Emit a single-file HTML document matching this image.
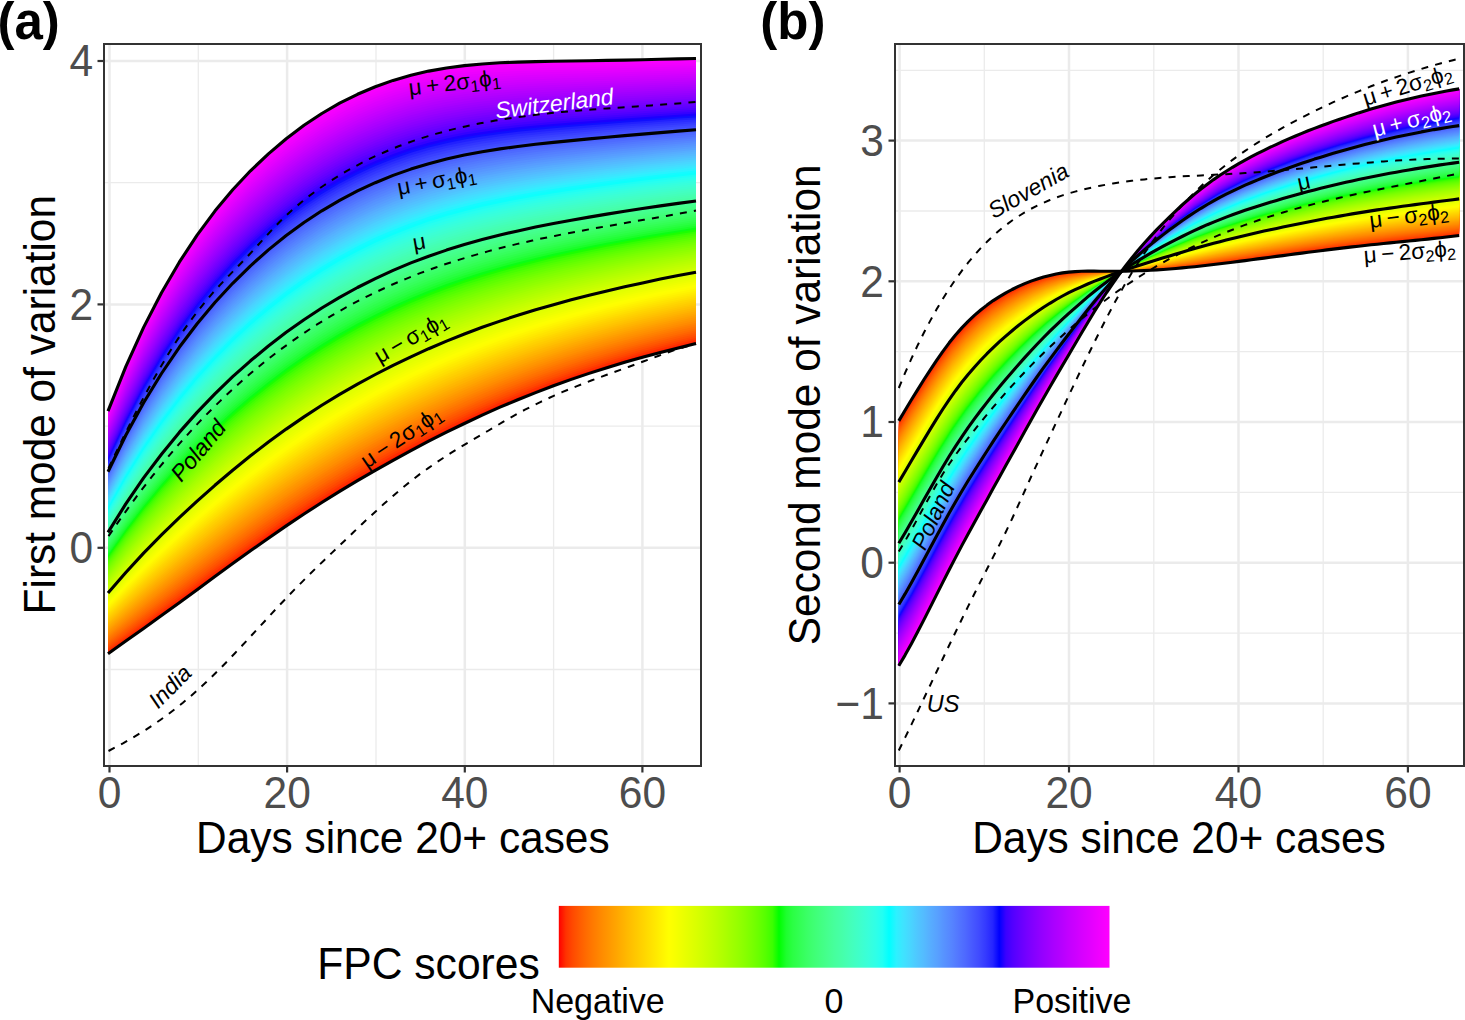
<!DOCTYPE html>
<html><head><meta charset="utf-8"><style>html,body{margin:0;padding:0;background:#fff;overflow:hidden;}svg{display:block;}text{font-family:"Liberation Sans", sans-serif;}</style></head><body>
<svg width="1465" height="1020" viewBox="0 0 1465 1020">
<rect width="1465" height="1020" fill="#fff"/>
<line x1="198.3" y1="44" x2="198.3" y2="766" stroke="#ebebeb" stroke-width="1.3"/>
<line x1="376.0" y1="44" x2="376.0" y2="766" stroke="#ebebeb" stroke-width="1.3"/>
<line x1="553.6" y1="44" x2="553.6" y2="766" stroke="#ebebeb" stroke-width="1.3"/>
<line x1="104" y1="669.5" x2="701" y2="669.5" stroke="#ebebeb" stroke-width="1.3"/>
<line x1="104" y1="426.1" x2="701" y2="426.1" stroke="#ebebeb" stroke-width="1.3"/>
<line x1="104" y1="182.7" x2="701" y2="182.7" stroke="#ebebeb" stroke-width="1.3"/>
<line x1="109.5" y1="44" x2="109.5" y2="766" stroke="#ebebeb" stroke-width="2.5"/>
<line x1="287.1" y1="44" x2="287.1" y2="766" stroke="#ebebeb" stroke-width="2.5"/>
<line x1="464.8" y1="44" x2="464.8" y2="766" stroke="#ebebeb" stroke-width="2.5"/>
<line x1="642.4" y1="44" x2="642.4" y2="766" stroke="#ebebeb" stroke-width="2.5"/>
<line x1="104" y1="547.8" x2="701" y2="547.8" stroke="#ebebeb" stroke-width="2.5"/>
<line x1="104" y1="304.4" x2="701" y2="304.4" stroke="#ebebeb" stroke-width="2.5"/>
<line x1="104" y1="61.0" x2="701" y2="61.0" stroke="#ebebeb" stroke-width="2.5"/>
<polygon points="108.0,653.7 125.8,641.1 143.6,628.4 161.5,615.6 179.3,602.7 197.1,589.7 214.9,576.6 232.7,563.6 250.5,550.8 268.4,538.2 286.2,525.9 304.0,514.0 321.8,502.5 339.6,491.4 357.5,480.7 375.3,470.4 393.1,460.3 410.9,450.6 428.7,441.2 446.5,432.2 464.4,423.5 482.2,415.1 500.0,407.2 517.8,399.7 535.6,392.6 553.5,385.8 571.3,379.4 589.1,373.4 606.9,367.7 624.7,362.3 642.5,357.2 660.4,352.4 678.2,347.9 696.0,343.6 696.0,58.5 678.2,58.9 660.4,59.3 642.5,59.7 624.7,60.1 606.9,60.4 589.1,60.7 571.3,61.0 553.5,61.2 535.6,61.6 517.8,62.1 500.0,62.8 482.2,64.0 464.4,65.6 446.5,68.0 428.7,71.1 410.9,75.2 393.1,80.4 375.3,86.8 357.5,94.3 339.6,103.2 321.8,113.5 304.0,125.3 286.2,138.7 268.4,153.9 250.5,170.8 232.7,189.8 214.9,211.1 197.1,235.1 179.3,262.2 161.5,292.8 143.6,327.4 125.8,366.7 108.0,411.1" fill="#ff1600"/>
<polygon points="108.0,652.0 125.8,639.2 143.6,626.4 161.5,613.4 179.3,600.4 197.1,587.3 214.9,574.2 232.7,561.2 250.5,548.3 268.4,535.6 286.2,523.3 304.0,511.4 321.8,500.0 339.6,488.9 357.5,478.2 375.3,467.8 393.1,457.8 410.9,448.1 428.7,438.8 446.5,429.7 464.4,421.1 482.2,412.8 500.0,404.9 517.8,397.4 535.6,390.4 553.5,383.7 571.3,377.3 589.1,371.3 606.9,365.7 624.7,360.3 642.5,355.3 660.4,350.5 678.2,346.0 696.0,341.7 696.0,58.5 678.2,58.9 660.4,59.3 642.5,59.7 624.7,60.1 606.9,60.4 589.1,60.7 571.3,61.0 553.5,61.2 535.6,61.6 517.8,62.1 500.0,62.8 482.2,64.0 464.4,65.6 446.5,68.0 428.7,71.1 410.9,75.2 393.1,80.4 375.3,86.8 357.5,94.3 339.6,103.2 321.8,113.5 304.0,125.3 286.2,138.7 268.4,153.9 250.5,170.8 232.7,189.8 214.9,211.1 197.1,235.1 179.3,262.2 161.5,292.8 143.6,327.4 125.8,366.7 108.0,411.1" fill="#ff2c00"/>
<polygon points="108.0,650.4 125.8,637.4 143.6,624.4 161.5,611.3 179.3,598.2 197.1,585.0 214.9,571.8 232.7,558.7 250.5,545.7 268.4,533.1 286.2,520.8 304.0,508.9 321.8,497.4 339.6,486.3 357.5,475.6 375.3,465.3 393.1,455.3 410.9,445.6 428.7,436.3 446.5,427.3 464.4,418.7 482.2,410.5 500.0,402.6 517.8,395.2 535.6,388.1 553.5,381.5 571.3,375.2 589.1,369.2 606.9,363.6 624.7,358.3 642.5,353.3 660.4,348.5 678.2,344.0 696.0,339.8 696.0,58.5 678.2,58.9 660.4,59.3 642.5,59.7 624.7,60.1 606.9,60.4 589.1,60.7 571.3,61.0 553.5,61.2 535.6,61.6 517.8,62.1 500.0,62.8 482.2,64.0 464.4,65.6 446.5,68.0 428.7,71.1 410.9,75.2 393.1,80.4 375.3,86.8 357.5,94.3 339.6,103.2 321.8,113.5 304.0,125.3 286.2,138.7 268.4,153.9 250.5,170.8 232.7,189.8 214.9,211.1 197.1,235.1 179.3,262.2 161.5,292.8 143.6,327.4 125.8,366.7 108.0,411.1" fill="#ff3b00"/>
<polygon points="108.0,648.8 125.8,635.6 143.6,622.4 161.5,609.1 179.3,595.9 197.1,582.6 214.9,569.3 232.7,556.2 250.5,543.2 268.4,530.5 286.2,518.2 304.0,506.3 321.8,494.8 339.6,483.7 357.5,473.0 375.3,462.7 393.1,452.7 410.9,443.1 428.7,433.8 446.5,424.9 464.4,416.3 482.2,408.1 500.0,400.3 517.8,392.9 535.6,385.9 553.5,379.3 571.3,373.1 589.1,367.2 606.9,361.6 624.7,356.3 642.5,351.3 660.4,346.6 678.2,342.1 696.0,337.9 696.0,58.5 678.2,58.9 660.4,59.3 642.5,59.7 624.7,60.1 606.9,60.4 589.1,60.7 571.3,61.0 553.5,61.2 535.6,61.6 517.8,62.1 500.0,62.8 482.2,64.0 464.4,65.6 446.5,68.0 428.7,71.1 410.9,75.2 393.1,80.4 375.3,86.8 357.5,94.3 339.6,103.2 321.8,113.5 304.0,125.3 286.2,138.7 268.4,153.9 250.5,170.8 232.7,189.8 214.9,211.1 197.1,235.1 179.3,262.2 161.5,292.8 143.6,327.4 125.8,366.7 108.0,411.1" fill="#ff4700"/>
<polygon points="108.0,647.2 125.8,633.8 143.6,620.4 161.5,607.0 179.3,593.6 197.1,580.2 214.9,566.9 232.7,553.7 250.5,540.7 268.4,527.9 286.2,515.6 304.0,503.7 321.8,492.2 339.6,481.1 357.5,470.4 375.3,460.1 393.1,450.2 410.9,440.6 428.7,431.4 446.5,422.5 464.4,413.9 482.2,405.8 500.0,398.0 517.8,390.7 535.6,383.7 553.5,377.2 571.3,370.9 589.1,365.1 606.9,359.5 624.7,354.3 642.5,349.3 660.4,344.6 678.2,340.2 696.0,336.0 696.0,58.5 678.2,58.9 660.4,59.3 642.5,59.7 624.7,60.1 606.9,60.4 589.1,60.7 571.3,61.0 553.5,61.2 535.6,61.6 517.8,62.1 500.0,62.8 482.2,64.0 464.4,65.6 446.5,68.0 428.7,71.1 410.9,75.2 393.1,80.4 375.3,86.8 357.5,94.3 339.6,103.2 321.8,113.5 304.0,125.3 286.2,138.7 268.4,153.9 250.5,170.8 232.7,189.8 214.9,211.1 197.1,235.1 179.3,262.2 161.5,292.8 143.6,327.4 125.8,366.7 108.0,411.1" fill="#ff5100"/>
<polygon points="108.0,645.6 125.8,631.9 143.6,618.3 161.5,604.8 179.3,591.3 197.1,577.9 214.9,564.5 232.7,551.2 250.5,538.1 268.4,525.4 286.2,513.0 304.0,501.1 321.8,489.6 339.6,478.5 357.5,467.8 375.3,457.6 393.1,447.7 410.9,438.1 428.7,428.9 446.5,420.0 464.4,411.5 482.2,403.4 500.0,395.7 517.8,388.4 535.6,381.5 553.5,375.0 571.3,368.8 589.1,363.0 606.9,357.5 624.7,352.2 642.5,347.3 660.4,342.7 678.2,338.2 696.0,334.1 696.0,58.5 678.2,58.9 660.4,59.3 642.5,59.7 624.7,60.1 606.9,60.4 589.1,60.7 571.3,61.0 553.5,61.2 535.6,61.6 517.8,62.1 500.0,62.8 482.2,64.0 464.4,65.6 446.5,68.0 428.7,71.1 410.9,75.2 393.1,80.4 375.3,86.8 357.5,94.3 339.6,103.2 321.8,113.5 304.0,125.3 286.2,138.7 268.4,153.9 250.5,170.8 232.7,189.8 214.9,211.1 197.1,235.1 179.3,262.2 161.5,292.8 143.6,327.4 125.8,366.7 108.0,411.1" fill="#ff5a00"/>
<polygon points="108.0,644.0 125.8,630.1 143.6,616.3 161.5,602.7 179.3,589.1 197.1,575.5 214.9,562.0 232.7,548.7 250.5,535.6 268.4,522.8 286.2,510.4 304.0,498.5 321.8,487.0 339.6,475.9 357.5,465.3 375.3,455.0 393.1,445.1 410.9,435.6 428.7,426.4 446.5,417.6 464.4,409.1 482.2,401.1 500.0,393.4 517.8,386.2 535.6,379.3 553.5,372.8 571.3,366.7 589.1,360.9 606.9,355.4 624.7,350.2 642.5,345.3 660.4,340.7 678.2,336.3 696.0,332.2 696.0,58.5 678.2,58.9 660.4,59.3 642.5,59.7 624.7,60.1 606.9,60.4 589.1,60.7 571.3,61.0 553.5,61.2 535.6,61.6 517.8,62.1 500.0,62.8 482.2,64.0 464.4,65.6 446.5,68.0 428.7,71.1 410.9,75.2 393.1,80.4 375.3,86.8 357.5,94.3 339.6,103.2 321.8,113.5 304.0,125.3 286.2,138.7 268.4,153.9 250.5,170.8 232.7,189.8 214.9,211.1 197.1,235.1 179.3,262.2 161.5,292.8 143.6,327.4 125.8,366.7 108.0,411.1" fill="#ff6300"/>
<polygon points="108.0,642.3 125.8,628.3 143.6,614.3 161.5,600.5 179.3,586.8 197.1,573.1 214.9,559.6 232.7,546.2 250.5,533.1 268.4,520.3 286.2,507.9 304.0,495.9 321.8,484.4 339.6,473.3 357.5,462.7 375.3,452.5 393.1,442.6 410.9,433.1 428.7,424.0 446.5,415.2 464.4,406.8 482.2,398.8 500.0,391.1 517.8,383.9 535.6,377.1 553.5,370.7 571.3,364.6 589.1,358.8 606.9,353.4 624.7,348.2 642.5,343.4 660.4,338.7 678.2,334.4 696.0,330.3 696.0,58.5 678.2,58.9 660.4,59.3 642.5,59.7 624.7,60.1 606.9,60.4 589.1,60.7 571.3,61.0 553.5,61.2 535.6,61.6 517.8,62.1 500.0,62.8 482.2,64.0 464.4,65.6 446.5,68.0 428.7,71.1 410.9,75.2 393.1,80.4 375.3,86.8 357.5,94.3 339.6,103.2 321.8,113.5 304.0,125.3 286.2,138.7 268.4,153.9 250.5,170.8 232.7,189.8 214.9,211.1 197.1,235.1 179.3,262.2 161.5,292.8 143.6,327.4 125.8,366.7 108.0,411.1" fill="#ff6c00"/>
<polygon points="108.0,640.7 125.8,626.4 143.6,612.3 161.5,598.4 179.3,584.5 197.1,570.8 214.9,557.1 232.7,543.7 250.5,530.5 268.4,517.7 286.2,505.3 304.0,493.3 321.8,481.8 339.6,470.7 357.5,460.1 375.3,449.9 393.1,440.1 410.9,430.6 428.7,421.5 446.5,412.7 464.4,404.4 482.2,396.4 500.0,388.8 517.8,381.7 535.6,374.9 553.5,368.5 571.3,362.5 589.1,356.7 606.9,351.3 624.7,346.2 642.5,341.4 660.4,336.8 678.2,332.5 696.0,328.4 696.0,58.5 678.2,58.9 660.4,59.3 642.5,59.7 624.7,60.1 606.9,60.4 589.1,60.7 571.3,61.0 553.5,61.2 535.6,61.6 517.8,62.1 500.0,62.8 482.2,64.0 464.4,65.6 446.5,68.0 428.7,71.1 410.9,75.2 393.1,80.4 375.3,86.8 357.5,94.3 339.6,103.2 321.8,113.5 304.0,125.3 286.2,138.7 268.4,153.9 250.5,170.8 232.7,189.8 214.9,211.1 197.1,235.1 179.3,262.2 161.5,292.8 143.6,327.4 125.8,366.7 108.0,411.1" fill="#ff7300"/>
<polygon points="108.0,639.1 125.8,624.6 143.6,610.3 161.5,596.2 179.3,582.3 197.1,568.4 214.9,554.7 232.7,541.2 250.5,528.0 268.4,515.1 286.2,502.7 304.0,490.7 321.8,479.2 339.6,468.2 357.5,457.5 375.3,447.3 393.1,437.5 410.9,428.1 428.7,419.0 446.5,410.3 464.4,402.0 482.2,394.1 500.0,386.6 517.8,379.4 535.6,372.7 553.5,366.3 571.3,360.3 589.1,354.6 606.9,349.3 624.7,344.2 642.5,339.4 660.4,334.8 678.2,330.5 696.0,326.5 696.0,58.5 678.2,58.9 660.4,59.3 642.5,59.7 624.7,60.1 606.9,60.4 589.1,60.7 571.3,61.0 553.5,61.2 535.6,61.6 517.8,62.1 500.0,62.8 482.2,64.0 464.4,65.6 446.5,68.0 428.7,71.1 410.9,75.2 393.1,80.4 375.3,86.8 357.5,94.3 339.6,103.2 321.8,113.5 304.0,125.3 286.2,138.7 268.4,153.9 250.5,170.8 232.7,189.8 214.9,211.1 197.1,235.1 179.3,262.2 161.5,292.8 143.6,327.4 125.8,366.7 108.0,411.1" fill="#ff7b00"/>
<polygon points="108.0,637.5 125.8,622.8 143.6,608.3 161.5,594.1 179.3,580.0 197.1,566.1 214.9,552.3 232.7,538.7 250.5,525.5 268.4,512.6 286.2,500.1 304.0,488.1 321.8,476.6 339.6,465.6 357.5,455.0 375.3,444.8 393.1,435.0 410.9,425.6 428.7,416.6 446.5,407.9 464.4,399.6 482.2,391.7 500.0,384.3 517.8,377.2 535.6,370.5 553.5,364.2 571.3,358.2 589.1,352.6 606.9,347.2 624.7,342.2 642.5,337.4 660.4,332.9 678.2,328.6 696.0,324.6 696.0,58.5 678.2,58.9 660.4,59.3 642.5,59.7 624.7,60.1 606.9,60.4 589.1,60.7 571.3,61.0 553.5,61.2 535.6,61.6 517.8,62.1 500.0,62.8 482.2,64.0 464.4,65.6 446.5,68.0 428.7,71.1 410.9,75.2 393.1,80.4 375.3,86.8 357.5,94.3 339.6,103.2 321.8,113.5 304.0,125.3 286.2,138.7 268.4,153.9 250.5,170.8 232.7,189.8 214.9,211.1 197.1,235.1 179.3,262.2 161.5,292.8 143.6,327.4 125.8,366.7 108.0,411.1" fill="#ff8200"/>
<polygon points="108.0,635.9 125.8,620.9 143.6,606.3 161.5,591.9 179.3,577.7 197.1,563.7 214.9,549.8 232.7,536.2 250.5,522.9 268.4,510.0 286.2,497.5 304.0,485.5 321.8,474.0 339.6,463.0 357.5,452.4 375.3,442.2 393.1,432.5 410.9,423.1 428.7,414.1 446.5,405.5 464.4,397.2 482.2,389.4 500.0,382.0 517.8,374.9 535.6,368.3 553.5,362.0 571.3,356.1 589.1,350.5 606.9,345.2 624.7,340.2 642.5,335.4 660.4,330.9 678.2,326.7 696.0,322.7 696.0,58.5 678.2,58.9 660.4,59.3 642.5,59.7 624.7,60.1 606.9,60.4 589.1,60.7 571.3,61.0 553.5,61.2 535.6,61.6 517.8,62.1 500.0,62.8 482.2,64.0 464.4,65.6 446.5,68.0 428.7,71.1 410.9,75.2 393.1,80.4 375.3,86.8 357.5,94.3 339.6,103.2 321.8,113.5 304.0,125.3 286.2,138.7 268.4,153.9 250.5,170.8 232.7,189.8 214.9,211.1 197.1,235.1 179.3,262.2 161.5,292.8 143.6,327.4 125.8,366.7 108.0,411.1" fill="#ff8a00"/>
<polygon points="108.0,634.3 125.8,619.1 143.6,604.3 161.5,589.8 179.3,575.5 197.1,561.3 214.9,547.4 232.7,533.7 250.5,520.4 268.4,507.4 286.2,495.0 304.0,482.9 321.8,471.4 339.6,460.4 357.5,449.8 375.3,439.7 393.1,429.9 410.9,420.6 428.7,411.6 446.5,403.0 464.4,394.8 482.2,387.0 500.0,379.7 517.8,372.7 535.6,366.1 553.5,359.8 571.3,354.0 589.1,348.4 606.9,343.1 624.7,338.1 642.5,333.4 660.4,329.0 678.2,324.8 696.0,320.8 696.0,58.5 678.2,58.9 660.4,59.3 642.5,59.7 624.7,60.1 606.9,60.4 589.1,60.7 571.3,61.0 553.5,61.2 535.6,61.6 517.8,62.1 500.0,62.8 482.2,64.0 464.4,65.6 446.5,68.0 428.7,71.1 410.9,75.2 393.1,80.4 375.3,86.8 357.5,94.3 339.6,103.2 321.8,113.5 304.0,125.3 286.2,138.7 268.4,153.9 250.5,170.8 232.7,189.8 214.9,211.1 197.1,235.1 179.3,262.2 161.5,292.8 143.6,327.4 125.8,366.7 108.0,411.1" fill="#ff9100"/>
<polygon points="108.0,632.6 125.8,617.3 143.6,602.3 161.5,587.6 179.3,573.2 197.1,559.0 214.9,545.0 232.7,531.2 250.5,517.9 268.4,504.9 286.2,492.4 304.0,480.3 321.8,468.8 339.6,457.8 357.5,447.2 375.3,437.1 393.1,427.4 410.9,418.1 428.7,409.2 446.5,400.6 464.4,392.4 482.2,384.7 500.0,377.4 517.8,370.4 535.6,363.9 553.5,357.7 571.3,351.8 589.1,346.3 606.9,341.1 624.7,336.1 642.5,331.4 660.4,327.0 678.2,322.8 696.0,318.9 696.0,58.5 678.2,58.9 660.4,59.3 642.5,59.7 624.7,60.1 606.9,60.4 589.1,60.7 571.3,61.0 553.5,61.2 535.6,61.6 517.8,62.1 500.0,62.8 482.2,64.0 464.4,65.6 446.5,68.0 428.7,71.1 410.9,75.2 393.1,80.4 375.3,86.8 357.5,94.3 339.6,103.2 321.8,113.5 304.0,125.3 286.2,138.7 268.4,153.9 250.5,170.8 232.7,189.8 214.9,211.1 197.1,235.1 179.3,262.2 161.5,292.8 143.6,327.4 125.8,366.7 108.0,411.1" fill="#ff9700"/>
<polygon points="108.0,631.0 125.8,615.5 143.6,600.3 161.5,585.5 179.3,570.9 197.1,556.6 214.9,542.5 232.7,528.8 250.5,515.3 268.4,502.3 286.2,489.8 304.0,477.8 321.8,466.2 339.6,455.2 357.5,444.7 375.3,434.6 393.1,424.9 410.9,415.6 428.7,406.7 446.5,398.2 464.4,390.1 482.2,382.4 500.0,375.1 517.8,368.2 535.6,361.7 553.5,355.5 571.3,349.7 589.1,344.2 606.9,339.0 624.7,334.1 642.5,329.5 660.4,325.1 678.2,320.9 696.0,317.0 696.0,58.5 678.2,58.9 660.4,59.3 642.5,59.7 624.7,60.1 606.9,60.4 589.1,60.7 571.3,61.0 553.5,61.2 535.6,61.6 517.8,62.1 500.0,62.8 482.2,64.0 464.4,65.6 446.5,68.0 428.7,71.1 410.9,75.2 393.1,80.4 375.3,86.8 357.5,94.3 339.6,103.2 321.8,113.5 304.0,125.3 286.2,138.7 268.4,153.9 250.5,170.8 232.7,189.8 214.9,211.1 197.1,235.1 179.3,262.2 161.5,292.8 143.6,327.4 125.8,366.7 108.0,411.1" fill="#ff9e00"/>
<polygon points="108.0,629.4 125.8,613.6 143.6,598.3 161.5,583.3 179.3,568.6 197.1,554.2 214.9,540.1 232.7,526.3 250.5,512.8 268.4,499.8 286.2,487.2 304.0,475.2 321.8,463.6 339.6,452.6 357.5,442.1 375.3,432.0 393.1,422.4 410.9,413.1 428.7,404.2 446.5,395.8 464.4,387.7 482.2,380.0 500.0,372.8 517.8,365.9 535.6,359.5 553.5,353.4 571.3,347.6 589.1,342.1 606.9,337.0 624.7,332.1 642.5,327.5 660.4,323.1 678.2,319.0 696.0,315.1 696.0,58.5 678.2,58.9 660.4,59.3 642.5,59.7 624.7,60.1 606.9,60.4 589.1,60.7 571.3,61.0 553.5,61.2 535.6,61.6 517.8,62.1 500.0,62.8 482.2,64.0 464.4,65.6 446.5,68.0 428.7,71.1 410.9,75.2 393.1,80.4 375.3,86.8 357.5,94.3 339.6,103.2 321.8,113.5 304.0,125.3 286.2,138.7 268.4,153.9 250.5,170.8 232.7,189.8 214.9,211.1 197.1,235.1 179.3,262.2 161.5,292.8 143.6,327.4 125.8,366.7 108.0,411.1" fill="#ffa500"/>
<polygon points="108.0,627.8 125.8,611.8 143.6,596.3 161.5,581.2 179.3,566.4 197.1,551.9 214.9,537.7 232.7,523.8 250.5,510.3 268.4,497.2 286.2,484.6 304.0,472.6 321.8,461.0 339.6,450.0 357.5,439.5 375.3,429.4 393.1,419.8 410.9,410.6 428.7,401.8 446.5,393.3 464.4,385.3 482.2,377.7 500.0,370.5 517.8,363.7 535.6,357.3 553.5,351.2 571.3,345.5 589.1,340.1 606.9,334.9 624.7,330.1 642.5,325.5 660.4,321.2 678.2,317.1 696.0,313.2 696.0,58.5 678.2,58.9 660.4,59.3 642.5,59.7 624.7,60.1 606.9,60.4 589.1,60.7 571.3,61.0 553.5,61.2 535.6,61.6 517.8,62.1 500.0,62.8 482.2,64.0 464.4,65.6 446.5,68.0 428.7,71.1 410.9,75.2 393.1,80.4 375.3,86.8 357.5,94.3 339.6,103.2 321.8,113.5 304.0,125.3 286.2,138.7 268.4,153.9 250.5,170.8 232.7,189.8 214.9,211.1 197.1,235.1 179.3,262.2 161.5,292.8 143.6,327.4 125.8,366.7 108.0,411.1" fill="#ffab00"/>
<polygon points="108.0,626.2 125.8,610.0 143.6,594.3 161.5,579.0 179.3,564.1 197.1,549.5 214.9,535.2 232.7,521.3 250.5,507.7 268.4,494.6 286.2,482.0 304.0,470.0 321.8,458.5 339.6,447.4 357.5,436.9 375.3,426.9 393.1,417.3 410.9,408.1 428.7,399.3 446.5,390.9 464.4,382.9 482.2,375.3 500.0,368.2 517.8,361.4 535.6,355.0 553.5,349.0 571.3,343.3 589.1,338.0 606.9,332.9 624.7,328.1 642.5,323.5 660.4,319.2 678.2,315.1 696.0,311.3 696.0,58.5 678.2,58.9 660.4,59.3 642.5,59.7 624.7,60.1 606.9,60.4 589.1,60.7 571.3,61.0 553.5,61.2 535.6,61.6 517.8,62.1 500.0,62.8 482.2,64.0 464.4,65.6 446.5,68.0 428.7,71.1 410.9,75.2 393.1,80.4 375.3,86.8 357.5,94.3 339.6,103.2 321.8,113.5 304.0,125.3 286.2,138.7 268.4,153.9 250.5,170.8 232.7,189.8 214.9,211.1 197.1,235.1 179.3,262.2 161.5,292.8 143.6,327.4 125.8,366.7 108.0,411.1" fill="#ffb200"/>
<polygon points="108.0,624.5 125.8,608.1 143.6,592.3 161.5,576.8 179.3,561.8 197.1,547.1 214.9,532.8 232.7,518.8 250.5,505.2 268.4,492.1 286.2,479.5 304.0,467.4 321.8,455.9 339.6,444.9 357.5,434.4 375.3,424.3 393.1,414.8 410.9,405.6 428.7,396.8 446.5,388.5 464.4,380.5 482.2,373.0 500.0,365.9 517.8,359.2 535.6,352.8 553.5,346.9 571.3,341.2 589.1,335.9 606.9,330.8 624.7,326.1 642.5,321.5 660.4,317.3 678.2,313.2 696.0,309.4 696.0,58.5 678.2,58.9 660.4,59.3 642.5,59.7 624.7,60.1 606.9,60.4 589.1,60.7 571.3,61.0 553.5,61.2 535.6,61.6 517.8,62.1 500.0,62.8 482.2,64.0 464.4,65.6 446.5,68.0 428.7,71.1 410.9,75.2 393.1,80.4 375.3,86.8 357.5,94.3 339.6,103.2 321.8,113.5 304.0,125.3 286.2,138.7 268.4,153.9 250.5,170.8 232.7,189.8 214.9,211.1 197.1,235.1 179.3,262.2 161.5,292.8 143.6,327.4 125.8,366.7 108.0,411.1" fill="#ffb800"/>
<polygon points="108.0,622.9 125.8,606.3 143.6,590.3 161.5,574.7 179.3,559.6 197.1,544.8 214.9,530.3 232.7,516.3 250.5,502.7 268.4,489.5 286.2,476.9 304.0,464.8 321.8,453.3 339.6,442.3 357.5,431.8 375.3,421.8 393.1,412.2 410.9,403.1 428.7,394.4 446.5,386.0 464.4,378.1 482.2,370.7 500.0,363.6 517.8,356.9 535.6,350.6 553.5,344.7 571.3,339.1 589.1,333.8 606.9,328.8 624.7,324.0 642.5,319.5 660.4,315.3 678.2,311.3 696.0,307.5 696.0,58.5 678.2,58.9 660.4,59.3 642.5,59.7 624.7,60.1 606.9,60.4 589.1,60.7 571.3,61.0 553.5,61.2 535.6,61.6 517.8,62.1 500.0,62.8 482.2,64.0 464.4,65.6 446.5,68.0 428.7,71.1 410.9,75.2 393.1,80.4 375.3,86.8 357.5,94.3 339.6,103.2 321.8,113.5 304.0,125.3 286.2,138.7 268.4,153.9 250.5,170.8 232.7,189.8 214.9,211.1 197.1,235.1 179.3,262.2 161.5,292.8 143.6,327.4 125.8,366.7 108.0,411.1" fill="#ffbf00"/>
<polygon points="108.0,621.3 125.8,604.5 143.6,588.3 161.5,572.5 179.3,557.3 197.1,542.4 214.9,527.9 232.7,513.8 250.5,500.1 268.4,486.9 286.2,474.3 304.0,462.2 321.8,450.7 339.6,439.7 357.5,429.2 375.3,419.2 393.1,409.7 410.9,400.6 428.7,391.9 446.5,383.6 464.4,375.8 482.2,368.3 500.0,361.3 517.8,354.7 535.6,348.4 553.5,342.5 571.3,337.0 589.1,331.7 606.9,326.7 624.7,322.0 642.5,317.6 660.4,313.3 678.2,309.3 696.0,305.6 696.0,58.5 678.2,58.9 660.4,59.3 642.5,59.7 624.7,60.1 606.9,60.4 589.1,60.7 571.3,61.0 553.5,61.2 535.6,61.6 517.8,62.1 500.0,62.8 482.2,64.0 464.4,65.6 446.5,68.0 428.7,71.1 410.9,75.2 393.1,80.4 375.3,86.8 357.5,94.3 339.6,103.2 321.8,113.5 304.0,125.3 286.2,138.7 268.4,153.9 250.5,170.8 232.7,189.8 214.9,211.1 197.1,235.1 179.3,262.2 161.5,292.8 143.6,327.4 125.8,366.7 108.0,411.1" fill="#ffc500"/>
<polygon points="108.0,619.7 125.8,602.7 143.6,586.2 161.5,570.4 179.3,555.0 197.1,540.1 214.9,525.5 232.7,511.3 250.5,497.6 268.4,484.4 286.2,471.7 304.0,459.6 321.8,448.1 339.6,437.1 357.5,426.6 375.3,416.7 393.1,407.2 410.9,398.1 428.7,389.4 446.5,381.2 464.4,373.4 482.2,366.0 500.0,359.0 517.8,352.4 535.6,346.2 553.5,340.4 571.3,334.9 589.1,329.6 606.9,324.7 624.7,320.0 642.5,315.6 660.4,311.4 678.2,307.4 696.0,303.7 696.0,58.5 678.2,58.9 660.4,59.3 642.5,59.7 624.7,60.1 606.9,60.4 589.1,60.7 571.3,61.0 553.5,61.2 535.6,61.6 517.8,62.1 500.0,62.8 482.2,64.0 464.4,65.6 446.5,68.0 428.7,71.1 410.9,75.2 393.1,80.4 375.3,86.8 357.5,94.3 339.6,103.2 321.8,113.5 304.0,125.3 286.2,138.7 268.4,153.9 250.5,170.8 232.7,189.8 214.9,211.1 197.1,235.1 179.3,262.2 161.5,292.8 143.6,327.4 125.8,366.7 108.0,411.1" fill="#ffcb00"/>
<polygon points="108.0,618.1 125.8,600.8 143.6,584.2 161.5,568.2 179.3,552.8 197.1,537.7 214.9,523.0 232.7,508.8 250.5,495.1 268.4,481.8 286.2,469.1 304.0,457.0 321.8,445.5 339.6,434.5 357.5,424.1 375.3,414.1 393.1,404.6 410.9,395.6 428.7,387.0 446.5,378.8 464.4,371.0 482.2,363.6 500.0,356.7 517.8,350.2 535.6,344.0 553.5,338.2 571.3,332.7 589.1,327.5 606.9,322.6 624.7,318.0 642.5,313.6 660.4,309.4 678.2,305.5 696.0,301.8 696.0,58.5 678.2,58.9 660.4,59.3 642.5,59.7 624.7,60.1 606.9,60.4 589.1,60.7 571.3,61.0 553.5,61.2 535.6,61.6 517.8,62.1 500.0,62.8 482.2,64.0 464.4,65.6 446.5,68.0 428.7,71.1 410.9,75.2 393.1,80.4 375.3,86.8 357.5,94.3 339.6,103.2 321.8,113.5 304.0,125.3 286.2,138.7 268.4,153.9 250.5,170.8 232.7,189.8 214.9,211.1 197.1,235.1 179.3,262.2 161.5,292.8 143.6,327.4 125.8,366.7 108.0,411.1" fill="#ffd100"/>
<polygon points="108.0,616.5 125.8,599.0 143.6,582.2 161.5,566.1 179.3,550.5 197.1,535.3 214.9,520.6 232.7,506.3 250.5,492.5 268.4,479.3 286.2,466.6 304.0,454.4 321.8,442.9 339.6,431.9 357.5,421.5 375.3,411.5 393.1,402.1 410.9,393.1 428.7,384.5 446.5,376.3 464.4,368.6 482.2,361.3 500.0,354.4 517.8,347.9 535.6,341.8 553.5,336.0 571.3,330.6 589.1,325.5 606.9,320.6 624.7,316.0 642.5,311.6 660.4,307.5 678.2,303.6 696.0,299.9 696.0,58.5 678.2,58.9 660.4,59.3 642.5,59.7 624.7,60.1 606.9,60.4 589.1,60.7 571.3,61.0 553.5,61.2 535.6,61.6 517.8,62.1 500.0,62.8 482.2,64.0 464.4,65.6 446.5,68.0 428.7,71.1 410.9,75.2 393.1,80.4 375.3,86.8 357.5,94.3 339.6,103.2 321.8,113.5 304.0,125.3 286.2,138.7 268.4,153.9 250.5,170.8 232.7,189.8 214.9,211.1 197.1,235.1 179.3,262.2 161.5,292.8 143.6,327.4 125.8,366.7 108.0,411.1" fill="#ffd700"/>
<polygon points="108.0,614.8 125.8,597.2 143.6,580.2 161.5,563.9 179.3,548.2 197.1,533.0 214.9,518.2 232.7,503.8 250.5,490.0 268.4,476.7 286.2,464.0 304.0,451.8 321.8,440.3 339.6,429.3 357.5,418.9 375.3,409.0 393.1,399.6 410.9,390.6 428.7,382.0 446.5,373.9 464.4,366.2 482.2,359.0 500.0,352.1 517.8,345.7 535.6,339.6 553.5,333.9 571.3,328.5 589.1,323.4 606.9,318.5 624.7,314.0 642.5,309.6 660.4,305.5 678.2,301.6 696.0,298.0 696.0,58.5 678.2,58.9 660.4,59.3 642.5,59.7 624.7,60.1 606.9,60.4 589.1,60.7 571.3,61.0 553.5,61.2 535.6,61.6 517.8,62.1 500.0,62.8 482.2,64.0 464.4,65.6 446.5,68.0 428.7,71.1 410.9,75.2 393.1,80.4 375.3,86.8 357.5,94.3 339.6,103.2 321.8,113.5 304.0,125.3 286.2,138.7 268.4,153.9 250.5,170.8 232.7,189.8 214.9,211.1 197.1,235.1 179.3,262.2 161.5,292.8 143.6,327.4 125.8,366.7 108.0,411.1" fill="#ffde00"/>
<polygon points="108.0,613.2 125.8,595.3 143.6,578.2 161.5,561.8 179.3,545.9 197.1,530.6 214.9,515.7 232.7,501.3 250.5,487.5 268.4,474.1 286.2,461.4 304.0,449.3 321.8,437.7 339.6,426.7 357.5,416.3 375.3,406.4 393.1,397.0 410.9,388.1 428.7,379.6 446.5,371.5 464.4,363.8 482.2,356.6 500.0,349.8 517.8,343.4 535.6,337.4 553.5,331.7 571.3,326.4 589.1,321.3 606.9,316.5 624.7,311.9 642.5,307.6 660.4,303.6 678.2,299.7 696.0,296.1 696.0,58.5 678.2,58.9 660.4,59.3 642.5,59.7 624.7,60.1 606.9,60.4 589.1,60.7 571.3,61.0 553.5,61.2 535.6,61.6 517.8,62.1 500.0,62.8 482.2,64.0 464.4,65.6 446.5,68.0 428.7,71.1 410.9,75.2 393.1,80.4 375.3,86.8 357.5,94.3 339.6,103.2 321.8,113.5 304.0,125.3 286.2,138.7 268.4,153.9 250.5,170.8 232.7,189.8 214.9,211.1 197.1,235.1 179.3,262.2 161.5,292.8 143.6,327.4 125.8,366.7 108.0,411.1" fill="#ffe400"/>
<polygon points="108.0,611.6 125.8,593.5 143.6,576.2 161.5,559.6 179.3,543.7 197.1,528.2 214.9,513.3 232.7,498.8 250.5,484.9 268.4,471.6 286.2,458.8 304.0,446.7 321.8,435.1 339.6,424.2 357.5,413.8 375.3,403.9 393.1,394.5 410.9,385.6 428.7,377.1 446.5,369.0 464.4,361.4 482.2,354.3 500.0,347.5 517.8,341.2 535.6,335.2 553.5,329.6 571.3,324.2 589.1,319.2 606.9,314.4 624.7,309.9 642.5,305.7 660.4,301.6 678.2,297.8 696.0,294.2 696.0,58.5 678.2,58.9 660.4,59.3 642.5,59.7 624.7,60.1 606.9,60.4 589.1,60.7 571.3,61.0 553.5,61.2 535.6,61.6 517.8,62.1 500.0,62.8 482.2,64.0 464.4,65.6 446.5,68.0 428.7,71.1 410.9,75.2 393.1,80.4 375.3,86.8 357.5,94.3 339.6,103.2 321.8,113.5 304.0,125.3 286.2,138.7 268.4,153.9 250.5,170.8 232.7,189.8 214.9,211.1 197.1,235.1 179.3,262.2 161.5,292.8 143.6,327.4 125.8,366.7 108.0,411.1" fill="#ffea00"/>
<polygon points="108.0,610.0 125.8,591.7 143.6,574.2 161.5,557.5 179.3,541.4 197.1,525.9 214.9,510.9 232.7,496.4 250.5,482.4 268.4,469.0 286.2,456.2 304.0,444.1 321.8,432.5 339.6,421.6 357.5,411.2 375.3,401.3 393.1,392.0 410.9,383.1 428.7,374.6 446.5,366.6 464.4,359.1 482.2,351.9 500.0,345.2 517.8,338.9 535.6,333.0 553.5,327.4 571.3,322.1 589.1,317.1 606.9,312.4 624.7,307.9 642.5,303.7 660.4,299.7 678.2,295.9 696.0,292.3 696.0,58.5 678.2,58.9 660.4,59.3 642.5,59.7 624.7,60.1 606.9,60.4 589.1,60.7 571.3,61.0 553.5,61.2 535.6,61.6 517.8,62.1 500.0,62.8 482.2,64.0 464.4,65.6 446.5,68.0 428.7,71.1 410.9,75.2 393.1,80.4 375.3,86.8 357.5,94.3 339.6,103.2 321.8,113.5 304.0,125.3 286.2,138.7 268.4,153.9 250.5,170.8 232.7,189.8 214.9,211.1 197.1,235.1 179.3,262.2 161.5,292.8 143.6,327.4 125.8,366.7 108.0,411.1" fill="#fff000"/>
<polygon points="108.0,608.4 125.8,589.9 143.6,572.2 161.5,555.3 179.3,539.1 197.1,523.5 214.9,508.4 232.7,493.9 250.5,479.9 268.4,466.4 286.2,453.7 304.0,441.5 321.8,429.9 339.6,419.0 357.5,408.6 375.3,398.8 393.1,389.4 410.9,380.6 428.7,372.2 446.5,364.2 464.4,356.7 482.2,349.6 500.0,342.9 517.8,336.7 535.6,330.8 553.5,325.2 571.3,320.0 589.1,315.0 606.9,310.3 624.7,305.9 642.5,301.7 660.4,297.7 678.2,293.9 696.0,290.4 696.0,58.5 678.2,58.9 660.4,59.3 642.5,59.7 624.7,60.1 606.9,60.4 589.1,60.7 571.3,61.0 553.5,61.2 535.6,61.6 517.8,62.1 500.0,62.8 482.2,64.0 464.4,65.6 446.5,68.0 428.7,71.1 410.9,75.2 393.1,80.4 375.3,86.8 357.5,94.3 339.6,103.2 321.8,113.5 304.0,125.3 286.2,138.7 268.4,153.9 250.5,170.8 232.7,189.8 214.9,211.1 197.1,235.1 179.3,262.2 161.5,292.8 143.6,327.4 125.8,366.7 108.0,411.1" fill="#fff600"/>
<polygon points="108.0,606.8 125.8,588.0 143.6,570.2 161.5,553.2 179.3,536.9 197.1,521.1 214.9,506.0 232.7,491.4 250.5,477.3 268.4,463.9 286.2,451.1 304.0,438.9 321.8,427.3 339.6,416.4 357.5,406.0 375.3,396.2 393.1,386.9 410.9,378.1 428.7,369.7 446.5,361.8 464.4,354.3 482.2,347.2 500.0,340.6 517.8,334.4 535.6,328.6 553.5,323.1 571.3,317.9 589.1,313.0 606.9,308.3 624.7,303.9 642.5,299.7 660.4,295.8 678.2,292.0 696.0,288.5 696.0,58.5 678.2,58.9 660.4,59.3 642.5,59.7 624.7,60.1 606.9,60.4 589.1,60.7 571.3,61.0 553.5,61.2 535.6,61.6 517.8,62.1 500.0,62.8 482.2,64.0 464.4,65.6 446.5,68.0 428.7,71.1 410.9,75.2 393.1,80.4 375.3,86.8 357.5,94.3 339.6,103.2 321.8,113.5 304.0,125.3 286.2,138.7 268.4,153.9 250.5,170.8 232.7,189.8 214.9,211.1 197.1,235.1 179.3,262.2 161.5,292.8 143.6,327.4 125.8,366.7 108.0,411.1" fill="#fffc00"/>
<polygon points="108.0,605.1 125.8,586.2 143.6,568.2 161.5,551.0 179.3,534.6 197.1,518.8 214.9,503.5 232.7,488.9 250.5,474.8 268.4,461.3 286.2,448.5 304.0,436.3 321.8,424.7 339.6,413.8 357.5,403.4 375.3,393.6 393.1,384.4 410.9,375.6 428.7,367.2 446.5,359.3 464.4,351.9 482.2,344.9 500.0,338.3 517.8,332.2 535.6,326.4 553.5,320.9 571.3,315.7 589.1,310.9 606.9,306.2 624.7,301.9 642.5,297.7 660.4,293.8 678.2,290.1 696.0,286.6 696.0,58.5 678.2,58.9 660.4,59.3 642.5,59.7 624.7,60.1 606.9,60.4 589.1,60.7 571.3,61.0 553.5,61.2 535.6,61.6 517.8,62.1 500.0,62.8 482.2,64.0 464.4,65.6 446.5,68.0 428.7,71.1 410.9,75.2 393.1,80.4 375.3,86.8 357.5,94.3 339.6,103.2 321.8,113.5 304.0,125.3 286.2,138.7 268.4,153.9 250.5,170.8 232.7,189.8 214.9,211.1 197.1,235.1 179.3,262.2 161.5,292.8 143.6,327.4 125.8,366.7 108.0,411.1" fill="#fdff00"/>
<polygon points="108.0,603.5 125.8,584.4 143.6,566.2 161.5,548.9 179.3,532.3 197.1,516.4 214.9,501.1 232.7,486.4 250.5,472.3 268.4,458.8 286.2,445.9 304.0,433.7 321.8,422.1 339.6,411.2 357.5,400.9 375.3,391.1 393.1,381.8 410.9,373.1 428.7,364.8 446.5,356.9 464.4,349.5 482.2,342.6 500.0,336.0 517.8,329.9 535.6,324.2 553.5,318.7 571.3,313.6 589.1,308.8 606.9,304.2 624.7,299.9 642.5,295.7 660.4,291.8 678.2,288.2 696.0,284.7 696.0,58.5 678.2,58.9 660.4,59.3 642.5,59.7 624.7,60.1 606.9,60.4 589.1,60.7 571.3,61.0 553.5,61.2 535.6,61.6 517.8,62.1 500.0,62.8 482.2,64.0 464.4,65.6 446.5,68.0 428.7,71.1 410.9,75.2 393.1,80.4 375.3,86.8 357.5,94.3 339.6,103.2 321.8,113.5 304.0,125.3 286.2,138.7 268.4,153.9 250.5,170.8 232.7,189.8 214.9,211.1 197.1,235.1 179.3,262.2 161.5,292.8 143.6,327.4 125.8,366.7 108.0,411.1" fill="#f8ff00"/>
<polygon points="108.0,601.9 125.8,582.5 143.6,564.2 161.5,546.7 179.3,530.1 197.1,514.1 214.9,498.7 232.7,483.9 250.5,469.7 268.4,456.2 286.2,443.3 304.0,431.1 321.8,419.6 339.6,408.6 357.5,398.3 375.3,388.5 393.1,379.3 410.9,370.6 428.7,362.3 446.5,354.5 464.4,347.1 482.2,340.2 500.0,333.7 517.8,327.7 535.6,321.9 553.5,316.6 571.3,311.5 589.1,306.7 606.9,302.2 624.7,297.8 642.5,293.8 660.4,289.9 678.2,286.2 696.0,282.8 696.0,58.5 678.2,58.9 660.4,59.3 642.5,59.7 624.7,60.1 606.9,60.4 589.1,60.7 571.3,61.0 553.5,61.2 535.6,61.6 517.8,62.1 500.0,62.8 482.2,64.0 464.4,65.6 446.5,68.0 428.7,71.1 410.9,75.2 393.1,80.4 375.3,86.8 357.5,94.3 339.6,103.2 321.8,113.5 304.0,125.3 286.2,138.7 268.4,153.9 250.5,170.8 232.7,189.8 214.9,211.1 197.1,235.1 179.3,262.2 161.5,292.8 143.6,327.4 125.8,366.7 108.0,411.1" fill="#f3ff00"/>
<polygon points="108.0,600.3 125.8,580.7 143.6,562.2 161.5,544.6 179.3,527.8 197.1,511.7 214.9,496.2 232.7,481.4 250.5,467.2 268.4,453.6 286.2,440.7 304.0,428.5 321.8,417.0 339.6,406.0 357.5,395.7 375.3,386.0 393.1,376.8 410.9,368.1 428.7,359.8 446.5,352.0 464.4,344.7 482.2,337.9 500.0,331.5 517.8,325.4 535.6,319.7 553.5,314.4 571.3,309.4 589.1,304.6 606.9,300.1 624.7,295.8 642.5,291.8 660.4,287.9 678.2,284.3 696.0,280.9 696.0,58.5 678.2,58.9 660.4,59.3 642.5,59.7 624.7,60.1 606.9,60.4 589.1,60.7 571.3,61.0 553.5,61.2 535.6,61.6 517.8,62.1 500.0,62.8 482.2,64.0 464.4,65.6 446.5,68.0 428.7,71.1 410.9,75.2 393.1,80.4 375.3,86.8 357.5,94.3 339.6,103.2 321.8,113.5 304.0,125.3 286.2,138.7 268.4,153.9 250.5,170.8 232.7,189.8 214.9,211.1 197.1,235.1 179.3,262.2 161.5,292.8 143.6,327.4 125.8,366.7 108.0,411.1" fill="#edff00"/>
<polygon points="108.0,598.7 125.8,578.9 143.6,560.2 161.5,542.4 179.3,525.5 197.1,509.3 214.9,493.8 232.7,478.9 250.5,464.7 268.4,451.1 286.2,438.2 304.0,425.9 321.8,414.4 339.6,403.5 357.5,393.1 375.3,383.4 393.1,374.2 410.9,365.5 428.7,357.4 446.5,349.6 464.4,342.4 482.2,335.5 500.0,329.2 517.8,323.2 535.6,317.5 553.5,312.2 571.3,307.3 589.1,302.5 606.9,298.1 624.7,293.8 642.5,289.8 660.4,286.0 678.2,282.4 696.0,279.0 696.0,58.5 678.2,58.9 660.4,59.3 642.5,59.7 624.7,60.1 606.9,60.4 589.1,60.7 571.3,61.0 553.5,61.2 535.6,61.6 517.8,62.1 500.0,62.8 482.2,64.0 464.4,65.6 446.5,68.0 428.7,71.1 410.9,75.2 393.1,80.4 375.3,86.8 357.5,94.3 339.6,103.2 321.8,113.5 304.0,125.3 286.2,138.7 268.4,153.9 250.5,170.8 232.7,189.8 214.9,211.1 197.1,235.1 179.3,262.2 161.5,292.8 143.6,327.4 125.8,366.7 108.0,411.1" fill="#e8ff00"/>
<polygon points="108.0,597.1 125.8,577.0 143.6,558.2 161.5,540.3 179.3,523.2 197.1,507.0 214.9,491.4 232.7,476.4 250.5,462.1 268.4,448.5 286.2,435.6 304.0,423.3 321.8,411.8 339.6,400.9 357.5,390.6 375.3,380.9 393.1,371.7 410.9,363.0 428.7,354.9 446.5,347.2 464.4,340.0 482.2,333.2 500.0,326.9 517.8,320.9 535.6,315.3 553.5,310.1 571.3,305.1 589.1,300.4 606.9,296.0 624.7,291.8 642.5,287.8 660.4,284.0 678.2,280.5 696.0,277.1 696.0,58.5 678.2,58.9 660.4,59.3 642.5,59.7 624.7,60.1 606.9,60.4 589.1,60.7 571.3,61.0 553.5,61.2 535.6,61.6 517.8,62.1 500.0,62.8 482.2,64.0 464.4,65.6 446.5,68.0 428.7,71.1 410.9,75.2 393.1,80.4 375.3,86.8 357.5,94.3 339.6,103.2 321.8,113.5 304.0,125.3 286.2,138.7 268.4,153.9 250.5,170.8 232.7,189.8 214.9,211.1 197.1,235.1 179.3,262.2 161.5,292.8 143.6,327.4 125.8,366.7 108.0,411.1" fill="#e3ff00"/>
<polygon points="108.0,595.4 125.8,575.2 143.6,556.2 161.5,538.1 179.3,521.0 197.1,504.6 214.9,488.9 232.7,473.9 250.5,459.6 268.4,446.0 286.2,433.0 304.0,420.7 321.8,409.2 339.6,398.3 357.5,388.0 375.3,378.3 393.1,369.2 410.9,360.5 428.7,352.4 446.5,344.8 464.4,337.6 482.2,330.9 500.0,324.6 517.8,318.7 535.6,313.1 553.5,307.9 571.3,303.0 589.1,298.4 606.9,294.0 624.7,289.8 642.5,285.8 660.4,282.1 678.2,278.5 696.0,275.2 696.0,58.5 678.2,58.9 660.4,59.3 642.5,59.7 624.7,60.1 606.9,60.4 589.1,60.7 571.3,61.0 553.5,61.2 535.6,61.6 517.8,62.1 500.0,62.8 482.2,64.0 464.4,65.6 446.5,68.0 428.7,71.1 410.9,75.2 393.1,80.4 375.3,86.8 357.5,94.3 339.6,103.2 321.8,113.5 304.0,125.3 286.2,138.7 268.4,153.9 250.5,170.8 232.7,189.8 214.9,211.1 197.1,235.1 179.3,262.2 161.5,292.8 143.6,327.4 125.8,366.7 108.0,411.1" fill="#deff00"/>
<polygon points="108.0,593.8 125.8,573.4 143.6,554.1 161.5,536.0 179.3,518.7 197.1,502.2 214.9,486.5 232.7,471.4 250.5,457.1 268.4,443.4 286.2,430.4 304.0,418.2 321.8,406.6 339.6,395.7 357.5,385.4 375.3,375.7 393.1,366.6 410.9,358.0 428.7,349.9 446.5,342.3 464.4,335.2 482.2,328.5 500.0,322.3 517.8,316.4 535.6,310.9 553.5,305.8 571.3,300.9 589.1,296.3 606.9,291.9 624.7,287.8 642.5,283.8 660.4,280.1 678.2,276.6 696.0,273.3 696.0,58.5 678.2,58.9 660.4,59.3 642.5,59.7 624.7,60.1 606.9,60.4 589.1,60.7 571.3,61.0 553.5,61.2 535.6,61.6 517.8,62.1 500.0,62.8 482.2,64.0 464.4,65.6 446.5,68.0 428.7,71.1 410.9,75.2 393.1,80.4 375.3,86.8 357.5,94.3 339.6,103.2 321.8,113.5 304.0,125.3 286.2,138.7 268.4,153.9 250.5,170.8 232.7,189.8 214.9,211.1 197.1,235.1 179.3,262.2 161.5,292.8 143.6,327.4 125.8,366.7 108.0,411.1" fill="#d9ff00"/>
<polygon points="108.0,592.2 125.8,571.6 143.6,552.1 161.5,533.8 179.3,516.4 197.1,499.9 214.9,484.0 232.7,468.9 250.5,454.5 268.4,440.8 286.2,427.8 304.0,415.6 321.8,404.0 339.6,393.1 357.5,382.8 375.3,373.2 393.1,364.1 410.9,355.5 428.7,347.5 446.5,339.9 464.4,332.8 482.2,326.2 500.0,320.0 517.8,314.2 535.6,308.7 553.5,303.6 571.3,298.8 589.1,294.2 606.9,289.9 624.7,285.8 642.5,281.9 660.4,278.2 678.2,274.7 696.0,271.4 696.0,58.5 678.2,58.9 660.4,59.3 642.5,59.7 624.7,60.1 606.9,60.4 589.1,60.7 571.3,61.0 553.5,61.2 535.6,61.6 517.8,62.1 500.0,62.8 482.2,64.0 464.4,65.6 446.5,68.0 428.7,71.1 410.9,75.2 393.1,80.4 375.3,86.8 357.5,94.3 339.6,103.2 321.8,113.5 304.0,125.3 286.2,138.7 268.4,153.9 250.5,170.8 232.7,189.8 214.9,211.1 197.1,235.1 179.3,262.2 161.5,292.8 143.6,327.4 125.8,366.7 108.0,411.1" fill="#d3ff00"/>
<polygon points="108.0,590.6 125.8,569.7 143.6,550.1 161.5,531.7 179.3,514.2 197.1,497.5 214.9,481.6 232.7,466.4 250.5,452.0 268.4,438.3 286.2,425.3 304.0,413.0 321.8,401.4 339.6,390.5 357.5,380.3 375.3,370.6 393.1,361.6 410.9,353.0 428.7,345.0 446.5,337.5 464.4,330.4 482.2,323.8 500.0,317.7 517.8,311.9 535.6,306.5 553.5,301.4 571.3,296.6 589.1,292.1 606.9,287.8 624.7,283.7 642.5,279.9 660.4,276.2 678.2,272.7 696.0,269.5 696.0,58.5 678.2,58.9 660.4,59.3 642.5,59.7 624.7,60.1 606.9,60.4 589.1,60.7 571.3,61.0 553.5,61.2 535.6,61.6 517.8,62.1 500.0,62.8 482.2,64.0 464.4,65.6 446.5,68.0 428.7,71.1 410.9,75.2 393.1,80.4 375.3,86.8 357.5,94.3 339.6,103.2 321.8,113.5 304.0,125.3 286.2,138.7 268.4,153.9 250.5,170.8 232.7,189.8 214.9,211.1 197.1,235.1 179.3,262.2 161.5,292.8 143.6,327.4 125.8,366.7 108.0,411.1" fill="#ceff00"/>
<polygon points="108.0,589.0 125.8,567.9 143.6,548.1 161.5,529.5 179.3,511.9 197.1,495.1 214.9,479.2 232.7,464.0 250.5,449.5 268.4,435.7 286.2,422.7 304.0,410.4 321.8,398.8 339.6,387.9 357.5,377.7 375.3,368.1 393.1,359.0 410.9,350.5 428.7,342.5 446.5,335.1 464.4,328.0 482.2,321.5 500.0,315.4 517.8,309.7 535.6,304.3 553.5,299.3 571.3,294.5 589.1,290.0 606.9,285.8 624.7,281.7 642.5,277.9 660.4,274.3 678.2,270.8 696.0,267.6 696.0,58.5 678.2,58.9 660.4,59.3 642.5,59.7 624.7,60.1 606.9,60.4 589.1,60.7 571.3,61.0 553.5,61.2 535.6,61.6 517.8,62.1 500.0,62.8 482.2,64.0 464.4,65.6 446.5,68.0 428.7,71.1 410.9,75.2 393.1,80.4 375.3,86.8 357.5,94.3 339.6,103.2 321.8,113.5 304.0,125.3 286.2,138.7 268.4,153.9 250.5,170.8 232.7,189.8 214.9,211.1 197.1,235.1 179.3,262.2 161.5,292.8 143.6,327.4 125.8,366.7 108.0,411.1" fill="#c8ff00"/>
<polygon points="108.0,587.4 125.8,566.1 143.6,546.1 161.5,527.4 179.3,509.6 197.1,492.8 214.9,476.7 232.7,461.5 250.5,446.9 268.4,433.1 286.2,420.1 304.0,407.8 321.8,396.2 339.6,385.3 357.5,375.1 375.3,365.5 393.1,356.5 410.9,348.0 428.7,340.1 446.5,332.6 464.4,325.7 482.2,319.2 500.0,313.1 517.8,307.4 535.6,302.1 553.5,297.1 571.3,292.4 589.1,287.9 606.9,283.7 624.7,279.7 642.5,275.9 660.4,272.3 678.2,268.9 696.0,265.7 696.0,58.5 678.2,58.9 660.4,59.3 642.5,59.7 624.7,60.1 606.9,60.4 589.1,60.7 571.3,61.0 553.5,61.2 535.6,61.6 517.8,62.1 500.0,62.8 482.2,64.0 464.4,65.6 446.5,68.0 428.7,71.1 410.9,75.2 393.1,80.4 375.3,86.8 357.5,94.3 339.6,103.2 321.8,113.5 304.0,125.3 286.2,138.7 268.4,153.9 250.5,170.8 232.7,189.8 214.9,211.1 197.1,235.1 179.3,262.2 161.5,292.8 143.6,327.4 125.8,366.7 108.0,411.1" fill="#c3ff00"/>
<polygon points="108.0,585.7 125.8,564.2 143.6,544.1 161.5,525.2 179.3,507.4 197.1,490.4 214.9,474.3 232.7,459.0 250.5,444.4 268.4,430.6 286.2,417.5 304.0,405.2 321.8,393.6 339.6,382.7 357.5,372.5 375.3,363.0 393.1,354.0 410.9,345.5 428.7,337.6 446.5,330.2 464.4,323.3 482.2,316.8 500.0,310.8 517.8,305.2 535.6,299.9 553.5,294.9 571.3,290.3 589.1,285.9 606.9,281.7 624.7,277.7 642.5,273.9 660.4,270.4 678.2,267.0 696.0,263.8 696.0,58.5 678.2,58.9 660.4,59.3 642.5,59.7 624.7,60.1 606.9,60.4 589.1,60.7 571.3,61.0 553.5,61.2 535.6,61.6 517.8,62.1 500.0,62.8 482.2,64.0 464.4,65.6 446.5,68.0 428.7,71.1 410.9,75.2 393.1,80.4 375.3,86.8 357.5,94.3 339.6,103.2 321.8,113.5 304.0,125.3 286.2,138.7 268.4,153.9 250.5,170.8 232.7,189.8 214.9,211.1 197.1,235.1 179.3,262.2 161.5,292.8 143.6,327.4 125.8,366.7 108.0,411.1" fill="#bdff00"/>
<polygon points="108.0,584.1 125.8,562.4 143.6,542.1 161.5,523.0 179.3,505.1 197.1,488.1 214.9,471.9 232.7,456.5 250.5,441.9 268.4,428.0 286.2,414.9 304.0,402.6 321.8,391.0 339.6,380.2 357.5,370.0 375.3,360.4 393.1,351.4 410.9,343.0 428.7,335.1 446.5,327.8 464.4,320.9 482.2,314.5 500.0,308.5 517.8,302.9 535.6,297.7 553.5,292.8 571.3,288.1 589.1,283.8 606.9,279.6 624.7,275.7 642.5,271.9 660.4,268.4 678.2,265.0 696.0,261.9 696.0,58.5 678.2,58.9 660.4,59.3 642.5,59.7 624.7,60.1 606.9,60.4 589.1,60.7 571.3,61.0 553.5,61.2 535.6,61.6 517.8,62.1 500.0,62.8 482.2,64.0 464.4,65.6 446.5,68.0 428.7,71.1 410.9,75.2 393.1,80.4 375.3,86.8 357.5,94.3 339.6,103.2 321.8,113.5 304.0,125.3 286.2,138.7 268.4,153.9 250.5,170.8 232.7,189.8 214.9,211.1 197.1,235.1 179.3,262.2 161.5,292.8 143.6,327.4 125.8,366.7 108.0,411.1" fill="#b7ff00"/>
<polygon points="108.0,582.5 125.8,560.6 143.6,540.1 161.5,520.9 179.3,502.8 197.1,485.7 214.9,469.4 232.7,454.0 250.5,439.3 268.4,425.5 286.2,412.4 304.0,400.0 321.8,388.4 339.6,377.6 357.5,367.4 375.3,357.8 393.1,348.9 410.9,340.5 428.7,332.7 446.5,325.3 464.4,318.5 482.2,312.1 500.0,306.2 517.8,300.7 535.6,295.5 553.5,290.6 571.3,286.0 589.1,281.7 606.9,277.6 624.7,273.7 642.5,270.0 660.4,266.4 678.2,263.1 696.0,260.0 696.0,58.5 678.2,58.9 660.4,59.3 642.5,59.7 624.7,60.1 606.9,60.4 589.1,60.7 571.3,61.0 553.5,61.2 535.6,61.6 517.8,62.1 500.0,62.8 482.2,64.0 464.4,65.6 446.5,68.0 428.7,71.1 410.9,75.2 393.1,80.4 375.3,86.8 357.5,94.3 339.6,103.2 321.8,113.5 304.0,125.3 286.2,138.7 268.4,153.9 250.5,170.8 232.7,189.8 214.9,211.1 197.1,235.1 179.3,262.2 161.5,292.8 143.6,327.4 125.8,366.7 108.0,411.1" fill="#b1ff00"/>
<polygon points="108.0,580.9 125.8,558.8 143.6,538.1 161.5,518.7 179.3,500.5 197.1,483.3 214.9,467.0 232.7,451.5 250.5,436.8 268.4,422.9 286.2,409.8 304.0,397.4 321.8,385.8 339.6,375.0 357.5,364.8 375.3,355.3 393.1,346.4 410.9,338.0 428.7,330.2 446.5,322.9 464.4,316.1 482.2,309.8 500.0,303.9 517.8,298.4 535.6,293.3 553.5,288.4 571.3,283.9 589.1,279.6 606.9,275.5 624.7,271.6 642.5,268.0 660.4,264.5 678.2,261.2 696.0,258.1 696.0,58.5 678.2,58.9 660.4,59.3 642.5,59.7 624.7,60.1 606.9,60.4 589.1,60.7 571.3,61.0 553.5,61.2 535.6,61.6 517.8,62.1 500.0,62.8 482.2,64.0 464.4,65.6 446.5,68.0 428.7,71.1 410.9,75.2 393.1,80.4 375.3,86.8 357.5,94.3 339.6,103.2 321.8,113.5 304.0,125.3 286.2,138.7 268.4,153.9 250.5,170.8 232.7,189.8 214.9,211.1 197.1,235.1 179.3,262.2 161.5,292.8 143.6,327.4 125.8,366.7 108.0,411.1" fill="#abff00"/>
<polygon points="108.0,579.3 125.8,556.9 143.6,536.1 161.5,516.6 179.3,498.3 197.1,481.0 214.9,464.6 232.7,449.0 250.5,434.3 268.4,420.3 286.2,407.2 304.0,394.8 321.8,383.2 339.6,372.4 357.5,362.2 375.3,352.7 393.1,343.8 410.9,335.5 428.7,327.7 446.5,320.5 464.4,313.7 482.2,307.4 500.0,301.6 517.8,296.2 535.6,291.1 553.5,286.3 571.3,281.8 589.1,277.5 606.9,273.5 624.7,269.6 642.5,266.0 660.4,262.5 678.2,259.3 696.0,256.2 696.0,58.5 678.2,58.9 660.4,59.3 642.5,59.7 624.7,60.1 606.9,60.4 589.1,60.7 571.3,61.0 553.5,61.2 535.6,61.6 517.8,62.1 500.0,62.8 482.2,64.0 464.4,65.6 446.5,68.0 428.7,71.1 410.9,75.2 393.1,80.4 375.3,86.8 357.5,94.3 339.6,103.2 321.8,113.5 304.0,125.3 286.2,138.7 268.4,153.9 250.5,170.8 232.7,189.8 214.9,211.1 197.1,235.1 179.3,262.2 161.5,292.8 143.6,327.4 125.8,366.7 108.0,411.1" fill="#a5ff00"/>
<polygon points="108.0,577.7 125.8,555.1 143.6,534.1 161.5,514.4 179.3,496.0 197.1,478.6 214.9,462.1 232.7,446.5 250.5,431.7 268.4,417.8 286.2,404.6 304.0,392.2 321.8,380.7 339.6,369.8 357.5,359.7 375.3,350.2 393.1,341.3 410.9,333.0 428.7,325.3 446.5,318.1 464.4,311.3 482.2,305.1 500.0,299.3 517.8,293.9 535.6,288.8 553.5,284.1 571.3,279.7 589.1,275.4 606.9,271.4 624.7,267.6 642.5,264.0 660.4,260.6 678.2,257.3 696.0,254.3 696.0,58.5 678.2,58.9 660.4,59.3 642.5,59.7 624.7,60.1 606.9,60.4 589.1,60.7 571.3,61.0 553.5,61.2 535.6,61.6 517.8,62.1 500.0,62.8 482.2,64.0 464.4,65.6 446.5,68.0 428.7,71.1 410.9,75.2 393.1,80.4 375.3,86.8 357.5,94.3 339.6,103.2 321.8,113.5 304.0,125.3 286.2,138.7 268.4,153.9 250.5,170.8 232.7,189.8 214.9,211.1 197.1,235.1 179.3,262.2 161.5,292.8 143.6,327.4 125.8,366.7 108.0,411.1" fill="#9eff00"/>
<polygon points="108.0,576.0 125.8,553.3 143.6,532.1 161.5,512.3 179.3,493.7 197.1,476.2 214.9,459.7 232.7,444.0 250.5,429.2 268.4,415.2 286.2,402.0 304.0,389.7 321.8,378.1 339.6,367.2 357.5,357.1 375.3,347.6 393.1,338.8 410.9,330.5 428.7,322.8 446.5,315.6 464.4,309.0 482.2,302.8 500.0,297.0 517.8,291.7 535.6,286.6 553.5,281.9 571.3,277.5 589.1,273.3 606.9,269.4 624.7,265.6 642.5,262.0 660.4,258.6 678.2,255.4 696.0,252.3 696.0,58.5 678.2,58.9 660.4,59.3 642.5,59.7 624.7,60.1 606.9,60.4 589.1,60.7 571.3,61.0 553.5,61.2 535.6,61.6 517.8,62.1 500.0,62.8 482.2,64.0 464.4,65.6 446.5,68.0 428.7,71.1 410.9,75.2 393.1,80.4 375.3,86.8 357.5,94.3 339.6,103.2 321.8,113.5 304.0,125.3 286.2,138.7 268.4,153.9 250.5,170.8 232.7,189.8 214.9,211.1 197.1,235.1 179.3,262.2 161.5,292.8 143.6,327.4 125.8,366.7 108.0,411.1" fill="#97ff00"/>
<polygon points="108.0,574.4 125.8,551.4 143.6,530.1 161.5,510.1 179.3,491.5 197.1,473.9 214.9,457.2 232.7,441.5 250.5,426.7 268.4,412.6 286.2,399.4 304.0,387.1 321.8,375.5 339.6,364.6 357.5,354.5 375.3,345.1 393.1,336.2 410.9,328.0 428.7,320.3 446.5,313.2 464.4,306.6 482.2,300.4 500.0,294.7 517.8,289.4 535.6,284.4 553.5,279.8 571.3,275.4 589.1,271.3 606.9,267.3 624.7,263.6 642.5,260.0 660.4,256.7 678.2,253.5 696.0,250.4 696.0,58.5 678.2,58.9 660.4,59.3 642.5,59.7 624.7,60.1 606.9,60.4 589.1,60.7 571.3,61.0 553.5,61.2 535.6,61.6 517.8,62.1 500.0,62.8 482.2,64.0 464.4,65.6 446.5,68.0 428.7,71.1 410.9,75.2 393.1,80.4 375.3,86.8 357.5,94.3 339.6,103.2 321.8,113.5 304.0,125.3 286.2,138.7 268.4,153.9 250.5,170.8 232.7,189.8 214.9,211.1 197.1,235.1 179.3,262.2 161.5,292.8 143.6,327.4 125.8,366.7 108.0,411.1" fill="#90ff00"/>
<polygon points="108.0,572.8 125.8,549.6 143.6,528.1 161.5,508.0 179.3,489.2 197.1,471.5 214.9,454.8 232.7,439.0 250.5,424.1 268.4,410.1 286.2,396.9 304.0,384.5 321.8,372.9 339.6,362.0 357.5,351.9 375.3,342.5 393.1,333.7 410.9,325.5 428.7,317.9 446.5,310.8 464.4,304.2 482.2,298.1 500.0,292.4 517.8,287.2 535.6,282.2 553.5,277.6 571.3,273.3 589.1,269.2 606.9,265.3 624.7,261.6 642.5,258.1 660.4,254.7 678.2,251.6 696.0,248.5 696.0,58.5 678.2,58.9 660.4,59.3 642.5,59.7 624.7,60.1 606.9,60.4 589.1,60.7 571.3,61.0 553.5,61.2 535.6,61.6 517.8,62.1 500.0,62.8 482.2,64.0 464.4,65.6 446.5,68.0 428.7,71.1 410.9,75.2 393.1,80.4 375.3,86.8 357.5,94.3 339.6,103.2 321.8,113.5 304.0,125.3 286.2,138.7 268.4,153.9 250.5,170.8 232.7,189.8 214.9,211.1 197.1,235.1 179.3,262.2 161.5,292.8 143.6,327.4 125.8,366.7 108.0,411.1" fill="#89ff00"/>
<polygon points="108.0,571.2 125.8,547.8 143.6,526.1 161.5,505.8 179.3,486.9 197.1,469.1 214.9,452.4 232.7,436.5 250.5,421.6 268.4,407.5 286.2,394.3 304.0,381.9 321.8,370.3 339.6,359.5 357.5,349.4 375.3,339.9 393.1,331.2 410.9,323.0 428.7,315.4 446.5,308.3 464.4,301.8 482.2,295.7 500.0,290.1 517.8,284.9 535.6,280.0 553.5,275.5 571.3,271.2 589.1,267.1 606.9,263.2 624.7,259.6 642.5,256.1 660.4,252.8 678.2,249.6 696.0,246.6 696.0,58.5 678.2,58.9 660.4,59.3 642.5,59.7 624.7,60.1 606.9,60.4 589.1,60.7 571.3,61.0 553.5,61.2 535.6,61.6 517.8,62.1 500.0,62.8 482.2,64.0 464.4,65.6 446.5,68.0 428.7,71.1 410.9,75.2 393.1,80.4 375.3,86.8 357.5,94.3 339.6,103.2 321.8,113.5 304.0,125.3 286.2,138.7 268.4,153.9 250.5,170.8 232.7,189.8 214.9,211.1 197.1,235.1 179.3,262.2 161.5,292.8 143.6,327.4 125.8,366.7 108.0,411.1" fill="#82ff00"/>
<polygon points="108.0,569.6 125.8,546.0 143.6,524.0 161.5,503.7 179.3,484.7 197.1,466.8 214.9,449.9 232.7,434.0 250.5,419.1 268.4,405.0 286.2,391.7 304.0,379.3 321.8,367.7 339.6,356.9 357.5,346.8 375.3,337.4 393.1,328.6 410.9,320.5 428.7,312.9 446.5,305.9 464.4,299.4 482.2,293.4 500.0,287.8 517.8,282.6 535.6,277.8 553.5,273.3 571.3,269.0 589.1,265.0 606.9,261.2 624.7,257.5 642.5,254.1 660.4,250.8 678.2,247.7 696.0,244.7 696.0,58.5 678.2,58.9 660.4,59.3 642.5,59.7 624.7,60.1 606.9,60.4 589.1,60.7 571.3,61.0 553.5,61.2 535.6,61.6 517.8,62.1 500.0,62.8 482.2,64.0 464.4,65.6 446.5,68.0 428.7,71.1 410.9,75.2 393.1,80.4 375.3,86.8 357.5,94.3 339.6,103.2 321.8,113.5 304.0,125.3 286.2,138.7 268.4,153.9 250.5,170.8 232.7,189.8 214.9,211.1 197.1,235.1 179.3,262.2 161.5,292.8 143.6,327.4 125.8,366.7 108.0,411.1" fill="#7aff00"/>
<polygon points="108.0,568.0 125.8,544.1 143.6,522.0 161.5,501.5 179.3,482.4 197.1,464.4 214.9,447.5 232.7,431.6 250.5,416.5 268.4,402.4 286.2,389.1 304.0,376.7 321.8,365.1 339.6,354.3 357.5,344.2 375.3,334.8 393.1,326.1 410.9,318.0 428.7,310.5 446.5,303.5 464.4,297.0 482.2,291.1 500.0,285.5 517.8,280.4 535.6,275.6 553.5,271.1 571.3,266.9 589.1,262.9 606.9,259.1 624.7,255.5 642.5,252.1 660.4,248.9 678.2,245.8 696.0,242.8 696.0,58.5 678.2,58.9 660.4,59.3 642.5,59.7 624.7,60.1 606.9,60.4 589.1,60.7 571.3,61.0 553.5,61.2 535.6,61.6 517.8,62.1 500.0,62.8 482.2,64.0 464.4,65.6 446.5,68.0 428.7,71.1 410.9,75.2 393.1,80.4 375.3,86.8 357.5,94.3 339.6,103.2 321.8,113.5 304.0,125.3 286.2,138.7 268.4,153.9 250.5,170.8 232.7,189.8 214.9,211.1 197.1,235.1 179.3,262.2 161.5,292.8 143.6,327.4 125.8,366.7 108.0,411.1" fill="#71ff00"/>
<polygon points="108.0,566.3 125.8,542.3 143.6,520.0 161.5,499.4 179.3,480.1 197.1,462.1 214.9,445.1 232.7,429.1 250.5,414.0 268.4,399.8 286.2,386.5 304.0,374.1 321.8,362.5 339.6,351.7 357.5,341.6 375.3,332.3 393.1,323.6 410.9,315.5 428.7,308.0 446.5,301.1 464.4,294.6 482.2,288.7 500.0,283.2 517.8,278.1 535.6,273.4 553.5,269.0 571.3,264.8 589.1,260.8 606.9,257.1 624.7,253.5 642.5,250.1 660.4,246.9 678.2,243.8 696.0,240.9 696.0,58.5 678.2,58.9 660.4,59.3 642.5,59.7 624.7,60.1 606.9,60.4 589.1,60.7 571.3,61.0 553.5,61.2 535.6,61.6 517.8,62.1 500.0,62.8 482.2,64.0 464.4,65.6 446.5,68.0 428.7,71.1 410.9,75.2 393.1,80.4 375.3,86.8 357.5,94.3 339.6,103.2 321.8,113.5 304.0,125.3 286.2,138.7 268.4,153.9 250.5,170.8 232.7,189.8 214.9,211.1 197.1,235.1 179.3,262.2 161.5,292.8 143.6,327.4 125.8,366.7 108.0,411.1" fill="#68ff00"/>
<polygon points="108.0,564.7 125.8,540.5 143.6,518.0 161.5,497.2 179.3,477.8 197.1,459.7 214.9,442.6 232.7,426.6 250.5,411.5 268.4,397.3 286.2,384.0 304.0,371.5 321.8,359.9 339.6,349.1 357.5,339.0 375.3,329.7 393.1,321.0 410.9,313.0 428.7,305.5 446.5,298.6 464.4,292.3 482.2,286.4 500.0,280.9 517.8,275.9 535.6,271.2 553.5,266.8 571.3,262.7 589.1,258.8 606.9,255.0 624.7,251.5 642.5,248.1 660.4,244.9 678.2,241.9 696.0,239.0 696.0,58.5 678.2,58.9 660.4,59.3 642.5,59.7 624.7,60.1 606.9,60.4 589.1,60.7 571.3,61.0 553.5,61.2 535.6,61.6 517.8,62.1 500.0,62.8 482.2,64.0 464.4,65.6 446.5,68.0 428.7,71.1 410.9,75.2 393.1,80.4 375.3,86.8 357.5,94.3 339.6,103.2 321.8,113.5 304.0,125.3 286.2,138.7 268.4,153.9 250.5,170.8 232.7,189.8 214.9,211.1 197.1,235.1 179.3,262.2 161.5,292.8 143.6,327.4 125.8,366.7 108.0,411.1" fill="#5eff00"/>
<polygon points="108.0,563.1 125.8,538.6 143.6,516.0 161.5,495.1 179.3,475.6 197.1,457.3 214.9,440.2 232.7,424.1 250.5,408.9 268.4,394.7 286.2,381.4 304.0,368.9 321.8,357.3 339.6,346.5 357.5,336.5 375.3,327.2 393.1,318.5 410.9,310.5 428.7,303.1 446.5,296.2 464.4,289.9 482.2,284.0 500.0,278.6 517.8,273.6 535.6,269.0 553.5,264.6 571.3,260.5 589.1,256.7 606.9,253.0 624.7,249.5 642.5,246.2 660.4,243.0 678.2,240.0 696.0,237.1 696.0,58.5 678.2,58.9 660.4,59.3 642.5,59.7 624.7,60.1 606.9,60.4 589.1,60.7 571.3,61.0 553.5,61.2 535.6,61.6 517.8,62.1 500.0,62.8 482.2,64.0 464.4,65.6 446.5,68.0 428.7,71.1 410.9,75.2 393.1,80.4 375.3,86.8 357.5,94.3 339.6,103.2 321.8,113.5 304.0,125.3 286.2,138.7 268.4,153.9 250.5,170.8 232.7,189.8 214.9,211.1 197.1,235.1 179.3,262.2 161.5,292.8 143.6,327.4 125.8,366.7 108.0,411.1" fill="#53ff00"/>
<polygon points="108.0,561.5 125.8,536.8 143.6,514.0 161.5,492.9 179.3,473.3 197.1,455.0 214.9,437.8 232.7,421.6 250.5,406.4 268.4,392.1 286.2,378.8 304.0,366.3 321.8,354.7 339.6,343.9 357.5,333.9 375.3,324.6 393.1,316.0 410.9,308.0 428.7,300.6 446.5,293.8 464.4,287.5 482.2,281.7 500.0,276.3 517.8,271.4 535.6,266.8 553.5,262.5 571.3,258.4 589.1,254.6 606.9,250.9 624.7,247.5 642.5,244.2 660.4,241.0 678.2,238.1 696.0,235.2 696.0,58.5 678.2,58.9 660.4,59.3 642.5,59.7 624.7,60.1 606.9,60.4 589.1,60.7 571.3,61.0 553.5,61.2 535.6,61.6 517.8,62.1 500.0,62.8 482.2,64.0 464.4,65.6 446.5,68.0 428.7,71.1 410.9,75.2 393.1,80.4 375.3,86.8 357.5,94.3 339.6,103.2 321.8,113.5 304.0,125.3 286.2,138.7 268.4,153.9 250.5,170.8 232.7,189.8 214.9,211.1 197.1,235.1 179.3,262.2 161.5,292.8 143.6,327.4 125.8,366.7 108.0,411.1" fill="#46ff00"/>
<polygon points="108.0,559.9 125.8,535.0 143.6,512.0 161.5,490.8 179.3,471.0 197.1,452.6 214.9,435.3 232.7,419.1 250.5,403.9 268.4,389.6 286.2,376.2 304.0,363.7 321.8,352.1 339.6,341.3 357.5,331.3 375.3,322.0 393.1,313.4 410.9,305.5 428.7,298.1 446.5,291.4 464.4,285.1 482.2,279.4 500.0,274.1 517.8,269.1 535.6,264.6 553.5,260.3 571.3,256.3 589.1,252.5 606.9,248.9 624.7,245.5 642.5,242.2 660.4,239.1 678.2,236.1 696.0,233.3 696.0,58.5 678.2,58.9 660.4,59.3 642.5,59.7 624.7,60.1 606.9,60.4 589.1,60.7 571.3,61.0 553.5,61.2 535.6,61.6 517.8,62.1 500.0,62.8 482.2,64.0 464.4,65.6 446.5,68.0 428.7,71.1 410.9,75.2 393.1,80.4 375.3,86.8 357.5,94.3 339.6,103.2 321.8,113.5 304.0,125.3 286.2,138.7 268.4,153.9 250.5,170.8 232.7,189.8 214.9,211.1 197.1,235.1 179.3,262.2 161.5,292.8 143.6,327.4 125.8,366.7 108.0,411.1" fill="#35ff00"/>
<polygon points="108.0,558.3 125.8,533.1 143.6,510.0 161.5,488.6 179.3,468.8 197.1,450.2 214.9,432.9 232.7,416.6 250.5,401.3 268.4,387.0 286.2,373.6 304.0,361.1 321.8,349.5 339.6,338.7 357.5,328.7 375.3,319.5 393.1,310.9 410.9,303.0 428.7,295.7 446.5,288.9 464.4,282.7 482.2,277.0 500.0,271.8 517.8,266.9 535.6,262.4 553.5,258.1 571.3,254.2 589.1,250.4 606.9,246.8 624.7,243.4 642.5,240.2 660.4,237.1 678.2,234.2 696.0,231.4 696.0,58.5 678.2,58.9 660.4,59.3 642.5,59.7 624.7,60.1 606.9,60.4 589.1,60.7 571.3,61.0 553.5,61.2 535.6,61.6 517.8,62.1 500.0,62.8 482.2,64.0 464.4,65.6 446.5,68.0 428.7,71.1 410.9,75.2 393.1,80.4 375.3,86.8 357.5,94.3 339.6,103.2 321.8,113.5 304.0,125.3 286.2,138.7 268.4,153.9 250.5,170.8 232.7,189.8 214.9,211.1 197.1,235.1 179.3,262.2 161.5,292.8 143.6,327.4 125.8,366.7 108.0,411.1" fill="#1cff00"/>
<polygon points="108.0,556.6 125.8,531.3 143.6,508.0 161.5,486.5 179.3,466.5 197.1,447.9 214.9,430.4 232.7,414.1 250.5,398.8 268.4,384.5 286.2,371.1 304.0,358.6 321.8,346.9 339.6,336.2 357.5,326.2 375.3,316.9 393.1,308.4 410.9,300.5 428.7,293.2 446.5,286.5 464.4,280.3 482.2,274.7 500.0,269.5 517.8,264.6 535.6,260.2 553.5,256.0 571.3,252.1 589.1,248.3 606.9,244.8 624.7,241.4 642.5,238.2 660.4,235.2 678.2,232.3 696.0,229.5 696.0,58.5 678.2,58.9 660.4,59.3 642.5,59.7 624.7,60.1 606.9,60.4 589.1,60.7 571.3,61.0 553.5,61.2 535.6,61.6 517.8,62.1 500.0,62.8 482.2,64.0 464.4,65.6 446.5,68.0 428.7,71.1 410.9,75.2 393.1,80.4 375.3,86.8 357.5,94.3 339.6,103.2 321.8,113.5 304.0,125.3 286.2,138.7 268.4,153.9 250.5,170.8 232.7,189.8 214.9,211.1 197.1,235.1 179.3,262.2 161.5,292.8 143.6,327.4 125.8,366.7 108.0,411.1" fill="#0bff14"/>
<polygon points="108.0,555.0 125.8,529.5 143.6,506.0 161.5,484.3 179.3,464.2 197.1,445.5 214.9,428.0 232.7,411.6 250.5,396.3 268.4,381.9 286.2,368.5 304.0,356.0 321.8,344.3 339.6,333.6 357.5,323.6 375.3,314.4 393.1,305.8 410.9,298.0 428.7,290.7 446.5,284.1 464.4,277.9 482.2,272.3 500.0,267.2 517.8,262.4 535.6,258.0 553.5,253.8 571.3,249.9 589.1,246.2 606.9,242.7 624.7,239.4 642.5,236.2 660.4,233.2 678.2,230.4 696.0,227.6 696.0,58.5 678.2,58.9 660.4,59.3 642.5,59.7 624.7,60.1 606.9,60.4 589.1,60.7 571.3,61.0 553.5,61.2 535.6,61.6 517.8,62.1 500.0,62.8 482.2,64.0 464.4,65.6 446.5,68.0 428.7,71.1 410.9,75.2 393.1,80.4 375.3,86.8 357.5,94.3 339.6,103.2 321.8,113.5 304.0,125.3 286.2,138.7 268.4,153.9 250.5,170.8 232.7,189.8 214.9,211.1 197.1,235.1 179.3,262.2 161.5,292.8 143.6,327.4 125.8,366.7 108.0,411.1" fill="#1aff28"/>
<polygon points="108.0,553.4 125.8,527.7 143.6,504.0 161.5,482.2 179.3,462.0 197.1,443.1 214.9,425.6 232.7,409.1 250.5,393.7 268.4,379.3 286.2,365.9 304.0,353.4 321.8,341.8 339.6,331.0 357.5,321.0 375.3,311.8 393.1,303.3 410.9,295.5 428.7,288.3 446.5,281.6 464.4,275.6 482.2,270.0 500.0,264.9 517.8,260.1 535.6,255.8 553.5,251.7 571.3,247.8 589.1,244.2 606.9,240.7 624.7,237.4 642.5,234.3 660.4,231.3 678.2,228.4 696.0,225.7 696.0,58.5 678.2,58.9 660.4,59.3 642.5,59.7 624.7,60.1 606.9,60.4 589.1,60.7 571.3,61.0 553.5,61.2 535.6,61.6 517.8,62.1 500.0,62.8 482.2,64.0 464.4,65.6 446.5,68.0 428.7,71.1 410.9,75.2 393.1,80.4 375.3,86.8 357.5,94.3 339.6,103.2 321.8,113.5 304.0,125.3 286.2,138.7 268.4,153.9 250.5,170.8 232.7,189.8 214.9,211.1 197.1,235.1 179.3,262.2 161.5,292.8 143.6,327.4 125.8,366.7 108.0,411.1" fill="#22ff36"/>
<polygon points="108.0,551.8 125.8,525.8 143.6,502.0 161.5,480.0 179.3,459.7 197.1,440.8 214.9,423.1 232.7,406.6 250.5,391.2 268.4,376.8 286.2,363.3 304.0,350.8 321.8,339.2 339.6,328.4 357.5,318.4 375.3,309.2 393.1,300.8 410.9,293.0 428.7,285.8 446.5,279.2 464.4,273.2 482.2,267.7 500.0,262.6 517.8,257.9 535.6,253.5 553.5,249.5 571.3,245.7 589.1,242.1 606.9,238.6 624.7,235.4 642.5,232.3 660.4,229.3 678.2,226.5 696.0,223.8 696.0,58.5 678.2,58.9 660.4,59.3 642.5,59.7 624.7,60.1 606.9,60.4 589.1,60.7 571.3,61.0 553.5,61.2 535.6,61.6 517.8,62.1 500.0,62.8 482.2,64.0 464.4,65.6 446.5,68.0 428.7,71.1 410.9,75.2 393.1,80.4 375.3,86.8 357.5,94.3 339.6,103.2 321.8,113.5 304.0,125.3 286.2,138.7 268.4,153.9 250.5,170.8 232.7,189.8 214.9,211.1 197.1,235.1 179.3,262.2 161.5,292.8 143.6,327.4 125.8,366.7 108.0,411.1" fill="#29ff41"/>
<polygon points="108.0,550.2 125.8,524.0 143.6,500.0 161.5,477.9 179.3,457.4 197.1,438.4 214.9,420.7 232.7,404.1 250.5,388.7 268.4,374.2 286.2,360.7 304.0,348.2 321.8,336.6 339.6,325.8 357.5,315.9 375.3,306.7 393.1,298.2 410.9,290.5 428.7,283.3 446.5,276.8 464.4,270.8 482.2,265.3 500.0,260.3 517.8,255.6 535.6,251.3 553.5,247.3 571.3,243.6 589.1,240.0 606.9,236.6 624.7,233.4 642.5,230.3 660.4,227.4 678.2,224.6 696.0,221.9 696.0,58.5 678.2,58.9 660.4,59.3 642.5,59.7 624.7,60.1 606.9,60.4 589.1,60.7 571.3,61.0 553.5,61.2 535.6,61.6 517.8,62.1 500.0,62.8 482.2,64.0 464.4,65.6 446.5,68.0 428.7,71.1 410.9,75.2 393.1,80.4 375.3,86.8 357.5,94.3 339.6,103.2 321.8,113.5 304.0,125.3 286.2,138.7 268.4,153.9 250.5,170.8 232.7,189.8 214.9,211.1 197.1,235.1 179.3,262.2 161.5,292.8 143.6,327.4 125.8,366.7 108.0,411.1" fill="#2eff4b"/>
<polygon points="108.0,548.6 125.8,522.2 143.6,498.0 161.5,475.7 179.3,455.1 197.1,436.1 214.9,418.3 232.7,401.6 250.5,386.1 268.4,371.6 286.2,358.1 304.0,345.6 321.8,334.0 339.6,323.2 357.5,313.3 375.3,304.1 393.1,295.7 410.9,288.0 428.7,280.9 446.5,274.4 464.4,268.4 482.2,263.0 500.0,258.0 517.8,253.4 535.6,249.1 553.5,245.2 571.3,241.4 589.1,237.9 606.9,234.5 624.7,231.3 642.5,228.3 660.4,225.4 678.2,222.7 696.0,220.0 696.0,58.5 678.2,58.9 660.4,59.3 642.5,59.7 624.7,60.1 606.9,60.4 589.1,60.7 571.3,61.0 553.5,61.2 535.6,61.6 517.8,62.1 500.0,62.8 482.2,64.0 464.4,65.6 446.5,68.0 428.7,71.1 410.9,75.2 393.1,80.4 375.3,86.8 357.5,94.3 339.6,103.2 321.8,113.5 304.0,125.3 286.2,138.7 268.4,153.9 250.5,170.8 232.7,189.8 214.9,211.1 197.1,235.1 179.3,262.2 161.5,292.8 143.6,327.4 125.8,366.7 108.0,411.1" fill="#33ff54"/>
<polygon points="108.0,546.9 125.8,520.3 143.6,496.0 161.5,473.5 179.3,452.9 197.1,433.7 214.9,415.8 232.7,399.2 250.5,383.6 268.4,369.1 286.2,355.6 304.0,343.0 321.8,331.4 339.6,320.6 357.5,310.7 375.3,301.6 393.1,293.2 410.9,285.5 428.7,278.4 446.5,271.9 464.4,266.0 482.2,260.6 500.0,255.7 517.8,251.1 535.6,246.9 553.5,243.0 571.3,239.3 589.1,235.8 606.9,232.5 624.7,229.3 642.5,226.3 660.4,223.4 678.2,220.7 696.0,218.1 696.0,58.5 678.2,58.9 660.4,59.3 642.5,59.7 624.7,60.1 606.9,60.4 589.1,60.7 571.3,61.0 553.5,61.2 535.6,61.6 517.8,62.1 500.0,62.8 482.2,64.0 464.4,65.6 446.5,68.0 428.7,71.1 410.9,75.2 393.1,80.4 375.3,86.8 357.5,94.3 339.6,103.2 321.8,113.5 304.0,125.3 286.2,138.7 268.4,153.9 250.5,170.8 232.7,189.8 214.9,211.1 197.1,235.1 179.3,262.2 161.5,292.8 143.6,327.4 125.8,366.7 108.0,411.1" fill="#37ff5d"/>
<polygon points="108.0,545.3 125.8,518.5 143.6,494.0 161.5,471.4 179.3,450.6 197.1,431.3 214.9,413.4 232.7,396.7 250.5,381.1 268.4,366.5 286.2,353.0 304.0,340.4 321.8,328.8 339.6,318.0 357.5,308.1 375.3,299.0 393.1,290.6 410.9,283.0 428.7,275.9 446.5,269.5 464.4,263.6 482.2,258.3 500.0,253.4 517.8,248.9 535.6,244.7 553.5,240.8 571.3,237.2 589.1,233.7 606.9,230.4 624.7,227.3 642.5,224.3 660.4,221.5 678.2,218.8 696.0,216.2 696.0,58.5 678.2,58.9 660.4,59.3 642.5,59.7 624.7,60.1 606.9,60.4 589.1,60.7 571.3,61.0 553.5,61.2 535.6,61.6 517.8,62.1 500.0,62.8 482.2,64.0 464.4,65.6 446.5,68.0 428.7,71.1 410.9,75.2 393.1,80.4 375.3,86.8 357.5,94.3 339.6,103.2 321.8,113.5 304.0,125.3 286.2,138.7 268.4,153.9 250.5,170.8 232.7,189.8 214.9,211.1 197.1,235.1 179.3,262.2 161.5,292.8 143.6,327.4 125.8,366.7 108.0,411.1" fill="#3aff65"/>
<polygon points="108.0,543.7 125.8,516.7 143.6,491.9 161.5,469.2 179.3,448.3 197.1,429.0 214.9,410.9 232.7,394.2 250.5,378.5 268.4,364.0 286.2,350.4 304.0,337.8 321.8,326.2 339.6,315.5 357.5,305.6 375.3,296.5 393.1,288.1 410.9,280.5 428.7,273.5 446.5,267.1 464.4,261.3 482.2,255.9 500.0,251.1 517.8,246.6 535.6,242.5 553.5,238.7 571.3,235.1 589.1,231.7 606.9,228.4 624.7,225.3 642.5,222.3 660.4,219.5 678.2,216.9 696.0,214.3 696.0,58.5 678.2,58.9 660.4,59.3 642.5,59.7 624.7,60.1 606.9,60.4 589.1,60.7 571.3,61.0 553.5,61.2 535.6,61.6 517.8,62.1 500.0,62.8 482.2,64.0 464.4,65.6 446.5,68.0 428.7,71.1 410.9,75.2 393.1,80.4 375.3,86.8 357.5,94.3 339.6,103.2 321.8,113.5 304.0,125.3 286.2,138.7 268.4,153.9 250.5,170.8 232.7,189.8 214.9,211.1 197.1,235.1 179.3,262.2 161.5,292.8 143.6,327.4 125.8,366.7 108.0,411.1" fill="#3dff6d"/>
<polygon points="108.0,542.1 125.8,514.9 143.6,489.9 161.5,467.1 179.3,446.1 197.1,426.6 214.9,408.5 232.7,391.7 250.5,376.0 268.4,361.4 286.2,347.8 304.0,335.2 321.8,323.6 339.6,312.9 357.5,303.0 375.3,293.9 393.1,285.6 410.9,278.0 428.7,271.0 446.5,264.6 464.4,258.9 482.2,253.6 500.0,248.8 517.8,244.4 535.6,240.3 553.5,236.5 571.3,232.9 589.1,229.6 606.9,226.4 624.7,223.3 642.5,220.4 660.4,217.6 678.2,214.9 696.0,212.4 696.0,58.5 678.2,58.9 660.4,59.3 642.5,59.7 624.7,60.1 606.9,60.4 589.1,60.7 571.3,61.0 553.5,61.2 535.6,61.6 517.8,62.1 500.0,62.8 482.2,64.0 464.4,65.6 446.5,68.0 428.7,71.1 410.9,75.2 393.1,80.4 375.3,86.8 357.5,94.3 339.6,103.2 321.8,113.5 304.0,125.3 286.2,138.7 268.4,153.9 250.5,170.8 232.7,189.8 214.9,211.1 197.1,235.1 179.3,262.2 161.5,292.8 143.6,327.4 125.8,366.7 108.0,411.1" fill="#3fff75"/>
<polygon points="108.0,540.5 125.8,513.0 143.6,487.9 161.5,464.9 179.3,443.8 197.1,424.2 214.9,406.1 232.7,389.2 250.5,373.5 268.4,358.8 286.2,345.2 304.0,332.6 321.8,321.0 339.6,310.3 357.5,300.4 375.3,291.3 393.1,283.0 410.9,275.5 428.7,268.5 446.5,262.2 464.4,256.5 482.2,251.3 500.0,246.5 517.8,242.1 535.6,238.1 553.5,234.3 571.3,230.8 589.1,227.5 606.9,224.3 624.7,221.3 642.5,218.4 660.4,215.6 678.2,213.0 696.0,210.5 696.0,58.5 678.2,58.9 660.4,59.3 642.5,59.7 624.7,60.1 606.9,60.4 589.1,60.7 571.3,61.0 553.5,61.2 535.6,61.6 517.8,62.1 500.0,62.8 482.2,64.0 464.4,65.6 446.5,68.0 428.7,71.1 410.9,75.2 393.1,80.4 375.3,86.8 357.5,94.3 339.6,103.2 321.8,113.5 304.0,125.3 286.2,138.7 268.4,153.9 250.5,170.8 232.7,189.8 214.9,211.1 197.1,235.1 179.3,262.2 161.5,292.8 143.6,327.4 125.8,366.7 108.0,411.1" fill="#41ff7c"/>
<polygon points="108.0,538.9 125.8,511.2 143.6,485.9 161.5,462.8 179.3,441.5 197.1,421.9 214.9,403.6 232.7,386.7 250.5,370.9 268.4,356.3 286.2,342.7 304.0,330.1 321.8,318.4 339.6,307.7 357.5,297.8 375.3,288.8 393.1,280.5 410.9,273.0 428.7,266.1 446.5,259.8 464.4,254.1 482.2,248.9 500.0,244.2 517.8,239.9 535.6,235.9 553.5,232.2 571.3,228.7 589.1,225.4 606.9,222.3 624.7,219.3 642.5,216.4 660.4,213.7 678.2,211.1 696.0,208.6 696.0,58.5 678.2,58.9 660.4,59.3 642.5,59.7 624.7,60.1 606.9,60.4 589.1,60.7 571.3,61.0 553.5,61.2 535.6,61.6 517.8,62.1 500.0,62.8 482.2,64.0 464.4,65.6 446.5,68.0 428.7,71.1 410.9,75.2 393.1,80.4 375.3,86.8 357.5,94.3 339.6,103.2 321.8,113.5 304.0,125.3 286.2,138.7 268.4,153.9 250.5,170.8 232.7,189.8 214.9,211.1 197.1,235.1 179.3,262.2 161.5,292.8 143.6,327.4 125.8,366.7 108.0,411.1" fill="#43ff83"/>
<polygon points="108.0,537.2 125.8,509.4 143.6,483.9 161.5,460.6 179.3,439.3 197.1,419.5 214.9,401.2 232.7,384.2 250.5,368.4 268.4,353.7 286.2,340.1 304.0,327.5 321.8,315.8 339.6,305.1 357.5,295.3 375.3,286.2 393.1,278.0 410.9,270.5 428.7,263.6 446.5,257.4 464.4,251.7 482.2,246.6 500.0,241.9 517.8,237.6 535.6,233.7 553.5,230.0 571.3,226.6 589.1,223.3 606.9,220.2 624.7,217.2 642.5,214.4 660.4,211.7 678.2,209.2 696.0,206.7 696.0,58.5 678.2,58.9 660.4,59.3 642.5,59.7 624.7,60.1 606.9,60.4 589.1,60.7 571.3,61.0 553.5,61.2 535.6,61.6 517.8,62.1 500.0,62.8 482.2,64.0 464.4,65.6 446.5,68.0 428.7,71.1 410.9,75.2 393.1,80.4 375.3,86.8 357.5,94.3 339.6,103.2 321.8,113.5 304.0,125.3 286.2,138.7 268.4,153.9 250.5,170.8 232.7,189.8 214.9,211.1 197.1,235.1 179.3,262.2 161.5,292.8 143.6,327.4 125.8,366.7 108.0,411.1" fill="#44ff8a"/>
<polygon points="108.0,535.6 125.8,507.5 143.6,481.9 161.5,458.5 179.3,437.0 197.1,417.1 214.9,398.8 232.7,381.7 250.5,365.9 268.4,351.1 286.2,337.5 304.0,324.9 321.8,313.2 339.6,302.5 357.5,292.7 375.3,283.7 393.1,275.4 410.9,267.9 428.7,261.1 446.5,254.9 464.4,249.3 482.2,244.2 500.0,239.6 517.8,235.4 535.6,231.5 553.5,227.9 571.3,224.5 589.1,221.2 606.9,218.2 624.7,215.2 642.5,212.4 660.4,209.8 678.2,207.2 696.0,204.8 696.0,58.5 678.2,58.9 660.4,59.3 642.5,59.7 624.7,60.1 606.9,60.4 589.1,60.7 571.3,61.0 553.5,61.2 535.6,61.6 517.8,62.1 500.0,62.8 482.2,64.0 464.4,65.6 446.5,68.0 428.7,71.1 410.9,75.2 393.1,80.4 375.3,86.8 357.5,94.3 339.6,103.2 321.8,113.5 304.0,125.3 286.2,138.7 268.4,153.9 250.5,170.8 232.7,189.8 214.9,211.1 197.1,235.1 179.3,262.2 161.5,292.8 143.6,327.4 125.8,366.7 108.0,411.1" fill="#45ff91"/>
<polygon points="108.0,534.0 125.8,505.7 143.6,479.9 161.5,456.3 179.3,434.7 197.1,414.8 214.9,396.3 232.7,379.2 250.5,363.3 268.4,348.6 286.2,334.9 304.0,322.3 321.8,310.6 339.6,299.9 357.5,290.1 375.3,281.1 393.1,272.9 410.9,265.4 428.7,258.7 446.5,252.5 464.4,246.9 482.2,241.9 500.0,237.3 517.8,233.1 535.6,229.3 553.5,225.7 571.3,222.3 589.1,219.1 606.9,216.1 624.7,213.2 642.5,210.4 660.4,207.8 678.2,205.3 696.0,202.9 696.0,58.5 678.2,58.9 660.4,59.3 642.5,59.7 624.7,60.1 606.9,60.4 589.1,60.7 571.3,61.0 553.5,61.2 535.6,61.6 517.8,62.1 500.0,62.8 482.2,64.0 464.4,65.6 446.5,68.0 428.7,71.1 410.9,75.2 393.1,80.4 375.3,86.8 357.5,94.3 339.6,103.2 321.8,113.5 304.0,125.3 286.2,138.7 268.4,153.9 250.5,170.8 232.7,189.8 214.9,211.1 197.1,235.1 179.3,262.2 161.5,292.8 143.6,327.4 125.8,366.7 108.0,411.1" fill="#46ff98"/>
<polygon points="108.0,532.4 125.8,503.9 143.6,477.9 161.5,454.2 179.3,432.4 197.1,412.4 214.9,393.9 232.7,376.7 250.5,360.8 268.4,346.0 286.2,332.3 304.0,319.7 321.8,308.0 339.6,297.3 357.5,287.5 375.3,278.6 393.1,270.4 410.9,262.9 428.7,256.2 446.5,250.1 464.4,244.6 482.2,239.6 500.0,235.0 517.8,230.9 535.6,227.1 553.5,223.5 571.3,220.2 589.1,217.1 606.9,214.1 624.7,211.2 642.5,208.5 660.4,205.9 678.2,203.4 696.0,201.0 696.0,58.5 678.2,58.9 660.4,59.3 642.5,59.7 624.7,60.1 606.9,60.4 589.1,60.7 571.3,61.0 553.5,61.2 535.6,61.6 517.8,62.1 500.0,62.8 482.2,64.0 464.4,65.6 446.5,68.0 428.7,71.1 410.9,75.2 393.1,80.4 375.3,86.8 357.5,94.3 339.6,103.2 321.8,113.5 304.0,125.3 286.2,138.7 268.4,153.9 250.5,170.8 232.7,189.8 214.9,211.1 197.1,235.1 179.3,262.2 161.5,292.8 143.6,327.4 125.8,366.7 108.0,411.1" fill="#46ff9f"/>
<polygon points="108.0,530.8 125.8,502.0 143.6,475.9 161.5,452.0 179.3,430.2 197.1,410.0 214.9,391.5 232.7,374.2 250.5,358.3 268.4,343.5 286.2,329.8 304.0,317.1 321.8,305.4 339.6,294.7 357.5,284.9 375.3,276.0 393.1,267.8 410.9,260.4 428.7,253.7 446.5,247.7 464.4,242.2 482.2,237.2 500.0,232.7 517.8,228.6 535.6,224.9 553.5,221.4 571.3,218.1 589.1,215.0 606.9,212.0 624.7,209.2 642.5,206.5 660.4,203.9 678.2,201.5 696.0,199.1 696.0,58.5 678.2,58.9 660.4,59.3 642.5,59.7 624.7,60.1 606.9,60.4 589.1,60.7 571.3,61.0 553.5,61.2 535.6,61.6 517.8,62.1 500.0,62.8 482.2,64.0 464.4,65.6 446.5,68.0 428.7,71.1 410.9,75.2 393.1,80.4 375.3,86.8 357.5,94.3 339.6,103.2 321.8,113.5 304.0,125.3 286.2,138.7 268.4,153.9 250.5,170.8 232.7,189.8 214.9,211.1 197.1,235.1 179.3,262.2 161.5,292.8 143.6,327.4 125.8,366.7 108.0,411.1" fill="#46ffa6"/>
<polygon points="108.0,529.2 125.8,500.2 143.6,473.9 161.5,449.9 179.3,427.9 197.1,407.7 214.9,389.0 232.7,371.7 250.5,355.7 268.4,340.9 286.2,327.2 304.0,314.5 321.8,302.9 339.6,292.2 357.5,282.4 375.3,273.4 393.1,265.3 410.9,257.9 428.7,251.3 446.5,245.2 464.4,239.8 482.2,234.9 500.0,230.4 517.8,226.4 535.6,222.7 553.5,219.2 571.3,216.0 589.1,212.9 606.9,210.0 624.7,207.2 642.5,204.5 660.4,202.0 678.2,199.5 696.0,197.2 696.0,58.5 678.2,58.9 660.4,59.3 642.5,59.7 624.7,60.1 606.9,60.4 589.1,60.7 571.3,61.0 553.5,61.2 535.6,61.6 517.8,62.1 500.0,62.8 482.2,64.0 464.4,65.6 446.5,68.0 428.7,71.1 410.9,75.2 393.1,80.4 375.3,86.8 357.5,94.3 339.6,103.2 321.8,113.5 304.0,125.3 286.2,138.7 268.4,153.9 250.5,170.8 232.7,189.8 214.9,211.1 197.1,235.1 179.3,262.2 161.5,292.8 143.6,327.4 125.8,366.7 108.0,411.1" fill="#46ffad"/>
<polygon points="108.0,527.5 125.8,498.4 143.6,471.9 161.5,447.7 179.3,425.6 197.1,405.3 214.9,386.6 232.7,369.2 250.5,353.2 268.4,338.3 286.2,324.6 304.0,311.9 321.8,300.3 339.6,289.6 357.5,279.8 375.3,270.9 393.1,262.8 410.9,255.4 428.7,248.8 446.5,242.8 464.4,237.4 482.2,232.5 500.0,228.1 517.8,224.1 535.6,220.4 553.5,217.0 571.3,213.8 589.1,210.8 606.9,207.9 624.7,205.2 642.5,202.5 660.4,200.0 678.2,197.6 696.0,195.3 696.0,58.5 678.2,58.9 660.4,59.3 642.5,59.7 624.7,60.1 606.9,60.4 589.1,60.7 571.3,61.0 553.5,61.2 535.6,61.6 517.8,62.1 500.0,62.8 482.2,64.0 464.4,65.6 446.5,68.0 428.7,71.1 410.9,75.2 393.1,80.4 375.3,86.8 357.5,94.3 339.6,103.2 321.8,113.5 304.0,125.3 286.2,138.7 268.4,153.9 250.5,170.8 232.7,189.8 214.9,211.1 197.1,235.1 179.3,262.2 161.5,292.8 143.6,327.4 125.8,366.7 108.0,411.1" fill="#45ffb3"/>
<polygon points="108.0,525.9 125.8,496.6 143.6,469.9 161.5,445.6 179.3,423.4 197.1,403.0 214.9,384.1 232.7,366.8 250.5,350.7 268.4,335.8 286.2,322.0 304.0,309.3 321.8,297.7 339.6,287.0 357.5,277.2 375.3,268.3 393.1,260.3 410.9,252.9 428.7,246.3 446.5,240.4 464.4,235.0 482.2,230.2 500.0,225.8 517.8,221.9 535.6,218.2 553.5,214.9 571.3,211.7 589.1,208.7 606.9,205.9 624.7,203.1 642.5,200.5 660.4,198.0 678.2,195.7 696.0,193.4 696.0,58.5 678.2,58.9 660.4,59.3 642.5,59.7 624.7,60.1 606.9,60.4 589.1,60.7 571.3,61.0 553.5,61.2 535.6,61.6 517.8,62.1 500.0,62.8 482.2,64.0 464.4,65.6 446.5,68.0 428.7,71.1 410.9,75.2 393.1,80.4 375.3,86.8 357.5,94.3 339.6,103.2 321.8,113.5 304.0,125.3 286.2,138.7 268.4,153.9 250.5,170.8 232.7,189.8 214.9,211.1 197.1,235.1 179.3,262.2 161.5,292.8 143.6,327.4 125.8,366.7 108.0,411.1" fill="#44ffba"/>
<polygon points="108.0,524.3 125.8,494.7 143.6,467.9 161.5,443.4 179.3,421.1 197.1,400.6 214.9,381.7 232.7,364.3 250.5,348.1 268.4,333.2 286.2,319.4 304.0,306.7 321.8,295.1 339.6,284.4 357.5,274.6 375.3,265.8 393.1,257.7 410.9,250.4 428.7,243.9 446.5,237.9 464.4,232.6 482.2,227.9 500.0,223.5 517.8,219.6 535.6,216.0 553.5,212.7 571.3,209.6 589.1,206.6 606.9,203.8 624.7,201.1 642.5,198.5 660.4,196.1 678.2,193.8 696.0,191.5 696.0,58.5 678.2,58.9 660.4,59.3 642.5,59.7 624.7,60.1 606.9,60.4 589.1,60.7 571.3,61.0 553.5,61.2 535.6,61.6 517.8,62.1 500.0,62.8 482.2,64.0 464.4,65.6 446.5,68.0 428.7,71.1 410.9,75.2 393.1,80.4 375.3,86.8 357.5,94.3 339.6,103.2 321.8,113.5 304.0,125.3 286.2,138.7 268.4,153.9 250.5,170.8 232.7,189.8 214.9,211.1 197.1,235.1 179.3,262.2 161.5,292.8 143.6,327.4 125.8,366.7 108.0,411.1" fill="#43ffc1"/>
<polygon points="108.0,522.7 125.8,492.9 143.6,465.9 161.5,441.3 179.3,418.8 197.1,398.2 214.9,379.3 232.7,361.8 250.5,345.6 268.4,330.7 286.2,316.8 304.0,304.1 321.8,292.5 339.6,281.8 357.5,272.1 375.3,263.2 393.1,255.2 410.9,247.9 428.7,241.4 446.5,235.5 464.4,230.2 482.2,225.5 500.0,221.2 517.8,217.4 535.6,213.8 553.5,210.5 571.3,207.5 589.1,204.6 606.9,201.8 624.7,199.1 642.5,196.6 660.4,194.1 678.2,191.8 696.0,189.6 696.0,58.5 678.2,58.9 660.4,59.3 642.5,59.7 624.7,60.1 606.9,60.4 589.1,60.7 571.3,61.0 553.5,61.2 535.6,61.6 517.8,62.1 500.0,62.8 482.2,64.0 464.4,65.6 446.5,68.0 428.7,71.1 410.9,75.2 393.1,80.4 375.3,86.8 357.5,94.3 339.6,103.2 321.8,113.5 304.0,125.3 286.2,138.7 268.4,153.9 250.5,170.8 232.7,189.8 214.9,211.1 197.1,235.1 179.3,262.2 161.5,292.8 143.6,327.4 125.8,366.7 108.0,411.1" fill="#41ffc7"/>
<polygon points="108.0,521.1 125.8,491.1 143.6,463.9 161.5,439.1 179.3,416.6 197.1,395.9 214.9,376.8 232.7,359.3 250.5,343.1 268.4,328.1 286.2,314.3 304.0,301.5 321.8,289.9 339.6,279.2 357.5,269.5 375.3,260.7 393.1,252.7 410.9,245.4 428.7,238.9 446.5,233.1 464.4,227.9 482.2,223.2 500.0,219.0 517.8,215.1 535.6,211.6 553.5,208.4 571.3,205.3 589.1,202.5 606.9,199.7 624.7,197.1 642.5,194.6 660.4,192.2 678.2,189.9 696.0,187.7 696.0,58.5 678.2,58.9 660.4,59.3 642.5,59.7 624.7,60.1 606.9,60.4 589.1,60.7 571.3,61.0 553.5,61.2 535.6,61.6 517.8,62.1 500.0,62.8 482.2,64.0 464.4,65.6 446.5,68.0 428.7,71.1 410.9,75.2 393.1,80.4 375.3,86.8 357.5,94.3 339.6,103.2 321.8,113.5 304.0,125.3 286.2,138.7 268.4,153.9 250.5,170.8 232.7,189.8 214.9,211.1 197.1,235.1 179.3,262.2 161.5,292.8 143.6,327.4 125.8,366.7 108.0,411.1" fill="#3effce"/>
<polygon points="108.0,519.5 125.8,489.2 143.6,461.8 161.5,437.0 179.3,414.3 197.1,393.5 214.9,374.4 232.7,356.8 250.5,340.5 268.4,325.5 286.2,311.7 304.0,299.0 321.8,287.3 339.6,276.6 357.5,266.9 375.3,258.1 393.1,250.1 410.9,242.9 428.7,236.5 446.5,230.7 464.4,225.5 482.2,220.8 500.0,216.7 517.8,212.9 535.6,209.4 553.5,206.2 571.3,203.2 589.1,200.4 606.9,197.7 624.7,195.1 642.5,192.6 660.4,190.2 678.2,188.0 696.0,185.8 696.0,58.5 678.2,58.9 660.4,59.3 642.5,59.7 624.7,60.1 606.9,60.4 589.1,60.7 571.3,61.0 553.5,61.2 535.6,61.6 517.8,62.1 500.0,62.8 482.2,64.0 464.4,65.6 446.5,68.0 428.7,71.1 410.9,75.2 393.1,80.4 375.3,86.8 357.5,94.3 339.6,103.2 321.8,113.5 304.0,125.3 286.2,138.7 268.4,153.9 250.5,170.8 232.7,189.8 214.9,211.1 197.1,235.1 179.3,262.2 161.5,292.8 143.6,327.4 125.8,366.7 108.0,411.1" fill="#3cffd4"/>
<polygon points="108.0,517.8 125.8,487.4 143.6,459.8 161.5,434.8 179.3,412.0 197.1,391.1 214.9,372.0 232.7,354.3 250.5,338.0 268.4,323.0 286.2,309.1 304.0,296.4 321.8,284.7 339.6,274.0 357.5,264.3 375.3,255.5 393.1,247.6 410.9,240.4 428.7,234.0 446.5,228.2 464.4,223.1 482.2,218.5 500.0,214.4 517.8,210.6 535.6,207.2 553.5,204.0 571.3,201.1 589.1,198.3 606.9,195.6 624.7,193.1 642.5,190.6 660.4,188.3 678.2,186.0 696.0,183.9 696.0,58.5 678.2,58.9 660.4,59.3 642.5,59.7 624.7,60.1 606.9,60.4 589.1,60.7 571.3,61.0 553.5,61.2 535.6,61.6 517.8,62.1 500.0,62.8 482.2,64.0 464.4,65.6 446.5,68.0 428.7,71.1 410.9,75.2 393.1,80.4 375.3,86.8 357.5,94.3 339.6,103.2 321.8,113.5 304.0,125.3 286.2,138.7 268.4,153.9 250.5,170.8 232.7,189.8 214.9,211.1 197.1,235.1 179.3,262.2 161.5,292.8 143.6,327.4 125.8,366.7 108.0,411.1" fill="#38ffdb"/>
<polygon points="108.0,516.2 125.8,485.6 143.6,457.8 161.5,432.7 179.3,409.7 197.1,388.8 214.9,369.5 232.7,351.8 250.5,335.5 268.4,320.4 286.2,306.5 304.0,293.8 321.8,282.1 339.6,271.5 357.5,261.8 375.3,253.0 393.1,245.1 410.9,237.9 428.7,231.5 446.5,225.8 464.4,220.7 482.2,216.1 500.0,212.1 517.8,208.4 535.6,205.0 553.5,201.9 571.3,199.0 589.1,196.2 606.9,193.6 624.7,191.0 642.5,188.6 660.4,186.3 678.2,184.1 696.0,182.0 696.0,58.5 678.2,58.9 660.4,59.3 642.5,59.7 624.7,60.1 606.9,60.4 589.1,60.7 571.3,61.0 553.5,61.2 535.6,61.6 517.8,62.1 500.0,62.8 482.2,64.0 464.4,65.6 446.5,68.0 428.7,71.1 410.9,75.2 393.1,80.4 375.3,86.8 357.5,94.3 339.6,103.2 321.8,113.5 304.0,125.3 286.2,138.7 268.4,153.9 250.5,170.8 232.7,189.8 214.9,211.1 197.1,235.1 179.3,262.2 161.5,292.8 143.6,327.4 125.8,366.7 108.0,411.1" fill="#34ffe1"/>
<polygon points="108.0,514.6 125.8,483.8 143.6,455.8 161.5,430.5 179.3,407.5 197.1,386.4 214.9,367.1 232.7,349.3 250.5,332.9 268.4,317.8 286.2,303.9 304.0,291.2 321.8,279.5 339.6,268.9 357.5,259.2 375.3,250.4 393.1,242.5 410.9,235.4 428.7,229.1 446.5,223.4 464.4,218.3 482.2,213.8 500.0,209.8 517.8,206.1 535.6,202.8 553.5,199.7 571.3,196.9 589.1,194.1 606.9,191.5 624.7,189.0 642.5,186.6 660.4,184.4 678.2,182.2 696.0,180.1 696.0,58.5 678.2,58.9 660.4,59.3 642.5,59.7 624.7,60.1 606.9,60.4 589.1,60.7 571.3,61.0 553.5,61.2 535.6,61.6 517.8,62.1 500.0,62.8 482.2,64.0 464.4,65.6 446.5,68.0 428.7,71.1 410.9,75.2 393.1,80.4 375.3,86.8 357.5,94.3 339.6,103.2 321.8,113.5 304.0,125.3 286.2,138.7 268.4,153.9 250.5,170.8 232.7,189.8 214.9,211.1 197.1,235.1 179.3,262.2 161.5,292.8 143.6,327.4 125.8,366.7 108.0,411.1" fill="#2effe8"/>
<polygon points="108.0,513.0 125.8,481.9 143.6,453.8 161.5,428.4 179.3,405.2 197.1,384.0 214.9,364.7 232.7,346.8 250.5,330.4 268.4,315.3 286.2,301.4 304.0,288.6 321.8,276.9 339.6,266.3 357.5,256.6 375.3,247.9 393.1,240.0 410.9,232.9 428.7,226.6 446.5,220.9 464.4,215.9 482.2,211.5 500.0,207.5 517.8,203.9 535.6,200.6 553.5,197.6 571.3,194.7 589.1,192.0 606.9,189.5 624.7,187.0 642.5,184.7 660.4,182.4 678.2,180.3 696.0,178.2 696.0,58.5 678.2,58.9 660.4,59.3 642.5,59.7 624.7,60.1 606.9,60.4 589.1,60.7 571.3,61.0 553.5,61.2 535.6,61.6 517.8,62.1 500.0,62.8 482.2,64.0 464.4,65.6 446.5,68.0 428.7,71.1 410.9,75.2 393.1,80.4 375.3,86.8 357.5,94.3 339.6,103.2 321.8,113.5 304.0,125.3 286.2,138.7 268.4,153.9 250.5,170.8 232.7,189.8 214.9,211.1 197.1,235.1 179.3,262.2 161.5,292.8 143.6,327.4 125.8,366.7 108.0,411.1" fill="#28ffef"/>
<polygon points="108.0,511.4 125.8,480.1 143.6,451.8 161.5,426.2 179.3,402.9 197.1,381.7 214.9,362.2 232.7,344.3 250.5,327.9 268.4,312.7 286.2,298.8 304.0,286.0 321.8,274.3 339.6,263.7 357.5,254.0 375.3,245.3 393.1,237.5 410.9,230.4 428.7,224.1 446.5,218.5 464.4,213.5 482.2,209.1 500.0,205.2 517.8,201.6 535.6,198.4 553.5,195.4 571.3,192.6 589.1,190.0 606.9,187.4 624.7,185.0 642.5,182.7 660.4,180.5 678.2,178.3 696.0,176.3 696.0,58.5 678.2,58.9 660.4,59.3 642.5,59.7 624.7,60.1 606.9,60.4 589.1,60.7 571.3,61.0 553.5,61.2 535.6,61.6 517.8,62.1 500.0,62.8 482.2,64.0 464.4,65.6 446.5,68.0 428.7,71.1 410.9,75.2 393.1,80.4 375.3,86.8 357.5,94.3 339.6,103.2 321.8,113.5 304.0,125.3 286.2,138.7 268.4,153.9 250.5,170.8 232.7,189.8 214.9,211.1 197.1,235.1 179.3,262.2 161.5,292.8 143.6,327.4 125.8,366.7 108.0,411.1" fill="#1efff5"/>
<polygon points="108.0,509.8 125.8,478.3 143.6,449.8 161.5,424.0 179.3,400.7 197.1,379.3 214.9,359.8 232.7,341.8 250.5,325.3 268.4,310.2 286.2,296.2 304.0,283.4 321.8,271.7 339.6,261.1 357.5,251.5 375.3,242.8 393.1,234.9 410.9,227.9 428.7,221.6 446.5,216.1 464.4,211.2 482.2,206.8 500.0,202.9 517.8,199.4 535.6,196.2 553.5,193.2 571.3,190.5 589.1,187.9 606.9,185.4 624.7,183.0 642.5,180.7 660.4,178.5 678.2,176.4 696.0,174.4 696.0,58.5 678.2,58.9 660.4,59.3 642.5,59.7 624.7,60.1 606.9,60.4 589.1,60.7 571.3,61.0 553.5,61.2 535.6,61.6 517.8,62.1 500.0,62.8 482.2,64.0 464.4,65.6 446.5,68.0 428.7,71.1 410.9,75.2 393.1,80.4 375.3,86.8 357.5,94.3 339.6,103.2 321.8,113.5 304.0,125.3 286.2,138.7 268.4,153.9 250.5,170.8 232.7,189.8 214.9,211.1 197.1,235.1 179.3,262.2 161.5,292.8 143.6,327.4 125.8,366.7 108.0,411.1" fill="#0efffc"/>
<polygon points="108.0,508.1 125.8,476.4 143.6,447.8 161.5,421.9 179.3,398.4 197.1,377.0 214.9,357.3 232.7,339.3 250.5,322.8 268.4,307.6 286.2,293.6 304.0,280.8 321.8,269.1 339.6,258.5 357.5,248.9 375.3,240.2 393.1,232.4 410.9,225.4 428.7,219.2 446.5,213.7 464.4,208.8 482.2,204.4 500.0,200.6 517.8,197.1 535.6,194.0 553.5,191.1 571.3,188.4 589.1,185.8 606.9,183.3 624.7,181.0 642.5,178.7 660.4,176.5 678.2,174.5 696.0,172.5 696.0,58.5 678.2,58.9 660.4,59.3 642.5,59.7 624.7,60.1 606.9,60.4 589.1,60.7 571.3,61.0 553.5,61.2 535.6,61.6 517.8,62.1 500.0,62.8 482.2,64.0 464.4,65.6 446.5,68.0 428.7,71.1 410.9,75.2 393.1,80.4 375.3,86.8 357.5,94.3 339.6,103.2 321.8,113.5 304.0,125.3 286.2,138.7 268.4,153.9 250.5,170.8 232.7,189.8 214.9,211.1 197.1,235.1 179.3,262.2 161.5,292.8 143.6,327.4 125.8,366.7 108.0,411.1" fill="#15fbff"/>
<polygon points="108.0,506.5 125.8,474.6 143.6,445.8 161.5,419.7 179.3,396.1 197.1,374.6 214.9,354.9 232.7,336.8 250.5,320.3 268.4,305.0 286.2,291.0 304.0,278.2 321.8,266.5 339.6,255.9 357.5,246.3 375.3,237.6 393.1,229.9 410.9,222.9 428.7,216.7 446.5,211.2 464.4,206.4 482.2,202.1 500.0,198.3 517.8,194.9 535.6,191.8 553.5,188.9 571.3,186.2 589.1,183.7 606.9,181.3 624.7,179.0 642.5,176.7 660.4,174.6 678.2,172.6 696.0,170.6 696.0,58.5 678.2,58.9 660.4,59.3 642.5,59.7 624.7,60.1 606.9,60.4 589.1,60.7 571.3,61.0 553.5,61.2 535.6,61.6 517.8,62.1 500.0,62.8 482.2,64.0 464.4,65.6 446.5,68.0 428.7,71.1 410.9,75.2 393.1,80.4 375.3,86.8 357.5,94.3 339.6,103.2 321.8,113.5 304.0,125.3 286.2,138.7 268.4,153.9 250.5,170.8 232.7,189.8 214.9,211.1 197.1,235.1 179.3,262.2 161.5,292.8 143.6,327.4 125.8,366.7 108.0,411.1" fill="#28f4ff"/>
<polygon points="108.0,504.9 125.8,472.8 143.6,443.8 161.5,417.6 179.3,393.9 197.1,372.2 214.9,352.5 232.7,334.4 250.5,317.7 268.4,302.5 286.2,288.5 304.0,275.6 321.8,263.9 339.6,253.3 357.5,243.7 375.3,235.1 393.1,227.3 410.9,220.4 428.7,214.2 446.5,208.8 464.4,204.0 482.2,199.8 500.0,196.0 517.8,192.6 535.6,189.6 553.5,186.7 571.3,184.1 589.1,181.6 606.9,179.2 624.7,176.9 642.5,174.7 660.4,172.6 678.2,170.6 696.0,168.7 696.0,58.5 678.2,58.9 660.4,59.3 642.5,59.7 624.7,60.1 606.9,60.4 589.1,60.7 571.3,61.0 553.5,61.2 535.6,61.6 517.8,62.1 500.0,62.8 482.2,64.0 464.4,65.6 446.5,68.0 428.7,71.1 410.9,75.2 393.1,80.4 375.3,86.8 357.5,94.3 339.6,103.2 321.8,113.5 304.0,125.3 286.2,138.7 268.4,153.9 250.5,170.8 232.7,189.8 214.9,211.1 197.1,235.1 179.3,262.2 161.5,292.8 143.6,327.4 125.8,366.7 108.0,411.1" fill="#34edff"/>
<polygon points="108.0,503.3 125.8,471.0 143.6,441.8 161.5,415.4 179.3,391.6 197.1,369.9 214.9,350.0 232.7,331.9 250.5,315.2 268.4,299.9 286.2,285.9 304.0,273.0 321.8,261.4 339.6,250.7 357.5,241.2 375.3,232.5 393.1,224.8 410.9,217.9 428.7,211.8 446.5,206.4 464.4,201.6 482.2,197.4 500.0,193.7 517.8,190.4 535.6,187.3 553.5,184.6 571.3,182.0 589.1,179.5 606.9,177.2 624.7,174.9 642.5,172.8 660.4,170.7 678.2,168.7 696.0,166.8 696.0,58.5 678.2,58.9 660.4,59.3 642.5,59.7 624.7,60.1 606.9,60.4 589.1,60.7 571.3,61.0 553.5,61.2 535.6,61.6 517.8,62.1 500.0,62.8 482.2,64.0 464.4,65.6 446.5,68.0 428.7,71.1 410.9,75.2 393.1,80.4 375.3,86.8 357.5,94.3 339.6,103.2 321.8,113.5 304.0,125.3 286.2,138.7 268.4,153.9 250.5,170.8 232.7,189.8 214.9,211.1 197.1,235.1 179.3,262.2 161.5,292.8 143.6,327.4 125.8,366.7 108.0,411.1" fill="#3ce5ff"/>
<polygon points="108.0,501.7 125.8,469.1 143.6,439.8 161.5,413.3 179.3,389.3 197.1,367.5 214.9,347.6 232.7,329.4 250.5,312.7 268.4,297.3 286.2,283.3 304.0,270.5 321.8,258.8 339.6,248.2 357.5,238.6 375.3,230.0 393.1,222.3 410.9,215.4 428.7,209.3 446.5,203.9 464.4,199.2 482.2,195.1 500.0,191.4 517.8,188.1 535.6,185.1 553.5,182.4 571.3,179.9 589.1,177.5 606.9,175.1 624.7,172.9 642.5,170.8 660.4,168.7 678.2,166.8 696.0,164.9 696.0,58.5 678.2,58.9 660.4,59.3 642.5,59.7 624.7,60.1 606.9,60.4 589.1,60.7 571.3,61.0 553.5,61.2 535.6,61.6 517.8,62.1 500.0,62.8 482.2,64.0 464.4,65.6 446.5,68.0 428.7,71.1 410.9,75.2 393.1,80.4 375.3,86.8 357.5,94.3 339.6,103.2 321.8,113.5 304.0,125.3 286.2,138.7 268.4,153.9 250.5,170.8 232.7,189.8 214.9,211.1 197.1,235.1 179.3,262.2 161.5,292.8 143.6,327.4 125.8,366.7 108.0,411.1" fill="#43deff"/>
<polygon points="108.0,500.1 125.8,467.3 143.6,437.8 161.5,411.1 179.3,387.0 197.1,365.1 214.9,345.2 232.7,326.9 250.5,310.1 268.4,294.8 286.2,280.7 304.0,267.9 321.8,256.2 339.6,245.6 357.5,236.0 375.3,227.4 393.1,219.7 410.9,212.9 428.7,206.8 446.5,201.5 464.4,196.8 482.2,192.7 500.0,189.1 517.8,185.9 535.6,182.9 553.5,180.2 571.3,177.7 589.1,175.4 606.9,173.1 624.7,170.9 642.5,168.8 660.4,166.8 678.2,164.9 696.0,163.0 696.0,58.5 678.2,58.9 660.4,59.3 642.5,59.7 624.7,60.1 606.9,60.4 589.1,60.7 571.3,61.0 553.5,61.2 535.6,61.6 517.8,62.1 500.0,62.8 482.2,64.0 464.4,65.6 446.5,68.0 428.7,71.1 410.9,75.2 393.1,80.4 375.3,86.8 357.5,94.3 339.6,103.2 321.8,113.5 304.0,125.3 286.2,138.7 268.4,153.9 250.5,170.8 232.7,189.8 214.9,211.1 197.1,235.1 179.3,262.2 161.5,292.8 143.6,327.4 125.8,366.7 108.0,411.1" fill="#48d7ff"/>
<polygon points="108.0,498.4 125.8,465.5 143.6,435.8 161.5,409.0 179.3,384.8 197.1,362.8 214.9,342.7 232.7,324.4 250.5,307.6 268.4,292.2 286.2,278.1 304.0,265.3 321.8,253.6 339.6,243.0 357.5,233.4 375.3,224.9 393.1,217.2 410.9,210.4 428.7,204.4 446.5,199.1 464.4,194.5 482.2,190.4 500.0,186.8 517.8,183.6 535.6,180.7 553.5,178.1 571.3,175.6 589.1,173.3 606.9,171.0 624.7,168.9 642.5,166.8 660.4,164.8 678.2,162.9 696.0,161.1 696.0,58.5 678.2,58.9 660.4,59.3 642.5,59.7 624.7,60.1 606.9,60.4 589.1,60.7 571.3,61.0 553.5,61.2 535.6,61.6 517.8,62.1 500.0,62.8 482.2,64.0 464.4,65.6 446.5,68.0 428.7,71.1 410.9,75.2 393.1,80.4 375.3,86.8 357.5,94.3 339.6,103.2 321.8,113.5 304.0,125.3 286.2,138.7 268.4,153.9 250.5,170.8 232.7,189.8 214.9,211.1 197.1,235.1 179.3,262.2 161.5,292.8 143.6,327.4 125.8,366.7 108.0,411.1" fill="#4cd0ff"/>
<polygon points="108.0,496.8 125.8,463.6 143.6,433.8 161.5,406.8 179.3,382.5 197.1,360.4 214.9,340.3 232.7,321.9 250.5,305.1 268.4,289.7 286.2,275.5 304.0,262.7 321.8,251.0 339.6,240.4 357.5,230.9 375.3,222.3 393.1,214.7 410.9,207.9 428.7,201.9 446.5,196.7 464.4,192.1 482.2,188.1 500.0,184.5 517.8,181.4 535.6,178.5 553.5,175.9 571.3,173.5 589.1,171.2 606.9,169.0 624.7,166.9 642.5,164.8 660.4,162.9 678.2,161.0 696.0,159.2 696.0,58.5 678.2,58.9 660.4,59.3 642.5,59.7 624.7,60.1 606.9,60.4 589.1,60.7 571.3,61.0 553.5,61.2 535.6,61.6 517.8,62.1 500.0,62.8 482.2,64.0 464.4,65.6 446.5,68.0 428.7,71.1 410.9,75.2 393.1,80.4 375.3,86.8 357.5,94.3 339.6,103.2 321.8,113.5 304.0,125.3 286.2,138.7 268.4,153.9 250.5,170.8 232.7,189.8 214.9,211.1 197.1,235.1 179.3,262.2 161.5,292.8 143.6,327.4 125.8,366.7 108.0,411.1" fill="#4fc8ff"/>
<polygon points="108.0,495.2 125.8,461.8 143.6,431.8 161.5,404.7 179.3,380.2 197.1,358.0 214.9,337.8 232.7,319.4 250.5,302.5 268.4,287.1 286.2,273.0 304.0,260.1 321.8,248.4 339.6,237.8 357.5,228.3 375.3,219.7 393.1,212.1 410.9,205.4 428.7,199.4 446.5,194.2 464.4,189.7 482.2,185.7 500.0,182.2 517.8,179.1 535.6,176.3 553.5,173.8 571.3,171.4 589.1,169.1 606.9,166.9 624.7,164.8 642.5,162.8 660.4,160.9 678.2,159.1 696.0,157.3 696.0,58.5 678.2,58.9 660.4,59.3 642.5,59.7 624.7,60.1 606.9,60.4 589.1,60.7 571.3,61.0 553.5,61.2 535.6,61.6 517.8,62.1 500.0,62.8 482.2,64.0 464.4,65.6 446.5,68.0 428.7,71.1 410.9,75.2 393.1,80.4 375.3,86.8 357.5,94.3 339.6,103.2 321.8,113.5 304.0,125.3 286.2,138.7 268.4,153.9 250.5,170.8 232.7,189.8 214.9,211.1 197.1,235.1 179.3,262.2 161.5,292.8 143.6,327.4 125.8,366.7 108.0,411.1" fill="#52c1ff"/>
<polygon points="108.0,493.6 125.8,460.0 143.6,429.7 161.5,402.5 179.3,378.0 197.1,355.7 214.9,335.4 232.7,316.9 250.5,300.0 268.4,284.5 286.2,270.4 304.0,257.5 321.8,245.8 339.6,235.2 357.5,225.7 375.3,217.2 393.1,209.6 410.9,202.9 428.7,197.0 446.5,191.8 464.4,187.3 482.2,183.4 500.0,179.9 517.8,176.9 535.6,174.1 553.5,171.6 571.3,169.2 589.1,167.0 606.9,164.9 624.7,162.8 642.5,160.9 660.4,159.0 678.2,157.1 696.0,155.4 696.0,58.5 678.2,58.9 660.4,59.3 642.5,59.7 624.7,60.1 606.9,60.4 589.1,60.7 571.3,61.0 553.5,61.2 535.6,61.6 517.8,62.1 500.0,62.8 482.2,64.0 464.4,65.6 446.5,68.0 428.7,71.1 410.9,75.2 393.1,80.4 375.3,86.8 357.5,94.3 339.6,103.2 321.8,113.5 304.0,125.3 286.2,138.7 268.4,153.9 250.5,170.8 232.7,189.8 214.9,211.1 197.1,235.1 179.3,262.2 161.5,292.8 143.6,327.4 125.8,366.7 108.0,411.1" fill="#54baff"/>
<polygon points="108.0,492.0 125.8,458.1 143.6,427.7 161.5,400.4 179.3,375.7 197.1,353.3 214.9,333.0 232.7,314.4 250.5,297.5 268.4,282.0 286.2,267.8 304.0,254.9 321.8,243.2 339.6,232.6 357.5,223.1 375.3,214.6 393.1,207.1 410.9,200.4 428.7,194.5 446.5,189.4 464.4,184.9 482.2,181.0 500.0,177.6 517.8,174.6 535.6,171.9 553.5,169.4 571.3,167.1 589.1,164.9 606.9,162.8 624.7,160.8 642.5,158.9 660.4,157.0 678.2,155.2 696.0,153.5 696.0,58.5 678.2,58.9 660.4,59.3 642.5,59.7 624.7,60.1 606.9,60.4 589.1,60.7 571.3,61.0 553.5,61.2 535.6,61.6 517.8,62.1 500.0,62.8 482.2,64.0 464.4,65.6 446.5,68.0 428.7,71.1 410.9,75.2 393.1,80.4 375.3,86.8 357.5,94.3 339.6,103.2 321.8,113.5 304.0,125.3 286.2,138.7 268.4,153.9 250.5,170.8 232.7,189.8 214.9,211.1 197.1,235.1 179.3,262.2 161.5,292.8 143.6,327.4 125.8,366.7 108.0,411.1" fill="#56b3ff"/>
<polygon points="108.0,490.4 125.8,456.3 143.6,425.7 161.5,398.2 179.3,373.4 197.1,351.0 214.9,330.5 232.7,311.9 250.5,294.9 268.4,279.4 286.2,265.2 304.0,252.3 321.8,240.6 339.6,230.0 357.5,220.5 375.3,212.1 393.1,204.5 410.9,197.9 428.7,192.0 446.5,187.0 464.4,182.5 482.2,178.7 500.0,175.3 517.8,172.4 535.6,169.7 553.5,167.3 571.3,165.0 589.1,162.9 606.9,160.8 624.7,158.8 642.5,156.9 660.4,155.1 678.2,153.3 696.0,151.6 696.0,58.5 678.2,58.9 660.4,59.3 642.5,59.7 624.7,60.1 606.9,60.4 589.1,60.7 571.3,61.0 553.5,61.2 535.6,61.6 517.8,62.1 500.0,62.8 482.2,64.0 464.4,65.6 446.5,68.0 428.7,71.1 410.9,75.2 393.1,80.4 375.3,86.8 357.5,94.3 339.6,103.2 321.8,113.5 304.0,125.3 286.2,138.7 268.4,153.9 250.5,170.8 232.7,189.8 214.9,211.1 197.1,235.1 179.3,262.2 161.5,292.8 143.6,327.4 125.8,366.7 108.0,411.1" fill="#57acff"/>
<polygon points="108.0,488.7 125.8,454.5 143.6,423.7 161.5,396.1 179.3,371.2 197.1,348.6 214.9,328.1 232.7,309.4 250.5,292.4 268.4,276.8 286.2,262.6 304.0,249.7 321.8,238.0 339.6,227.5 357.5,218.0 375.3,209.5 393.1,202.0 410.9,195.4 428.7,189.6 446.5,184.5 464.4,180.1 482.2,176.3 500.0,173.0 517.8,170.1 535.6,167.5 553.5,165.1 571.3,162.9 589.1,160.8 606.9,158.7 624.7,156.8 642.5,154.9 660.4,153.1 678.2,151.4 696.0,149.7 696.0,58.5 678.2,58.9 660.4,59.3 642.5,59.7 624.7,60.1 606.9,60.4 589.1,60.7 571.3,61.0 553.5,61.2 535.6,61.6 517.8,62.1 500.0,62.8 482.2,64.0 464.4,65.6 446.5,68.0 428.7,71.1 410.9,75.2 393.1,80.4 375.3,86.8 357.5,94.3 339.6,103.2 321.8,113.5 304.0,125.3 286.2,138.7 268.4,153.9 250.5,170.8 232.7,189.8 214.9,211.1 197.1,235.1 179.3,262.2 161.5,292.8 143.6,327.4 125.8,366.7 108.0,411.1" fill="#57a4ff"/>
<polygon points="108.0,487.1 125.8,452.7 143.6,421.7 161.5,393.9 179.3,368.9 197.1,346.2 214.9,325.7 232.7,306.9 250.5,289.9 268.4,274.3 286.2,260.1 304.0,247.1 321.8,235.4 339.6,224.9 357.5,215.4 375.3,207.0 393.1,199.5 410.9,192.9 428.7,187.1 446.5,182.1 464.4,177.8 482.2,174.0 500.0,170.7 517.8,167.9 535.6,165.3 553.5,162.9 571.3,160.8 589.1,158.7 606.9,156.7 624.7,154.8 642.5,152.9 660.4,151.1 678.2,149.4 696.0,147.8 696.0,58.5 678.2,58.9 660.4,59.3 642.5,59.7 624.7,60.1 606.9,60.4 589.1,60.7 571.3,61.0 553.5,61.2 535.6,61.6 517.8,62.1 500.0,62.8 482.2,64.0 464.4,65.6 446.5,68.0 428.7,71.1 410.9,75.2 393.1,80.4 375.3,86.8 357.5,94.3 339.6,103.2 321.8,113.5 304.0,125.3 286.2,138.7 268.4,153.9 250.5,170.8 232.7,189.8 214.9,211.1 197.1,235.1 179.3,262.2 161.5,292.8 143.6,327.4 125.8,366.7 108.0,411.1" fill="#589dff"/>
<polygon points="108.0,485.5 125.8,450.8 143.6,419.7 161.5,391.8 179.3,366.6 197.1,343.9 214.9,323.2 232.7,304.4 250.5,287.3 268.4,271.7 286.2,257.5 304.0,244.5 321.8,232.8 339.6,222.3 357.5,212.8 375.3,204.4 393.1,196.9 410.9,190.4 428.7,184.6 446.5,179.7 464.4,175.4 482.2,171.7 500.0,168.4 517.8,165.6 535.6,163.1 553.5,160.8 571.3,158.6 589.1,156.6 606.9,154.6 624.7,152.8 642.5,150.9 660.4,149.2 678.2,147.5 696.0,145.9 696.0,58.5 678.2,58.9 660.4,59.3 642.5,59.7 624.7,60.1 606.9,60.4 589.1,60.7 571.3,61.0 553.5,61.2 535.6,61.6 517.8,62.1 500.0,62.8 482.2,64.0 464.4,65.6 446.5,68.0 428.7,71.1 410.9,75.2 393.1,80.4 375.3,86.8 357.5,94.3 339.6,103.2 321.8,113.5 304.0,125.3 286.2,138.7 268.4,153.9 250.5,170.8 232.7,189.8 214.9,211.1 197.1,235.1 179.3,262.2 161.5,292.8 143.6,327.4 125.8,366.7 108.0,411.1" fill="#5796ff"/>
<polygon points="108.0,483.9 125.8,449.0 143.6,417.7 161.5,389.6 179.3,364.3 197.1,341.5 214.9,320.8 232.7,302.0 250.5,284.8 268.4,269.2 286.2,254.9 304.0,241.9 321.8,230.2 339.6,219.7 357.5,210.2 375.3,201.8 393.1,194.4 410.9,187.9 428.7,182.2 446.5,177.2 464.4,173.0 482.2,169.3 500.0,166.1 517.8,163.4 535.6,160.9 553.5,158.6 571.3,156.5 589.1,154.5 606.9,152.6 624.7,150.7 642.5,149.0 660.4,147.2 678.2,145.6 696.0,144.0 696.0,58.5 678.2,58.9 660.4,59.3 642.5,59.7 624.7,60.1 606.9,60.4 589.1,60.7 571.3,61.0 553.5,61.2 535.6,61.6 517.8,62.1 500.0,62.8 482.2,64.0 464.4,65.6 446.5,68.0 428.7,71.1 410.9,75.2 393.1,80.4 375.3,86.8 357.5,94.3 339.6,103.2 321.8,113.5 304.0,125.3 286.2,138.7 268.4,153.9 250.5,170.8 232.7,189.8 214.9,211.1 197.1,235.1 179.3,262.2 161.5,292.8 143.6,327.4 125.8,366.7 108.0,411.1" fill="#578fff"/>
<polygon points="108.0,482.3 125.8,447.2 143.6,415.7 161.5,387.5 179.3,362.1 197.1,339.1 214.9,318.4 232.7,299.5 250.5,282.3 268.4,266.6 286.2,252.3 304.0,239.4 321.8,227.6 339.6,217.1 357.5,207.7 375.3,199.3 393.1,191.9 410.9,185.4 428.7,179.7 446.5,174.8 464.4,170.6 482.2,167.0 500.0,163.9 517.8,161.1 535.6,158.7 553.5,156.4 571.3,154.4 589.1,152.4 606.9,150.6 624.7,148.7 642.5,147.0 660.4,145.3 678.2,143.7 696.0,142.1 696.0,58.5 678.2,58.9 660.4,59.3 642.5,59.7 624.7,60.1 606.9,60.4 589.1,60.7 571.3,61.0 553.5,61.2 535.6,61.6 517.8,62.1 500.0,62.8 482.2,64.0 464.4,65.6 446.5,68.0 428.7,71.1 410.9,75.2 393.1,80.4 375.3,86.8 357.5,94.3 339.6,103.2 321.8,113.5 304.0,125.3 286.2,138.7 268.4,153.9 250.5,170.8 232.7,189.8 214.9,211.1 197.1,235.1 179.3,262.2 161.5,292.8 143.6,327.4 125.8,366.7 108.0,411.1" fill="#5687ff"/>
<polygon points="108.0,480.7 125.8,445.3 143.6,413.7 161.5,385.3 179.3,359.8 197.1,336.8 214.9,315.9 232.7,297.0 250.5,279.7 268.4,264.0 286.2,249.7 304.0,236.8 321.8,225.0 339.6,214.5 357.5,205.1 375.3,196.7 393.1,189.3 410.9,182.9 428.7,177.2 446.5,172.4 464.4,168.2 482.2,164.6 500.0,161.6 517.8,158.9 535.6,156.5 553.5,154.3 571.3,152.3 589.1,150.4 606.9,148.5 624.7,146.7 642.5,145.0 660.4,143.3 678.2,141.7 696.0,140.2 696.0,58.5 678.2,58.9 660.4,59.3 642.5,59.7 624.7,60.1 606.9,60.4 589.1,60.7 571.3,61.0 553.5,61.2 535.6,61.6 517.8,62.1 500.0,62.8 482.2,64.0 464.4,65.6 446.5,68.0 428.7,71.1 410.9,75.2 393.1,80.4 375.3,86.8 357.5,94.3 339.6,103.2 321.8,113.5 304.0,125.3 286.2,138.7 268.4,153.9 250.5,170.8 232.7,189.8 214.9,211.1 197.1,235.1 179.3,262.2 161.5,292.8 143.6,327.4 125.8,366.7 108.0,411.1" fill="#5580ff"/>
<polygon points="108.0,479.0 125.8,443.5 143.6,411.7 161.5,383.2 179.3,357.5 197.1,334.4 214.9,313.5 232.7,294.5 250.5,277.2 268.4,261.5 286.2,247.2 304.0,234.2 321.8,222.5 339.6,211.9 357.5,202.5 375.3,194.2 393.1,186.8 410.9,180.4 428.7,174.8 446.5,170.0 464.4,165.8 482.2,162.3 500.0,159.3 517.8,156.6 535.6,154.2 553.5,152.1 571.3,150.1 589.1,148.3 606.9,146.5 624.7,144.7 642.5,143.0 660.4,141.4 678.2,139.8 696.0,138.3 696.0,58.5 678.2,58.9 660.4,59.3 642.5,59.7 624.7,60.1 606.9,60.4 589.1,60.7 571.3,61.0 553.5,61.2 535.6,61.6 517.8,62.1 500.0,62.8 482.2,64.0 464.4,65.6 446.5,68.0 428.7,71.1 410.9,75.2 393.1,80.4 375.3,86.8 357.5,94.3 339.6,103.2 321.8,113.5 304.0,125.3 286.2,138.7 268.4,153.9 250.5,170.8 232.7,189.8 214.9,211.1 197.1,235.1 179.3,262.2 161.5,292.8 143.6,327.4 125.8,366.7 108.0,411.1" fill="#5379ff"/>
<polygon points="108.0,477.4 125.8,441.7 143.6,409.7 161.5,381.0 179.3,355.3 197.1,332.0 214.9,311.0 232.7,292.0 250.5,274.7 268.4,258.9 286.2,244.6 304.0,231.6 321.8,219.9 339.6,209.3 357.5,199.9 375.3,191.6 393.1,184.3 410.9,177.9 428.7,172.3 446.5,167.5 464.4,163.4 482.2,160.0 500.0,157.0 517.8,154.4 535.6,152.0 553.5,150.0 571.3,148.0 589.1,146.2 606.9,144.4 624.7,142.7 642.5,141.0 660.4,139.4 678.2,137.9 696.0,136.4 696.0,58.5 678.2,58.9 660.4,59.3 642.5,59.7 624.7,60.1 606.9,60.4 589.1,60.7 571.3,61.0 553.5,61.2 535.6,61.6 517.8,62.1 500.0,62.8 482.2,64.0 464.4,65.6 446.5,68.0 428.7,71.1 410.9,75.2 393.1,80.4 375.3,86.8 357.5,94.3 339.6,103.2 321.8,113.5 304.0,125.3 286.2,138.7 268.4,153.9 250.5,170.8 232.7,189.8 214.9,211.1 197.1,235.1 179.3,262.2 161.5,292.8 143.6,327.4 125.8,366.7 108.0,411.1" fill="#5171ff"/>
<polygon points="108.0,475.8 125.8,439.9 143.6,407.7 161.5,378.9 179.3,353.0 197.1,329.7 214.9,308.6 232.7,289.5 250.5,272.1 268.4,256.3 286.2,242.0 304.0,229.0 321.8,217.3 339.6,206.7 357.5,197.4 375.3,189.0 393.1,181.7 410.9,175.4 428.7,169.8 446.5,165.1 464.4,161.1 482.2,157.6 500.0,154.7 517.8,152.1 535.6,149.8 553.5,147.8 571.3,145.9 589.1,144.1 606.9,142.4 624.7,140.7 642.5,139.0 660.4,137.5 678.2,136.0 696.0,134.5 696.0,58.5 678.2,58.9 660.4,59.3 642.5,59.7 624.7,60.1 606.9,60.4 589.1,60.7 571.3,61.0 553.5,61.2 535.6,61.6 517.8,62.1 500.0,62.8 482.2,64.0 464.4,65.6 446.5,68.0 428.7,71.1 410.9,75.2 393.1,80.4 375.3,86.8 357.5,94.3 339.6,103.2 321.8,113.5 304.0,125.3 286.2,138.7 268.4,153.9 250.5,170.8 232.7,189.8 214.9,211.1 197.1,235.1 179.3,262.2 161.5,292.8 143.6,327.4 125.8,366.7 108.0,411.1" fill="#4e6aff"/>
<polygon points="108.0,474.2 125.8,438.0 143.6,405.7 161.5,376.7 179.3,350.7 197.1,327.3 214.9,306.2 232.7,287.0 250.5,269.6 268.4,253.8 286.2,239.4 304.0,226.4 321.8,214.7 339.6,204.2 357.5,194.8 375.3,186.5 393.1,179.2 410.9,172.9 428.7,167.4 446.5,162.7 464.4,158.7 482.2,155.3 500.0,152.4 517.8,149.9 535.6,147.6 553.5,145.6 571.3,143.8 589.1,142.0 606.9,140.3 624.7,138.7 642.5,137.1 660.4,135.5 678.2,134.0 696.0,132.6 696.0,58.5 678.2,58.9 660.4,59.3 642.5,59.7 624.7,60.1 606.9,60.4 589.1,60.7 571.3,61.0 553.5,61.2 535.6,61.6 517.8,62.1 500.0,62.8 482.2,64.0 464.4,65.6 446.5,68.0 428.7,71.1 410.9,75.2 393.1,80.4 375.3,86.8 357.5,94.3 339.6,103.2 321.8,113.5 304.0,125.3 286.2,138.7 268.4,153.9 250.5,170.8 232.7,189.8 214.9,211.1 197.1,235.1 179.3,262.2 161.5,292.8 143.6,327.4 125.8,366.7 108.0,411.1" fill="#4b62ff"/>
<polygon points="108.0,472.6 125.8,436.2 143.6,403.7 161.5,374.6 179.3,348.5 197.1,325.0 214.9,303.7 232.7,284.5 250.5,267.1 268.4,251.2 286.2,236.8 304.0,223.8 321.8,212.1 339.6,201.6 357.5,192.2 375.3,183.9 393.1,176.7 410.9,170.3 428.7,164.9 446.5,160.2 464.4,156.3 482.2,152.9 500.0,150.1 517.8,147.6 535.6,145.4 553.5,143.5 571.3,141.6 589.1,139.9 606.9,138.3 624.7,136.6 642.5,135.1 660.4,133.6 678.2,132.1 696.0,130.7 696.0,58.5 678.2,58.9 660.4,59.3 642.5,59.7 624.7,60.1 606.9,60.4 589.1,60.7 571.3,61.0 553.5,61.2 535.6,61.6 517.8,62.1 500.0,62.8 482.2,64.0 464.4,65.6 446.5,68.0 428.7,71.1 410.9,75.2 393.1,80.4 375.3,86.8 357.5,94.3 339.6,103.2 321.8,113.5 304.0,125.3 286.2,138.7 268.4,153.9 250.5,170.8 232.7,189.8 214.9,211.1 197.1,235.1 179.3,262.2 161.5,292.8 143.6,327.4 125.8,366.7 108.0,411.1" fill="#485aff"/>
<polygon points="108.0,471.0 125.8,434.4 143.6,401.7 161.5,372.4 179.3,346.2 197.1,322.6 214.9,301.3 232.7,282.0 250.5,264.5 268.4,248.7 286.2,234.2 304.0,221.2 321.8,209.5 339.6,199.0 357.5,189.6 375.3,181.4 393.1,174.1 410.9,167.8 428.7,162.4 446.5,157.8 464.4,153.9 482.2,150.6 500.0,147.8 517.8,145.4 535.6,143.2 553.5,141.3 571.3,139.5 589.1,137.8 606.9,136.2 624.7,134.6 642.5,133.1 660.4,131.6 678.2,130.2 696.0,128.8 696.0,58.5 678.2,58.9 660.4,59.3 642.5,59.7 624.7,60.1 606.9,60.4 589.1,60.7 571.3,61.0 553.5,61.2 535.6,61.6 517.8,62.1 500.0,62.8 482.2,64.0 464.4,65.6 446.5,68.0 428.7,71.1 410.9,75.2 393.1,80.4 375.3,86.8 357.5,94.3 339.6,103.2 321.8,113.5 304.0,125.3 286.2,138.7 268.4,153.9 250.5,170.8 232.7,189.8 214.9,211.1 197.1,235.1 179.3,262.2 161.5,292.8 143.6,327.4 125.8,366.7 108.0,411.1" fill="#4452ff"/>
<polygon points="108.0,469.3 125.8,432.5 143.6,399.6 161.5,370.2 179.3,343.9 197.1,320.2 214.9,298.9 232.7,279.5 250.5,262.0 268.4,246.1 286.2,231.7 304.0,218.6 321.8,206.9 339.6,196.4 357.5,187.1 375.3,178.8 393.1,171.6 410.9,165.3 428.7,160.0 446.5,155.4 464.4,151.5 482.2,148.3 500.0,145.5 517.8,143.1 535.6,141.0 553.5,139.1 571.3,137.4 589.1,135.8 606.9,134.2 624.7,132.6 642.5,131.1 660.4,129.6 678.2,128.2 696.0,126.9 696.0,58.5 678.2,58.9 660.4,59.3 642.5,59.7 624.7,60.1 606.9,60.4 589.1,60.7 571.3,61.0 553.5,61.2 535.6,61.6 517.8,62.1 500.0,62.8 482.2,64.0 464.4,65.6 446.5,68.0 428.7,71.1 410.9,75.2 393.1,80.4 375.3,86.8 357.5,94.3 339.6,103.2 321.8,113.5 304.0,125.3 286.2,138.7 268.4,153.9 250.5,170.8 232.7,189.8 214.9,211.1 197.1,235.1 179.3,262.2 161.5,292.8 143.6,327.4 125.8,366.7 108.0,411.1" fill="#3f4aff"/>
<polygon points="108.0,467.7 125.8,430.7 143.6,397.6 161.5,368.1 179.3,341.6 197.1,317.9 214.9,296.4 232.7,277.0 250.5,259.5 268.4,243.5 286.2,229.1 304.0,216.0 321.8,204.3 339.6,193.8 357.5,184.5 375.3,176.3 393.1,169.1 410.9,162.8 428.7,157.5 446.5,153.0 464.4,149.1 482.2,145.9 500.0,143.2 517.8,140.9 535.6,138.8 553.5,137.0 571.3,135.3 589.1,133.7 606.9,132.1 624.7,130.6 642.5,129.1 660.4,127.7 678.2,126.3 696.0,125.0 696.0,58.5 678.2,58.9 660.4,59.3 642.5,59.7 624.7,60.1 606.9,60.4 589.1,60.7 571.3,61.0 553.5,61.2 535.6,61.6 517.8,62.1 500.0,62.8 482.2,64.0 464.4,65.6 446.5,68.0 428.7,71.1 410.9,75.2 393.1,80.4 375.3,86.8 357.5,94.3 339.6,103.2 321.8,113.5 304.0,125.3 286.2,138.7 268.4,153.9 250.5,170.8 232.7,189.8 214.9,211.1 197.1,235.1 179.3,262.2 161.5,292.8 143.6,327.4 125.8,366.7 108.0,411.1" fill="#3a41ff"/>
<polygon points="108.0,466.1 125.8,428.9 143.6,395.6 161.5,365.9 179.3,339.4 197.1,315.5 214.9,294.0 232.7,274.5 250.5,256.9 268.4,241.0 286.2,226.5 304.0,213.4 321.8,201.7 339.6,191.2 357.5,181.9 375.3,173.7 393.1,166.5 410.9,160.3 428.7,155.0 446.5,150.5 464.4,146.8 482.2,143.6 500.0,140.9 517.8,138.6 535.6,136.6 553.5,134.8 571.3,133.2 589.1,131.6 606.9,130.1 624.7,128.6 642.5,127.1 660.4,125.7 678.2,124.4 696.0,123.1 696.0,58.5 678.2,58.9 660.4,59.3 642.5,59.7 624.7,60.1 606.9,60.4 589.1,60.7 571.3,61.0 553.5,61.2 535.6,61.6 517.8,62.1 500.0,62.8 482.2,64.0 464.4,65.6 446.5,68.0 428.7,71.1 410.9,75.2 393.1,80.4 375.3,86.8 357.5,94.3 339.6,103.2 321.8,113.5 304.0,125.3 286.2,138.7 268.4,153.9 250.5,170.8 232.7,189.8 214.9,211.1 197.1,235.1 179.3,262.2 161.5,292.8 143.6,327.4 125.8,366.7 108.0,411.1" fill="#3337ff"/>
<polygon points="108.0,464.5 125.8,427.1 143.6,393.6 161.5,363.8 179.3,337.1 197.1,313.1 214.9,291.5 232.7,272.0 250.5,254.4 268.4,238.4 286.2,223.9 304.0,210.9 321.8,199.1 339.6,188.6 357.5,179.3 375.3,171.1 393.1,164.0 410.9,157.8 428.7,152.6 446.5,148.1 464.4,144.4 482.2,141.2 500.0,138.6 517.8,136.3 535.6,134.4 553.5,132.6 571.3,131.0 589.1,129.5 606.9,128.0 624.7,126.6 642.5,125.2 660.4,123.8 678.2,122.5 696.0,121.2 696.0,58.5 678.2,58.9 660.4,59.3 642.5,59.7 624.7,60.1 606.9,60.4 589.1,60.7 571.3,61.0 553.5,61.2 535.6,61.6 517.8,62.1 500.0,62.8 482.2,64.0 464.4,65.6 446.5,68.0 428.7,71.1 410.9,75.2 393.1,80.4 375.3,86.8 357.5,94.3 339.6,103.2 321.8,113.5 304.0,125.3 286.2,138.7 268.4,153.9 250.5,170.8 232.7,189.8 214.9,211.1 197.1,235.1 179.3,262.2 161.5,292.8 143.6,327.4 125.8,366.7 108.0,411.1" fill="#2b2dff"/>
<polygon points="108.0,462.9 125.8,425.2 143.6,391.6 161.5,361.6 179.3,334.8 197.1,310.8 214.9,289.1 232.7,269.6 250.5,251.9 268.4,235.8 286.2,221.3 304.0,208.3 321.8,196.5 339.6,186.0 357.5,176.8 375.3,168.6 393.1,161.5 410.9,155.3 428.7,150.1 446.5,145.7 464.4,142.0 482.2,138.9 500.0,136.3 517.8,134.1 535.6,132.2 553.5,130.5 571.3,128.9 589.1,127.4 606.9,126.0 624.7,124.5 642.5,123.2 660.4,121.8 678.2,120.5 696.0,119.3 696.0,58.5 678.2,58.9 660.4,59.3 642.5,59.7 624.7,60.1 606.9,60.4 589.1,60.7 571.3,61.0 553.5,61.2 535.6,61.6 517.8,62.1 500.0,62.8 482.2,64.0 464.4,65.6 446.5,68.0 428.7,71.1 410.9,75.2 393.1,80.4 375.3,86.8 357.5,94.3 339.6,103.2 321.8,113.5 304.0,125.3 286.2,138.7 268.4,153.9 250.5,170.8 232.7,189.8 214.9,211.1 197.1,235.1 179.3,262.2 161.5,292.8 143.6,327.4 125.8,366.7 108.0,411.1" fill="#2120ff"/>
<polygon points="108.0,461.3 125.8,423.4 143.6,389.6 161.5,359.5 179.3,332.6 197.1,308.4 214.9,286.7 232.7,267.1 250.5,249.3 268.4,233.3 286.2,218.8 304.0,205.7 321.8,193.9 339.6,183.5 357.5,174.2 375.3,166.0 393.1,158.9 410.9,152.8 428.7,147.6 446.5,143.3 464.4,139.6 482.2,136.5 500.0,134.0 517.8,131.8 535.6,130.0 553.5,128.3 571.3,126.8 589.1,125.3 606.9,123.9 624.7,122.5 642.5,121.2 660.4,119.9 678.2,118.6 696.0,117.4 696.0,58.5 678.2,58.9 660.4,59.3 642.5,59.7 624.7,60.1 606.9,60.4 589.1,60.7 571.3,61.0 553.5,61.2 535.6,61.6 517.8,62.1 500.0,62.8 482.2,64.0 464.4,65.6 446.5,68.0 428.7,71.1 410.9,75.2 393.1,80.4 375.3,86.8 357.5,94.3 339.6,103.2 321.8,113.5 304.0,125.3 286.2,138.7 268.4,153.9 250.5,170.8 232.7,189.8 214.9,211.1 197.1,235.1 179.3,262.2 161.5,292.8 143.6,327.4 125.8,366.7 108.0,411.1" fill="#100fff"/>
<polygon points="108.0,459.6 125.8,421.6 143.6,387.6 161.5,357.3 179.3,330.3 197.1,306.0 214.9,284.2 232.7,264.6 250.5,246.8 268.4,230.7 286.2,216.2 304.0,203.1 321.8,191.3 339.6,180.9 357.5,171.6 375.3,163.5 393.1,156.4 410.9,150.3 428.7,145.2 446.5,140.8 464.4,137.2 482.2,134.2 500.0,131.7 517.8,129.6 535.6,127.8 553.5,126.1 571.3,124.7 589.1,123.3 606.9,121.9 624.7,120.5 642.5,119.2 660.4,117.9 678.2,116.7 696.0,115.5 696.0,58.5 678.2,58.9 660.4,59.3 642.5,59.7 624.7,60.1 606.9,60.4 589.1,60.7 571.3,61.0 553.5,61.2 535.6,61.6 517.8,62.1 500.0,62.8 482.2,64.0 464.4,65.6 446.5,68.0 428.7,71.1 410.9,75.2 393.1,80.4 375.3,86.8 357.5,94.3 339.6,103.2 321.8,113.5 304.0,125.3 286.2,138.7 268.4,153.9 250.5,170.8 232.7,189.8 214.9,211.1 197.1,235.1 179.3,262.2 161.5,292.8 143.6,327.4 125.8,366.7 108.0,411.1" fill="#1b00ff"/>
<polygon points="108.0,458.0 125.8,419.7 143.6,385.6 161.5,355.2 179.3,328.0 197.1,303.7 214.9,281.8 232.7,262.1 250.5,244.3 268.4,228.2 286.2,213.6 304.0,200.5 321.8,188.7 339.6,178.3 357.5,169.0 375.3,160.9 393.1,153.9 410.9,147.8 428.7,142.7 446.5,138.4 464.4,134.8 482.2,131.9 500.0,129.4 517.8,127.3 535.6,125.6 553.5,124.0 571.3,122.5 589.1,121.2 606.9,119.8 624.7,118.5 642.5,117.2 660.4,116.0 678.2,114.8 696.0,113.6 696.0,58.5 678.2,58.9 660.4,59.3 642.5,59.7 624.7,60.1 606.9,60.4 589.1,60.7 571.3,61.0 553.5,61.2 535.6,61.6 517.8,62.1 500.0,62.8 482.2,64.0 464.4,65.6 446.5,68.0 428.7,71.1 410.9,75.2 393.1,80.4 375.3,86.8 357.5,94.3 339.6,103.2 321.8,113.5 304.0,125.3 286.2,138.7 268.4,153.9 250.5,170.8 232.7,189.8 214.9,211.1 197.1,235.1 179.3,262.2 161.5,292.8 143.6,327.4 125.8,366.7 108.0,411.1" fill="#3300ff"/>
<polygon points="108.0,456.4 125.8,417.9 143.6,383.6 161.5,353.0 179.3,325.8 197.1,301.3 214.9,279.4 232.7,259.6 250.5,241.7 268.4,225.6 286.2,211.0 304.0,197.9 321.8,186.1 339.6,175.7 357.5,166.5 375.3,158.4 393.1,151.3 410.9,145.3 428.7,140.2 446.5,136.0 464.4,132.4 482.2,129.5 500.0,127.1 517.8,125.1 535.6,123.4 553.5,121.8 571.3,120.4 589.1,119.1 606.9,117.8 624.7,116.5 642.5,115.2 660.4,114.0 678.2,112.8 696.0,111.7 696.0,58.5 678.2,58.9 660.4,59.3 642.5,59.7 624.7,60.1 606.9,60.4 589.1,60.7 571.3,61.0 553.5,61.2 535.6,61.6 517.8,62.1 500.0,62.8 482.2,64.0 464.4,65.6 446.5,68.0 428.7,71.1 410.9,75.2 393.1,80.4 375.3,86.8 357.5,94.3 339.6,103.2 321.8,113.5 304.0,125.3 286.2,138.7 268.4,153.9 250.5,170.8 232.7,189.8 214.9,211.1 197.1,235.1 179.3,262.2 161.5,292.8 143.6,327.4 125.8,366.7 108.0,411.1" fill="#4300ff"/>
<polygon points="108.0,454.8 125.8,416.1 143.6,381.6 161.5,350.9 179.3,323.5 197.1,299.0 214.9,276.9 232.7,257.1 250.5,239.2 268.4,223.0 286.2,208.4 304.0,195.3 321.8,183.6 339.6,173.1 357.5,163.9 375.3,155.8 393.1,148.8 410.9,142.8 428.7,137.8 446.5,133.5 464.4,130.1 482.2,127.2 500.0,124.8 517.8,122.8 535.6,121.1 553.5,119.7 571.3,118.3 589.1,117.0 606.9,115.7 624.7,114.5 642.5,113.2 660.4,112.1 678.2,110.9 696.0,109.8 696.0,58.5 678.2,58.9 660.4,59.3 642.5,59.7 624.7,60.1 606.9,60.4 589.1,60.7 571.3,61.0 553.5,61.2 535.6,61.6 517.8,62.1 500.0,62.8 482.2,64.0 464.4,65.6 446.5,68.0 428.7,71.1 410.9,75.2 393.1,80.4 375.3,86.8 357.5,94.3 339.6,103.2 321.8,113.5 304.0,125.3 286.2,138.7 268.4,153.9 250.5,170.8 232.7,189.8 214.9,211.1 197.1,235.1 179.3,262.2 161.5,292.8 143.6,327.4 125.8,366.7 108.0,411.1" fill="#5000ff"/>
<polygon points="108.0,453.2 125.8,414.2 143.6,379.6 161.5,348.7 179.3,321.2 197.1,296.6 214.9,274.5 232.7,254.6 250.5,236.7 268.4,220.5 286.2,205.9 304.0,192.7 321.8,181.0 339.6,170.5 357.5,161.3 375.3,153.2 393.1,146.3 410.9,140.3 428.7,135.3 446.5,131.1 464.4,127.7 482.2,124.8 500.0,122.5 517.8,120.6 535.6,118.9 553.5,117.5 571.3,116.2 589.1,114.9 606.9,113.7 624.7,112.5 642.5,111.3 660.4,110.1 678.2,109.0 696.0,107.9 696.0,58.5 678.2,58.9 660.4,59.3 642.5,59.7 624.7,60.1 606.9,60.4 589.1,60.7 571.3,61.0 553.5,61.2 535.6,61.6 517.8,62.1 500.0,62.8 482.2,64.0 464.4,65.6 446.5,68.0 428.7,71.1 410.9,75.2 393.1,80.4 375.3,86.8 357.5,94.3 339.6,103.2 321.8,113.5 304.0,125.3 286.2,138.7 268.4,153.9 250.5,170.8 232.7,189.8 214.9,211.1 197.1,235.1 179.3,262.2 161.5,292.8 143.6,327.4 125.8,366.7 108.0,411.1" fill="#5b00ff"/>
<polygon points="108.0,451.6 125.8,412.4 143.6,377.6 161.5,346.6 179.3,318.9 197.1,294.2 214.9,272.1 232.7,252.1 250.5,234.1 268.4,217.9 286.2,203.3 304.0,190.1 321.8,178.4 339.6,167.9 357.5,158.7 375.3,150.7 393.1,143.7 410.9,137.8 428.7,132.8 446.5,128.7 464.4,125.3 482.2,122.5 500.0,120.2 517.8,118.3 535.6,116.7 553.5,115.3 571.3,114.0 589.1,112.8 606.9,111.6 624.7,110.4 642.5,109.3 660.4,108.2 678.2,107.1 696.0,106.0 696.0,58.5 678.2,58.9 660.4,59.3 642.5,59.7 624.7,60.1 606.9,60.4 589.1,60.7 571.3,61.0 553.5,61.2 535.6,61.6 517.8,62.1 500.0,62.8 482.2,64.0 464.4,65.6 446.5,68.0 428.7,71.1 410.9,75.2 393.1,80.4 375.3,86.8 357.5,94.3 339.6,103.2 321.8,113.5 304.0,125.3 286.2,138.7 268.4,153.9 250.5,170.8 232.7,189.8 214.9,211.1 197.1,235.1 179.3,262.2 161.5,292.8 143.6,327.4 125.8,366.7 108.0,411.1" fill="#6500ff"/>
<polygon points="108.0,449.9 125.8,410.6 143.6,375.6 161.5,344.4 179.3,316.7 197.1,291.9 214.9,269.6 232.7,249.6 250.5,231.6 268.4,215.4 286.2,200.7 304.0,187.5 321.8,175.8 339.6,165.3 357.5,156.1 375.3,148.1 393.1,141.2 410.9,135.3 428.7,130.4 446.5,126.3 464.4,122.9 482.2,120.2 500.0,117.9 517.8,116.1 535.6,114.5 553.5,113.2 571.3,111.9 589.1,110.7 606.9,109.6 624.7,108.4 642.5,107.3 660.4,106.2 678.2,105.1 696.0,104.1 696.0,58.5 678.2,58.9 660.4,59.3 642.5,59.7 624.7,60.1 606.9,60.4 589.1,60.7 571.3,61.0 553.5,61.2 535.6,61.6 517.8,62.1 500.0,62.8 482.2,64.0 464.4,65.6 446.5,68.0 428.7,71.1 410.9,75.2 393.1,80.4 375.3,86.8 357.5,94.3 339.6,103.2 321.8,113.5 304.0,125.3 286.2,138.7 268.4,153.9 250.5,170.8 232.7,189.8 214.9,211.1 197.1,235.1 179.3,262.2 161.5,292.8 143.6,327.4 125.8,366.7 108.0,411.1" fill="#6e00ff"/>
<polygon points="108.0,448.3 125.8,408.8 143.6,373.6 161.5,342.3 179.3,314.4 197.1,289.5 214.9,267.2 232.7,247.1 250.5,229.1 268.4,212.8 286.2,198.1 304.0,184.9 321.8,173.2 339.6,162.7 357.5,153.6 375.3,145.6 393.1,138.7 410.9,132.8 428.7,127.9 446.5,123.8 464.4,120.5 482.2,117.8 500.0,115.6 517.8,113.8 535.6,112.3 553.5,111.0 571.3,109.8 589.1,108.7 606.9,107.5 624.7,106.4 642.5,105.3 660.4,104.2 678.2,103.2 696.0,102.2 696.0,58.5 678.2,58.9 660.4,59.3 642.5,59.7 624.7,60.1 606.9,60.4 589.1,60.7 571.3,61.0 553.5,61.2 535.6,61.6 517.8,62.1 500.0,62.8 482.2,64.0 464.4,65.6 446.5,68.0 428.7,71.1 410.9,75.2 393.1,80.4 375.3,86.8 357.5,94.3 339.6,103.2 321.8,113.5 304.0,125.3 286.2,138.7 268.4,153.9 250.5,170.8 232.7,189.8 214.9,211.1 197.1,235.1 179.3,262.2 161.5,292.8 143.6,327.4 125.8,366.7 108.0,411.1" fill="#7600ff"/>
<polygon points="108.0,446.7 125.8,406.9 143.6,371.6 161.5,340.1 179.3,312.1 197.1,287.1 214.9,264.7 232.7,244.6 250.5,226.5 268.4,210.2 286.2,195.5 304.0,182.3 321.8,170.6 339.6,160.2 357.5,151.0 375.3,143.0 393.1,136.1 410.9,130.3 428.7,125.4 446.5,121.4 464.4,118.1 482.2,115.5 500.0,113.3 517.8,111.6 535.6,110.1 553.5,108.8 571.3,107.7 589.1,106.6 606.9,105.5 624.7,104.4 642.5,103.3 660.4,102.3 678.2,101.3 696.0,100.3 696.0,58.5 678.2,58.9 660.4,59.3 642.5,59.7 624.7,60.1 606.9,60.4 589.1,60.7 571.3,61.0 553.5,61.2 535.6,61.6 517.8,62.1 500.0,62.8 482.2,64.0 464.4,65.6 446.5,68.0 428.7,71.1 410.9,75.2 393.1,80.4 375.3,86.8 357.5,94.3 339.6,103.2 321.8,113.5 304.0,125.3 286.2,138.7 268.4,153.9 250.5,170.8 232.7,189.8 214.9,211.1 197.1,235.1 179.3,262.2 161.5,292.8 143.6,327.4 125.8,366.7 108.0,411.1" fill="#7e00ff"/>
<polygon points="108.0,445.1 125.8,405.1 143.6,369.6 161.5,338.0 179.3,309.9 197.1,284.8 214.9,262.3 232.7,242.1 250.5,224.0 268.4,207.7 286.2,193.0 304.0,179.8 321.8,168.0 339.6,157.6 357.5,148.4 375.3,140.5 393.1,133.6 410.9,127.8 428.7,123.0 446.5,119.0 464.4,115.7 482.2,113.1 500.0,111.0 517.8,109.3 535.6,107.9 553.5,106.7 571.3,105.6 589.1,104.5 606.9,103.4 624.7,102.4 642.5,101.3 660.4,100.3 678.2,99.4 696.0,98.4 696.0,58.5 678.2,58.9 660.4,59.3 642.5,59.7 624.7,60.1 606.9,60.4 589.1,60.7 571.3,61.0 553.5,61.2 535.6,61.6 517.8,62.1 500.0,62.8 482.2,64.0 464.4,65.6 446.5,68.0 428.7,71.1 410.9,75.2 393.1,80.4 375.3,86.8 357.5,94.3 339.6,103.2 321.8,113.5 304.0,125.3 286.2,138.7 268.4,153.9 250.5,170.8 232.7,189.8 214.9,211.1 197.1,235.1 179.3,262.2 161.5,292.8 143.6,327.4 125.8,366.7 108.0,411.1" fill="#8600ff"/>
<polygon points="108.0,443.5 125.8,403.3 143.6,367.5 161.5,335.8 179.3,307.6 197.1,282.4 214.9,259.9 232.7,239.6 250.5,221.5 268.4,205.1 286.2,190.4 304.0,177.2 321.8,165.4 339.6,155.0 357.5,145.8 375.3,137.9 393.1,131.1 410.9,125.3 428.7,120.5 446.5,116.5 464.4,113.4 482.2,110.8 500.0,108.7 517.8,107.1 535.6,105.7 553.5,104.5 571.3,103.4 589.1,102.4 606.9,101.4 624.7,100.4 642.5,99.4 660.4,98.4 678.2,97.4 696.0,96.5 696.0,58.5 678.2,58.9 660.4,59.3 642.5,59.7 624.7,60.1 606.9,60.4 589.1,60.7 571.3,61.0 553.5,61.2 535.6,61.6 517.8,62.1 500.0,62.8 482.2,64.0 464.4,65.6 446.5,68.0 428.7,71.1 410.9,75.2 393.1,80.4 375.3,86.8 357.5,94.3 339.6,103.2 321.8,113.5 304.0,125.3 286.2,138.7 268.4,153.9 250.5,170.8 232.7,189.8 214.9,211.1 197.1,235.1 179.3,262.2 161.5,292.8 143.6,327.4 125.8,366.7 108.0,411.1" fill="#8d00ff"/>
<polygon points="108.0,441.9 125.8,401.4 143.6,365.5 161.5,333.7 179.3,305.3 197.1,280.0 214.9,257.4 232.7,237.2 250.5,218.9 268.4,202.5 286.2,187.8 304.0,174.6 321.8,162.8 339.6,152.4 357.5,143.3 375.3,135.3 393.1,128.5 410.9,122.8 428.7,118.0 446.5,114.1 464.4,111.0 482.2,108.5 500.0,106.5 517.8,104.8 535.6,103.5 553.5,102.3 571.3,101.3 589.1,100.3 606.9,99.3 624.7,98.4 642.5,97.4 660.4,96.4 678.2,95.5 696.0,94.6 696.0,58.5 678.2,58.9 660.4,59.3 642.5,59.7 624.7,60.1 606.9,60.4 589.1,60.7 571.3,61.0 553.5,61.2 535.6,61.6 517.8,62.1 500.0,62.8 482.2,64.0 464.4,65.6 446.5,68.0 428.7,71.1 410.9,75.2 393.1,80.4 375.3,86.8 357.5,94.3 339.6,103.2 321.8,113.5 304.0,125.3 286.2,138.7 268.4,153.9 250.5,170.8 232.7,189.8 214.9,211.1 197.1,235.1 179.3,262.2 161.5,292.8 143.6,327.4 125.8,366.7 108.0,411.1" fill="#9400ff"/>
<polygon points="108.0,440.2 125.8,399.6 143.6,363.5 161.5,331.5 179.3,303.1 197.1,277.7 214.9,255.0 232.7,234.7 250.5,216.4 268.4,200.0 286.2,185.2 304.0,172.0 321.8,160.2 339.6,149.8 357.5,140.7 375.3,132.8 393.1,126.0 410.9,120.3 428.7,115.6 446.5,111.7 464.4,108.6 482.2,106.1 500.0,104.2 517.8,102.6 535.6,101.3 553.5,100.2 571.3,99.2 589.1,98.2 606.9,97.3 624.7,96.3 642.5,95.4 660.4,94.5 678.2,93.6 696.0,92.7 696.0,58.5 678.2,58.9 660.4,59.3 642.5,59.7 624.7,60.1 606.9,60.4 589.1,60.7 571.3,61.0 553.5,61.2 535.6,61.6 517.8,62.1 500.0,62.8 482.2,64.0 464.4,65.6 446.5,68.0 428.7,71.1 410.9,75.2 393.1,80.4 375.3,86.8 357.5,94.3 339.6,103.2 321.8,113.5 304.0,125.3 286.2,138.7 268.4,153.9 250.5,170.8 232.7,189.8 214.9,211.1 197.1,235.1 179.3,262.2 161.5,292.8 143.6,327.4 125.8,366.7 108.0,411.1" fill="#9b00ff"/>
<polygon points="108.0,438.6 125.8,397.8 143.6,361.5 161.5,329.4 179.3,300.8 197.1,275.3 214.9,252.6 232.7,232.2 250.5,213.9 268.4,197.4 286.2,182.6 304.0,169.4 321.8,157.6 339.6,147.2 357.5,138.1 375.3,130.2 393.1,123.5 410.9,117.8 428.7,113.1 446.5,109.3 464.4,106.2 482.2,103.8 500.0,101.9 517.8,100.3 535.6,99.1 553.5,98.0 571.3,97.1 589.1,96.2 606.9,95.2 624.7,94.3 642.5,93.4 660.4,92.5 678.2,91.6 696.0,90.8 696.0,58.5 678.2,58.9 660.4,59.3 642.5,59.7 624.7,60.1 606.9,60.4 589.1,60.7 571.3,61.0 553.5,61.2 535.6,61.6 517.8,62.1 500.0,62.8 482.2,64.0 464.4,65.6 446.5,68.0 428.7,71.1 410.9,75.2 393.1,80.4 375.3,86.8 357.5,94.3 339.6,103.2 321.8,113.5 304.0,125.3 286.2,138.7 268.4,153.9 250.5,170.8 232.7,189.8 214.9,211.1 197.1,235.1 179.3,262.2 161.5,292.8 143.6,327.4 125.8,366.7 108.0,411.1" fill="#a100ff"/>
<polygon points="108.0,437.0 125.8,396.0 143.6,359.5 161.5,327.2 179.3,298.5 197.1,273.0 214.9,250.1 232.7,229.7 250.5,211.3 268.4,194.9 286.2,180.0 304.0,166.8 321.8,155.0 339.6,144.6 357.5,135.5 375.3,127.7 393.1,120.9 410.9,115.3 428.7,110.6 446.5,106.8 464.4,103.8 482.2,101.4 500.0,99.6 517.8,98.1 535.6,96.9 553.5,95.9 571.3,94.9 589.1,94.1 606.9,93.2 624.7,92.3 642.5,91.4 660.4,90.6 678.2,89.7 696.0,88.9 696.0,58.5 678.2,58.9 660.4,59.3 642.5,59.7 624.7,60.1 606.9,60.4 589.1,60.7 571.3,61.0 553.5,61.2 535.6,61.6 517.8,62.1 500.0,62.8 482.2,64.0 464.4,65.6 446.5,68.0 428.7,71.1 410.9,75.2 393.1,80.4 375.3,86.8 357.5,94.3 339.6,103.2 321.8,113.5 304.0,125.3 286.2,138.7 268.4,153.9 250.5,170.8 232.7,189.8 214.9,211.1 197.1,235.1 179.3,262.2 161.5,292.8 143.6,327.4 125.8,366.7 108.0,411.1" fill="#a800ff"/>
<polygon points="108.0,435.4 125.8,394.1 143.6,357.5 161.5,325.1 179.3,296.2 197.1,270.6 214.9,247.7 232.7,227.2 250.5,208.8 268.4,192.3 286.2,177.5 304.0,164.2 321.8,152.4 339.6,142.0 357.5,133.0 375.3,125.1 393.1,118.4 410.9,112.8 428.7,108.2 446.5,104.4 464.4,101.4 482.2,99.1 500.0,97.3 517.8,95.8 535.6,94.7 553.5,93.7 571.3,92.8 589.1,92.0 606.9,91.1 624.7,90.3 642.5,89.4 660.4,88.6 678.2,87.8 696.0,87.0 696.0,58.5 678.2,58.9 660.4,59.3 642.5,59.7 624.7,60.1 606.9,60.4 589.1,60.7 571.3,61.0 553.5,61.2 535.6,61.6 517.8,62.1 500.0,62.8 482.2,64.0 464.4,65.6 446.5,68.0 428.7,71.1 410.9,75.2 393.1,80.4 375.3,86.8 357.5,94.3 339.6,103.2 321.8,113.5 304.0,125.3 286.2,138.7 268.4,153.9 250.5,170.8 232.7,189.8 214.9,211.1 197.1,235.1 179.3,262.2 161.5,292.8 143.6,327.4 125.8,366.7 108.0,411.1" fill="#ae00ff"/>
<polygon points="108.0,433.8 125.8,392.3 143.6,355.5 161.5,322.9 179.3,294.0 197.1,268.2 214.9,245.3 232.7,224.7 250.5,206.3 268.4,189.7 286.2,174.9 304.0,161.6 321.8,149.8 339.6,139.5 357.5,130.4 375.3,122.6 393.1,115.9 410.9,110.3 428.7,105.7 446.5,102.0 464.4,99.0 482.2,96.8 500.0,95.0 517.8,93.6 535.6,92.5 553.5,91.5 571.3,90.7 589.1,89.9 606.9,89.1 624.7,88.3 642.5,87.5 660.4,86.7 678.2,85.9 696.0,85.1 696.0,58.5 678.2,58.9 660.4,59.3 642.5,59.7 624.7,60.1 606.9,60.4 589.1,60.7 571.3,61.0 553.5,61.2 535.6,61.6 517.8,62.1 500.0,62.8 482.2,64.0 464.4,65.6 446.5,68.0 428.7,71.1 410.9,75.2 393.1,80.4 375.3,86.8 357.5,94.3 339.6,103.2 321.8,113.5 304.0,125.3 286.2,138.7 268.4,153.9 250.5,170.8 232.7,189.8 214.9,211.1 197.1,235.1 179.3,262.2 161.5,292.8 143.6,327.4 125.8,366.7 108.0,411.1" fill="#b400ff"/>
<polygon points="108.0,432.2 125.8,390.5 143.6,353.5 161.5,320.7 179.3,291.7 197.1,265.9 214.9,242.8 232.7,222.2 250.5,203.7 268.4,187.2 286.2,172.3 304.0,159.0 321.8,147.2 339.6,136.9 357.5,127.8 375.3,120.0 393.1,113.3 410.9,107.8 428.7,103.2 446.5,99.6 464.4,96.7 482.2,94.4 500.0,92.7 517.8,91.3 535.6,90.3 553.5,89.4 571.3,88.6 589.1,87.8 606.9,87.0 624.7,86.3 642.5,85.5 660.4,84.7 678.2,83.9 696.0,83.2 696.0,58.5 678.2,58.9 660.4,59.3 642.5,59.7 624.7,60.1 606.9,60.4 589.1,60.7 571.3,61.0 553.5,61.2 535.6,61.6 517.8,62.1 500.0,62.8 482.2,64.0 464.4,65.6 446.5,68.0 428.7,71.1 410.9,75.2 393.1,80.4 375.3,86.8 357.5,94.3 339.6,103.2 321.8,113.5 304.0,125.3 286.2,138.7 268.4,153.9 250.5,170.8 232.7,189.8 214.9,211.1 197.1,235.1 179.3,262.2 161.5,292.8 143.6,327.4 125.8,366.7 108.0,411.1" fill="#ba00ff"/>
<polygon points="108.0,430.5 125.8,388.6 143.6,351.5 161.5,318.6 179.3,289.4 197.1,263.5 214.9,240.4 232.7,219.7 250.5,201.2 268.4,184.6 286.2,169.7 304.0,156.4 321.8,144.7 339.6,134.3 357.5,125.2 375.3,117.4 393.1,110.8 410.9,105.3 428.7,100.8 446.5,97.1 464.4,94.3 482.2,92.1 500.0,90.4 517.8,89.1 535.6,88.0 553.5,87.2 571.3,86.4 589.1,85.7 606.9,85.0 624.7,84.2 642.5,83.5 660.4,82.7 678.2,82.0 696.0,81.3 696.0,58.5 678.2,58.9 660.4,59.3 642.5,59.7 624.7,60.1 606.9,60.4 589.1,60.7 571.3,61.0 553.5,61.2 535.6,61.6 517.8,62.1 500.0,62.8 482.2,64.0 464.4,65.6 446.5,68.0 428.7,71.1 410.9,75.2 393.1,80.4 375.3,86.8 357.5,94.3 339.6,103.2 321.8,113.5 304.0,125.3 286.2,138.7 268.4,153.9 250.5,170.8 232.7,189.8 214.9,211.1 197.1,235.1 179.3,262.2 161.5,292.8 143.6,327.4 125.8,366.7 108.0,411.1" fill="#c000ff"/>
<polygon points="108.0,428.9 125.8,386.8 143.6,349.5 161.5,316.4 179.3,287.2 197.1,261.1 214.9,237.9 232.7,217.2 250.5,198.7 268.4,182.0 286.2,167.1 304.0,153.8 321.8,142.1 339.6,131.7 357.5,122.7 375.3,114.9 393.1,108.3 410.9,102.8 428.7,98.3 446.5,94.7 464.4,91.9 482.2,89.7 500.0,88.1 517.8,86.8 535.6,85.8 553.5,85.0 571.3,84.3 589.1,83.6 606.9,82.9 624.7,82.2 642.5,81.5 660.4,80.8 678.2,80.1 696.0,79.4 696.0,58.5 678.2,58.9 660.4,59.3 642.5,59.7 624.7,60.1 606.9,60.4 589.1,60.7 571.3,61.0 553.5,61.2 535.6,61.6 517.8,62.1 500.0,62.8 482.2,64.0 464.4,65.6 446.5,68.0 428.7,71.1 410.9,75.2 393.1,80.4 375.3,86.8 357.5,94.3 339.6,103.2 321.8,113.5 304.0,125.3 286.2,138.7 268.4,153.9 250.5,170.8 232.7,189.8 214.9,211.1 197.1,235.1 179.3,262.2 161.5,292.8 143.6,327.4 125.8,366.7 108.0,411.1" fill="#c600ff"/>
<polygon points="108.0,427.3 125.8,385.0 143.6,347.5 161.5,314.3 179.3,284.9 197.1,258.8 214.9,235.5 232.7,214.7 250.5,196.1 268.4,179.5 286.2,164.6 304.0,151.3 321.8,139.5 339.6,129.1 357.5,120.1 375.3,112.3 393.1,105.8 410.9,100.3 428.7,95.8 446.5,92.3 464.4,89.5 482.2,87.4 500.0,85.8 517.8,84.6 535.6,83.6 553.5,82.9 571.3,82.2 589.1,81.6 606.9,80.9 624.7,80.2 642.5,79.5 660.4,78.8 678.2,78.2 696.0,77.5 696.0,58.5 678.2,58.9 660.4,59.3 642.5,59.7 624.7,60.1 606.9,60.4 589.1,60.7 571.3,61.0 553.5,61.2 535.6,61.6 517.8,62.1 500.0,62.8 482.2,64.0 464.4,65.6 446.5,68.0 428.7,71.1 410.9,75.2 393.1,80.4 375.3,86.8 357.5,94.3 339.6,103.2 321.8,113.5 304.0,125.3 286.2,138.7 268.4,153.9 250.5,170.8 232.7,189.8 214.9,211.1 197.1,235.1 179.3,262.2 161.5,292.8 143.6,327.4 125.8,366.7 108.0,411.1" fill="#cc00ff"/>
<polygon points="108.0,425.7 125.8,383.1 143.6,345.5 161.5,312.1 179.3,282.6 197.1,256.4 214.9,233.1 232.7,212.2 250.5,193.6 268.4,176.9 286.2,162.0 304.0,148.7 321.8,136.9 339.6,126.5 357.5,117.5 375.3,109.8 393.1,103.2 410.9,97.8 428.7,93.3 446.5,89.8 464.4,87.1 482.2,85.0 500.0,83.5 517.8,82.3 535.6,81.4 553.5,80.7 571.3,80.1 589.1,79.5 606.9,78.8 624.7,78.2 642.5,77.5 660.4,76.9 678.2,76.2 696.0,75.6 696.0,58.5 678.2,58.9 660.4,59.3 642.5,59.7 624.7,60.1 606.9,60.4 589.1,60.7 571.3,61.0 553.5,61.2 535.6,61.6 517.8,62.1 500.0,62.8 482.2,64.0 464.4,65.6 446.5,68.0 428.7,71.1 410.9,75.2 393.1,80.4 375.3,86.8 357.5,94.3 339.6,103.2 321.8,113.5 304.0,125.3 286.2,138.7 268.4,153.9 250.5,170.8 232.7,189.8 214.9,211.1 197.1,235.1 179.3,262.2 161.5,292.8 143.6,327.4 125.8,366.7 108.0,411.1" fill="#d100ff"/>
<polygon points="108.0,424.1 125.8,381.3 143.6,343.5 161.5,310.0 179.3,280.4 197.1,254.0 214.9,230.6 232.7,209.7 250.5,191.1 268.4,174.4 286.2,159.4 304.0,146.1 321.8,134.3 339.6,123.9 357.5,114.9 375.3,107.2 393.1,100.7 410.9,95.3 428.7,90.9 446.5,87.4 464.4,84.7 482.2,82.7 500.0,81.2 517.8,80.1 535.6,79.2 553.5,78.5 571.3,78.0 589.1,77.4 606.9,76.8 624.7,76.2 642.5,75.6 660.4,74.9 678.2,74.3 696.0,73.7 696.0,58.5 678.2,58.9 660.4,59.3 642.5,59.7 624.7,60.1 606.9,60.4 589.1,60.7 571.3,61.0 553.5,61.2 535.6,61.6 517.8,62.1 500.0,62.8 482.2,64.0 464.4,65.6 446.5,68.0 428.7,71.1 410.9,75.2 393.1,80.4 375.3,86.8 357.5,94.3 339.6,103.2 321.8,113.5 304.0,125.3 286.2,138.7 268.4,153.9 250.5,170.8 232.7,189.8 214.9,211.1 197.1,235.1 179.3,262.2 161.5,292.8 143.6,327.4 125.8,366.7 108.0,411.1" fill="#d700ff"/>
<polygon points="108.0,422.5 125.8,379.5 143.6,341.5 161.5,307.8 179.3,278.1 197.1,251.7 214.9,228.2 232.7,207.2 250.5,188.5 268.4,171.8 286.2,156.8 304.0,143.5 321.8,131.7 339.6,121.3 357.5,112.4 375.3,104.7 393.1,98.2 410.9,92.8 428.7,88.4 446.5,85.0 464.4,82.3 482.2,80.4 500.0,78.9 517.8,77.8 535.6,77.0 553.5,76.4 571.3,75.8 589.1,75.3 606.9,74.8 624.7,74.2 642.5,73.6 660.4,73.0 678.2,72.4 696.0,71.8 696.0,58.5 678.2,58.9 660.4,59.3 642.5,59.7 624.7,60.1 606.9,60.4 589.1,60.7 571.3,61.0 553.5,61.2 535.6,61.6 517.8,62.1 500.0,62.8 482.2,64.0 464.4,65.6 446.5,68.0 428.7,71.1 410.9,75.2 393.1,80.4 375.3,86.8 357.5,94.3 339.6,103.2 321.8,113.5 304.0,125.3 286.2,138.7 268.4,153.9 250.5,170.8 232.7,189.8 214.9,211.1 197.1,235.1 179.3,262.2 161.5,292.8 143.6,327.4 125.8,366.7 108.0,411.1" fill="#dc00ff"/>
<polygon points="108.0,420.8 125.8,377.7 143.6,339.5 161.5,305.7 179.3,275.8 197.1,249.3 214.9,225.8 232.7,204.8 250.5,186.0 268.4,169.2 286.2,154.2 304.0,140.9 321.8,129.1 339.6,118.7 357.5,109.8 375.3,102.1 393.1,95.6 410.9,90.3 428.7,85.9 446.5,82.6 464.4,80.0 482.2,78.0 500.0,76.6 517.8,75.6 535.6,74.8 553.5,74.2 571.3,73.7 589.1,73.2 606.9,72.7 624.7,72.2 642.5,71.6 660.4,71.0 678.2,70.5 696.0,69.9 696.0,58.5 678.2,58.9 660.4,59.3 642.5,59.7 624.7,60.1 606.9,60.4 589.1,60.7 571.3,61.0 553.5,61.2 535.6,61.6 517.8,62.1 500.0,62.8 482.2,64.0 464.4,65.6 446.5,68.0 428.7,71.1 410.9,75.2 393.1,80.4 375.3,86.8 357.5,94.3 339.6,103.2 321.8,113.5 304.0,125.3 286.2,138.7 268.4,153.9 250.5,170.8 232.7,189.8 214.9,211.1 197.1,235.1 179.3,262.2 161.5,292.8 143.6,327.4 125.8,366.7 108.0,411.1" fill="#e200ff"/>
<polygon points="108.0,419.2 125.8,375.8 143.6,337.4 161.5,303.5 179.3,273.5 197.1,247.0 214.9,223.3 232.7,202.3 250.5,183.5 268.4,166.7 286.2,151.7 304.0,138.3 321.8,126.5 339.6,116.2 357.5,107.2 375.3,99.5 393.1,93.1 410.9,87.8 428.7,83.5 446.5,80.1 464.4,77.6 482.2,75.7 500.0,74.3 517.8,73.3 535.6,72.6 553.5,72.0 571.3,71.6 589.1,71.1 606.9,70.7 624.7,70.1 642.5,69.6 660.4,69.1 678.2,68.5 696.0,68.0 696.0,58.5 678.2,58.9 660.4,59.3 642.5,59.7 624.7,60.1 606.9,60.4 589.1,60.7 571.3,61.0 553.5,61.2 535.6,61.6 517.8,62.1 500.0,62.8 482.2,64.0 464.4,65.6 446.5,68.0 428.7,71.1 410.9,75.2 393.1,80.4 375.3,86.8 357.5,94.3 339.6,103.2 321.8,113.5 304.0,125.3 286.2,138.7 268.4,153.9 250.5,170.8 232.7,189.8 214.9,211.1 197.1,235.1 179.3,262.2 161.5,292.8 143.6,327.4 125.8,366.7 108.0,411.1" fill="#e700ff"/>
<polygon points="108.0,417.6 125.8,374.0 143.6,335.4 161.5,301.4 179.3,271.3 197.1,244.6 214.9,220.9 232.7,199.8 250.5,180.9 268.4,164.1 286.2,149.1 304.0,135.7 321.8,123.9 339.6,113.6 357.5,104.6 375.3,97.0 393.1,90.6 410.9,85.3 428.7,81.0 446.5,77.7 464.4,75.2 482.2,73.3 500.0,72.0 517.8,71.1 535.6,70.4 553.5,69.9 571.3,69.5 589.1,69.1 606.9,68.6 624.7,68.1 642.5,67.6 660.4,67.1 678.2,66.6 696.0,66.1 696.0,58.5 678.2,58.9 660.4,59.3 642.5,59.7 624.7,60.1 606.9,60.4 589.1,60.7 571.3,61.0 553.5,61.2 535.6,61.6 517.8,62.1 500.0,62.8 482.2,64.0 464.4,65.6 446.5,68.0 428.7,71.1 410.9,75.2 393.1,80.4 375.3,86.8 357.5,94.3 339.6,103.2 321.8,113.5 304.0,125.3 286.2,138.7 268.4,153.9 250.5,170.8 232.7,189.8 214.9,211.1 197.1,235.1 179.3,262.2 161.5,292.8 143.6,327.4 125.8,366.7 108.0,411.1" fill="#ed00ff"/>
<polygon points="108.0,416.0 125.8,372.2 143.6,333.4 161.5,299.2 179.3,269.0 197.1,242.2 214.9,218.4 232.7,197.3 250.5,178.4 268.4,161.5 286.2,146.5 304.0,133.1 321.8,121.3 339.6,111.0 357.5,102.1 375.3,94.4 393.1,88.0 410.9,82.8 428.7,78.5 446.5,75.3 464.4,72.8 482.2,71.0 500.0,69.7 517.8,68.8 535.6,68.2 553.5,67.7 571.3,67.3 589.1,67.0 606.9,66.6 624.7,66.1 642.5,65.6 660.4,65.2 678.2,64.7 696.0,64.2 696.0,58.5 678.2,58.9 660.4,59.3 642.5,59.7 624.7,60.1 606.9,60.4 589.1,60.7 571.3,61.0 553.5,61.2 535.6,61.6 517.8,62.1 500.0,62.8 482.2,64.0 464.4,65.6 446.5,68.0 428.7,71.1 410.9,75.2 393.1,80.4 375.3,86.8 357.5,94.3 339.6,103.2 321.8,113.5 304.0,125.3 286.2,138.7 268.4,153.9 250.5,170.8 232.7,189.8 214.9,211.1 197.1,235.1 179.3,262.2 161.5,292.8 143.6,327.4 125.8,366.7 108.0,411.1" fill="#f200ff"/>
<polygon points="108.0,414.4 125.8,370.3 143.6,331.4 161.5,297.1 179.3,266.7 197.1,239.9 214.9,216.0 232.7,194.8 250.5,175.9 268.4,159.0 286.2,143.9 304.0,130.5 321.8,118.7 339.6,108.4 357.5,99.5 375.3,91.9 393.1,85.5 410.9,80.3 428.7,76.1 446.5,72.8 464.4,70.4 482.2,68.7 500.0,67.4 517.8,66.6 535.6,66.0 553.5,65.6 571.3,65.2 589.1,64.9 606.9,64.5 624.7,64.1 642.5,63.7 660.4,63.2 678.2,62.7 696.0,62.3 696.0,58.5 678.2,58.9 660.4,59.3 642.5,59.7 624.7,60.1 606.9,60.4 589.1,60.7 571.3,61.0 553.5,61.2 535.6,61.6 517.8,62.1 500.0,62.8 482.2,64.0 464.4,65.6 446.5,68.0 428.7,71.1 410.9,75.2 393.1,80.4 375.3,86.8 357.5,94.3 339.6,103.2 321.8,113.5 304.0,125.3 286.2,138.7 268.4,153.9 250.5,170.8 232.7,189.8 214.9,211.1 197.1,235.1 179.3,262.2 161.5,292.8 143.6,327.4 125.8,366.7 108.0,411.1" fill="#f700ff"/>
<polygon points="108.0,412.7 125.8,368.5 143.6,329.4 161.5,294.9 179.3,264.5 197.1,237.5 214.9,213.6 232.7,192.3 250.5,173.3 268.4,156.4 286.2,141.3 304.0,127.9 321.8,116.1 339.6,105.8 357.5,96.9 375.3,89.3 393.1,83.0 410.9,77.8 428.7,73.6 446.5,70.4 464.4,68.0 482.2,66.3 500.0,65.1 517.8,64.3 535.6,63.8 553.5,63.4 571.3,63.1 589.1,62.8 606.9,62.5 624.7,62.1 642.5,61.7 660.4,61.2 678.2,60.8 696.0,60.4 696.0,58.5 678.2,58.9 660.4,59.3 642.5,59.7 624.7,60.1 606.9,60.4 589.1,60.7 571.3,61.0 553.5,61.2 535.6,61.6 517.8,62.1 500.0,62.8 482.2,64.0 464.4,65.6 446.5,68.0 428.7,71.1 410.9,75.2 393.1,80.4 375.3,86.8 357.5,94.3 339.6,103.2 321.8,113.5 304.0,125.3 286.2,138.7 268.4,153.9 250.5,170.8 232.7,189.8 214.9,211.1 197.1,235.1 179.3,262.2 161.5,292.8 143.6,327.4 125.8,366.7 108.0,411.1" fill="#fc00ff"/>
<path d="M108.0 411.1 L125.8 366.7 L143.6 327.4 L161.5 292.8 L179.3 262.2 L197.1 235.1 L214.9 211.1 L232.7 189.8 L250.5 170.8 L268.4 153.9 L286.2 138.7 L304.0 125.3 L321.8 113.5 L339.6 103.2 L357.5 94.3 L375.3 86.8 L393.1 80.4 L410.9 75.2 L428.7 71.1 L446.5 68.0 L464.4 65.6 L482.2 64.0 L500.0 62.8 L517.8 62.1 L535.6 61.6 L553.5 61.2 L571.3 61.0 L589.1 60.7 L606.9 60.4 L624.7 60.1 L642.5 59.7 L660.4 59.3 L678.2 58.9 L696.0 58.5" fill="none" stroke="#000" stroke-width="3.1" stroke-linejoin="round"/>
<path d="M108.0 471.8 L125.8 435.3 L143.6 402.7 L161.5 373.5 L179.3 347.3 L197.1 323.8 L214.9 302.5 L232.7 283.3 L250.5 265.8 L268.4 249.9 L286.2 235.5 L304.0 222.5 L321.8 210.8 L339.6 200.3 L357.5 190.9 L375.3 182.7 L393.1 175.4 L410.9 169.1 L428.7 163.7 L446.5 159.0 L464.4 155.1 L482.2 151.8 L500.0 148.9 L517.8 146.5 L535.6 144.3 L553.5 142.4 L571.3 140.6 L589.1 138.9 L606.9 137.2 L624.7 135.6 L642.5 134.1 L660.4 132.6 L678.2 131.1 L696.0 129.8" fill="none" stroke="#000" stroke-width="3.1" stroke-linejoin="round"/>
<path d="M108.0 532.4 L125.8 503.9 L143.6 477.9 L161.5 454.2 L179.3 432.4 L197.1 412.4 L214.9 393.9 L232.7 376.7 L250.5 360.8 L268.4 346.0 L286.2 332.3 L304.0 319.7 L321.8 308.0 L339.6 297.3 L357.5 287.5 L375.3 278.6 L393.1 270.4 L410.9 262.9 L428.7 256.2 L446.5 250.1 L464.4 244.6 L482.2 239.6 L500.0 235.0 L517.8 230.9 L535.6 227.1 L553.5 223.5 L571.3 220.2 L589.1 217.1 L606.9 214.1 L624.7 211.2 L642.5 208.5 L660.4 205.9 L678.2 203.4 L696.0 201.0" fill="none" stroke="#000" stroke-width="3.1" stroke-linejoin="round"/>
<path d="M108.0 593.0 L125.8 572.5 L143.6 553.1 L161.5 534.9 L179.3 517.6 L197.1 501.1 L214.9 485.3 L232.7 470.2 L250.5 455.8 L268.4 442.1 L286.2 429.1 L304.0 416.9 L321.8 405.3 L339.6 394.4 L357.5 384.1 L375.3 374.5 L393.1 365.4 L410.9 356.8 L428.7 348.7 L446.5 341.1 L464.4 334.0 L482.2 327.3 L500.0 321.1 L517.8 315.3 L535.6 309.8 L553.5 304.7 L571.3 299.8 L589.1 295.2 L606.9 290.9 L624.7 286.8 L642.5 282.9 L660.4 279.1 L678.2 275.6 L696.0 272.3" fill="none" stroke="#000" stroke-width="3.1" stroke-linejoin="round"/>
<path d="M108.0 653.7 L125.8 641.1 L143.6 628.4 L161.5 615.6 L179.3 602.7 L197.1 589.7 L214.9 576.6 L232.7 563.6 L250.5 550.8 L268.4 538.2 L286.2 525.9 L304.0 514.0 L321.8 502.5 L339.6 491.4 L357.5 480.7 L375.3 470.4 L393.1 460.3 L410.9 450.6 L428.7 441.2 L446.5 432.2 L464.4 423.5 L482.2 415.1 L500.0 407.2 L517.8 399.7 L535.6 392.6 L553.5 385.8 L571.3 379.4 L589.1 373.4 L606.9 367.7 L624.7 362.3 L642.5 357.2 L660.4 352.4 L678.2 347.9 L696.0 343.6" fill="none" stroke="#000" stroke-width="3.1" stroke-linejoin="round"/>
<path d="M108.5 468.2 L115.9 452.6 L123.4 437.3 L130.8 422.3 L138.2 407.8 L145.7 393.7 L153.1 380.1 L160.6 367.1 L168.0 354.6 L175.4 342.7 L182.9 331.5 L190.3 321.0 L197.7 311.1 L205.2 301.9 L212.6 293.1 L220.1 284.9 L227.5 277.1 L234.9 269.4 L242.4 261.8 L249.8 254.0 L257.2 245.9 L264.7 237.7 L272.1 229.7 L279.5 222.0 L287.0 214.8 L294.4 208.1 L301.9 201.8 L309.3 195.9 L316.7 190.4 L324.2 185.2 L331.6 180.3 L339.0 175.7 L346.5 171.2 L353.9 167.1 L361.3 163.1 L368.8 159.3 L376.2 155.8 L383.7 152.5 L391.1 149.3 L398.5 146.3 L406.0 143.5 L413.4 140.9 L420.8 138.4 L428.3 136.1 L435.7 133.9 L443.2 131.9 L450.6 129.9 L458.0 128.1 L465.5 126.4 L472.9 124.8 L480.3 123.3 L487.8 121.9 L495.2 120.6 L502.6 119.4 L510.1 118.2 L517.5 117.2 L525.0 116.2 L532.4 115.2 L539.8 114.3 L547.3 113.5 L554.7 112.7 L562.1 112.0 L569.6 111.3 L577.0 110.7 L584.4 110.1 L591.9 109.5 L599.3 108.9 L606.8 108.4 L614.2 107.9 L621.6 107.4 L629.1 106.9 L636.5 106.4 L643.9 105.9 L651.4 105.4 L658.8 104.9 L666.3 104.3 L673.7 103.8 L681.1 103.2 L688.6 102.6 L696.0 102.0" fill="none" stroke="#000" stroke-width="2" stroke-dasharray="7 7.2"/>
<path d="M108.5 536.1 L115.9 525.3 L123.4 514.7 L130.8 504.4 L138.2 494.4 L145.7 484.6 L153.1 475.2 L160.6 465.9 L168.0 457.0 L175.4 448.3 L182.9 439.8 L190.3 431.6 L197.7 423.6 L205.2 415.9 L212.6 408.4 L220.1 401.1 L227.5 394.0 L234.9 387.2 L242.4 380.5 L249.8 374.1 L257.2 367.9 L264.7 361.8 L272.1 356.0 L279.5 350.3 L287.0 344.9 L294.4 339.6 L301.9 334.5 L309.3 329.5 L316.7 324.7 L324.2 320.1 L331.6 315.7 L339.0 311.4 L346.5 307.2 L353.9 303.2 L361.3 299.3 L368.8 295.6 L376.2 292.0 L383.7 288.5 L391.1 285.1 L398.5 281.9 L406.0 278.8 L413.4 275.8 L420.8 272.9 L428.3 270.2 L435.7 267.5 L443.2 264.9 L450.6 262.5 L458.0 260.1 L465.5 257.8 L472.9 255.6 L480.3 253.5 L487.8 251.4 L495.2 249.4 L502.6 247.5 L510.1 245.7 L517.5 243.9 L525.0 242.2 L532.4 240.6 L539.8 238.9 L547.3 237.4 L554.7 235.9 L562.1 234.4 L569.6 233.0 L577.0 231.6 L584.4 230.2 L591.9 228.8 L599.3 227.5 L606.8 226.2 L614.2 224.9 L621.6 223.6 L629.1 222.3 L636.5 221.1 L643.9 219.8 L651.4 218.5 L658.8 217.2 L666.3 215.9 L673.7 214.6 L681.1 213.2 L688.6 211.9 L696.0 210.5" fill="none" stroke="#000" stroke-width="2" stroke-dasharray="7 7.2"/>
<path d="M108.5 751.0 L115.9 747.1 L123.4 743.1 L130.8 738.8 L138.2 734.4 L145.7 729.8 L153.1 724.9 L160.6 719.8 L168.0 714.4 L175.4 708.7 L182.9 702.8 L190.3 696.5 L197.7 690.0 L205.2 683.1 L212.6 676.0 L220.1 668.6 L227.5 661.0 L234.9 653.2 L242.4 645.3 L249.8 637.3 L257.2 629.2 L264.7 621.2 L272.1 613.1 L279.5 605.2 L287.0 597.3 L294.4 589.6 L301.9 582.1 L309.3 574.7 L316.7 567.4 L324.2 560.2 L331.6 553.1 L339.0 546.0 L346.5 538.9 L353.9 531.8 L361.3 524.7 L368.8 517.7 L376.2 510.9 L383.7 504.1 L391.1 497.6 L398.5 491.2 L406.0 485.0 L413.4 479.1 L420.8 473.4 L428.3 468.1 L435.7 462.9 L443.2 458.0 L450.6 453.2 L458.0 448.6 L465.5 444.1 L472.9 439.7 L480.3 435.3 L487.8 431.0 L495.2 426.6 L502.6 422.2 L510.1 417.9 L517.5 413.7 L525.0 409.7 L532.4 405.9 L539.8 402.3 L547.3 398.8 L554.7 395.4 L562.1 392.2 L569.6 389.1 L577.0 386.1 L584.4 383.2 L591.9 380.3 L599.3 377.5 L606.8 374.8 L614.2 372.1 L621.6 369.4 L629.1 366.7 L636.5 363.9 L643.9 361.2 L651.4 358.5 L658.8 355.7 L666.3 353.0 L673.7 350.4 L681.1 348.0 L688.6 345.9 L696.0 343.9" fill="none" stroke="#000" stroke-width="2" stroke-dasharray="7 7.2"/>
<rect x="104.0" y="44.0" width="597.0" height="722.0" fill="none" stroke="#333333" stroke-width="2"/>
<line x1="109.5" y1="766" x2="109.5" y2="772.5" stroke="#333333" stroke-width="2.2"/>
<text x="0" y="0" font-size="42.5" fill="#4d4d4d" text-anchor="middle" transform="translate(109.50 808.20) scale(1 1.040)">0</text>
<line x1="287.1" y1="766" x2="287.1" y2="772.5" stroke="#333333" stroke-width="2.2"/>
<text x="0" y="0" font-size="42.5" fill="#4d4d4d" text-anchor="middle" transform="translate(287.14 808.20) scale(1 1.040)">20</text>
<line x1="464.8" y1="766" x2="464.8" y2="772.5" stroke="#333333" stroke-width="2.2"/>
<text x="0" y="0" font-size="42.5" fill="#4d4d4d" text-anchor="middle" transform="translate(464.78 808.20) scale(1 1.040)">40</text>
<line x1="642.4" y1="766" x2="642.4" y2="772.5" stroke="#333333" stroke-width="2.2"/>
<text x="0" y="0" font-size="42.5" fill="#4d4d4d" text-anchor="middle" transform="translate(642.42 808.20) scale(1 1.040)">60</text>
<line x1="97.5" y1="547.8" x2="104" y2="547.8" stroke="#333333" stroke-width="2.2"/>
<text x="0" y="0" font-size="42.5" fill="#4d4d4d" text-anchor="end" transform="translate(93.20 563.10) scale(1 1.040)">0</text>
<line x1="97.5" y1="304.4" x2="104" y2="304.4" stroke="#333333" stroke-width="2.2"/>
<text x="0" y="0" font-size="42.5" fill="#4d4d4d" text-anchor="end" transform="translate(93.20 319.70) scale(1 1.040)">2</text>
<line x1="97.5" y1="61.0" x2="104" y2="61.0" stroke="#333333" stroke-width="2.2"/>
<text x="0" y="0" font-size="42.5" fill="#4d4d4d" text-anchor="end" transform="translate(93.20 76.30) scale(1 1.040)">4</text>
<line x1="984.3" y1="44" x2="984.3" y2="766" stroke="#ebebeb" stroke-width="1.3"/>
<line x1="1153.8" y1="44" x2="1153.8" y2="766" stroke="#ebebeb" stroke-width="1.3"/>
<line x1="1323.2" y1="44" x2="1323.2" y2="766" stroke="#ebebeb" stroke-width="1.3"/>
<line x1="895" y1="633.1" x2="1464" y2="633.1" stroke="#ebebeb" stroke-width="1.3"/>
<line x1="895" y1="492.4" x2="1464" y2="492.4" stroke="#ebebeb" stroke-width="1.3"/>
<line x1="895" y1="351.7" x2="1464" y2="351.7" stroke="#ebebeb" stroke-width="1.3"/>
<line x1="895" y1="211.0" x2="1464" y2="211.0" stroke="#ebebeb" stroke-width="1.3"/>
<line x1="895" y1="70.3" x2="1464" y2="70.3" stroke="#ebebeb" stroke-width="1.3"/>
<line x1="899.6" y1="44" x2="899.6" y2="766" stroke="#ebebeb" stroke-width="2.5"/>
<line x1="1069.0" y1="44" x2="1069.0" y2="766" stroke="#ebebeb" stroke-width="2.5"/>
<line x1="1238.5" y1="44" x2="1238.5" y2="766" stroke="#ebebeb" stroke-width="2.5"/>
<line x1="1407.9" y1="44" x2="1407.9" y2="766" stroke="#ebebeb" stroke-width="2.5"/>
<line x1="895" y1="703.4" x2="1464" y2="703.4" stroke="#ebebeb" stroke-width="2.5"/>
<line x1="895" y1="562.7" x2="1464" y2="562.7" stroke="#ebebeb" stroke-width="2.5"/>
<line x1="895" y1="422.0" x2="1464" y2="422.0" stroke="#ebebeb" stroke-width="2.5"/>
<line x1="895" y1="281.3" x2="1464" y2="281.3" stroke="#ebebeb" stroke-width="2.5"/>
<line x1="895" y1="140.6" x2="1464" y2="140.6" stroke="#ebebeb" stroke-width="2.5"/>
<polygon points="898.8,420.9 912.2,398.5 925.6,377.0 939.0,356.8 952.5,338.7 965.9,323.6 979.3,311.1 992.7,301.0 1006.1,292.7 1019.5,285.9 1032.9,280.5 1046.3,276.3 1059.8,273.4 1073.2,271.7 1086.6,271.1 1100.0,271.2 1104.0,271.2 1109.1,271.3 1114.3,271.3 1119.4,271.3 1124.6,271.2 1129.7,271.1 1134.9,270.9 1140.0,270.8 1146.0,270.5 1170.1,268.9 1194.2,266.7 1218.3,264.0 1242.4,260.9 1266.5,257.8 1290.6,254.6 1314.6,251.4 1338.7,248.5 1362.8,245.7 1386.9,243.2 1411.0,240.8 1435.1,238.3 1459.2,235.5 1459.2,88.9 1435.1,93.2 1411.0,98.4 1386.9,104.5 1362.8,111.6 1338.7,119.5 1314.6,128.3 1290.6,138.1 1266.5,149.1 1242.4,161.6 1218.3,176.4 1194.2,194.6 1170.1,216.3 1146.0,241.2 1140.0,248.1 1134.9,254.2 1129.7,260.6 1124.6,267.2 1119.4,274.1 1114.3,281.3 1109.1,288.7 1104.0,296.5 1100.0,302.7 1086.6,324.6 1073.2,347.2 1059.8,370.1 1046.3,393.2 1032.9,416.9 1019.5,441.0 1006.1,465.2 992.7,489.3 979.3,513.5 965.9,538.0 952.5,563.4 939.0,589.7 925.6,616.4 912.2,642.2 898.8,665.7" fill="#ff1600"/>
<polygon points="898.8,422.6 912.2,400.1 925.6,378.6 939.0,358.3 952.5,340.2 965.9,325.0 979.3,312.5 992.7,302.3 1006.1,293.9 1019.5,286.9 1032.9,281.4 1046.3,277.1 1059.8,274.0 1073.2,272.2 1086.6,271.5 1100.0,271.4 1104.0,271.4 1109.1,271.4 1114.3,271.4 1119.4,271.3 1124.6,271.2 1129.7,271.0 1134.9,270.8 1140.0,270.6 1146.0,270.3 1170.1,268.6 1194.2,266.2 1218.3,263.4 1242.4,260.3 1266.5,257.0 1290.6,253.8 1314.6,250.6 1338.7,247.6 1362.8,244.8 1386.9,242.3 1411.0,239.8 1435.1,237.3 1459.2,234.5 1459.2,88.9 1435.1,93.2 1411.0,98.4 1386.9,104.5 1362.8,111.6 1338.7,119.5 1314.6,128.3 1290.6,138.1 1266.5,149.1 1242.4,161.6 1218.3,176.4 1194.2,194.6 1170.1,216.3 1146.0,241.2 1140.0,248.1 1134.9,254.2 1129.7,260.6 1124.6,267.2 1119.4,274.1 1114.3,281.3 1109.1,288.7 1104.0,296.5 1100.0,302.7 1086.6,324.6 1073.2,347.2 1059.8,370.1 1046.3,393.2 1032.9,416.9 1019.5,441.0 1006.1,465.2 992.7,489.3 979.3,513.5 965.9,538.0 952.5,563.4 939.0,589.7 925.6,616.4 912.2,642.2 898.8,665.7" fill="#ff2c00"/>
<polygon points="898.8,424.2 912.2,401.7 925.6,380.2 939.0,359.9 952.5,341.7 965.9,326.5 979.3,313.8 992.7,303.5 1006.1,295.0 1019.5,288.0 1032.9,282.3 1046.3,277.8 1059.8,274.6 1073.2,272.7 1086.6,271.8 1100.0,271.6 1104.0,271.6 1109.1,271.5 1114.3,271.4 1119.4,271.3 1124.6,271.1 1129.7,270.9 1134.9,270.7 1140.0,270.5 1146.0,270.1 1170.1,268.2 1194.2,265.7 1218.3,262.8 1242.4,259.6 1266.5,256.3 1290.6,253.0 1314.6,249.8 1338.7,246.7 1362.8,243.9 1386.9,241.4 1411.0,238.9 1435.1,236.3 1459.2,233.5 1459.2,88.9 1435.1,93.2 1411.0,98.4 1386.9,104.5 1362.8,111.6 1338.7,119.5 1314.6,128.3 1290.6,138.1 1266.5,149.1 1242.4,161.6 1218.3,176.4 1194.2,194.6 1170.1,216.3 1146.0,241.2 1140.0,248.1 1134.9,254.2 1129.7,260.6 1124.6,267.2 1119.4,274.1 1114.3,281.3 1109.1,288.7 1104.0,296.5 1100.0,302.7 1086.6,324.6 1073.2,347.2 1059.8,370.1 1046.3,393.2 1032.9,416.9 1019.5,441.0 1006.1,465.2 992.7,489.3 979.3,513.5 965.9,538.0 952.5,563.4 939.0,589.7 925.6,616.4 912.2,642.2 898.8,665.7" fill="#ff3b00"/>
<polygon points="898.8,425.8 912.2,403.3 925.6,381.8 939.0,361.4 952.5,343.2 965.9,327.9 979.3,315.2 992.7,304.8 1006.1,296.2 1019.5,289.0 1032.9,283.2 1046.3,278.6 1059.8,275.3 1073.2,273.2 1086.6,272.2 1100.0,271.8 1104.0,271.7 1109.1,271.6 1114.3,271.5 1119.4,271.3 1124.6,271.1 1129.7,270.9 1134.9,270.6 1140.0,270.3 1146.0,269.9 1170.1,267.9 1194.2,265.3 1218.3,262.2 1242.4,259.0 1266.5,255.6 1290.6,252.2 1314.6,249.0 1338.7,245.9 1362.8,243.0 1386.9,240.4 1411.0,237.9 1435.1,235.4 1459.2,232.6 1459.2,88.9 1435.1,93.2 1411.0,98.4 1386.9,104.5 1362.8,111.6 1338.7,119.5 1314.6,128.3 1290.6,138.1 1266.5,149.1 1242.4,161.6 1218.3,176.4 1194.2,194.6 1170.1,216.3 1146.0,241.2 1140.0,248.1 1134.9,254.2 1129.7,260.6 1124.6,267.2 1119.4,274.1 1114.3,281.3 1109.1,288.7 1104.0,296.5 1100.0,302.7 1086.6,324.6 1073.2,347.2 1059.8,370.1 1046.3,393.2 1032.9,416.9 1019.5,441.0 1006.1,465.2 992.7,489.3 979.3,513.5 965.9,538.0 952.5,563.4 939.0,589.7 925.6,616.4 912.2,642.2 898.8,665.7" fill="#ff4700"/>
<polygon points="898.8,427.4 912.2,405.0 925.6,383.4 939.0,363.0 952.5,344.7 965.9,329.3 979.3,316.5 992.7,306.0 1006.1,297.3 1019.5,290.0 1032.9,284.1 1046.3,279.4 1059.8,275.9 1073.2,273.7 1086.6,272.5 1100.0,272.0 1104.0,271.9 1109.1,271.7 1114.3,271.6 1119.4,271.3 1124.6,271.1 1129.7,270.8 1134.9,270.5 1140.0,270.1 1146.0,269.7 1170.1,267.5 1194.2,264.8 1218.3,261.7 1242.4,258.3 1266.5,254.9 1290.6,251.4 1314.6,248.1 1338.7,245.0 1362.8,242.1 1386.9,239.5 1411.0,237.0 1435.1,234.4 1459.2,231.6 1459.2,88.9 1435.1,93.2 1411.0,98.4 1386.9,104.5 1362.8,111.6 1338.7,119.5 1314.6,128.3 1290.6,138.1 1266.5,149.1 1242.4,161.6 1218.3,176.4 1194.2,194.6 1170.1,216.3 1146.0,241.2 1140.0,248.1 1134.9,254.2 1129.7,260.6 1124.6,267.2 1119.4,274.1 1114.3,281.3 1109.1,288.7 1104.0,296.5 1100.0,302.7 1086.6,324.6 1073.2,347.2 1059.8,370.1 1046.3,393.2 1032.9,416.9 1019.5,441.0 1006.1,465.2 992.7,489.3 979.3,513.5 965.9,538.0 952.5,563.4 939.0,589.7 925.6,616.4 912.2,642.2 898.8,665.7" fill="#ff5100"/>
<polygon points="898.8,429.1 912.2,406.6 925.6,385.0 939.0,364.5 952.5,346.2 965.9,330.7 979.3,317.9 992.7,307.3 1006.1,298.5 1019.5,291.1 1032.9,285.0 1046.3,280.2 1059.8,276.6 1073.2,274.2 1086.6,272.9 1100.0,272.2 1104.0,272.1 1109.1,271.9 1114.3,271.6 1119.4,271.4 1124.6,271.1 1129.7,270.7 1134.9,270.4 1140.0,270.0 1146.0,269.5 1170.1,267.2 1194.2,264.3 1218.3,261.1 1242.4,257.6 1266.5,254.1 1290.6,250.7 1314.6,247.3 1338.7,244.2 1362.8,241.3 1386.9,238.6 1411.0,236.0 1435.1,233.4 1459.2,230.6 1459.2,88.9 1435.1,93.2 1411.0,98.4 1386.9,104.5 1362.8,111.6 1338.7,119.5 1314.6,128.3 1290.6,138.1 1266.5,149.1 1242.4,161.6 1218.3,176.4 1194.2,194.6 1170.1,216.3 1146.0,241.2 1140.0,248.1 1134.9,254.2 1129.7,260.6 1124.6,267.2 1119.4,274.1 1114.3,281.3 1109.1,288.7 1104.0,296.5 1100.0,302.7 1086.6,324.6 1073.2,347.2 1059.8,370.1 1046.3,393.2 1032.9,416.9 1019.5,441.0 1006.1,465.2 992.7,489.3 979.3,513.5 965.9,538.0 952.5,563.4 939.0,589.7 925.6,616.4 912.2,642.2 898.8,665.7" fill="#ff5a00"/>
<polygon points="898.8,430.7 912.2,408.2 925.6,386.6 939.0,366.1 952.5,347.7 965.9,332.2 979.3,319.2 992.7,308.5 1006.1,299.6 1019.5,292.1 1032.9,285.9 1046.3,281.0 1059.8,277.2 1073.2,274.7 1086.6,273.3 1100.0,272.5 1104.0,272.2 1109.1,272.0 1114.3,271.7 1119.4,271.4 1124.6,271.0 1129.7,270.7 1134.9,270.3 1140.0,269.8 1146.0,269.3 1170.1,266.8 1194.2,263.8 1218.3,260.5 1242.4,257.0 1266.5,253.4 1290.6,249.9 1314.6,246.5 1338.7,243.3 1362.8,240.4 1386.9,237.7 1411.0,235.1 1435.1,232.5 1459.2,229.6 1459.2,88.9 1435.1,93.2 1411.0,98.4 1386.9,104.5 1362.8,111.6 1338.7,119.5 1314.6,128.3 1290.6,138.1 1266.5,149.1 1242.4,161.6 1218.3,176.4 1194.2,194.6 1170.1,216.3 1146.0,241.2 1140.0,248.1 1134.9,254.2 1129.7,260.6 1124.6,267.2 1119.4,274.1 1114.3,281.3 1109.1,288.7 1104.0,296.5 1100.0,302.7 1086.6,324.6 1073.2,347.2 1059.8,370.1 1046.3,393.2 1032.9,416.9 1019.5,441.0 1006.1,465.2 992.7,489.3 979.3,513.5 965.9,538.0 952.5,563.4 939.0,589.7 925.6,616.4 912.2,642.2 898.8,665.7" fill="#ff6300"/>
<polygon points="898.8,432.3 912.2,409.8 925.6,388.2 939.0,367.7 952.5,349.2 965.9,333.6 979.3,320.6 992.7,309.8 1006.1,300.8 1019.5,293.1 1032.9,286.8 1046.3,281.7 1059.8,277.9 1073.2,275.2 1086.6,273.6 1100.0,272.7 1104.0,272.4 1109.1,272.1 1114.3,271.8 1119.4,271.4 1124.6,271.0 1129.7,270.6 1134.9,270.2 1140.0,269.7 1146.0,269.1 1170.1,266.5 1194.2,263.3 1218.3,259.9 1242.4,256.3 1266.5,252.7 1290.6,249.1 1314.6,245.7 1338.7,242.4 1362.8,239.5 1386.9,236.7 1411.0,234.1 1435.1,231.5 1459.2,228.7 1459.2,88.9 1435.1,93.2 1411.0,98.4 1386.9,104.5 1362.8,111.6 1338.7,119.5 1314.6,128.3 1290.6,138.1 1266.5,149.1 1242.4,161.6 1218.3,176.4 1194.2,194.6 1170.1,216.3 1146.0,241.2 1140.0,248.1 1134.9,254.2 1129.7,260.6 1124.6,267.2 1119.4,274.1 1114.3,281.3 1109.1,288.7 1104.0,296.5 1100.0,302.7 1086.6,324.6 1073.2,347.2 1059.8,370.1 1046.3,393.2 1032.9,416.9 1019.5,441.0 1006.1,465.2 992.7,489.3 979.3,513.5 965.9,538.0 952.5,563.4 939.0,589.7 925.6,616.4 912.2,642.2 898.8,665.7" fill="#ff6c00"/>
<polygon points="898.8,434.0 912.2,411.5 925.6,389.8 939.0,369.2 952.5,350.7 965.9,335.0 979.3,321.9 992.7,311.0 1006.1,301.9 1019.5,294.2 1032.9,287.7 1046.3,282.5 1059.8,278.5 1073.2,275.7 1086.6,274.0 1100.0,272.9 1104.0,272.6 1109.1,272.2 1114.3,271.8 1119.4,271.4 1124.6,271.0 1129.7,270.5 1134.9,270.0 1140.0,269.5 1146.0,268.9 1170.1,266.1 1194.2,262.9 1218.3,259.3 1242.4,255.6 1266.5,252.0 1290.6,248.3 1314.6,244.9 1338.7,241.6 1362.8,238.6 1386.9,235.8 1411.0,233.2 1435.1,230.5 1459.2,227.7 1459.2,88.9 1435.1,93.2 1411.0,98.4 1386.9,104.5 1362.8,111.6 1338.7,119.5 1314.6,128.3 1290.6,138.1 1266.5,149.1 1242.4,161.6 1218.3,176.4 1194.2,194.6 1170.1,216.3 1146.0,241.2 1140.0,248.1 1134.9,254.2 1129.7,260.6 1124.6,267.2 1119.4,274.1 1114.3,281.3 1109.1,288.7 1104.0,296.5 1100.0,302.7 1086.6,324.6 1073.2,347.2 1059.8,370.1 1046.3,393.2 1032.9,416.9 1019.5,441.0 1006.1,465.2 992.7,489.3 979.3,513.5 965.9,538.0 952.5,563.4 939.0,589.7 925.6,616.4 912.2,642.2 898.8,665.7" fill="#ff7300"/>
<polygon points="898.8,435.6 912.2,413.1 925.6,391.3 939.0,370.8 952.5,352.2 965.9,336.5 979.3,323.3 992.7,312.3 1006.1,303.1 1019.5,295.2 1032.9,288.6 1046.3,283.3 1059.8,279.2 1073.2,276.2 1086.6,274.3 1100.0,273.1 1104.0,272.7 1109.1,272.3 1114.3,271.9 1119.4,271.4 1124.6,270.9 1129.7,270.5 1134.9,269.9 1140.0,269.4 1146.0,268.7 1170.1,265.8 1194.2,262.4 1218.3,258.7 1242.4,255.0 1266.5,251.2 1290.6,247.6 1314.6,244.0 1338.7,240.7 1362.8,237.7 1386.9,234.9 1411.0,232.2 1435.1,229.6 1459.2,226.7 1459.2,88.9 1435.1,93.2 1411.0,98.4 1386.9,104.5 1362.8,111.6 1338.7,119.5 1314.6,128.3 1290.6,138.1 1266.5,149.1 1242.4,161.6 1218.3,176.4 1194.2,194.6 1170.1,216.3 1146.0,241.2 1140.0,248.1 1134.9,254.2 1129.7,260.6 1124.6,267.2 1119.4,274.1 1114.3,281.3 1109.1,288.7 1104.0,296.5 1100.0,302.7 1086.6,324.6 1073.2,347.2 1059.8,370.1 1046.3,393.2 1032.9,416.9 1019.5,441.0 1006.1,465.2 992.7,489.3 979.3,513.5 965.9,538.0 952.5,563.4 939.0,589.7 925.6,616.4 912.2,642.2 898.8,665.7" fill="#ff7b00"/>
<polygon points="898.8,437.2 912.2,414.7 925.6,392.9 939.0,372.3 952.5,353.7 965.9,337.9 979.3,324.6 992.7,313.6 1006.1,304.2 1019.5,296.2 1032.9,289.6 1046.3,284.1 1059.8,279.8 1073.2,276.7 1086.6,274.7 1100.0,273.3 1104.0,272.9 1109.1,272.4 1114.3,272.0 1119.4,271.4 1124.6,270.9 1129.7,270.4 1134.9,269.8 1140.0,269.2 1146.0,268.5 1170.1,265.4 1194.2,261.9 1218.3,258.1 1242.4,254.3 1266.5,250.5 1290.6,246.8 1314.6,243.2 1338.7,239.9 1362.8,236.8 1386.9,234.0 1411.0,231.3 1435.1,228.6 1459.2,225.7 1459.2,88.9 1435.1,93.2 1411.0,98.4 1386.9,104.5 1362.8,111.6 1338.7,119.5 1314.6,128.3 1290.6,138.1 1266.5,149.1 1242.4,161.6 1218.3,176.4 1194.2,194.6 1170.1,216.3 1146.0,241.2 1140.0,248.1 1134.9,254.2 1129.7,260.6 1124.6,267.2 1119.4,274.1 1114.3,281.3 1109.1,288.7 1104.0,296.5 1100.0,302.7 1086.6,324.6 1073.2,347.2 1059.8,370.1 1046.3,393.2 1032.9,416.9 1019.5,441.0 1006.1,465.2 992.7,489.3 979.3,513.5 965.9,538.0 952.5,563.4 939.0,589.7 925.6,616.4 912.2,642.2 898.8,665.7" fill="#ff8200"/>
<polygon points="898.8,438.9 912.2,416.3 925.6,394.5 939.0,373.9 952.5,355.2 965.9,339.3 979.3,326.0 992.7,314.8 1006.1,305.4 1019.5,297.3 1032.9,290.5 1046.3,284.9 1059.8,280.4 1073.2,277.2 1086.6,275.0 1100.0,273.5 1104.0,273.1 1109.1,272.6 1114.3,272.0 1119.4,271.5 1124.6,270.9 1129.7,270.3 1134.9,269.7 1140.0,269.1 1146.0,268.3 1170.1,265.1 1194.2,261.4 1218.3,257.6 1242.4,253.7 1266.5,249.8 1290.6,246.0 1314.6,242.4 1338.7,239.0 1362.8,235.9 1386.9,233.0 1411.0,230.3 1435.1,227.6 1459.2,224.8 1459.2,88.9 1435.1,93.2 1411.0,98.4 1386.9,104.5 1362.8,111.6 1338.7,119.5 1314.6,128.3 1290.6,138.1 1266.5,149.1 1242.4,161.6 1218.3,176.4 1194.2,194.6 1170.1,216.3 1146.0,241.2 1140.0,248.1 1134.9,254.2 1129.7,260.6 1124.6,267.2 1119.4,274.1 1114.3,281.3 1109.1,288.7 1104.0,296.5 1100.0,302.7 1086.6,324.6 1073.2,347.2 1059.8,370.1 1046.3,393.2 1032.9,416.9 1019.5,441.0 1006.1,465.2 992.7,489.3 979.3,513.5 965.9,538.0 952.5,563.4 939.0,589.7 925.6,616.4 912.2,642.2 898.8,665.7" fill="#ff8a00"/>
<polygon points="898.8,440.5 912.2,418.0 925.6,396.1 939.0,375.4 952.5,356.7 965.9,340.7 979.3,327.3 992.7,316.1 1006.1,306.5 1019.5,298.3 1032.9,291.4 1046.3,285.6 1059.8,281.1 1073.2,277.7 1086.6,275.4 1100.0,273.7 1104.0,273.3 1109.1,272.7 1114.3,272.1 1119.4,271.5 1124.6,270.9 1129.7,270.2 1134.9,269.6 1140.0,268.9 1146.0,268.1 1170.1,264.7 1194.2,260.9 1218.3,257.0 1242.4,253.0 1266.5,249.1 1290.6,245.2 1314.6,241.6 1338.7,238.1 1362.8,235.0 1386.9,232.1 1411.0,229.4 1435.1,226.7 1459.2,223.8 1459.2,88.9 1435.1,93.2 1411.0,98.4 1386.9,104.5 1362.8,111.6 1338.7,119.5 1314.6,128.3 1290.6,138.1 1266.5,149.1 1242.4,161.6 1218.3,176.4 1194.2,194.6 1170.1,216.3 1146.0,241.2 1140.0,248.1 1134.9,254.2 1129.7,260.6 1124.6,267.2 1119.4,274.1 1114.3,281.3 1109.1,288.7 1104.0,296.5 1100.0,302.7 1086.6,324.6 1073.2,347.2 1059.8,370.1 1046.3,393.2 1032.9,416.9 1019.5,441.0 1006.1,465.2 992.7,489.3 979.3,513.5 965.9,538.0 952.5,563.4 939.0,589.7 925.6,616.4 912.2,642.2 898.8,665.7" fill="#ff9100"/>
<polygon points="898.8,442.1 912.2,419.6 925.6,397.7 939.0,377.0 952.5,358.2 965.9,342.2 979.3,328.7 992.7,317.3 1006.1,307.7 1019.5,299.3 1032.9,292.3 1046.3,286.4 1059.8,281.7 1073.2,278.3 1086.6,275.8 1100.0,273.9 1104.0,273.4 1109.1,272.8 1114.3,272.2 1119.4,271.5 1124.6,270.8 1129.7,270.2 1134.9,269.5 1140.0,268.8 1146.0,268.0 1170.1,264.4 1194.2,260.5 1218.3,256.4 1242.4,252.3 1266.5,248.3 1290.6,244.5 1314.6,240.8 1338.7,237.3 1362.8,234.1 1386.9,231.2 1411.0,228.4 1435.1,225.7 1459.2,222.8 1459.2,88.9 1435.1,93.2 1411.0,98.4 1386.9,104.5 1362.8,111.6 1338.7,119.5 1314.6,128.3 1290.6,138.1 1266.5,149.1 1242.4,161.6 1218.3,176.4 1194.2,194.6 1170.1,216.3 1146.0,241.2 1140.0,248.1 1134.9,254.2 1129.7,260.6 1124.6,267.2 1119.4,274.1 1114.3,281.3 1109.1,288.7 1104.0,296.5 1100.0,302.7 1086.6,324.6 1073.2,347.2 1059.8,370.1 1046.3,393.2 1032.9,416.9 1019.5,441.0 1006.1,465.2 992.7,489.3 979.3,513.5 965.9,538.0 952.5,563.4 939.0,589.7 925.6,616.4 912.2,642.2 898.8,665.7" fill="#ff9700"/>
<polygon points="898.8,443.8 912.2,421.2 925.6,399.3 939.0,378.5 952.5,359.7 965.9,343.6 979.3,330.0 992.7,318.6 1006.1,308.8 1019.5,300.4 1032.9,293.2 1046.3,287.2 1059.8,282.4 1073.2,278.8 1086.6,276.1 1100.0,274.1 1104.0,273.6 1109.1,272.9 1114.3,272.2 1119.4,271.5 1124.6,270.8 1129.7,270.1 1134.9,269.4 1140.0,268.6 1146.0,267.8 1170.1,264.0 1194.2,260.0 1218.3,255.8 1242.4,251.7 1266.5,247.6 1290.6,243.7 1314.6,239.9 1338.7,236.4 1362.8,233.2 1386.9,230.3 1411.0,227.5 1435.1,224.7 1459.2,221.8 1459.2,88.9 1435.1,93.2 1411.0,98.4 1386.9,104.5 1362.8,111.6 1338.7,119.5 1314.6,128.3 1290.6,138.1 1266.5,149.1 1242.4,161.6 1218.3,176.4 1194.2,194.6 1170.1,216.3 1146.0,241.2 1140.0,248.1 1134.9,254.2 1129.7,260.6 1124.6,267.2 1119.4,274.1 1114.3,281.3 1109.1,288.7 1104.0,296.5 1100.0,302.7 1086.6,324.6 1073.2,347.2 1059.8,370.1 1046.3,393.2 1032.9,416.9 1019.5,441.0 1006.1,465.2 992.7,489.3 979.3,513.5 965.9,538.0 952.5,563.4 939.0,589.7 925.6,616.4 912.2,642.2 898.8,665.7" fill="#ff9e00"/>
<polygon points="898.8,445.4 912.2,422.8 925.6,400.9 939.0,380.1 952.5,361.2 965.9,345.0 979.3,331.4 992.7,319.8 1006.1,310.0 1019.5,301.4 1032.9,294.1 1046.3,288.0 1059.8,283.0 1073.2,279.3 1086.6,276.5 1100.0,274.3 1104.0,273.8 1109.1,273.0 1114.3,272.3 1119.4,271.5 1124.6,270.8 1129.7,270.0 1134.9,269.3 1140.0,268.5 1146.0,267.6 1170.1,263.7 1194.2,259.5 1218.3,255.2 1242.4,251.0 1266.5,246.9 1290.6,242.9 1314.6,239.1 1338.7,235.6 1362.8,232.3 1386.9,229.3 1411.0,226.5 1435.1,223.8 1459.2,220.8 1459.2,88.9 1435.1,93.2 1411.0,98.4 1386.9,104.5 1362.8,111.6 1338.7,119.5 1314.6,128.3 1290.6,138.1 1266.5,149.1 1242.4,161.6 1218.3,176.4 1194.2,194.6 1170.1,216.3 1146.0,241.2 1140.0,248.1 1134.9,254.2 1129.7,260.6 1124.6,267.2 1119.4,274.1 1114.3,281.3 1109.1,288.7 1104.0,296.5 1100.0,302.7 1086.6,324.6 1073.2,347.2 1059.8,370.1 1046.3,393.2 1032.9,416.9 1019.5,441.0 1006.1,465.2 992.7,489.3 979.3,513.5 965.9,538.0 952.5,563.4 939.0,589.7 925.6,616.4 912.2,642.2 898.8,665.7" fill="#ffa500"/>
<polygon points="898.8,447.0 912.2,424.5 925.6,402.5 939.0,381.6 952.5,362.6 965.9,346.5 979.3,332.7 992.7,321.1 1006.1,311.1 1019.5,302.5 1032.9,295.0 1046.3,288.8 1059.8,283.7 1073.2,279.8 1086.6,276.8 1100.0,274.6 1104.0,273.9 1109.1,273.1 1114.3,272.4 1119.4,271.6 1124.6,270.8 1129.7,270.0 1134.9,269.2 1140.0,268.3 1146.0,267.4 1170.1,263.3 1194.2,259.0 1218.3,254.6 1242.4,250.3 1266.5,246.2 1290.6,242.1 1314.6,238.3 1338.7,234.7 1362.8,231.4 1386.9,228.4 1411.0,225.6 1435.1,222.8 1459.2,219.9 1459.2,88.9 1435.1,93.2 1411.0,98.4 1386.9,104.5 1362.8,111.6 1338.7,119.5 1314.6,128.3 1290.6,138.1 1266.5,149.1 1242.4,161.6 1218.3,176.4 1194.2,194.6 1170.1,216.3 1146.0,241.2 1140.0,248.1 1134.9,254.2 1129.7,260.6 1124.6,267.2 1119.4,274.1 1114.3,281.3 1109.1,288.7 1104.0,296.5 1100.0,302.7 1086.6,324.6 1073.2,347.2 1059.8,370.1 1046.3,393.2 1032.9,416.9 1019.5,441.0 1006.1,465.2 992.7,489.3 979.3,513.5 965.9,538.0 952.5,563.4 939.0,589.7 925.6,616.4 912.2,642.2 898.8,665.7" fill="#ffab00"/>
<polygon points="898.8,448.7 912.2,426.1 925.6,404.1 939.0,383.2 952.5,364.1 965.9,347.9 979.3,334.1 992.7,322.3 1006.1,312.3 1019.5,303.5 1032.9,295.9 1046.3,289.5 1059.8,284.3 1073.2,280.3 1086.6,277.2 1100.0,274.8 1104.0,274.1 1109.1,273.3 1114.3,272.4 1119.4,271.6 1124.6,270.7 1129.7,269.9 1134.9,269.0 1140.0,268.2 1146.0,267.2 1170.1,263.0 1194.2,258.5 1218.3,254.1 1242.4,249.7 1266.5,245.4 1290.6,241.4 1314.6,237.5 1338.7,233.8 1362.8,230.5 1386.9,227.5 1411.0,224.6 1435.1,221.8 1459.2,218.9 1459.2,88.9 1435.1,93.2 1411.0,98.4 1386.9,104.5 1362.8,111.6 1338.7,119.5 1314.6,128.3 1290.6,138.1 1266.5,149.1 1242.4,161.6 1218.3,176.4 1194.2,194.6 1170.1,216.3 1146.0,241.2 1140.0,248.1 1134.9,254.2 1129.7,260.6 1124.6,267.2 1119.4,274.1 1114.3,281.3 1109.1,288.7 1104.0,296.5 1100.0,302.7 1086.6,324.6 1073.2,347.2 1059.8,370.1 1046.3,393.2 1032.9,416.9 1019.5,441.0 1006.1,465.2 992.7,489.3 979.3,513.5 965.9,538.0 952.5,563.4 939.0,589.7 925.6,616.4 912.2,642.2 898.8,665.7" fill="#ffb200"/>
<polygon points="898.8,450.3 912.2,427.7 925.6,405.7 939.0,384.7 952.5,365.6 965.9,349.3 979.3,335.4 992.7,323.6 1006.1,313.4 1019.5,304.5 1032.9,296.8 1046.3,290.3 1059.8,285.0 1073.2,280.8 1086.6,277.5 1100.0,275.0 1104.0,274.3 1109.1,273.4 1114.3,272.5 1119.4,271.6 1124.6,270.7 1129.7,269.8 1134.9,268.9 1140.0,268.0 1146.0,267.0 1170.1,262.6 1194.2,258.1 1218.3,253.5 1242.4,249.0 1266.5,244.7 1290.6,240.6 1314.6,236.6 1338.7,233.0 1362.8,229.6 1386.9,226.6 1411.0,223.7 1435.1,220.9 1459.2,217.9 1459.2,88.9 1435.1,93.2 1411.0,98.4 1386.9,104.5 1362.8,111.6 1338.7,119.5 1314.6,128.3 1290.6,138.1 1266.5,149.1 1242.4,161.6 1218.3,176.4 1194.2,194.6 1170.1,216.3 1146.0,241.2 1140.0,248.1 1134.9,254.2 1129.7,260.6 1124.6,267.2 1119.4,274.1 1114.3,281.3 1109.1,288.7 1104.0,296.5 1100.0,302.7 1086.6,324.6 1073.2,347.2 1059.8,370.1 1046.3,393.2 1032.9,416.9 1019.5,441.0 1006.1,465.2 992.7,489.3 979.3,513.5 965.9,538.0 952.5,563.4 939.0,589.7 925.6,616.4 912.2,642.2 898.8,665.7" fill="#ffb800"/>
<polygon points="898.8,451.9 912.2,429.3 925.6,407.3 939.0,386.3 952.5,367.1 965.9,350.7 979.3,336.8 992.7,324.9 1006.1,314.6 1019.5,305.6 1032.9,297.7 1046.3,291.1 1059.8,285.6 1073.2,281.3 1086.6,277.9 1100.0,275.2 1104.0,274.4 1109.1,273.5 1114.3,272.6 1119.4,271.6 1124.6,270.7 1129.7,269.7 1134.9,268.8 1140.0,267.9 1146.0,266.8 1170.1,262.3 1194.2,257.6 1218.3,252.9 1242.4,248.4 1266.5,244.0 1290.6,239.8 1314.6,235.8 1338.7,232.1 1362.8,228.7 1386.9,225.6 1411.0,222.7 1435.1,219.9 1459.2,216.9 1459.2,88.9 1435.1,93.2 1411.0,98.4 1386.9,104.5 1362.8,111.6 1338.7,119.5 1314.6,128.3 1290.6,138.1 1266.5,149.1 1242.4,161.6 1218.3,176.4 1194.2,194.6 1170.1,216.3 1146.0,241.2 1140.0,248.1 1134.9,254.2 1129.7,260.6 1124.6,267.2 1119.4,274.1 1114.3,281.3 1109.1,288.7 1104.0,296.5 1100.0,302.7 1086.6,324.6 1073.2,347.2 1059.8,370.1 1046.3,393.2 1032.9,416.9 1019.5,441.0 1006.1,465.2 992.7,489.3 979.3,513.5 965.9,538.0 952.5,563.4 939.0,589.7 925.6,616.4 912.2,642.2 898.8,665.7" fill="#ffbf00"/>
<polygon points="898.8,453.6 912.2,431.0 925.6,408.9 939.0,387.8 952.5,368.6 965.9,352.2 979.3,338.1 992.7,326.1 1006.1,315.7 1019.5,306.6 1032.9,298.6 1046.3,291.9 1059.8,286.2 1073.2,281.8 1086.6,278.3 1100.0,275.4 1104.0,274.6 1109.1,273.6 1114.3,272.6 1119.4,271.6 1124.6,270.7 1129.7,269.7 1134.9,268.7 1140.0,267.7 1146.0,266.6 1170.1,261.9 1194.2,257.1 1218.3,252.3 1242.4,247.7 1266.5,243.3 1290.6,239.0 1314.6,235.0 1338.7,231.3 1362.8,227.8 1386.9,224.7 1411.0,221.8 1435.1,218.9 1459.2,216.0 1459.2,88.9 1435.1,93.2 1411.0,98.4 1386.9,104.5 1362.8,111.6 1338.7,119.5 1314.6,128.3 1290.6,138.1 1266.5,149.1 1242.4,161.6 1218.3,176.4 1194.2,194.6 1170.1,216.3 1146.0,241.2 1140.0,248.1 1134.9,254.2 1129.7,260.6 1124.6,267.2 1119.4,274.1 1114.3,281.3 1109.1,288.7 1104.0,296.5 1100.0,302.7 1086.6,324.6 1073.2,347.2 1059.8,370.1 1046.3,393.2 1032.9,416.9 1019.5,441.0 1006.1,465.2 992.7,489.3 979.3,513.5 965.9,538.0 952.5,563.4 939.0,589.7 925.6,616.4 912.2,642.2 898.8,665.7" fill="#ffc500"/>
<polygon points="898.8,455.2 912.2,432.6 925.6,410.5 939.0,389.4 952.5,370.1 965.9,353.6 979.3,339.5 992.7,327.4 1006.1,316.9 1019.5,307.6 1032.9,299.6 1046.3,292.7 1059.8,286.9 1073.2,282.3 1086.6,278.6 1100.0,275.6 1104.0,274.8 1109.1,273.7 1114.3,272.7 1119.4,271.7 1124.6,270.6 1129.7,269.6 1134.9,268.6 1140.0,267.6 1146.0,266.4 1170.1,261.6 1194.2,256.6 1218.3,251.7 1242.4,247.0 1266.5,242.5 1290.6,238.2 1314.6,234.2 1338.7,230.4 1362.8,226.9 1386.9,223.8 1411.0,220.8 1435.1,218.0 1459.2,215.0 1459.2,88.9 1435.1,93.2 1411.0,98.4 1386.9,104.5 1362.8,111.6 1338.7,119.5 1314.6,128.3 1290.6,138.1 1266.5,149.1 1242.4,161.6 1218.3,176.4 1194.2,194.6 1170.1,216.3 1146.0,241.2 1140.0,248.1 1134.9,254.2 1129.7,260.6 1124.6,267.2 1119.4,274.1 1114.3,281.3 1109.1,288.7 1104.0,296.5 1100.0,302.7 1086.6,324.6 1073.2,347.2 1059.8,370.1 1046.3,393.2 1032.9,416.9 1019.5,441.0 1006.1,465.2 992.7,489.3 979.3,513.5 965.9,538.0 952.5,563.4 939.0,589.7 925.6,616.4 912.2,642.2 898.8,665.7" fill="#ffcb00"/>
<polygon points="898.8,456.8 912.2,434.2 925.6,412.1 939.0,390.9 952.5,371.6 965.9,355.0 979.3,340.8 992.7,328.6 1006.1,318.0 1019.5,308.7 1032.9,300.5 1046.3,293.4 1059.8,287.5 1073.2,282.8 1086.6,279.0 1100.0,275.8 1104.0,274.9 1109.1,273.8 1114.3,272.8 1119.4,271.7 1124.6,270.6 1129.7,269.5 1134.9,268.5 1140.0,267.4 1146.0,266.2 1170.1,261.2 1194.2,256.1 1218.3,251.1 1242.4,246.4 1266.5,241.8 1290.6,237.5 1314.6,233.4 1338.7,229.5 1362.8,226.0 1386.9,222.9 1411.0,219.9 1435.1,217.0 1459.2,214.0 1459.2,88.9 1435.1,93.2 1411.0,98.4 1386.9,104.5 1362.8,111.6 1338.7,119.5 1314.6,128.3 1290.6,138.1 1266.5,149.1 1242.4,161.6 1218.3,176.4 1194.2,194.6 1170.1,216.3 1146.0,241.2 1140.0,248.1 1134.9,254.2 1129.7,260.6 1124.6,267.2 1119.4,274.1 1114.3,281.3 1109.1,288.7 1104.0,296.5 1100.0,302.7 1086.6,324.6 1073.2,347.2 1059.8,370.1 1046.3,393.2 1032.9,416.9 1019.5,441.0 1006.1,465.2 992.7,489.3 979.3,513.5 965.9,538.0 952.5,563.4 939.0,589.7 925.6,616.4 912.2,642.2 898.8,665.7" fill="#ffd100"/>
<polygon points="898.8,458.5 912.2,435.8 925.6,413.7 939.0,392.5 952.5,373.1 965.9,356.5 979.3,342.2 992.7,329.9 1006.1,319.2 1019.5,309.7 1032.9,301.4 1046.3,294.2 1059.8,288.2 1073.2,283.3 1086.6,279.3 1100.0,276.0 1104.0,275.1 1109.1,274.0 1114.3,272.8 1119.4,271.7 1124.6,270.6 1129.7,269.5 1134.9,268.4 1140.0,267.3 1146.0,266.0 1170.1,260.9 1194.2,255.7 1218.3,250.6 1242.4,245.7 1266.5,241.1 1290.6,236.7 1314.6,232.5 1338.7,228.7 1362.8,225.2 1386.9,221.9 1411.0,218.9 1435.1,216.0 1459.2,213.0 1459.2,88.9 1435.1,93.2 1411.0,98.4 1386.9,104.5 1362.8,111.6 1338.7,119.5 1314.6,128.3 1290.6,138.1 1266.5,149.1 1242.4,161.6 1218.3,176.4 1194.2,194.6 1170.1,216.3 1146.0,241.2 1140.0,248.1 1134.9,254.2 1129.7,260.6 1124.6,267.2 1119.4,274.1 1114.3,281.3 1109.1,288.7 1104.0,296.5 1100.0,302.7 1086.6,324.6 1073.2,347.2 1059.8,370.1 1046.3,393.2 1032.9,416.9 1019.5,441.0 1006.1,465.2 992.7,489.3 979.3,513.5 965.9,538.0 952.5,563.4 939.0,589.7 925.6,616.4 912.2,642.2 898.8,665.7" fill="#ffd700"/>
<polygon points="898.8,460.1 912.2,437.5 925.6,415.3 939.0,394.1 952.5,374.6 965.9,357.9 979.3,343.5 992.7,331.1 1006.1,320.3 1019.5,310.7 1032.9,302.3 1046.3,295.0 1059.8,288.8 1073.2,283.8 1086.6,279.7 1100.0,276.2 1104.0,275.3 1109.1,274.1 1114.3,272.9 1119.4,271.7 1124.6,270.5 1129.7,269.4 1134.9,268.3 1140.0,267.1 1146.0,265.8 1170.1,260.5 1194.2,255.2 1218.3,250.0 1242.4,245.0 1266.5,240.4 1290.6,235.9 1314.6,231.7 1338.7,227.8 1362.8,224.3 1386.9,221.0 1411.0,218.0 1435.1,215.1 1459.2,212.1 1459.2,88.9 1435.1,93.2 1411.0,98.4 1386.9,104.5 1362.8,111.6 1338.7,119.5 1314.6,128.3 1290.6,138.1 1266.5,149.1 1242.4,161.6 1218.3,176.4 1194.2,194.6 1170.1,216.3 1146.0,241.2 1140.0,248.1 1134.9,254.2 1129.7,260.6 1124.6,267.2 1119.4,274.1 1114.3,281.3 1109.1,288.7 1104.0,296.5 1100.0,302.7 1086.6,324.6 1073.2,347.2 1059.8,370.1 1046.3,393.2 1032.9,416.9 1019.5,441.0 1006.1,465.2 992.7,489.3 979.3,513.5 965.9,538.0 952.5,563.4 939.0,589.7 925.6,616.4 912.2,642.2 898.8,665.7" fill="#ffde00"/>
<polygon points="898.8,461.7 912.2,439.1 925.6,416.9 939.0,395.6 952.5,376.1 965.9,359.3 979.3,344.9 992.7,332.4 1006.1,321.5 1019.5,311.8 1032.9,303.2 1046.3,295.8 1059.8,289.5 1073.2,284.3 1086.6,280.0 1100.0,276.4 1104.0,275.4 1109.1,274.2 1114.3,272.9 1119.4,271.7 1124.6,270.5 1129.7,269.3 1134.9,268.1 1140.0,267.0 1146.0,265.6 1170.1,260.2 1194.2,254.7 1218.3,249.4 1242.4,244.4 1266.5,239.6 1290.6,235.1 1314.6,230.9 1338.7,227.0 1362.8,223.4 1386.9,220.1 1411.0,217.1 1435.1,214.1 1459.2,211.1 1459.2,88.9 1435.1,93.2 1411.0,98.4 1386.9,104.5 1362.8,111.6 1338.7,119.5 1314.6,128.3 1290.6,138.1 1266.5,149.1 1242.4,161.6 1218.3,176.4 1194.2,194.6 1170.1,216.3 1146.0,241.2 1140.0,248.1 1134.9,254.2 1129.7,260.6 1124.6,267.2 1119.4,274.1 1114.3,281.3 1109.1,288.7 1104.0,296.5 1100.0,302.7 1086.6,324.6 1073.2,347.2 1059.8,370.1 1046.3,393.2 1032.9,416.9 1019.5,441.0 1006.1,465.2 992.7,489.3 979.3,513.5 965.9,538.0 952.5,563.4 939.0,589.7 925.6,616.4 912.2,642.2 898.8,665.7" fill="#ffe400"/>
<polygon points="898.8,463.3 912.2,440.7 925.6,418.5 939.0,397.2 952.5,377.6 965.9,360.8 979.3,346.2 992.7,333.6 1006.1,322.6 1019.5,312.8 1032.9,304.1 1046.3,296.5 1059.8,290.1 1073.2,284.8 1086.6,280.4 1100.0,276.7 1104.0,275.6 1109.1,274.3 1114.3,273.0 1119.4,271.7 1124.6,270.5 1129.7,269.3 1134.9,268.0 1140.0,266.8 1146.0,265.4 1170.1,259.8 1194.2,254.2 1218.3,248.8 1242.4,243.7 1266.5,238.9 1290.6,234.4 1314.6,230.1 1338.7,226.1 1362.8,222.5 1386.9,219.2 1411.0,216.1 1435.1,213.1 1459.2,210.1 1459.2,88.9 1435.1,93.2 1411.0,98.4 1386.9,104.5 1362.8,111.6 1338.7,119.5 1314.6,128.3 1290.6,138.1 1266.5,149.1 1242.4,161.6 1218.3,176.4 1194.2,194.6 1170.1,216.3 1146.0,241.2 1140.0,248.1 1134.9,254.2 1129.7,260.6 1124.6,267.2 1119.4,274.1 1114.3,281.3 1109.1,288.7 1104.0,296.5 1100.0,302.7 1086.6,324.6 1073.2,347.2 1059.8,370.1 1046.3,393.2 1032.9,416.9 1019.5,441.0 1006.1,465.2 992.7,489.3 979.3,513.5 965.9,538.0 952.5,563.4 939.0,589.7 925.6,616.4 912.2,642.2 898.8,665.7" fill="#ffea00"/>
<polygon points="898.8,465.0 912.2,442.3 925.6,420.1 939.0,398.7 952.5,379.1 965.9,362.2 979.3,347.6 992.7,334.9 1006.1,323.8 1019.5,313.8 1032.9,305.0 1046.3,297.3 1059.8,290.8 1073.2,285.3 1086.6,280.8 1100.0,276.9 1104.0,275.8 1109.1,274.4 1114.3,273.1 1119.4,271.8 1124.6,270.5 1129.7,269.2 1134.9,267.9 1140.0,266.7 1146.0,265.2 1170.1,259.5 1194.2,253.7 1218.3,248.2 1242.4,243.1 1266.5,238.2 1290.6,233.6 1314.6,229.3 1338.7,225.2 1362.8,221.6 1386.9,218.2 1411.0,215.2 1435.1,212.2 1459.2,209.1 1459.2,88.9 1435.1,93.2 1411.0,98.4 1386.9,104.5 1362.8,111.6 1338.7,119.5 1314.6,128.3 1290.6,138.1 1266.5,149.1 1242.4,161.6 1218.3,176.4 1194.2,194.6 1170.1,216.3 1146.0,241.2 1140.0,248.1 1134.9,254.2 1129.7,260.6 1124.6,267.2 1119.4,274.1 1114.3,281.3 1109.1,288.7 1104.0,296.5 1100.0,302.7 1086.6,324.6 1073.2,347.2 1059.8,370.1 1046.3,393.2 1032.9,416.9 1019.5,441.0 1006.1,465.2 992.7,489.3 979.3,513.5 965.9,538.0 952.5,563.4 939.0,589.7 925.6,616.4 912.2,642.2 898.8,665.7" fill="#fff000"/>
<polygon points="898.8,466.6 912.2,444.0 925.6,421.7 939.0,400.3 952.5,380.6 965.9,363.6 979.3,348.9 992.7,336.2 1006.1,324.9 1019.5,314.9 1032.9,305.9 1046.3,298.1 1059.8,291.4 1073.2,285.8 1086.6,281.1 1100.0,277.1 1104.0,275.9 1109.1,274.5 1114.3,273.1 1119.4,271.8 1124.6,270.4 1129.7,269.1 1134.9,267.8 1140.0,266.5 1146.0,265.0 1170.1,259.1 1194.2,253.2 1218.3,247.6 1242.4,242.4 1266.5,237.5 1290.6,232.8 1314.6,228.4 1338.7,224.4 1362.8,220.7 1386.9,217.3 1411.0,214.2 1435.1,211.2 1459.2,208.1 1459.2,88.9 1435.1,93.2 1411.0,98.4 1386.9,104.5 1362.8,111.6 1338.7,119.5 1314.6,128.3 1290.6,138.1 1266.5,149.1 1242.4,161.6 1218.3,176.4 1194.2,194.6 1170.1,216.3 1146.0,241.2 1140.0,248.1 1134.9,254.2 1129.7,260.6 1124.6,267.2 1119.4,274.1 1114.3,281.3 1109.1,288.7 1104.0,296.5 1100.0,302.7 1086.6,324.6 1073.2,347.2 1059.8,370.1 1046.3,393.2 1032.9,416.9 1019.5,441.0 1006.1,465.2 992.7,489.3 979.3,513.5 965.9,538.0 952.5,563.4 939.0,589.7 925.6,616.4 912.2,642.2 898.8,665.7" fill="#fff600"/>
<polygon points="898.8,468.2 912.2,445.6 925.6,423.3 939.0,401.8 952.5,382.1 965.9,365.0 979.3,350.3 992.7,337.4 1006.1,326.1 1019.5,315.9 1032.9,306.8 1046.3,298.9 1059.8,292.1 1073.2,286.3 1086.6,281.5 1100.0,277.3 1104.0,276.1 1109.1,274.7 1114.3,273.2 1119.4,271.8 1124.6,270.4 1129.7,269.0 1134.9,267.7 1140.0,266.4 1146.0,264.8 1170.1,258.8 1194.2,252.8 1218.3,247.1 1242.4,241.7 1266.5,236.7 1290.6,232.0 1314.6,227.6 1338.7,223.5 1362.8,219.8 1386.9,216.4 1411.0,213.3 1435.1,210.2 1459.2,207.2 1459.2,88.9 1435.1,93.2 1411.0,98.4 1386.9,104.5 1362.8,111.6 1338.7,119.5 1314.6,128.3 1290.6,138.1 1266.5,149.1 1242.4,161.6 1218.3,176.4 1194.2,194.6 1170.1,216.3 1146.0,241.2 1140.0,248.1 1134.9,254.2 1129.7,260.6 1124.6,267.2 1119.4,274.1 1114.3,281.3 1109.1,288.7 1104.0,296.5 1100.0,302.7 1086.6,324.6 1073.2,347.2 1059.8,370.1 1046.3,393.2 1032.9,416.9 1019.5,441.0 1006.1,465.2 992.7,489.3 979.3,513.5 965.9,538.0 952.5,563.4 939.0,589.7 925.6,616.4 912.2,642.2 898.8,665.7" fill="#fffc00"/>
<polygon points="898.8,469.9 912.2,447.2 925.6,424.9 939.0,403.4 952.5,383.6 965.9,366.5 979.3,351.6 992.7,338.7 1006.1,327.2 1019.5,316.9 1032.9,307.7 1046.3,299.7 1059.8,292.7 1073.2,286.8 1086.6,281.8 1100.0,277.5 1104.0,276.3 1109.1,274.8 1114.3,273.3 1119.4,271.8 1124.6,270.4 1129.7,269.0 1134.9,267.6 1140.0,266.2 1146.0,264.6 1170.1,258.4 1194.2,252.3 1218.3,246.5 1242.4,241.1 1266.5,236.0 1290.6,231.3 1314.6,226.8 1338.7,222.7 1362.8,218.9 1386.9,215.5 1411.0,212.3 1435.1,209.2 1459.2,206.2 1459.2,88.9 1435.1,93.2 1411.0,98.4 1386.9,104.5 1362.8,111.6 1338.7,119.5 1314.6,128.3 1290.6,138.1 1266.5,149.1 1242.4,161.6 1218.3,176.4 1194.2,194.6 1170.1,216.3 1146.0,241.2 1140.0,248.1 1134.9,254.2 1129.7,260.6 1124.6,267.2 1119.4,274.1 1114.3,281.3 1109.1,288.7 1104.0,296.5 1100.0,302.7 1086.6,324.6 1073.2,347.2 1059.8,370.1 1046.3,393.2 1032.9,416.9 1019.5,441.0 1006.1,465.2 992.7,489.3 979.3,513.5 965.9,538.0 952.5,563.4 939.0,589.7 925.6,616.4 912.2,642.2 898.8,665.7" fill="#fdff00"/>
<polygon points="898.8,471.5 912.2,448.8 925.6,426.5 939.0,404.9 952.5,385.1 965.9,367.9 979.3,353.0 992.7,339.9 1006.1,328.4 1019.5,318.0 1032.9,308.7 1046.3,300.4 1059.8,293.3 1073.2,287.3 1086.6,282.2 1100.0,277.7 1104.0,276.5 1109.1,274.9 1114.3,273.3 1119.4,271.8 1124.6,270.4 1129.7,268.9 1134.9,267.5 1140.0,266.1 1146.0,264.4 1170.1,258.1 1194.2,251.8 1218.3,245.9 1242.4,240.4 1266.5,235.3 1290.6,230.5 1314.6,226.0 1338.7,221.8 1362.8,218.0 1386.9,214.6 1411.0,211.4 1435.1,208.3 1459.2,205.2 1459.2,88.9 1435.1,93.2 1411.0,98.4 1386.9,104.5 1362.8,111.6 1338.7,119.5 1314.6,128.3 1290.6,138.1 1266.5,149.1 1242.4,161.6 1218.3,176.4 1194.2,194.6 1170.1,216.3 1146.0,241.2 1140.0,248.1 1134.9,254.2 1129.7,260.6 1124.6,267.2 1119.4,274.1 1114.3,281.3 1109.1,288.7 1104.0,296.5 1100.0,302.7 1086.6,324.6 1073.2,347.2 1059.8,370.1 1046.3,393.2 1032.9,416.9 1019.5,441.0 1006.1,465.2 992.7,489.3 979.3,513.5 965.9,538.0 952.5,563.4 939.0,589.7 925.6,616.4 912.2,642.2 898.8,665.7" fill="#f8ff00"/>
<polygon points="898.8,473.1 912.2,450.5 925.6,428.1 939.0,406.5 952.5,386.6 965.9,369.3 979.3,354.3 992.7,341.2 1006.1,329.5 1019.5,319.0 1032.9,309.6 1046.3,301.2 1059.8,294.0 1073.2,287.8 1086.6,282.5 1100.0,277.9 1104.0,276.6 1109.1,275.0 1114.3,273.4 1119.4,271.9 1124.6,270.3 1129.7,268.8 1134.9,267.4 1140.0,265.9 1146.0,264.2 1170.1,257.7 1194.2,251.3 1218.3,245.3 1242.4,239.8 1266.5,234.6 1290.6,229.7 1314.6,225.2 1338.7,220.9 1362.8,217.1 1386.9,213.6 1411.0,210.4 1435.1,207.3 1459.2,204.2 1459.2,88.9 1435.1,93.2 1411.0,98.4 1386.9,104.5 1362.8,111.6 1338.7,119.5 1314.6,128.3 1290.6,138.1 1266.5,149.1 1242.4,161.6 1218.3,176.4 1194.2,194.6 1170.1,216.3 1146.0,241.2 1140.0,248.1 1134.9,254.2 1129.7,260.6 1124.6,267.2 1119.4,274.1 1114.3,281.3 1109.1,288.7 1104.0,296.5 1100.0,302.7 1086.6,324.6 1073.2,347.2 1059.8,370.1 1046.3,393.2 1032.9,416.9 1019.5,441.0 1006.1,465.2 992.7,489.3 979.3,513.5 965.9,538.0 952.5,563.4 939.0,589.7 925.6,616.4 912.2,642.2 898.8,665.7" fill="#f3ff00"/>
<polygon points="898.8,474.8 912.2,452.1 925.6,429.6 939.0,408.0 952.5,388.1 965.9,370.8 979.3,355.7 992.7,342.4 1006.1,330.7 1019.5,320.0 1032.9,310.5 1046.3,302.0 1059.8,294.6 1073.2,288.3 1086.6,282.9 1100.0,278.1 1104.0,276.8 1109.1,275.1 1114.3,273.5 1119.4,271.9 1124.6,270.3 1129.7,268.8 1134.9,267.3 1140.0,265.8 1146.0,264.0 1170.1,257.3 1194.2,250.8 1218.3,244.7 1242.4,239.1 1266.5,233.9 1290.6,228.9 1314.6,224.3 1338.7,220.1 1362.8,216.2 1386.9,212.7 1411.0,209.5 1435.1,206.3 1459.2,203.3 1459.2,88.9 1435.1,93.2 1411.0,98.4 1386.9,104.5 1362.8,111.6 1338.7,119.5 1314.6,128.3 1290.6,138.1 1266.5,149.1 1242.4,161.6 1218.3,176.4 1194.2,194.6 1170.1,216.3 1146.0,241.2 1140.0,248.1 1134.9,254.2 1129.7,260.6 1124.6,267.2 1119.4,274.1 1114.3,281.3 1109.1,288.7 1104.0,296.5 1100.0,302.7 1086.6,324.6 1073.2,347.2 1059.8,370.1 1046.3,393.2 1032.9,416.9 1019.5,441.0 1006.1,465.2 992.7,489.3 979.3,513.5 965.9,538.0 952.5,563.4 939.0,589.7 925.6,616.4 912.2,642.2 898.8,665.7" fill="#edff00"/>
<polygon points="898.8,476.4 912.2,453.7 925.6,431.2 939.0,409.6 952.5,389.6 965.9,372.2 979.3,357.0 992.7,343.7 1006.1,331.8 1019.5,321.1 1032.9,311.4 1046.3,302.8 1059.8,295.3 1073.2,288.8 1086.6,283.2 1100.0,278.3 1104.0,277.0 1109.1,275.2 1114.3,273.5 1119.4,271.9 1124.6,270.3 1129.7,268.7 1134.9,267.1 1140.0,265.6 1146.0,263.9 1170.1,257.0 1194.2,250.4 1218.3,244.1 1242.4,238.4 1266.5,233.1 1290.6,228.2 1314.6,223.5 1338.7,219.2 1362.8,215.3 1386.9,211.8 1411.0,208.5 1435.1,205.4 1459.2,202.3 1459.2,88.9 1435.1,93.2 1411.0,98.4 1386.9,104.5 1362.8,111.6 1338.7,119.5 1314.6,128.3 1290.6,138.1 1266.5,149.1 1242.4,161.6 1218.3,176.4 1194.2,194.6 1170.1,216.3 1146.0,241.2 1140.0,248.1 1134.9,254.2 1129.7,260.6 1124.6,267.2 1119.4,274.1 1114.3,281.3 1109.1,288.7 1104.0,296.5 1100.0,302.7 1086.6,324.6 1073.2,347.2 1059.8,370.1 1046.3,393.2 1032.9,416.9 1019.5,441.0 1006.1,465.2 992.7,489.3 979.3,513.5 965.9,538.0 952.5,563.4 939.0,589.7 925.6,616.4 912.2,642.2 898.8,665.7" fill="#e8ff00"/>
<polygon points="898.8,478.0 912.2,455.3 925.6,432.8 939.0,411.1 952.5,391.1 965.9,373.6 979.3,358.4 992.7,344.9 1006.1,333.0 1019.5,322.1 1032.9,312.3 1046.3,303.6 1059.8,295.9 1073.2,289.3 1086.6,283.6 1100.0,278.5 1104.0,277.1 1109.1,275.3 1114.3,273.6 1119.4,271.9 1124.6,270.3 1129.7,268.6 1134.9,267.0 1140.0,265.5 1146.0,263.7 1170.1,256.6 1194.2,249.9 1218.3,243.6 1242.4,237.8 1266.5,232.4 1290.6,227.4 1314.6,222.7 1338.7,218.4 1362.8,214.4 1386.9,210.9 1411.0,207.6 1435.1,204.4 1459.2,201.3 1459.2,88.9 1435.1,93.2 1411.0,98.4 1386.9,104.5 1362.8,111.6 1338.7,119.5 1314.6,128.3 1290.6,138.1 1266.5,149.1 1242.4,161.6 1218.3,176.4 1194.2,194.6 1170.1,216.3 1146.0,241.2 1140.0,248.1 1134.9,254.2 1129.7,260.6 1124.6,267.2 1119.4,274.1 1114.3,281.3 1109.1,288.7 1104.0,296.5 1100.0,302.7 1086.6,324.6 1073.2,347.2 1059.8,370.1 1046.3,393.2 1032.9,416.9 1019.5,441.0 1006.1,465.2 992.7,489.3 979.3,513.5 965.9,538.0 952.5,563.4 939.0,589.7 925.6,616.4 912.2,642.2 898.8,665.7" fill="#e3ff00"/>
<polygon points="898.8,479.7 912.2,457.0 925.6,434.4 939.0,412.7 952.5,392.6 965.9,375.0 979.3,359.7 992.7,346.2 1006.1,334.1 1019.5,323.1 1032.9,313.2 1046.3,304.3 1059.8,296.6 1073.2,289.8 1086.6,284.0 1100.0,278.8 1104.0,277.3 1109.1,275.5 1114.3,273.7 1119.4,271.9 1124.6,270.2 1129.7,268.6 1134.9,266.9 1140.0,265.3 1146.0,263.5 1170.1,256.3 1194.2,249.4 1218.3,243.0 1242.4,237.1 1266.5,231.7 1290.6,226.6 1314.6,221.9 1338.7,217.5 1362.8,213.5 1386.9,209.9 1411.0,206.6 1435.1,203.4 1459.2,200.3 1459.2,88.9 1435.1,93.2 1411.0,98.4 1386.9,104.5 1362.8,111.6 1338.7,119.5 1314.6,128.3 1290.6,138.1 1266.5,149.1 1242.4,161.6 1218.3,176.4 1194.2,194.6 1170.1,216.3 1146.0,241.2 1140.0,248.1 1134.9,254.2 1129.7,260.6 1124.6,267.2 1119.4,274.1 1114.3,281.3 1109.1,288.7 1104.0,296.5 1100.0,302.7 1086.6,324.6 1073.2,347.2 1059.8,370.1 1046.3,393.2 1032.9,416.9 1019.5,441.0 1006.1,465.2 992.7,489.3 979.3,513.5 965.9,538.0 952.5,563.4 939.0,589.7 925.6,616.4 912.2,642.2 898.8,665.7" fill="#deff00"/>
<polygon points="898.8,481.3 912.2,458.6 925.6,436.0 939.0,414.2 952.5,394.1 965.9,376.5 979.3,361.1 992.7,347.5 1006.1,335.3 1019.5,324.2 1032.9,314.1 1046.3,305.1 1059.8,297.2 1073.2,290.3 1086.6,284.3 1100.0,279.0 1104.0,277.5 1109.1,275.6 1114.3,273.7 1119.4,272.0 1124.6,270.2 1129.7,268.5 1134.9,266.8 1140.0,265.2 1146.0,263.3 1170.1,255.9 1194.2,248.9 1218.3,242.4 1242.4,236.4 1266.5,231.0 1290.6,225.8 1314.6,221.0 1338.7,216.6 1362.8,212.6 1386.9,209.0 1411.0,205.7 1435.1,202.5 1459.2,199.3 1459.2,88.9 1435.1,93.2 1411.0,98.4 1386.9,104.5 1362.8,111.6 1338.7,119.5 1314.6,128.3 1290.6,138.1 1266.5,149.1 1242.4,161.6 1218.3,176.4 1194.2,194.6 1170.1,216.3 1146.0,241.2 1140.0,248.1 1134.9,254.2 1129.7,260.6 1124.6,267.2 1119.4,274.1 1114.3,281.3 1109.1,288.7 1104.0,296.5 1100.0,302.7 1086.6,324.6 1073.2,347.2 1059.8,370.1 1046.3,393.2 1032.9,416.9 1019.5,441.0 1006.1,465.2 992.7,489.3 979.3,513.5 965.9,538.0 952.5,563.4 939.0,589.7 925.6,616.4 912.2,642.2 898.8,665.7" fill="#d9ff00"/>
<polygon points="898.8,482.9 912.2,460.2 925.6,437.6 939.0,415.8 952.5,395.6 965.9,377.9 979.3,362.4 992.7,348.7 1006.1,336.4 1019.5,325.2 1032.9,315.0 1046.3,305.9 1059.8,297.9 1073.2,290.8 1086.6,284.7 1100.0,279.2 1104.0,277.6 1109.1,275.7 1114.3,273.8 1119.4,272.0 1124.6,270.2 1129.7,268.4 1134.9,266.7 1140.0,265.0 1146.0,263.1 1170.1,255.6 1194.2,248.4 1218.3,241.8 1242.4,235.8 1266.5,230.2 1290.6,225.0 1314.6,220.2 1338.7,215.8 1362.8,211.7 1386.9,208.1 1411.0,204.7 1435.1,201.5 1459.2,198.4 1459.2,88.9 1435.1,93.2 1411.0,98.4 1386.9,104.5 1362.8,111.6 1338.7,119.5 1314.6,128.3 1290.6,138.1 1266.5,149.1 1242.4,161.6 1218.3,176.4 1194.2,194.6 1170.1,216.3 1146.0,241.2 1140.0,248.1 1134.9,254.2 1129.7,260.6 1124.6,267.2 1119.4,274.1 1114.3,281.3 1109.1,288.7 1104.0,296.5 1100.0,302.7 1086.6,324.6 1073.2,347.2 1059.8,370.1 1046.3,393.2 1032.9,416.9 1019.5,441.0 1006.1,465.2 992.7,489.3 979.3,513.5 965.9,538.0 952.5,563.4 939.0,589.7 925.6,616.4 912.2,642.2 898.8,665.7" fill="#d3ff00"/>
<polygon points="898.8,484.6 912.2,461.8 925.6,439.2 939.0,417.3 952.5,397.1 965.9,379.3 979.3,363.8 992.7,350.0 1006.1,337.6 1019.5,326.2 1032.9,315.9 1046.3,306.7 1059.8,298.5 1073.2,291.3 1086.6,285.0 1100.0,279.4 1104.0,277.8 1109.1,275.8 1114.3,273.9 1119.4,272.0 1124.6,270.1 1129.7,268.3 1134.9,266.6 1140.0,264.9 1146.0,262.9 1170.1,255.2 1194.2,248.0 1218.3,241.2 1242.4,235.1 1266.5,229.5 1290.6,224.3 1314.6,219.4 1338.7,214.9 1362.8,210.8 1386.9,207.2 1411.0,203.8 1435.1,200.5 1459.2,197.4 1459.2,88.9 1435.1,93.2 1411.0,98.4 1386.9,104.5 1362.8,111.6 1338.7,119.5 1314.6,128.3 1290.6,138.1 1266.5,149.1 1242.4,161.6 1218.3,176.4 1194.2,194.6 1170.1,216.3 1146.0,241.2 1140.0,248.1 1134.9,254.2 1129.7,260.6 1124.6,267.2 1119.4,274.1 1114.3,281.3 1109.1,288.7 1104.0,296.5 1100.0,302.7 1086.6,324.6 1073.2,347.2 1059.8,370.1 1046.3,393.2 1032.9,416.9 1019.5,441.0 1006.1,465.2 992.7,489.3 979.3,513.5 965.9,538.0 952.5,563.4 939.0,589.7 925.6,616.4 912.2,642.2 898.8,665.7" fill="#ceff00"/>
<polygon points="898.8,486.2 912.2,463.5 925.6,440.8 939.0,418.9 952.5,398.6 965.9,380.8 979.3,365.1 992.7,351.2 1006.1,338.7 1019.5,327.3 1032.9,316.8 1046.3,307.5 1059.8,299.1 1073.2,291.8 1086.6,285.4 1100.0,279.6 1104.0,278.0 1109.1,275.9 1114.3,273.9 1119.4,272.0 1124.6,270.1 1129.7,268.3 1134.9,266.5 1140.0,264.7 1146.0,262.7 1170.1,254.9 1194.2,247.5 1218.3,240.6 1242.4,234.5 1266.5,228.8 1290.6,223.5 1314.6,218.6 1338.7,214.1 1362.8,209.9 1386.9,206.2 1411.0,202.8 1435.1,199.6 1459.2,196.4 1459.2,88.9 1435.1,93.2 1411.0,98.4 1386.9,104.5 1362.8,111.6 1338.7,119.5 1314.6,128.3 1290.6,138.1 1266.5,149.1 1242.4,161.6 1218.3,176.4 1194.2,194.6 1170.1,216.3 1146.0,241.2 1140.0,248.1 1134.9,254.2 1129.7,260.6 1124.6,267.2 1119.4,274.1 1114.3,281.3 1109.1,288.7 1104.0,296.5 1100.0,302.7 1086.6,324.6 1073.2,347.2 1059.8,370.1 1046.3,393.2 1032.9,416.9 1019.5,441.0 1006.1,465.2 992.7,489.3 979.3,513.5 965.9,538.0 952.5,563.4 939.0,589.7 925.6,616.4 912.2,642.2 898.8,665.7" fill="#c8ff00"/>
<polygon points="898.8,487.8 912.2,465.1 925.6,442.4 939.0,420.5 952.5,400.1 965.9,382.2 979.3,366.5 992.7,352.5 1006.1,339.9 1019.5,328.3 1032.9,317.7 1046.3,308.2 1059.8,299.8 1073.2,292.4 1086.6,285.7 1100.0,279.8 1104.0,278.1 1109.1,276.0 1114.3,274.0 1119.4,272.0 1124.6,270.1 1129.7,268.2 1134.9,266.4 1140.0,264.6 1146.0,262.5 1170.1,254.5 1194.2,247.0 1218.3,240.1 1242.4,233.8 1266.5,228.1 1290.6,222.7 1314.6,217.8 1338.7,213.2 1362.8,209.1 1386.9,205.3 1411.0,201.9 1435.1,198.6 1459.2,195.4 1459.2,88.9 1435.1,93.2 1411.0,98.4 1386.9,104.5 1362.8,111.6 1338.7,119.5 1314.6,128.3 1290.6,138.1 1266.5,149.1 1242.4,161.6 1218.3,176.4 1194.2,194.6 1170.1,216.3 1146.0,241.2 1140.0,248.1 1134.9,254.2 1129.7,260.6 1124.6,267.2 1119.4,274.1 1114.3,281.3 1109.1,288.7 1104.0,296.5 1100.0,302.7 1086.6,324.6 1073.2,347.2 1059.8,370.1 1046.3,393.2 1032.9,416.9 1019.5,441.0 1006.1,465.2 992.7,489.3 979.3,513.5 965.9,538.0 952.5,563.4 939.0,589.7 925.6,616.4 912.2,642.2 898.8,665.7" fill="#c3ff00"/>
<polygon points="898.8,489.5 912.2,466.7 925.6,444.0 939.0,422.0 952.5,401.6 965.9,383.6 979.3,367.8 992.7,353.7 1006.1,341.0 1019.5,329.3 1032.9,318.7 1046.3,309.0 1059.8,300.4 1073.2,292.9 1086.6,286.1 1100.0,280.0 1104.0,278.3 1109.1,276.2 1114.3,274.1 1119.4,272.0 1124.6,270.1 1129.7,268.1 1134.9,266.2 1140.0,264.4 1146.0,262.3 1170.1,254.2 1194.2,246.5 1218.3,239.5 1242.4,233.1 1266.5,227.3 1290.6,221.9 1314.6,216.9 1338.7,212.3 1362.8,208.2 1386.9,204.4 1411.0,200.9 1435.1,197.6 1459.2,194.5 1459.2,88.9 1435.1,93.2 1411.0,98.4 1386.9,104.5 1362.8,111.6 1338.7,119.5 1314.6,128.3 1290.6,138.1 1266.5,149.1 1242.4,161.6 1218.3,176.4 1194.2,194.6 1170.1,216.3 1146.0,241.2 1140.0,248.1 1134.9,254.2 1129.7,260.6 1124.6,267.2 1119.4,274.1 1114.3,281.3 1109.1,288.7 1104.0,296.5 1100.0,302.7 1086.6,324.6 1073.2,347.2 1059.8,370.1 1046.3,393.2 1032.9,416.9 1019.5,441.0 1006.1,465.2 992.7,489.3 979.3,513.5 965.9,538.0 952.5,563.4 939.0,589.7 925.6,616.4 912.2,642.2 898.8,665.7" fill="#bdff00"/>
<polygon points="898.8,491.1 912.2,468.3 925.6,445.6 939.0,423.6 952.5,403.1 965.9,385.0 979.3,369.2 992.7,355.0 1006.1,342.2 1019.5,330.4 1032.9,319.6 1046.3,309.8 1059.8,301.1 1073.2,293.4 1086.6,286.5 1100.0,280.2 1104.0,278.5 1109.1,276.3 1114.3,274.1 1119.4,272.1 1124.6,270.0 1129.7,268.1 1134.9,266.1 1140.0,264.2 1146.0,262.1 1170.1,253.8 1194.2,246.0 1218.3,238.9 1242.4,232.5 1266.5,226.6 1290.6,221.2 1314.6,216.1 1338.7,211.5 1362.8,207.3 1386.9,203.5 1411.0,200.0 1435.1,196.7 1459.2,193.5 1459.2,88.9 1435.1,93.2 1411.0,98.4 1386.9,104.5 1362.8,111.6 1338.7,119.5 1314.6,128.3 1290.6,138.1 1266.5,149.1 1242.4,161.6 1218.3,176.4 1194.2,194.6 1170.1,216.3 1146.0,241.2 1140.0,248.1 1134.9,254.2 1129.7,260.6 1124.6,267.2 1119.4,274.1 1114.3,281.3 1109.1,288.7 1104.0,296.5 1100.0,302.7 1086.6,324.6 1073.2,347.2 1059.8,370.1 1046.3,393.2 1032.9,416.9 1019.5,441.0 1006.1,465.2 992.7,489.3 979.3,513.5 965.9,538.0 952.5,563.4 939.0,589.7 925.6,616.4 912.2,642.2 898.8,665.7" fill="#b7ff00"/>
<polygon points="898.8,492.7 912.2,470.0 925.6,447.2 939.0,425.1 952.5,404.6 965.9,386.5 979.3,370.5 992.7,356.2 1006.1,343.3 1019.5,331.4 1032.9,320.5 1046.3,310.6 1059.8,301.7 1073.2,293.9 1086.6,286.8 1100.0,280.4 1104.0,278.6 1109.1,276.4 1114.3,274.2 1119.4,272.1 1124.6,270.0 1129.7,268.0 1134.9,266.0 1140.0,264.1 1146.0,261.9 1170.1,253.5 1194.2,245.6 1218.3,238.3 1242.4,231.8 1266.5,225.9 1290.6,220.4 1314.6,215.3 1338.7,210.6 1362.8,206.4 1386.9,202.5 1411.0,199.0 1435.1,195.7 1459.2,192.5 1459.2,88.9 1435.1,93.2 1411.0,98.4 1386.9,104.5 1362.8,111.6 1338.7,119.5 1314.6,128.3 1290.6,138.1 1266.5,149.1 1242.4,161.6 1218.3,176.4 1194.2,194.6 1170.1,216.3 1146.0,241.2 1140.0,248.1 1134.9,254.2 1129.7,260.6 1124.6,267.2 1119.4,274.1 1114.3,281.3 1109.1,288.7 1104.0,296.5 1100.0,302.7 1086.6,324.6 1073.2,347.2 1059.8,370.1 1046.3,393.2 1032.9,416.9 1019.5,441.0 1006.1,465.2 992.7,489.3 979.3,513.5 965.9,538.0 952.5,563.4 939.0,589.7 925.6,616.4 912.2,642.2 898.8,665.7" fill="#b1ff00"/>
<polygon points="898.8,494.4 912.2,471.6 925.6,448.8 939.0,426.7 952.5,406.1 965.9,387.9 979.3,371.9 992.7,357.5 1006.1,344.5 1019.5,332.4 1032.9,321.4 1046.3,311.4 1059.8,302.4 1073.2,294.4 1086.6,287.2 1100.0,280.6 1104.0,278.8 1109.1,276.5 1114.3,274.3 1119.4,272.1 1124.6,270.0 1129.7,267.9 1134.9,265.9 1140.0,263.9 1146.0,261.7 1170.1,253.1 1194.2,245.1 1218.3,237.7 1242.4,231.1 1266.5,225.2 1290.6,219.6 1314.6,214.5 1338.7,209.8 1362.8,205.5 1386.9,201.6 1411.0,198.1 1435.1,194.7 1459.2,191.5 1459.2,88.9 1435.1,93.2 1411.0,98.4 1386.9,104.5 1362.8,111.6 1338.7,119.5 1314.6,128.3 1290.6,138.1 1266.5,149.1 1242.4,161.6 1218.3,176.4 1194.2,194.6 1170.1,216.3 1146.0,241.2 1140.0,248.1 1134.9,254.2 1129.7,260.6 1124.6,267.2 1119.4,274.1 1114.3,281.3 1109.1,288.7 1104.0,296.5 1100.0,302.7 1086.6,324.6 1073.2,347.2 1059.8,370.1 1046.3,393.2 1032.9,416.9 1019.5,441.0 1006.1,465.2 992.7,489.3 979.3,513.5 965.9,538.0 952.5,563.4 939.0,589.7 925.6,616.4 912.2,642.2 898.8,665.7" fill="#abff00"/>
<polygon points="898.8,496.0 912.2,473.2 925.6,450.4 939.0,428.2 952.5,407.6 965.9,389.3 979.3,373.2 992.7,358.8 1006.1,345.6 1019.5,333.5 1032.9,322.3 1046.3,312.1 1059.8,303.0 1073.2,294.9 1086.6,287.5 1100.0,280.9 1104.0,279.0 1109.1,276.6 1114.3,274.3 1119.4,272.1 1124.6,270.0 1129.7,267.9 1134.9,265.8 1140.0,263.8 1146.0,261.5 1170.1,252.8 1194.2,244.6 1218.3,237.1 1242.4,230.5 1266.5,224.4 1290.6,218.8 1314.6,213.7 1338.7,208.9 1362.8,204.6 1386.9,200.7 1411.0,197.1 1435.1,193.8 1459.2,190.6 1459.2,88.9 1435.1,93.2 1411.0,98.4 1386.9,104.5 1362.8,111.6 1338.7,119.5 1314.6,128.3 1290.6,138.1 1266.5,149.1 1242.4,161.6 1218.3,176.4 1194.2,194.6 1170.1,216.3 1146.0,241.2 1140.0,248.1 1134.9,254.2 1129.7,260.6 1124.6,267.2 1119.4,274.1 1114.3,281.3 1109.1,288.7 1104.0,296.5 1100.0,302.7 1086.6,324.6 1073.2,347.2 1059.8,370.1 1046.3,393.2 1032.9,416.9 1019.5,441.0 1006.1,465.2 992.7,489.3 979.3,513.5 965.9,538.0 952.5,563.4 939.0,589.7 925.6,616.4 912.2,642.2 898.8,665.7" fill="#a5ff00"/>
<polygon points="898.8,497.6 912.2,474.8 925.6,452.0 939.0,429.8 952.5,409.1 965.9,390.8 979.3,374.6 992.7,360.0 1006.1,346.8 1019.5,334.5 1032.9,323.2 1046.3,312.9 1059.8,303.7 1073.2,295.4 1086.6,287.9 1100.0,281.1 1104.0,279.1 1109.1,276.7 1114.3,274.4 1119.4,272.1 1124.6,269.9 1129.7,267.8 1134.9,265.7 1140.0,263.6 1146.0,261.3 1170.1,252.4 1194.2,244.1 1218.3,236.6 1242.4,229.8 1266.5,223.7 1290.6,218.1 1314.6,212.8 1338.7,208.0 1362.8,203.7 1386.9,199.8 1411.0,196.2 1435.1,192.8 1459.2,189.6 1459.2,88.9 1435.1,93.2 1411.0,98.4 1386.9,104.5 1362.8,111.6 1338.7,119.5 1314.6,128.3 1290.6,138.1 1266.5,149.1 1242.4,161.6 1218.3,176.4 1194.2,194.6 1170.1,216.3 1146.0,241.2 1140.0,248.1 1134.9,254.2 1129.7,260.6 1124.6,267.2 1119.4,274.1 1114.3,281.3 1109.1,288.7 1104.0,296.5 1100.0,302.7 1086.6,324.6 1073.2,347.2 1059.8,370.1 1046.3,393.2 1032.9,416.9 1019.5,441.0 1006.1,465.2 992.7,489.3 979.3,513.5 965.9,538.0 952.5,563.4 939.0,589.7 925.6,616.4 912.2,642.2 898.8,665.7" fill="#9eff00"/>
<polygon points="898.8,499.2 912.2,476.5 925.6,453.6 939.0,431.3 952.5,410.6 965.9,392.2 979.3,375.9 992.7,361.3 1006.1,347.9 1019.5,335.5 1032.9,324.1 1046.3,313.7 1059.8,304.3 1073.2,295.9 1086.6,288.2 1100.0,281.3 1104.0,279.3 1109.1,276.9 1114.3,274.5 1119.4,272.2 1124.6,269.9 1129.7,267.7 1134.9,265.6 1140.0,263.5 1146.0,261.1 1170.1,252.1 1194.2,243.6 1218.3,236.0 1242.4,229.2 1266.5,223.0 1290.6,217.3 1314.6,212.0 1338.7,207.2 1362.8,202.8 1386.9,198.8 1411.0,195.2 1435.1,191.8 1459.2,188.6 1459.2,88.9 1435.1,93.2 1411.0,98.4 1386.9,104.5 1362.8,111.6 1338.7,119.5 1314.6,128.3 1290.6,138.1 1266.5,149.1 1242.4,161.6 1218.3,176.4 1194.2,194.6 1170.1,216.3 1146.0,241.2 1140.0,248.1 1134.9,254.2 1129.7,260.6 1124.6,267.2 1119.4,274.1 1114.3,281.3 1109.1,288.7 1104.0,296.5 1100.0,302.7 1086.6,324.6 1073.2,347.2 1059.8,370.1 1046.3,393.2 1032.9,416.9 1019.5,441.0 1006.1,465.2 992.7,489.3 979.3,513.5 965.9,538.0 952.5,563.4 939.0,589.7 925.6,616.4 912.2,642.2 898.8,665.7" fill="#97ff00"/>
<polygon points="898.8,500.9 912.2,478.1 925.6,455.2 939.0,432.9 952.5,412.1 965.9,393.6 979.3,377.2 992.7,362.5 1006.1,349.1 1019.5,336.6 1032.9,325.0 1046.3,314.5 1059.8,304.9 1073.2,296.4 1086.6,288.6 1100.0,281.5 1104.0,279.5 1109.1,277.0 1114.3,274.5 1119.4,272.2 1124.6,269.9 1129.7,267.6 1134.9,265.5 1140.0,263.3 1146.0,260.9 1170.1,251.7 1194.2,243.1 1218.3,235.4 1242.4,228.5 1266.5,222.3 1290.6,216.5 1314.6,211.2 1338.7,206.3 1362.8,201.9 1386.9,197.9 1411.0,194.3 1435.1,190.9 1459.2,187.6 1459.2,88.9 1435.1,93.2 1411.0,98.4 1386.9,104.5 1362.8,111.6 1338.7,119.5 1314.6,128.3 1290.6,138.1 1266.5,149.1 1242.4,161.6 1218.3,176.4 1194.2,194.6 1170.1,216.3 1146.0,241.2 1140.0,248.1 1134.9,254.2 1129.7,260.6 1124.6,267.2 1119.4,274.1 1114.3,281.3 1109.1,288.7 1104.0,296.5 1100.0,302.7 1086.6,324.6 1073.2,347.2 1059.8,370.1 1046.3,393.2 1032.9,416.9 1019.5,441.0 1006.1,465.2 992.7,489.3 979.3,513.5 965.9,538.0 952.5,563.4 939.0,589.7 925.6,616.4 912.2,642.2 898.8,665.7" fill="#90ff00"/>
<polygon points="898.8,502.5 912.2,479.7 925.6,456.8 939.0,434.4 952.5,413.6 965.9,395.1 979.3,378.6 992.7,363.8 1006.1,350.2 1019.5,337.6 1032.9,325.9 1046.3,315.2 1059.8,305.6 1073.2,296.9 1086.6,289.0 1100.0,281.7 1104.0,279.7 1109.1,277.1 1114.3,274.6 1119.4,272.2 1124.6,269.9 1129.7,267.6 1134.9,265.4 1140.0,263.2 1146.0,260.7 1170.1,251.4 1194.2,242.7 1218.3,234.8 1242.4,227.8 1266.5,221.5 1290.6,215.7 1314.6,210.4 1338.7,205.5 1362.8,201.0 1386.9,197.0 1411.0,193.3 1435.1,189.9 1459.2,186.6 1459.2,88.9 1435.1,93.2 1411.0,98.4 1386.9,104.5 1362.8,111.6 1338.7,119.5 1314.6,128.3 1290.6,138.1 1266.5,149.1 1242.4,161.6 1218.3,176.4 1194.2,194.6 1170.1,216.3 1146.0,241.2 1140.0,248.1 1134.9,254.2 1129.7,260.6 1124.6,267.2 1119.4,274.1 1114.3,281.3 1109.1,288.7 1104.0,296.5 1100.0,302.7 1086.6,324.6 1073.2,347.2 1059.8,370.1 1046.3,393.2 1032.9,416.9 1019.5,441.0 1006.1,465.2 992.7,489.3 979.3,513.5 965.9,538.0 952.5,563.4 939.0,589.7 925.6,616.4 912.2,642.2 898.8,665.7" fill="#89ff00"/>
<polygon points="898.8,504.1 912.2,481.3 925.6,458.4 939.0,436.0 952.5,415.1 965.9,396.5 979.3,379.9 992.7,365.0 1006.1,351.4 1019.5,338.6 1032.9,326.8 1046.3,316.0 1059.8,306.2 1073.2,297.4 1086.6,289.3 1100.0,281.9 1104.0,279.8 1109.1,277.2 1114.3,274.7 1119.4,272.2 1124.6,269.8 1129.7,267.5 1134.9,265.2 1140.0,263.0 1146.0,260.5 1170.1,251.0 1194.2,242.2 1218.3,234.2 1242.4,227.2 1266.5,220.8 1290.6,215.0 1314.6,209.6 1338.7,204.6 1362.8,200.1 1386.9,196.1 1411.0,192.4 1435.1,188.9 1459.2,185.7 1459.2,88.9 1435.1,93.2 1411.0,98.4 1386.9,104.5 1362.8,111.6 1338.7,119.5 1314.6,128.3 1290.6,138.1 1266.5,149.1 1242.4,161.6 1218.3,176.4 1194.2,194.6 1170.1,216.3 1146.0,241.2 1140.0,248.1 1134.9,254.2 1129.7,260.6 1124.6,267.2 1119.4,274.1 1114.3,281.3 1109.1,288.7 1104.0,296.5 1100.0,302.7 1086.6,324.6 1073.2,347.2 1059.8,370.1 1046.3,393.2 1032.9,416.9 1019.5,441.0 1006.1,465.2 992.7,489.3 979.3,513.5 965.9,538.0 952.5,563.4 939.0,589.7 925.6,616.4 912.2,642.2 898.8,665.7" fill="#82ff00"/>
<polygon points="898.8,505.8 912.2,483.0 925.6,460.0 939.0,437.5 952.5,416.6 965.9,397.9 979.3,381.3 992.7,366.3 1006.1,352.5 1019.5,339.7 1032.9,327.8 1046.3,316.8 1059.8,306.9 1073.2,297.9 1086.6,289.7 1100.0,282.1 1104.0,280.0 1109.1,277.3 1114.3,274.7 1119.4,272.2 1124.6,269.8 1129.7,267.4 1134.9,265.1 1140.0,262.9 1146.0,260.3 1170.1,250.7 1194.2,241.7 1218.3,233.6 1242.4,226.5 1266.5,220.1 1290.6,214.2 1314.6,208.7 1338.7,203.7 1362.8,199.2 1386.9,195.1 1411.0,191.4 1435.1,188.0 1459.2,184.7 1459.2,88.9 1435.1,93.2 1411.0,98.4 1386.9,104.5 1362.8,111.6 1338.7,119.5 1314.6,128.3 1290.6,138.1 1266.5,149.1 1242.4,161.6 1218.3,176.4 1194.2,194.6 1170.1,216.3 1146.0,241.2 1140.0,248.1 1134.9,254.2 1129.7,260.6 1124.6,267.2 1119.4,274.1 1114.3,281.3 1109.1,288.7 1104.0,296.5 1100.0,302.7 1086.6,324.6 1073.2,347.2 1059.8,370.1 1046.3,393.2 1032.9,416.9 1019.5,441.0 1006.1,465.2 992.7,489.3 979.3,513.5 965.9,538.0 952.5,563.4 939.0,589.7 925.6,616.4 912.2,642.2 898.8,665.7" fill="#7aff00"/>
<polygon points="898.8,507.4 912.2,484.6 925.6,461.6 939.0,439.1 952.5,418.1 965.9,399.3 979.3,382.6 992.7,367.5 1006.1,353.7 1019.5,340.7 1032.9,328.7 1046.3,317.6 1059.8,307.5 1073.2,298.4 1086.6,290.0 1100.0,282.3 1104.0,280.2 1109.1,277.4 1114.3,274.8 1119.4,272.3 1124.6,269.8 1129.7,267.4 1134.9,265.0 1140.0,262.7 1146.0,260.1 1170.1,250.3 1194.2,241.2 1218.3,233.1 1242.4,225.8 1266.5,219.4 1290.6,213.4 1314.6,207.9 1338.7,202.9 1362.8,198.3 1386.9,194.2 1411.0,190.5 1435.1,187.0 1459.2,183.7 1459.2,88.9 1435.1,93.2 1411.0,98.4 1386.9,104.5 1362.8,111.6 1338.7,119.5 1314.6,128.3 1290.6,138.1 1266.5,149.1 1242.4,161.6 1218.3,176.4 1194.2,194.6 1170.1,216.3 1146.0,241.2 1140.0,248.1 1134.9,254.2 1129.7,260.6 1124.6,267.2 1119.4,274.1 1114.3,281.3 1109.1,288.7 1104.0,296.5 1100.0,302.7 1086.6,324.6 1073.2,347.2 1059.8,370.1 1046.3,393.2 1032.9,416.9 1019.5,441.0 1006.1,465.2 992.7,489.3 979.3,513.5 965.9,538.0 952.5,563.4 939.0,589.7 925.6,616.4 912.2,642.2 898.8,665.7" fill="#71ff00"/>
<polygon points="898.8,509.0 912.2,486.2 925.6,463.2 939.0,440.6 952.5,419.6 965.9,400.8 979.3,384.0 992.7,368.8 1006.1,354.8 1019.5,341.7 1032.9,329.6 1046.3,318.4 1059.8,308.2 1073.2,298.9 1086.6,290.4 1100.0,282.5 1104.0,280.3 1109.1,277.6 1114.3,274.9 1119.4,272.3 1124.6,269.7 1129.7,267.3 1134.9,264.9 1140.0,262.6 1146.0,259.9 1170.1,250.0 1194.2,240.7 1218.3,232.5 1242.4,225.2 1266.5,218.6 1290.6,212.6 1314.6,207.1 1338.7,202.0 1362.8,197.4 1386.9,193.3 1411.0,189.5 1435.1,186.0 1459.2,182.7 1459.2,88.9 1435.1,93.2 1411.0,98.4 1386.9,104.5 1362.8,111.6 1338.7,119.5 1314.6,128.3 1290.6,138.1 1266.5,149.1 1242.4,161.6 1218.3,176.4 1194.2,194.6 1170.1,216.3 1146.0,241.2 1140.0,248.1 1134.9,254.2 1129.7,260.6 1124.6,267.2 1119.4,274.1 1114.3,281.3 1109.1,288.7 1104.0,296.5 1100.0,302.7 1086.6,324.6 1073.2,347.2 1059.8,370.1 1046.3,393.2 1032.9,416.9 1019.5,441.0 1006.1,465.2 992.7,489.3 979.3,513.5 965.9,538.0 952.5,563.4 939.0,589.7 925.6,616.4 912.2,642.2 898.8,665.7" fill="#68ff00"/>
<polygon points="898.8,510.7 912.2,487.8 925.6,464.8 939.0,442.2 952.5,421.1 965.9,402.2 979.3,385.3 992.7,370.1 1006.1,356.0 1019.5,342.8 1032.9,330.5 1046.3,319.1 1059.8,308.8 1073.2,299.4 1086.6,290.7 1100.0,282.7 1104.0,280.5 1109.1,277.7 1114.3,274.9 1119.4,272.3 1124.6,269.7 1129.7,267.2 1134.9,264.8 1140.0,262.4 1146.0,259.8 1170.1,249.6 1194.2,240.3 1218.3,231.9 1242.4,224.5 1266.5,217.9 1290.6,211.8 1314.6,206.3 1338.7,201.2 1362.8,196.5 1386.9,192.4 1411.0,188.6 1435.1,185.1 1459.2,181.8 1459.2,88.9 1435.1,93.2 1411.0,98.4 1386.9,104.5 1362.8,111.6 1338.7,119.5 1314.6,128.3 1290.6,138.1 1266.5,149.1 1242.4,161.6 1218.3,176.4 1194.2,194.6 1170.1,216.3 1146.0,241.2 1140.0,248.1 1134.9,254.2 1129.7,260.6 1124.6,267.2 1119.4,274.1 1114.3,281.3 1109.1,288.7 1104.0,296.5 1100.0,302.7 1086.6,324.6 1073.2,347.2 1059.8,370.1 1046.3,393.2 1032.9,416.9 1019.5,441.0 1006.1,465.2 992.7,489.3 979.3,513.5 965.9,538.0 952.5,563.4 939.0,589.7 925.6,616.4 912.2,642.2 898.8,665.7" fill="#5eff00"/>
<polygon points="898.8,512.3 912.2,489.5 925.6,466.4 939.0,443.7 952.5,422.6 965.9,403.6 979.3,386.7 992.7,371.3 1006.1,357.1 1019.5,343.8 1032.9,331.4 1046.3,319.9 1059.8,309.5 1073.2,299.9 1086.6,291.1 1100.0,283.0 1104.0,280.7 1109.1,277.8 1114.3,275.0 1119.4,272.3 1124.6,269.7 1129.7,267.2 1134.9,264.7 1140.0,262.3 1146.0,259.6 1170.1,249.3 1194.2,239.8 1218.3,231.3 1242.4,223.9 1266.5,217.2 1290.6,211.1 1314.6,205.4 1338.7,200.3 1362.8,195.6 1386.9,191.4 1411.0,187.6 1435.1,184.1 1459.2,180.8 1459.2,88.9 1435.1,93.2 1411.0,98.4 1386.9,104.5 1362.8,111.6 1338.7,119.5 1314.6,128.3 1290.6,138.1 1266.5,149.1 1242.4,161.6 1218.3,176.4 1194.2,194.6 1170.1,216.3 1146.0,241.2 1140.0,248.1 1134.9,254.2 1129.7,260.6 1124.6,267.2 1119.4,274.1 1114.3,281.3 1109.1,288.7 1104.0,296.5 1100.0,302.7 1086.6,324.6 1073.2,347.2 1059.8,370.1 1046.3,393.2 1032.9,416.9 1019.5,441.0 1006.1,465.2 992.7,489.3 979.3,513.5 965.9,538.0 952.5,563.4 939.0,589.7 925.6,616.4 912.2,642.2 898.8,665.7" fill="#53ff00"/>
<polygon points="898.8,513.9 912.2,491.1 925.6,467.9 939.0,445.3 952.5,424.1 965.9,405.1 979.3,388.0 992.7,372.6 1006.1,358.3 1019.5,344.8 1032.9,332.3 1046.3,320.7 1059.8,310.1 1073.2,300.4 1086.6,291.5 1100.0,283.2 1104.0,280.8 1109.1,277.9 1114.3,275.1 1119.4,272.3 1124.6,269.7 1129.7,267.1 1134.9,264.6 1140.0,262.1 1146.0,259.4 1170.1,248.9 1194.2,239.3 1218.3,230.7 1242.4,223.2 1266.5,216.5 1290.6,210.3 1314.6,204.6 1338.7,199.4 1362.8,194.7 1386.9,190.5 1411.0,186.7 1435.1,183.1 1459.2,179.8 1459.2,88.9 1435.1,93.2 1411.0,98.4 1386.9,104.5 1362.8,111.6 1338.7,119.5 1314.6,128.3 1290.6,138.1 1266.5,149.1 1242.4,161.6 1218.3,176.4 1194.2,194.6 1170.1,216.3 1146.0,241.2 1140.0,248.1 1134.9,254.2 1129.7,260.6 1124.6,267.2 1119.4,274.1 1114.3,281.3 1109.1,288.7 1104.0,296.5 1100.0,302.7 1086.6,324.6 1073.2,347.2 1059.8,370.1 1046.3,393.2 1032.9,416.9 1019.5,441.0 1006.1,465.2 992.7,489.3 979.3,513.5 965.9,538.0 952.5,563.4 939.0,589.7 925.6,616.4 912.2,642.2 898.8,665.7" fill="#46ff00"/>
<polygon points="898.8,515.6 912.2,492.7 925.6,469.5 939.0,446.9 952.5,425.6 965.9,406.5 979.3,389.4 992.7,373.8 1006.1,359.4 1019.5,345.9 1032.9,333.2 1046.3,321.5 1059.8,310.8 1073.2,300.9 1086.6,291.8 1100.0,283.4 1104.0,281.0 1109.1,278.0 1114.3,275.1 1119.4,272.3 1124.6,269.6 1129.7,267.0 1134.9,264.5 1140.0,262.0 1146.0,259.2 1170.1,248.6 1194.2,238.8 1218.3,230.1 1242.4,222.5 1266.5,215.7 1290.6,209.5 1314.6,203.8 1338.7,198.6 1362.8,193.8 1386.9,189.6 1411.0,185.7 1435.1,182.2 1459.2,178.8 1459.2,88.9 1435.1,93.2 1411.0,98.4 1386.9,104.5 1362.8,111.6 1338.7,119.5 1314.6,128.3 1290.6,138.1 1266.5,149.1 1242.4,161.6 1218.3,176.4 1194.2,194.6 1170.1,216.3 1146.0,241.2 1140.0,248.1 1134.9,254.2 1129.7,260.6 1124.6,267.2 1119.4,274.1 1114.3,281.3 1109.1,288.7 1104.0,296.5 1100.0,302.7 1086.6,324.6 1073.2,347.2 1059.8,370.1 1046.3,393.2 1032.9,416.9 1019.5,441.0 1006.1,465.2 992.7,489.3 979.3,513.5 965.9,538.0 952.5,563.4 939.0,589.7 925.6,616.4 912.2,642.2 898.8,665.7" fill="#35ff00"/>
<polygon points="898.8,517.2 912.2,494.3 925.6,471.1 939.0,448.4 952.5,427.1 965.9,407.9 979.3,390.7 992.7,375.1 1006.1,360.6 1019.5,346.9 1032.9,334.1 1046.3,322.3 1059.8,311.4 1073.2,301.4 1086.6,292.2 1100.0,283.6 1104.0,281.2 1109.1,278.1 1114.3,275.2 1119.4,272.4 1124.6,269.6 1129.7,266.9 1134.9,264.4 1140.0,261.8 1146.0,259.0 1170.1,248.2 1194.2,238.3 1218.3,229.6 1242.4,221.9 1266.5,215.0 1290.6,208.7 1314.6,203.0 1338.7,197.7 1362.8,193.0 1386.9,188.7 1411.0,184.8 1435.1,181.2 1459.2,177.8 1459.2,88.9 1435.1,93.2 1411.0,98.4 1386.9,104.5 1362.8,111.6 1338.7,119.5 1314.6,128.3 1290.6,138.1 1266.5,149.1 1242.4,161.6 1218.3,176.4 1194.2,194.6 1170.1,216.3 1146.0,241.2 1140.0,248.1 1134.9,254.2 1129.7,260.6 1124.6,267.2 1119.4,274.1 1114.3,281.3 1109.1,288.7 1104.0,296.5 1100.0,302.7 1086.6,324.6 1073.2,347.2 1059.8,370.1 1046.3,393.2 1032.9,416.9 1019.5,441.0 1006.1,465.2 992.7,489.3 979.3,513.5 965.9,538.0 952.5,563.4 939.0,589.7 925.6,616.4 912.2,642.2 898.8,665.7" fill="#1cff00"/>
<polygon points="898.8,518.8 912.2,496.0 925.6,472.7 939.0,450.0 952.5,428.6 965.9,409.3 979.3,392.1 992.7,376.3 1006.1,361.7 1019.5,347.9 1032.9,335.0 1046.3,323.0 1059.8,312.0 1073.2,301.9 1086.6,292.5 1100.0,283.8 1104.0,281.3 1109.1,278.3 1114.3,275.3 1119.4,272.4 1124.6,269.6 1129.7,266.9 1134.9,264.2 1140.0,261.7 1146.0,258.8 1170.1,247.9 1194.2,237.9 1218.3,229.0 1242.4,221.2 1266.5,214.3 1290.6,208.0 1314.6,202.2 1338.7,196.9 1362.8,192.1 1386.9,187.7 1411.0,183.8 1435.1,180.2 1459.2,176.9 1459.2,88.9 1435.1,93.2 1411.0,98.4 1386.9,104.5 1362.8,111.6 1338.7,119.5 1314.6,128.3 1290.6,138.1 1266.5,149.1 1242.4,161.6 1218.3,176.4 1194.2,194.6 1170.1,216.3 1146.0,241.2 1140.0,248.1 1134.9,254.2 1129.7,260.6 1124.6,267.2 1119.4,274.1 1114.3,281.3 1109.1,288.7 1104.0,296.5 1100.0,302.7 1086.6,324.6 1073.2,347.2 1059.8,370.1 1046.3,393.2 1032.9,416.9 1019.5,441.0 1006.1,465.2 992.7,489.3 979.3,513.5 965.9,538.0 952.5,563.4 939.0,589.7 925.6,616.4 912.2,642.2 898.8,665.7" fill="#0bff14"/>
<polygon points="898.8,520.5 912.2,497.6 925.6,474.3 939.0,451.5 952.5,430.1 965.9,410.8 979.3,393.4 992.7,377.6 1006.1,362.9 1019.5,349.0 1032.9,335.9 1046.3,323.8 1059.8,312.7 1073.2,302.4 1086.6,292.9 1100.0,284.0 1104.0,281.5 1109.1,278.4 1114.3,275.3 1119.4,272.4 1124.6,269.6 1129.7,266.8 1134.9,264.1 1140.0,261.5 1146.0,258.6 1170.1,247.5 1194.2,237.4 1218.3,228.4 1242.4,220.5 1266.5,213.6 1290.6,207.2 1314.6,201.3 1338.7,196.0 1362.8,191.2 1386.9,186.8 1411.0,182.9 1435.1,179.3 1459.2,175.9 1459.2,88.9 1435.1,93.2 1411.0,98.4 1386.9,104.5 1362.8,111.6 1338.7,119.5 1314.6,128.3 1290.6,138.1 1266.5,149.1 1242.4,161.6 1218.3,176.4 1194.2,194.6 1170.1,216.3 1146.0,241.2 1140.0,248.1 1134.9,254.2 1129.7,260.6 1124.6,267.2 1119.4,274.1 1114.3,281.3 1109.1,288.7 1104.0,296.5 1100.0,302.7 1086.6,324.6 1073.2,347.2 1059.8,370.1 1046.3,393.2 1032.9,416.9 1019.5,441.0 1006.1,465.2 992.7,489.3 979.3,513.5 965.9,538.0 952.5,563.4 939.0,589.7 925.6,616.4 912.2,642.2 898.8,665.7" fill="#1aff28"/>
<polygon points="898.8,522.1 912.2,499.2 925.6,475.9 939.0,453.1 952.5,431.6 965.9,412.2 979.3,394.8 992.7,378.8 1006.1,364.0 1019.5,350.0 1032.9,336.8 1046.3,324.6 1059.8,313.3 1073.2,302.9 1086.6,293.2 1100.0,284.2 1104.0,281.7 1109.1,278.5 1114.3,275.4 1119.4,272.4 1124.6,269.5 1129.7,266.7 1134.9,264.0 1140.0,261.4 1146.0,258.4 1170.1,247.2 1194.2,236.9 1218.3,227.8 1242.4,219.9 1266.5,212.8 1290.6,206.4 1314.6,200.5 1338.7,195.1 1362.8,190.3 1386.9,185.9 1411.0,181.9 1435.1,178.3 1459.2,174.9 1459.2,88.9 1435.1,93.2 1411.0,98.4 1386.9,104.5 1362.8,111.6 1338.7,119.5 1314.6,128.3 1290.6,138.1 1266.5,149.1 1242.4,161.6 1218.3,176.4 1194.2,194.6 1170.1,216.3 1146.0,241.2 1140.0,248.1 1134.9,254.2 1129.7,260.6 1124.6,267.2 1119.4,274.1 1114.3,281.3 1109.1,288.7 1104.0,296.5 1100.0,302.7 1086.6,324.6 1073.2,347.2 1059.8,370.1 1046.3,393.2 1032.9,416.9 1019.5,441.0 1006.1,465.2 992.7,489.3 979.3,513.5 965.9,538.0 952.5,563.4 939.0,589.7 925.6,616.4 912.2,642.2 898.8,665.7" fill="#22ff36"/>
<polygon points="898.8,523.7 912.2,500.8 925.6,477.5 939.0,454.6 952.5,433.1 965.9,413.6 979.3,396.1 992.7,380.1 1006.1,365.2 1019.5,351.1 1032.9,337.8 1046.3,325.4 1059.8,314.0 1073.2,303.4 1086.6,293.6 1100.0,284.4 1104.0,281.8 1109.1,278.6 1114.3,275.5 1119.4,272.4 1124.6,269.5 1129.7,266.7 1134.9,263.9 1140.0,261.2 1146.0,258.2 1170.1,246.8 1194.2,236.4 1218.3,227.2 1242.4,219.2 1266.5,212.1 1290.6,205.6 1314.6,199.7 1338.7,194.3 1362.8,189.4 1386.9,185.0 1411.0,181.0 1435.1,177.3 1459.2,173.9 1459.2,88.9 1435.1,93.2 1411.0,98.4 1386.9,104.5 1362.8,111.6 1338.7,119.5 1314.6,128.3 1290.6,138.1 1266.5,149.1 1242.4,161.6 1218.3,176.4 1194.2,194.6 1170.1,216.3 1146.0,241.2 1140.0,248.1 1134.9,254.2 1129.7,260.6 1124.6,267.2 1119.4,274.1 1114.3,281.3 1109.1,288.7 1104.0,296.5 1100.0,302.7 1086.6,324.6 1073.2,347.2 1059.8,370.1 1046.3,393.2 1032.9,416.9 1019.5,441.0 1006.1,465.2 992.7,489.3 979.3,513.5 965.9,538.0 952.5,563.4 939.0,589.7 925.6,616.4 912.2,642.2 898.8,665.7" fill="#29ff41"/>
<polygon points="898.8,525.4 912.2,502.5 925.6,479.1 939.0,456.2 952.5,434.6 965.9,415.1 979.3,397.5 992.7,381.4 1006.1,366.3 1019.5,352.1 1032.9,338.7 1046.3,326.2 1059.8,314.6 1073.2,303.9 1086.6,293.9 1100.0,284.6 1104.0,282.0 1109.1,278.7 1114.3,275.5 1119.4,272.5 1124.6,269.5 1129.7,266.6 1134.9,263.8 1140.0,261.1 1146.0,258.0 1170.1,246.5 1194.2,235.9 1218.3,226.6 1242.4,218.6 1266.5,211.4 1290.6,204.9 1314.6,198.9 1338.7,193.4 1362.8,188.5 1386.9,184.0 1411.0,180.0 1435.1,176.4 1459.2,173.0 1459.2,88.9 1435.1,93.2 1411.0,98.4 1386.9,104.5 1362.8,111.6 1338.7,119.5 1314.6,128.3 1290.6,138.1 1266.5,149.1 1242.4,161.6 1218.3,176.4 1194.2,194.6 1170.1,216.3 1146.0,241.2 1140.0,248.1 1134.9,254.2 1129.7,260.6 1124.6,267.2 1119.4,274.1 1114.3,281.3 1109.1,288.7 1104.0,296.5 1100.0,302.7 1086.6,324.6 1073.2,347.2 1059.8,370.1 1046.3,393.2 1032.9,416.9 1019.5,441.0 1006.1,465.2 992.7,489.3 979.3,513.5 965.9,538.0 952.5,563.4 939.0,589.7 925.6,616.4 912.2,642.2 898.8,665.7" fill="#2eff4b"/>
<polygon points="898.8,527.0 912.2,504.1 925.6,480.7 939.0,457.7 952.5,436.1 965.9,416.5 979.3,398.8 992.7,382.6 1006.1,367.5 1019.5,353.1 1032.9,339.6 1046.3,326.9 1059.8,315.3 1073.2,304.4 1086.6,294.3 1100.0,284.8 1104.0,282.2 1109.1,278.8 1114.3,275.6 1119.4,272.5 1124.6,269.5 1129.7,266.5 1134.9,263.7 1140.0,260.9 1146.0,257.8 1170.1,246.1 1194.2,235.5 1218.3,226.0 1242.4,217.9 1266.5,210.7 1290.6,204.1 1314.6,198.1 1338.7,192.6 1362.8,187.6 1386.9,183.1 1411.0,179.1 1435.1,175.4 1459.2,172.0 1459.2,88.9 1435.1,93.2 1411.0,98.4 1386.9,104.5 1362.8,111.6 1338.7,119.5 1314.6,128.3 1290.6,138.1 1266.5,149.1 1242.4,161.6 1218.3,176.4 1194.2,194.6 1170.1,216.3 1146.0,241.2 1140.0,248.1 1134.9,254.2 1129.7,260.6 1124.6,267.2 1119.4,274.1 1114.3,281.3 1109.1,288.7 1104.0,296.5 1100.0,302.7 1086.6,324.6 1073.2,347.2 1059.8,370.1 1046.3,393.2 1032.9,416.9 1019.5,441.0 1006.1,465.2 992.7,489.3 979.3,513.5 965.9,538.0 952.5,563.4 939.0,589.7 925.6,616.4 912.2,642.2 898.8,665.7" fill="#33ff54"/>
<polygon points="898.8,528.6 912.2,505.7 925.6,482.3 939.0,459.3 952.5,437.6 965.9,417.9 979.3,400.2 992.7,383.9 1006.1,368.6 1019.5,354.2 1032.9,340.5 1046.3,327.7 1059.8,315.9 1073.2,304.9 1086.6,294.7 1100.0,285.1 1104.0,282.3 1109.1,279.0 1114.3,275.7 1119.4,272.5 1124.6,269.4 1129.7,266.5 1134.9,263.6 1140.0,260.8 1146.0,257.6 1170.1,245.8 1194.2,235.0 1218.3,225.5 1242.4,217.2 1266.5,209.9 1290.6,203.3 1314.6,197.2 1338.7,191.7 1362.8,186.7 1386.9,182.2 1411.0,178.1 1435.1,174.4 1459.2,171.0 1459.2,88.9 1435.1,93.2 1411.0,98.4 1386.9,104.5 1362.8,111.6 1338.7,119.5 1314.6,128.3 1290.6,138.1 1266.5,149.1 1242.4,161.6 1218.3,176.4 1194.2,194.6 1170.1,216.3 1146.0,241.2 1140.0,248.1 1134.9,254.2 1129.7,260.6 1124.6,267.2 1119.4,274.1 1114.3,281.3 1109.1,288.7 1104.0,296.5 1100.0,302.7 1086.6,324.6 1073.2,347.2 1059.8,370.1 1046.3,393.2 1032.9,416.9 1019.5,441.0 1006.1,465.2 992.7,489.3 979.3,513.5 965.9,538.0 952.5,563.4 939.0,589.7 925.6,616.4 912.2,642.2 898.8,665.7" fill="#37ff5d"/>
<polygon points="898.8,530.3 912.2,507.3 925.6,483.9 939.0,460.8 952.5,439.1 965.9,419.3 979.3,401.5 992.7,385.1 1006.1,369.8 1019.5,355.2 1032.9,341.4 1046.3,328.5 1059.8,316.6 1073.2,305.4 1086.6,295.0 1100.0,285.3 1104.0,282.5 1109.1,279.1 1114.3,275.7 1119.4,272.5 1124.6,269.4 1129.7,266.4 1134.9,263.5 1140.0,260.6 1146.0,257.4 1170.1,245.4 1194.2,234.5 1218.3,224.9 1242.4,216.6 1266.5,209.2 1290.6,202.5 1314.6,196.4 1338.7,190.8 1362.8,185.8 1386.9,181.3 1411.0,177.2 1435.1,173.5 1459.2,170.0 1459.2,88.9 1435.1,93.2 1411.0,98.4 1386.9,104.5 1362.8,111.6 1338.7,119.5 1314.6,128.3 1290.6,138.1 1266.5,149.1 1242.4,161.6 1218.3,176.4 1194.2,194.6 1170.1,216.3 1146.0,241.2 1140.0,248.1 1134.9,254.2 1129.7,260.6 1124.6,267.2 1119.4,274.1 1114.3,281.3 1109.1,288.7 1104.0,296.5 1100.0,302.7 1086.6,324.6 1073.2,347.2 1059.8,370.1 1046.3,393.2 1032.9,416.9 1019.5,441.0 1006.1,465.2 992.7,489.3 979.3,513.5 965.9,538.0 952.5,563.4 939.0,589.7 925.6,616.4 912.2,642.2 898.8,665.7" fill="#3aff65"/>
<polygon points="898.8,531.9 912.2,509.0 925.6,485.5 939.0,462.4 952.5,440.6 965.9,420.8 979.3,402.9 992.7,386.4 1006.1,370.9 1019.5,356.2 1032.9,342.3 1046.3,329.3 1059.8,317.2 1073.2,306.0 1086.6,295.4 1100.0,285.5 1104.0,282.7 1109.1,279.2 1114.3,275.8 1119.4,272.5 1124.6,269.4 1129.7,266.3 1134.9,263.3 1140.0,260.5 1146.0,257.2 1170.1,245.1 1194.2,234.0 1218.3,224.3 1242.4,215.9 1266.5,208.5 1290.6,201.8 1314.6,195.6 1338.7,190.0 1362.8,184.9 1386.9,180.3 1411.0,176.2 1435.1,172.5 1459.2,169.1 1459.2,88.9 1435.1,93.2 1411.0,98.4 1386.9,104.5 1362.8,111.6 1338.7,119.5 1314.6,128.3 1290.6,138.1 1266.5,149.1 1242.4,161.6 1218.3,176.4 1194.2,194.6 1170.1,216.3 1146.0,241.2 1140.0,248.1 1134.9,254.2 1129.7,260.6 1124.6,267.2 1119.4,274.1 1114.3,281.3 1109.1,288.7 1104.0,296.5 1100.0,302.7 1086.6,324.6 1073.2,347.2 1059.8,370.1 1046.3,393.2 1032.9,416.9 1019.5,441.0 1006.1,465.2 992.7,489.3 979.3,513.5 965.9,538.0 952.5,563.4 939.0,589.7 925.6,616.4 912.2,642.2 898.8,665.7" fill="#3dff6d"/>
<polygon points="898.8,533.5 912.2,510.6 925.6,487.1 939.0,463.9 952.5,442.0 965.9,422.2 979.3,404.2 992.7,387.6 1006.1,372.1 1019.5,357.3 1032.9,343.2 1046.3,330.1 1059.8,317.8 1073.2,306.5 1086.6,295.7 1100.0,285.7 1104.0,282.8 1109.1,279.3 1114.3,275.9 1119.4,272.6 1124.6,269.3 1129.7,266.2 1134.9,263.2 1140.0,260.3 1146.0,257.0 1170.1,244.7 1194.2,233.5 1218.3,223.7 1242.4,215.3 1266.5,207.8 1290.6,201.0 1314.6,194.8 1338.7,189.1 1362.8,184.0 1386.9,179.4 1411.0,175.3 1435.1,171.5 1459.2,168.1 1459.2,88.9 1435.1,93.2 1411.0,98.4 1386.9,104.5 1362.8,111.6 1338.7,119.5 1314.6,128.3 1290.6,138.1 1266.5,149.1 1242.4,161.6 1218.3,176.4 1194.2,194.6 1170.1,216.3 1146.0,241.2 1140.0,248.1 1134.9,254.2 1129.7,260.6 1124.6,267.2 1119.4,274.1 1114.3,281.3 1109.1,288.7 1104.0,296.5 1100.0,302.7 1086.6,324.6 1073.2,347.2 1059.8,370.1 1046.3,393.2 1032.9,416.9 1019.5,441.0 1006.1,465.2 992.7,489.3 979.3,513.5 965.9,538.0 952.5,563.4 939.0,589.7 925.6,616.4 912.2,642.2 898.8,665.7" fill="#3fff75"/>
<polygon points="898.8,535.1 912.2,512.2 925.6,488.7 939.0,465.5 952.5,443.5 965.9,423.6 979.3,405.6 992.7,388.9 1006.1,373.2 1019.5,358.3 1032.9,344.1 1046.3,330.8 1059.8,318.5 1073.2,307.0 1086.6,296.1 1100.0,285.9 1104.0,283.0 1109.1,279.4 1114.3,275.9 1119.4,272.6 1124.6,269.3 1129.7,266.2 1134.9,263.1 1140.0,260.2 1146.0,256.8 1170.1,244.4 1194.2,233.1 1218.3,223.1 1242.4,214.6 1266.5,207.0 1290.6,200.2 1314.6,194.0 1338.7,188.3 1362.8,183.1 1386.9,178.5 1411.0,174.3 1435.1,170.6 1459.2,167.1 1459.2,88.9 1435.1,93.2 1411.0,98.4 1386.9,104.5 1362.8,111.6 1338.7,119.5 1314.6,128.3 1290.6,138.1 1266.5,149.1 1242.4,161.6 1218.3,176.4 1194.2,194.6 1170.1,216.3 1146.0,241.2 1140.0,248.1 1134.9,254.2 1129.7,260.6 1124.6,267.2 1119.4,274.1 1114.3,281.3 1109.1,288.7 1104.0,296.5 1100.0,302.7 1086.6,324.6 1073.2,347.2 1059.8,370.1 1046.3,393.2 1032.9,416.9 1019.5,441.0 1006.1,465.2 992.7,489.3 979.3,513.5 965.9,538.0 952.5,563.4 939.0,589.7 925.6,616.4 912.2,642.2 898.8,665.7" fill="#41ff7c"/>
<polygon points="898.8,536.8 912.2,513.8 925.6,490.3 939.0,467.0 952.5,445.0 965.9,425.1 979.3,406.9 992.7,390.1 1006.1,374.4 1019.5,359.3 1032.9,345.0 1046.3,331.6 1059.8,319.1 1073.2,307.5 1086.6,296.4 1100.0,286.1 1104.0,283.2 1109.1,279.5 1114.3,276.0 1119.4,272.6 1124.6,269.3 1129.7,266.1 1134.9,263.0 1140.0,260.0 1146.0,256.6 1170.1,244.0 1194.2,232.6 1218.3,222.5 1242.4,213.9 1266.5,206.3 1290.6,199.4 1314.6,193.1 1338.7,187.4 1362.8,182.2 1386.9,177.6 1411.0,173.4 1435.1,169.6 1459.2,166.1 1459.2,88.9 1435.1,93.2 1411.0,98.4 1386.9,104.5 1362.8,111.6 1338.7,119.5 1314.6,128.3 1290.6,138.1 1266.5,149.1 1242.4,161.6 1218.3,176.4 1194.2,194.6 1170.1,216.3 1146.0,241.2 1140.0,248.1 1134.9,254.2 1129.7,260.6 1124.6,267.2 1119.4,274.1 1114.3,281.3 1109.1,288.7 1104.0,296.5 1100.0,302.7 1086.6,324.6 1073.2,347.2 1059.8,370.1 1046.3,393.2 1032.9,416.9 1019.5,441.0 1006.1,465.2 992.7,489.3 979.3,513.5 965.9,538.0 952.5,563.4 939.0,589.7 925.6,616.4 912.2,642.2 898.8,665.7" fill="#43ff83"/>
<polygon points="898.8,538.4 912.2,515.5 925.6,491.9 939.0,468.6 952.5,446.5 965.9,426.5 979.3,408.3 992.7,391.4 1006.1,375.5 1019.5,360.4 1032.9,345.9 1046.3,332.4 1059.8,319.8 1073.2,308.0 1086.6,296.8 1100.0,286.3 1104.0,283.4 1109.1,279.7 1114.3,276.1 1119.4,272.6 1124.6,269.3 1129.7,266.0 1134.9,262.9 1140.0,259.9 1146.0,256.4 1170.1,243.7 1194.2,232.1 1218.3,222.0 1242.4,213.3 1266.5,205.6 1290.6,198.6 1314.6,192.3 1338.7,186.5 1362.8,181.3 1386.9,176.6 1411.0,172.4 1435.1,168.6 1459.2,165.1 1459.2,88.9 1435.1,93.2 1411.0,98.4 1386.9,104.5 1362.8,111.6 1338.7,119.5 1314.6,128.3 1290.6,138.1 1266.5,149.1 1242.4,161.6 1218.3,176.4 1194.2,194.6 1170.1,216.3 1146.0,241.2 1140.0,248.1 1134.9,254.2 1129.7,260.6 1124.6,267.2 1119.4,274.1 1114.3,281.3 1109.1,288.7 1104.0,296.5 1100.0,302.7 1086.6,324.6 1073.2,347.2 1059.8,370.1 1046.3,393.2 1032.9,416.9 1019.5,441.0 1006.1,465.2 992.7,489.3 979.3,513.5 965.9,538.0 952.5,563.4 939.0,589.7 925.6,616.4 912.2,642.2 898.8,665.7" fill="#44ff8a"/>
<polygon points="898.8,540.0 912.2,517.1 925.6,493.5 939.0,470.1 952.5,448.0 965.9,427.9 979.3,409.6 992.7,392.7 1006.1,376.7 1019.5,361.4 1032.9,346.9 1046.3,333.2 1059.8,320.4 1073.2,308.5 1086.6,297.2 1100.0,286.5 1104.0,283.5 1109.1,279.8 1114.3,276.1 1119.4,272.6 1124.6,269.2 1129.7,266.0 1134.9,262.8 1140.0,259.7 1146.0,256.2 1170.1,243.3 1194.2,231.6 1218.3,221.4 1242.4,212.6 1266.5,204.9 1290.6,197.9 1314.6,191.5 1338.7,185.7 1362.8,180.4 1386.9,175.7 1411.0,171.5 1435.1,167.7 1459.2,164.2 1459.2,88.9 1435.1,93.2 1411.0,98.4 1386.9,104.5 1362.8,111.6 1338.7,119.5 1314.6,128.3 1290.6,138.1 1266.5,149.1 1242.4,161.6 1218.3,176.4 1194.2,194.6 1170.1,216.3 1146.0,241.2 1140.0,248.1 1134.9,254.2 1129.7,260.6 1124.6,267.2 1119.4,274.1 1114.3,281.3 1109.1,288.7 1104.0,296.5 1100.0,302.7 1086.6,324.6 1073.2,347.2 1059.8,370.1 1046.3,393.2 1032.9,416.9 1019.5,441.0 1006.1,465.2 992.7,489.3 979.3,513.5 965.9,538.0 952.5,563.4 939.0,589.7 925.6,616.4 912.2,642.2 898.8,665.7" fill="#45ff91"/>
<polygon points="898.8,541.7 912.2,518.7 925.6,495.1 939.0,471.7 952.5,449.5 965.9,429.4 979.3,411.0 992.7,393.9 1006.1,377.8 1019.5,362.4 1032.9,347.8 1046.3,333.9 1059.8,321.1 1073.2,309.0 1086.6,297.5 1100.0,286.7 1104.0,283.7 1109.1,279.9 1114.3,276.2 1119.4,272.7 1124.6,269.2 1129.7,265.9 1134.9,262.7 1140.0,259.6 1146.0,256.0 1170.1,242.9 1194.2,231.1 1218.3,220.8 1242.4,211.9 1266.5,204.1 1290.6,197.1 1314.6,190.7 1338.7,184.8 1362.8,179.5 1386.9,174.8 1411.0,170.5 1435.1,166.7 1459.2,163.2 1459.2,88.9 1435.1,93.2 1411.0,98.4 1386.9,104.5 1362.8,111.6 1338.7,119.5 1314.6,128.3 1290.6,138.1 1266.5,149.1 1242.4,161.6 1218.3,176.4 1194.2,194.6 1170.1,216.3 1146.0,241.2 1140.0,248.1 1134.9,254.2 1129.7,260.6 1124.6,267.2 1119.4,274.1 1114.3,281.3 1109.1,288.7 1104.0,296.5 1100.0,302.7 1086.6,324.6 1073.2,347.2 1059.8,370.1 1046.3,393.2 1032.9,416.9 1019.5,441.0 1006.1,465.2 992.7,489.3 979.3,513.5 965.9,538.0 952.5,563.4 939.0,589.7 925.6,616.4 912.2,642.2 898.8,665.7" fill="#46ff98"/>
<polygon points="898.8,543.3 912.2,520.3 925.6,496.7 939.0,473.3 952.5,451.0 965.9,430.8 979.3,412.3 992.7,395.2 1006.1,379.0 1019.5,363.5 1032.9,348.7 1046.3,334.7 1059.8,321.7 1073.2,309.5 1086.6,297.9 1100.0,286.9 1104.0,283.9 1109.1,280.0 1114.3,276.3 1119.4,272.7 1124.6,269.2 1129.7,265.8 1134.9,262.6 1140.0,259.4 1146.0,255.8 1170.1,242.6 1194.2,230.6 1218.3,220.2 1242.4,211.3 1266.5,203.4 1290.6,196.3 1314.6,189.8 1338.7,184.0 1362.8,178.6 1386.9,173.9 1411.0,169.6 1435.1,165.7 1459.2,162.2 1459.2,88.9 1435.1,93.2 1411.0,98.4 1386.9,104.5 1362.8,111.6 1338.7,119.5 1314.6,128.3 1290.6,138.1 1266.5,149.1 1242.4,161.6 1218.3,176.4 1194.2,194.6 1170.1,216.3 1146.0,241.2 1140.0,248.1 1134.9,254.2 1129.7,260.6 1124.6,267.2 1119.4,274.1 1114.3,281.3 1109.1,288.7 1104.0,296.5 1100.0,302.7 1086.6,324.6 1073.2,347.2 1059.8,370.1 1046.3,393.2 1032.9,416.9 1019.5,441.0 1006.1,465.2 992.7,489.3 979.3,513.5 965.9,538.0 952.5,563.4 939.0,589.7 925.6,616.4 912.2,642.2 898.8,665.7" fill="#46ff9f"/>
<polygon points="898.8,544.9 912.2,522.0 925.6,498.3 939.0,474.8 952.5,452.5 965.9,432.2 979.3,413.7 992.7,396.4 1006.1,380.1 1019.5,364.5 1032.9,349.6 1046.3,335.5 1059.8,322.4 1073.2,310.0 1086.6,298.2 1100.0,287.2 1104.0,284.0 1109.1,280.1 1114.3,276.3 1119.4,272.7 1124.6,269.2 1129.7,265.7 1134.9,262.5 1140.0,259.3 1146.0,255.7 1170.1,242.2 1194.2,230.2 1218.3,219.6 1242.4,210.6 1266.5,202.7 1290.6,195.5 1314.6,189.0 1338.7,183.1 1362.8,177.8 1386.9,172.9 1411.0,168.6 1435.1,164.8 1459.2,161.2 1459.2,88.9 1435.1,93.2 1411.0,98.4 1386.9,104.5 1362.8,111.6 1338.7,119.5 1314.6,128.3 1290.6,138.1 1266.5,149.1 1242.4,161.6 1218.3,176.4 1194.2,194.6 1170.1,216.3 1146.0,241.2 1140.0,248.1 1134.9,254.2 1129.7,260.6 1124.6,267.2 1119.4,274.1 1114.3,281.3 1109.1,288.7 1104.0,296.5 1100.0,302.7 1086.6,324.6 1073.2,347.2 1059.8,370.1 1046.3,393.2 1032.9,416.9 1019.5,441.0 1006.1,465.2 992.7,489.3 979.3,513.5 965.9,538.0 952.5,563.4 939.0,589.7 925.6,616.4 912.2,642.2 898.8,665.7" fill="#46ffa6"/>
<polygon points="898.8,546.6 912.2,523.6 925.6,499.9 939.0,476.4 952.5,454.0 965.9,433.6 979.3,415.0 992.7,397.7 1006.1,381.3 1019.5,365.5 1032.9,350.5 1046.3,336.3 1059.8,323.0 1073.2,310.5 1086.6,298.6 1100.0,287.4 1104.0,284.2 1109.1,280.2 1114.3,276.4 1119.4,272.7 1124.6,269.1 1129.7,265.7 1134.9,262.3 1140.0,259.1 1146.0,255.5 1170.1,241.9 1194.2,229.7 1218.3,219.0 1242.4,210.0 1266.5,202.0 1290.6,194.8 1314.6,188.2 1338.7,182.3 1362.8,176.9 1386.9,172.0 1411.0,167.7 1435.1,163.8 1459.2,160.3 1459.2,88.9 1435.1,93.2 1411.0,98.4 1386.9,104.5 1362.8,111.6 1338.7,119.5 1314.6,128.3 1290.6,138.1 1266.5,149.1 1242.4,161.6 1218.3,176.4 1194.2,194.6 1170.1,216.3 1146.0,241.2 1140.0,248.1 1134.9,254.2 1129.7,260.6 1124.6,267.2 1119.4,274.1 1114.3,281.3 1109.1,288.7 1104.0,296.5 1100.0,302.7 1086.6,324.6 1073.2,347.2 1059.8,370.1 1046.3,393.2 1032.9,416.9 1019.5,441.0 1006.1,465.2 992.7,489.3 979.3,513.5 965.9,538.0 952.5,563.4 939.0,589.7 925.6,616.4 912.2,642.2 898.8,665.7" fill="#46ffad"/>
<polygon points="898.8,548.2 912.2,525.2 925.6,501.5 939.0,477.9 952.5,455.5 965.9,435.1 979.3,416.4 992.7,398.9 1006.1,382.4 1019.5,366.6 1032.9,351.4 1046.3,337.1 1059.8,323.6 1073.2,311.0 1086.6,298.9 1100.0,287.6 1104.0,284.4 1109.1,280.4 1114.3,276.5 1119.4,272.7 1124.6,269.1 1129.7,265.6 1134.9,262.2 1140.0,259.0 1146.0,255.3 1170.1,241.5 1194.2,229.2 1218.3,218.5 1242.4,209.3 1266.5,201.3 1290.6,194.0 1314.6,187.4 1338.7,181.4 1362.8,176.0 1386.9,171.1 1411.0,166.7 1435.1,162.8 1459.2,159.3 1459.2,88.9 1435.1,93.2 1411.0,98.4 1386.9,104.5 1362.8,111.6 1338.7,119.5 1314.6,128.3 1290.6,138.1 1266.5,149.1 1242.4,161.6 1218.3,176.4 1194.2,194.6 1170.1,216.3 1146.0,241.2 1140.0,248.1 1134.9,254.2 1129.7,260.6 1124.6,267.2 1119.4,274.1 1114.3,281.3 1109.1,288.7 1104.0,296.5 1100.0,302.7 1086.6,324.6 1073.2,347.2 1059.8,370.1 1046.3,393.2 1032.9,416.9 1019.5,441.0 1006.1,465.2 992.7,489.3 979.3,513.5 965.9,538.0 952.5,563.4 939.0,589.7 925.6,616.4 912.2,642.2 898.8,665.7" fill="#45ffb3"/>
<polygon points="898.8,549.8 912.2,526.8 925.6,503.1 939.0,479.5 952.5,457.0 965.9,436.5 979.3,417.7 992.7,400.2 1006.1,383.6 1019.5,367.6 1032.9,352.3 1046.3,337.8 1059.8,324.3 1073.2,311.5 1086.6,299.3 1100.0,287.8 1104.0,284.5 1109.1,280.5 1114.3,276.5 1119.4,272.7 1124.6,269.1 1129.7,265.5 1134.9,262.1 1140.0,258.8 1146.0,255.1 1170.1,241.2 1194.2,228.7 1218.3,217.9 1242.4,208.6 1266.5,200.5 1290.6,193.2 1314.6,186.6 1338.7,180.5 1362.8,175.1 1386.9,170.2 1411.0,165.8 1435.1,161.9 1459.2,158.3 1459.2,88.9 1435.1,93.2 1411.0,98.4 1386.9,104.5 1362.8,111.6 1338.7,119.5 1314.6,128.3 1290.6,138.1 1266.5,149.1 1242.4,161.6 1218.3,176.4 1194.2,194.6 1170.1,216.3 1146.0,241.2 1140.0,248.1 1134.9,254.2 1129.7,260.6 1124.6,267.2 1119.4,274.1 1114.3,281.3 1109.1,288.7 1104.0,296.5 1100.0,302.7 1086.6,324.6 1073.2,347.2 1059.8,370.1 1046.3,393.2 1032.9,416.9 1019.5,441.0 1006.1,465.2 992.7,489.3 979.3,513.5 965.9,538.0 952.5,563.4 939.0,589.7 925.6,616.4 912.2,642.2 898.8,665.7" fill="#44ffba"/>
<polygon points="898.8,551.5 912.2,528.5 925.6,504.7 939.0,481.0 952.5,458.5 965.9,437.9 979.3,419.1 992.7,401.4 1006.1,384.7 1019.5,368.6 1032.9,353.2 1046.3,338.6 1059.8,324.9 1073.2,312.0 1086.6,299.7 1100.0,288.0 1104.0,284.7 1109.1,280.6 1114.3,276.6 1119.4,272.8 1124.6,269.1 1129.7,265.5 1134.9,262.0 1140.0,258.7 1146.0,254.9 1170.1,240.8 1194.2,228.2 1218.3,217.3 1242.4,208.0 1266.5,199.8 1290.6,192.4 1314.6,185.7 1338.7,179.7 1362.8,174.2 1386.9,169.2 1411.0,164.8 1435.1,160.9 1459.2,157.3 1459.2,88.9 1435.1,93.2 1411.0,98.4 1386.9,104.5 1362.8,111.6 1338.7,119.5 1314.6,128.3 1290.6,138.1 1266.5,149.1 1242.4,161.6 1218.3,176.4 1194.2,194.6 1170.1,216.3 1146.0,241.2 1140.0,248.1 1134.9,254.2 1129.7,260.6 1124.6,267.2 1119.4,274.1 1114.3,281.3 1109.1,288.7 1104.0,296.5 1100.0,302.7 1086.6,324.6 1073.2,347.2 1059.8,370.1 1046.3,393.2 1032.9,416.9 1019.5,441.0 1006.1,465.2 992.7,489.3 979.3,513.5 965.9,538.0 952.5,563.4 939.0,589.7 925.6,616.4 912.2,642.2 898.8,665.7" fill="#43ffc1"/>
<polygon points="898.8,553.1 912.2,530.1 925.6,506.2 939.0,482.6 952.5,460.0 965.9,439.4 979.3,420.4 992.7,402.7 1006.1,385.8 1019.5,369.7 1032.9,354.1 1046.3,339.4 1059.8,325.6 1073.2,312.5 1086.6,300.0 1100.0,288.2 1104.0,284.9 1109.1,280.7 1114.3,276.7 1119.4,272.8 1124.6,269.0 1129.7,265.4 1134.9,261.9 1140.0,258.5 1146.0,254.7 1170.1,240.5 1194.2,227.8 1218.3,216.7 1242.4,207.3 1266.5,199.1 1290.6,191.7 1314.6,184.9 1338.7,178.8 1362.8,173.3 1386.9,168.3 1411.0,163.9 1435.1,159.9 1459.2,156.3 1459.2,88.9 1435.1,93.2 1411.0,98.4 1386.9,104.5 1362.8,111.6 1338.7,119.5 1314.6,128.3 1290.6,138.1 1266.5,149.1 1242.4,161.6 1218.3,176.4 1194.2,194.6 1170.1,216.3 1146.0,241.2 1140.0,248.1 1134.9,254.2 1129.7,260.6 1124.6,267.2 1119.4,274.1 1114.3,281.3 1109.1,288.7 1104.0,296.5 1100.0,302.7 1086.6,324.6 1073.2,347.2 1059.8,370.1 1046.3,393.2 1032.9,416.9 1019.5,441.0 1006.1,465.2 992.7,489.3 979.3,513.5 965.9,538.0 952.5,563.4 939.0,589.7 925.6,616.4 912.2,642.2 898.8,665.7" fill="#41ffc7"/>
<polygon points="898.8,554.7 912.2,531.7 925.6,507.8 939.0,484.1 952.5,461.5 965.9,440.8 979.3,421.8 992.7,404.0 1006.1,387.0 1019.5,370.7 1032.9,355.0 1046.3,340.2 1059.8,326.2 1073.2,313.0 1086.6,300.4 1100.0,288.4 1104.0,285.0 1109.1,280.8 1114.3,276.7 1119.4,272.8 1124.6,269.0 1129.7,265.3 1134.9,261.8 1140.0,258.4 1146.0,254.5 1170.1,240.1 1194.2,227.3 1218.3,216.1 1242.4,206.6 1266.5,198.4 1290.6,190.9 1314.6,184.1 1338.7,178.0 1362.8,172.4 1386.9,167.4 1411.0,162.9 1435.1,158.9 1459.2,155.4 1459.2,88.9 1435.1,93.2 1411.0,98.4 1386.9,104.5 1362.8,111.6 1338.7,119.5 1314.6,128.3 1290.6,138.1 1266.5,149.1 1242.4,161.6 1218.3,176.4 1194.2,194.6 1170.1,216.3 1146.0,241.2 1140.0,248.1 1134.9,254.2 1129.7,260.6 1124.6,267.2 1119.4,274.1 1114.3,281.3 1109.1,288.7 1104.0,296.5 1100.0,302.7 1086.6,324.6 1073.2,347.2 1059.8,370.1 1046.3,393.2 1032.9,416.9 1019.5,441.0 1006.1,465.2 992.7,489.3 979.3,513.5 965.9,538.0 952.5,563.4 939.0,589.7 925.6,616.4 912.2,642.2 898.8,665.7" fill="#3effce"/>
<polygon points="898.8,556.4 912.2,533.3 925.6,509.4 939.0,485.7 952.5,463.0 965.9,442.2 979.3,423.1 992.7,405.2 1006.1,388.1 1019.5,371.7 1032.9,356.0 1046.3,341.0 1059.8,326.9 1073.2,313.5 1086.6,300.7 1100.0,288.6 1104.0,285.2 1109.1,280.9 1114.3,276.8 1119.4,272.8 1124.6,269.0 1129.7,265.3 1134.9,261.7 1140.0,258.2 1146.0,254.3 1170.1,239.8 1194.2,226.8 1218.3,215.5 1242.4,206.0 1266.5,197.6 1290.6,190.1 1314.6,183.3 1338.7,177.1 1362.8,171.5 1386.9,166.5 1411.0,162.0 1435.1,158.0 1459.2,154.4 1459.2,88.9 1435.1,93.2 1411.0,98.4 1386.9,104.5 1362.8,111.6 1338.7,119.5 1314.6,128.3 1290.6,138.1 1266.5,149.1 1242.4,161.6 1218.3,176.4 1194.2,194.6 1170.1,216.3 1146.0,241.2 1140.0,248.1 1134.9,254.2 1129.7,260.6 1124.6,267.2 1119.4,274.1 1114.3,281.3 1109.1,288.7 1104.0,296.5 1100.0,302.7 1086.6,324.6 1073.2,347.2 1059.8,370.1 1046.3,393.2 1032.9,416.9 1019.5,441.0 1006.1,465.2 992.7,489.3 979.3,513.5 965.9,538.0 952.5,563.4 939.0,589.7 925.6,616.4 912.2,642.2 898.8,665.7" fill="#3cffd4"/>
<polygon points="898.8,558.0 912.2,535.0 925.6,511.0 939.0,487.2 952.5,464.5 965.9,443.6 979.3,424.5 992.7,406.5 1006.1,389.3 1019.5,372.8 1032.9,356.9 1046.3,341.7 1059.8,327.5 1073.2,314.0 1086.6,301.1 1100.0,288.8 1104.0,285.4 1109.1,281.1 1114.3,276.9 1119.4,272.8 1124.6,268.9 1129.7,265.2 1134.9,261.6 1140.0,258.0 1146.0,254.1 1170.1,239.4 1194.2,226.3 1218.3,215.0 1242.4,205.3 1266.5,196.9 1290.6,189.3 1314.6,182.5 1338.7,176.2 1362.8,170.6 1386.9,165.5 1411.0,161.0 1435.1,157.0 1459.2,153.4 1459.2,88.9 1435.1,93.2 1411.0,98.4 1386.9,104.5 1362.8,111.6 1338.7,119.5 1314.6,128.3 1290.6,138.1 1266.5,149.1 1242.4,161.6 1218.3,176.4 1194.2,194.6 1170.1,216.3 1146.0,241.2 1140.0,248.1 1134.9,254.2 1129.7,260.6 1124.6,267.2 1119.4,274.1 1114.3,281.3 1109.1,288.7 1104.0,296.5 1100.0,302.7 1086.6,324.6 1073.2,347.2 1059.8,370.1 1046.3,393.2 1032.9,416.9 1019.5,441.0 1006.1,465.2 992.7,489.3 979.3,513.5 965.9,538.0 952.5,563.4 939.0,589.7 925.6,616.4 912.2,642.2 898.8,665.7" fill="#38ffdb"/>
<polygon points="898.8,559.6 912.2,536.6 925.6,512.6 939.0,488.8 952.5,466.0 965.9,445.1 979.3,425.8 992.7,407.7 1006.1,390.4 1019.5,373.8 1032.9,357.8 1046.3,342.5 1059.8,328.2 1073.2,314.5 1086.6,301.4 1100.0,289.0 1104.0,285.5 1109.1,281.2 1114.3,276.9 1119.4,272.9 1124.6,268.9 1129.7,265.1 1134.9,261.4 1140.0,257.9 1146.0,253.9 1170.1,239.1 1194.2,225.8 1218.3,214.4 1242.4,204.7 1266.5,196.2 1290.6,188.6 1314.6,181.6 1338.7,175.4 1362.8,169.7 1386.9,164.6 1411.0,160.1 1435.1,156.0 1459.2,152.4 1459.2,88.9 1435.1,93.2 1411.0,98.4 1386.9,104.5 1362.8,111.6 1338.7,119.5 1314.6,128.3 1290.6,138.1 1266.5,149.1 1242.4,161.6 1218.3,176.4 1194.2,194.6 1170.1,216.3 1146.0,241.2 1140.0,248.1 1134.9,254.2 1129.7,260.6 1124.6,267.2 1119.4,274.1 1114.3,281.3 1109.1,288.7 1104.0,296.5 1100.0,302.7 1086.6,324.6 1073.2,347.2 1059.8,370.1 1046.3,393.2 1032.9,416.9 1019.5,441.0 1006.1,465.2 992.7,489.3 979.3,513.5 965.9,538.0 952.5,563.4 939.0,589.7 925.6,616.4 912.2,642.2 898.8,665.7" fill="#34ffe1"/>
<polygon points="898.8,561.3 912.2,538.2 925.6,514.2 939.0,490.3 952.5,467.5 965.9,446.5 979.3,427.2 992.7,409.0 1006.1,391.6 1019.5,374.8 1032.9,358.7 1046.3,343.3 1059.8,328.8 1073.2,315.0 1086.6,301.8 1100.0,289.3 1104.0,285.7 1109.1,281.3 1114.3,277.0 1119.4,272.9 1124.6,268.9 1129.7,265.0 1134.9,261.3 1140.0,257.7 1146.0,253.7 1170.1,238.7 1194.2,225.4 1218.3,213.8 1242.4,204.0 1266.5,195.5 1290.6,187.8 1314.6,180.8 1338.7,174.5 1362.8,168.8 1386.9,163.7 1411.0,159.1 1435.1,155.1 1459.2,151.5 1459.2,88.9 1435.1,93.2 1411.0,98.4 1386.9,104.5 1362.8,111.6 1338.7,119.5 1314.6,128.3 1290.6,138.1 1266.5,149.1 1242.4,161.6 1218.3,176.4 1194.2,194.6 1170.1,216.3 1146.0,241.2 1140.0,248.1 1134.9,254.2 1129.7,260.6 1124.6,267.2 1119.4,274.1 1114.3,281.3 1109.1,288.7 1104.0,296.5 1100.0,302.7 1086.6,324.6 1073.2,347.2 1059.8,370.1 1046.3,393.2 1032.9,416.9 1019.5,441.0 1006.1,465.2 992.7,489.3 979.3,513.5 965.9,538.0 952.5,563.4 939.0,589.7 925.6,616.4 912.2,642.2 898.8,665.7" fill="#2effe8"/>
<polygon points="898.8,562.9 912.2,539.8 925.6,515.8 939.0,491.9 952.5,469.0 965.9,447.9 979.3,428.5 992.7,410.2 1006.1,392.7 1019.5,375.9 1032.9,359.6 1046.3,344.1 1059.8,329.5 1073.2,315.5 1086.6,302.2 1100.0,289.5 1104.0,285.9 1109.1,281.4 1114.3,277.1 1119.4,272.9 1124.6,268.9 1129.7,265.0 1134.9,261.2 1140.0,257.6 1146.0,253.5 1170.1,238.4 1194.2,224.9 1218.3,213.2 1242.4,203.3 1266.5,194.7 1290.6,187.0 1314.6,180.0 1338.7,173.7 1362.8,167.9 1386.9,162.8 1411.0,158.2 1435.1,154.1 1459.2,150.5 1459.2,88.9 1435.1,93.2 1411.0,98.4 1386.9,104.5 1362.8,111.6 1338.7,119.5 1314.6,128.3 1290.6,138.1 1266.5,149.1 1242.4,161.6 1218.3,176.4 1194.2,194.6 1170.1,216.3 1146.0,241.2 1140.0,248.1 1134.9,254.2 1129.7,260.6 1124.6,267.2 1119.4,274.1 1114.3,281.3 1109.1,288.7 1104.0,296.5 1100.0,302.7 1086.6,324.6 1073.2,347.2 1059.8,370.1 1046.3,393.2 1032.9,416.9 1019.5,441.0 1006.1,465.2 992.7,489.3 979.3,513.5 965.9,538.0 952.5,563.4 939.0,589.7 925.6,616.4 912.2,642.2 898.8,665.7" fill="#28ffef"/>
<polygon points="898.8,564.5 912.2,541.5 925.6,517.4 939.0,493.4 952.5,470.5 965.9,449.4 979.3,429.9 992.7,411.5 1006.1,393.9 1019.5,376.9 1032.9,360.5 1046.3,344.9 1059.8,330.1 1073.2,316.0 1086.6,302.5 1100.0,289.7 1104.0,286.0 1109.1,281.5 1114.3,277.1 1119.4,272.9 1124.6,268.8 1129.7,264.9 1134.9,261.1 1140.0,257.4 1146.0,253.3 1170.1,238.0 1194.2,224.4 1218.3,212.6 1242.4,202.7 1266.5,194.0 1290.6,186.2 1314.6,179.2 1338.7,172.8 1362.8,167.0 1386.9,161.8 1411.0,157.2 1435.1,153.1 1459.2,149.5 1459.2,88.9 1435.1,93.2 1411.0,98.4 1386.9,104.5 1362.8,111.6 1338.7,119.5 1314.6,128.3 1290.6,138.1 1266.5,149.1 1242.4,161.6 1218.3,176.4 1194.2,194.6 1170.1,216.3 1146.0,241.2 1140.0,248.1 1134.9,254.2 1129.7,260.6 1124.6,267.2 1119.4,274.1 1114.3,281.3 1109.1,288.7 1104.0,296.5 1100.0,302.7 1086.6,324.6 1073.2,347.2 1059.8,370.1 1046.3,393.2 1032.9,416.9 1019.5,441.0 1006.1,465.2 992.7,489.3 979.3,513.5 965.9,538.0 952.5,563.4 939.0,589.7 925.6,616.4 912.2,642.2 898.8,665.7" fill="#1efff5"/>
<polygon points="898.8,566.2 912.2,543.1 925.6,519.0 939.0,495.0 952.5,472.0 965.9,450.8 979.3,431.2 992.7,412.7 1006.1,395.0 1019.5,377.9 1032.9,361.4 1046.3,345.6 1059.8,330.7 1073.2,316.5 1086.6,302.9 1100.0,289.9 1104.0,286.2 1109.1,281.6 1114.3,277.2 1119.4,272.9 1124.6,268.8 1129.7,264.8 1134.9,261.0 1140.0,257.3 1146.0,253.1 1170.1,237.7 1194.2,223.9 1218.3,212.0 1242.4,202.0 1266.5,193.3 1290.6,185.4 1314.6,178.4 1338.7,171.9 1362.8,166.1 1386.9,160.9 1411.0,156.3 1435.1,152.2 1459.2,148.5 1459.2,88.9 1435.1,93.2 1411.0,98.4 1386.9,104.5 1362.8,111.6 1338.7,119.5 1314.6,128.3 1290.6,138.1 1266.5,149.1 1242.4,161.6 1218.3,176.4 1194.2,194.6 1170.1,216.3 1146.0,241.2 1140.0,248.1 1134.9,254.2 1129.7,260.6 1124.6,267.2 1119.4,274.1 1114.3,281.3 1109.1,288.7 1104.0,296.5 1100.0,302.7 1086.6,324.6 1073.2,347.2 1059.8,370.1 1046.3,393.2 1032.9,416.9 1019.5,441.0 1006.1,465.2 992.7,489.3 979.3,513.5 965.9,538.0 952.5,563.4 939.0,589.7 925.6,616.4 912.2,642.2 898.8,665.7" fill="#0efffc"/>
<polygon points="898.8,567.8 912.2,544.7 925.6,520.6 939.0,496.5 952.5,473.5 965.9,452.2 979.3,432.6 992.7,414.0 1006.1,396.2 1019.5,379.0 1032.9,362.3 1046.3,346.4 1059.8,331.4 1073.2,317.0 1086.6,303.2 1100.0,290.1 1104.0,286.4 1109.1,281.8 1114.3,277.3 1119.4,273.0 1124.6,268.8 1129.7,264.8 1134.9,260.9 1140.0,257.1 1146.0,252.9 1170.1,237.3 1194.2,223.4 1218.3,211.5 1242.4,201.3 1266.5,192.6 1290.6,184.7 1314.6,177.5 1338.7,171.1 1362.8,165.2 1386.9,160.0 1411.0,155.3 1435.1,151.2 1459.2,147.6 1459.2,88.9 1435.1,93.2 1411.0,98.4 1386.9,104.5 1362.8,111.6 1338.7,119.5 1314.6,128.3 1290.6,138.1 1266.5,149.1 1242.4,161.6 1218.3,176.4 1194.2,194.6 1170.1,216.3 1146.0,241.2 1140.0,248.1 1134.9,254.2 1129.7,260.6 1124.6,267.2 1119.4,274.1 1114.3,281.3 1109.1,288.7 1104.0,296.5 1100.0,302.7 1086.6,324.6 1073.2,347.2 1059.8,370.1 1046.3,393.2 1032.9,416.9 1019.5,441.0 1006.1,465.2 992.7,489.3 979.3,513.5 965.9,538.0 952.5,563.4 939.0,589.7 925.6,616.4 912.2,642.2 898.8,665.7" fill="#15fbff"/>
<polygon points="898.8,569.4 912.2,546.3 925.6,522.2 939.0,498.1 952.5,475.0 965.9,453.6 979.3,433.9 992.7,415.3 1006.1,397.3 1019.5,380.0 1032.9,363.2 1046.3,347.2 1059.8,332.0 1073.2,317.5 1086.6,303.6 1100.0,290.3 1104.0,286.6 1109.1,281.9 1114.3,277.3 1119.4,273.0 1124.6,268.8 1129.7,264.7 1134.9,260.8 1140.0,257.0 1146.0,252.7 1170.1,237.0 1194.2,223.0 1218.3,210.9 1242.4,200.7 1266.5,191.8 1290.6,183.9 1314.6,176.7 1338.7,170.2 1362.8,164.3 1386.9,159.1 1411.0,154.4 1435.1,150.2 1459.2,146.6 1459.2,88.9 1435.1,93.2 1411.0,98.4 1386.9,104.5 1362.8,111.6 1338.7,119.5 1314.6,128.3 1290.6,138.1 1266.5,149.1 1242.4,161.6 1218.3,176.4 1194.2,194.6 1170.1,216.3 1146.0,241.2 1140.0,248.1 1134.9,254.2 1129.7,260.6 1124.6,267.2 1119.4,274.1 1114.3,281.3 1109.1,288.7 1104.0,296.5 1100.0,302.7 1086.6,324.6 1073.2,347.2 1059.8,370.1 1046.3,393.2 1032.9,416.9 1019.5,441.0 1006.1,465.2 992.7,489.3 979.3,513.5 965.9,538.0 952.5,563.4 939.0,589.7 925.6,616.4 912.2,642.2 898.8,665.7" fill="#28f4ff"/>
<polygon points="898.8,571.1 912.2,548.0 925.6,523.8 939.0,499.7 952.5,476.5 965.9,455.1 979.3,435.3 992.7,416.5 1006.1,398.5 1019.5,381.0 1032.9,364.1 1046.3,348.0 1059.8,332.7 1073.2,318.0 1086.6,303.9 1100.0,290.5 1104.0,286.7 1109.1,282.0 1114.3,277.4 1119.4,273.0 1124.6,268.7 1129.7,264.6 1134.9,260.7 1140.0,256.8 1146.0,252.5 1170.1,236.6 1194.2,222.5 1218.3,210.3 1242.4,200.0 1266.5,191.1 1290.6,183.1 1314.6,175.9 1338.7,169.4 1362.8,163.4 1386.9,158.1 1411.0,153.4 1435.1,149.3 1459.2,145.6 1459.2,88.9 1435.1,93.2 1411.0,98.4 1386.9,104.5 1362.8,111.6 1338.7,119.5 1314.6,128.3 1290.6,138.1 1266.5,149.1 1242.4,161.6 1218.3,176.4 1194.2,194.6 1170.1,216.3 1146.0,241.2 1140.0,248.1 1134.9,254.2 1129.7,260.6 1124.6,267.2 1119.4,274.1 1114.3,281.3 1109.1,288.7 1104.0,296.5 1100.0,302.7 1086.6,324.6 1073.2,347.2 1059.8,370.1 1046.3,393.2 1032.9,416.9 1019.5,441.0 1006.1,465.2 992.7,489.3 979.3,513.5 965.9,538.0 952.5,563.4 939.0,589.7 925.6,616.4 912.2,642.2 898.8,665.7" fill="#34edff"/>
<polygon points="898.8,572.7 912.2,549.6 925.6,525.4 939.0,501.2 952.5,478.0 965.9,456.5 979.3,436.6 992.7,417.8 1006.1,399.6 1019.5,382.1 1032.9,365.0 1046.3,348.8 1059.8,333.3 1073.2,318.5 1086.6,304.3 1100.0,290.7 1104.0,286.9 1109.1,282.1 1114.3,277.5 1119.4,273.0 1124.6,268.7 1129.7,264.6 1134.9,260.6 1140.0,256.7 1146.0,252.3 1170.1,236.3 1194.2,222.0 1218.3,209.7 1242.4,199.4 1266.5,190.4 1290.6,182.3 1314.6,175.1 1338.7,168.5 1362.8,162.5 1386.9,157.2 1411.0,152.5 1435.1,148.3 1459.2,144.6 1459.2,88.9 1435.1,93.2 1411.0,98.4 1386.9,104.5 1362.8,111.6 1338.7,119.5 1314.6,128.3 1290.6,138.1 1266.5,149.1 1242.4,161.6 1218.3,176.4 1194.2,194.6 1170.1,216.3 1146.0,241.2 1140.0,248.1 1134.9,254.2 1129.7,260.6 1124.6,267.2 1119.4,274.1 1114.3,281.3 1109.1,288.7 1104.0,296.5 1100.0,302.7 1086.6,324.6 1073.2,347.2 1059.8,370.1 1046.3,393.2 1032.9,416.9 1019.5,441.0 1006.1,465.2 992.7,489.3 979.3,513.5 965.9,538.0 952.5,563.4 939.0,589.7 925.6,616.4 912.2,642.2 898.8,665.7" fill="#3ce5ff"/>
<polygon points="898.8,574.3 912.2,551.2 925.6,527.0 939.0,502.8 952.5,479.5 965.9,457.9 979.3,438.0 992.7,419.0 1006.1,400.8 1019.5,383.1 1032.9,366.0 1046.3,349.5 1059.8,334.0 1073.2,319.0 1086.6,304.6 1100.0,290.9 1104.0,287.1 1109.1,282.2 1114.3,277.5 1119.4,273.0 1124.6,268.7 1129.7,264.5 1134.9,260.4 1140.0,256.5 1146.0,252.1 1170.1,235.9 1194.2,221.5 1218.3,209.1 1242.4,198.7 1266.5,189.7 1290.6,181.6 1314.6,174.3 1338.7,167.6 1362.8,161.7 1386.9,156.3 1411.0,151.5 1435.1,147.3 1459.2,143.6 1459.2,88.9 1435.1,93.2 1411.0,98.4 1386.9,104.5 1362.8,111.6 1338.7,119.5 1314.6,128.3 1290.6,138.1 1266.5,149.1 1242.4,161.6 1218.3,176.4 1194.2,194.6 1170.1,216.3 1146.0,241.2 1140.0,248.1 1134.9,254.2 1129.7,260.6 1124.6,267.2 1119.4,274.1 1114.3,281.3 1109.1,288.7 1104.0,296.5 1100.0,302.7 1086.6,324.6 1073.2,347.2 1059.8,370.1 1046.3,393.2 1032.9,416.9 1019.5,441.0 1006.1,465.2 992.7,489.3 979.3,513.5 965.9,538.0 952.5,563.4 939.0,589.7 925.6,616.4 912.2,642.2 898.8,665.7" fill="#43deff"/>
<polygon points="898.8,575.9 912.2,552.8 925.6,528.6 939.0,504.3 952.5,481.0 965.9,459.4 979.3,439.3 992.7,420.3 1006.1,401.9 1019.5,384.1 1032.9,366.9 1046.3,350.3 1059.8,334.6 1073.2,319.5 1086.6,305.0 1100.0,291.1 1104.0,287.2 1109.1,282.3 1114.3,277.6 1119.4,273.0 1124.6,268.7 1129.7,264.4 1134.9,260.3 1140.0,256.4 1146.0,251.9 1170.1,235.6 1194.2,221.0 1218.3,208.5 1242.4,198.0 1266.5,188.9 1290.6,180.8 1314.6,173.4 1338.7,166.8 1362.8,160.8 1386.9,155.4 1411.0,150.6 1435.1,146.4 1459.2,142.7 1459.2,88.9 1435.1,93.2 1411.0,98.4 1386.9,104.5 1362.8,111.6 1338.7,119.5 1314.6,128.3 1290.6,138.1 1266.5,149.1 1242.4,161.6 1218.3,176.4 1194.2,194.6 1170.1,216.3 1146.0,241.2 1140.0,248.1 1134.9,254.2 1129.7,260.6 1124.6,267.2 1119.4,274.1 1114.3,281.3 1109.1,288.7 1104.0,296.5 1100.0,302.7 1086.6,324.6 1073.2,347.2 1059.8,370.1 1046.3,393.2 1032.9,416.9 1019.5,441.0 1006.1,465.2 992.7,489.3 979.3,513.5 965.9,538.0 952.5,563.4 939.0,589.7 925.6,616.4 912.2,642.2 898.8,665.7" fill="#48d7ff"/>
<polygon points="898.8,577.6 912.2,554.5 925.6,530.2 939.0,505.9 952.5,482.5 965.9,460.8 979.3,440.7 992.7,421.5 1006.1,403.1 1019.5,385.2 1032.9,367.8 1046.3,351.1 1059.8,335.3 1073.2,320.1 1086.6,305.4 1100.0,291.4 1104.0,287.4 1109.1,282.4 1114.3,277.7 1119.4,273.1 1124.6,268.6 1129.7,264.3 1134.9,260.2 1140.0,256.2 1146.0,251.7 1170.1,235.2 1194.2,220.5 1218.3,208.0 1242.4,197.4 1266.5,188.2 1290.6,180.0 1314.6,172.6 1338.7,165.9 1362.8,159.9 1386.9,154.5 1411.0,149.6 1435.1,145.4 1459.2,141.7 1459.2,88.9 1435.1,93.2 1411.0,98.4 1386.9,104.5 1362.8,111.6 1338.7,119.5 1314.6,128.3 1290.6,138.1 1266.5,149.1 1242.4,161.6 1218.3,176.4 1194.2,194.6 1170.1,216.3 1146.0,241.2 1140.0,248.1 1134.9,254.2 1129.7,260.6 1124.6,267.2 1119.4,274.1 1114.3,281.3 1109.1,288.7 1104.0,296.5 1100.0,302.7 1086.6,324.6 1073.2,347.2 1059.8,370.1 1046.3,393.2 1032.9,416.9 1019.5,441.0 1006.1,465.2 992.7,489.3 979.3,513.5 965.9,538.0 952.5,563.4 939.0,589.7 925.6,616.4 912.2,642.2 898.8,665.7" fill="#4cd0ff"/>
<polygon points="898.8,579.2 912.2,556.1 925.6,531.8 939.0,507.4 952.5,484.0 965.9,462.2 979.3,442.0 992.7,422.8 1006.1,404.2 1019.5,386.2 1032.9,368.7 1046.3,351.9 1059.8,335.9 1073.2,320.6 1086.6,305.7 1100.0,291.6 1104.0,287.6 1109.1,282.6 1114.3,277.7 1119.4,273.1 1124.6,268.6 1129.7,264.3 1134.9,260.1 1140.0,256.1 1146.0,251.6 1170.1,234.9 1194.2,220.1 1218.3,207.4 1242.4,196.7 1266.5,187.5 1290.6,179.2 1314.6,171.8 1338.7,165.1 1362.8,159.0 1386.9,153.5 1411.0,148.7 1435.1,144.4 1459.2,140.7 1459.2,88.9 1435.1,93.2 1411.0,98.4 1386.9,104.5 1362.8,111.6 1338.7,119.5 1314.6,128.3 1290.6,138.1 1266.5,149.1 1242.4,161.6 1218.3,176.4 1194.2,194.6 1170.1,216.3 1146.0,241.2 1140.0,248.1 1134.9,254.2 1129.7,260.6 1124.6,267.2 1119.4,274.1 1114.3,281.3 1109.1,288.7 1104.0,296.5 1100.0,302.7 1086.6,324.6 1073.2,347.2 1059.8,370.1 1046.3,393.2 1032.9,416.9 1019.5,441.0 1006.1,465.2 992.7,489.3 979.3,513.5 965.9,538.0 952.5,563.4 939.0,589.7 925.6,616.4 912.2,642.2 898.8,665.7" fill="#4fc8ff"/>
<polygon points="898.8,580.8 912.2,557.7 925.6,533.4 939.0,509.0 952.5,485.5 965.9,463.7 979.3,443.4 992.7,424.0 1006.1,405.4 1019.5,387.2 1032.9,369.6 1046.3,352.6 1059.8,336.5 1073.2,321.1 1086.6,306.1 1100.0,291.8 1104.0,287.7 1109.1,282.7 1114.3,277.8 1119.4,273.1 1124.6,268.6 1129.7,264.2 1134.9,260.0 1140.0,255.9 1146.0,251.4 1170.1,234.5 1194.2,219.6 1218.3,206.8 1242.4,196.0 1266.5,186.8 1290.6,178.5 1314.6,171.0 1338.7,164.2 1362.8,158.1 1386.9,152.6 1411.0,147.7 1435.1,143.5 1459.2,139.7 1459.2,88.9 1435.1,93.2 1411.0,98.4 1386.9,104.5 1362.8,111.6 1338.7,119.5 1314.6,128.3 1290.6,138.1 1266.5,149.1 1242.4,161.6 1218.3,176.4 1194.2,194.6 1170.1,216.3 1146.0,241.2 1140.0,248.1 1134.9,254.2 1129.7,260.6 1124.6,267.2 1119.4,274.1 1114.3,281.3 1109.1,288.7 1104.0,296.5 1100.0,302.7 1086.6,324.6 1073.2,347.2 1059.8,370.1 1046.3,393.2 1032.9,416.9 1019.5,441.0 1006.1,465.2 992.7,489.3 979.3,513.5 965.9,538.0 952.5,563.4 939.0,589.7 925.6,616.4 912.2,642.2 898.8,665.7" fill="#52c1ff"/>
<polygon points="898.8,582.5 912.2,559.3 925.6,535.0 939.0,510.5 952.5,487.0 965.9,465.1 979.3,444.7 992.7,425.3 1006.1,406.5 1019.5,388.3 1032.9,370.5 1046.3,353.4 1059.8,337.2 1073.2,321.6 1086.6,306.4 1100.0,292.0 1104.0,287.9 1109.1,282.8 1114.3,277.9 1119.4,273.1 1124.6,268.5 1129.7,264.1 1134.9,259.9 1140.0,255.8 1146.0,251.2 1170.1,234.2 1194.2,219.1 1218.3,206.2 1242.4,195.4 1266.5,186.0 1290.6,177.7 1314.6,170.1 1338.7,163.3 1362.8,157.2 1386.9,151.7 1411.0,146.8 1435.1,142.5 1459.2,138.8 1459.2,88.9 1435.1,93.2 1411.0,98.4 1386.9,104.5 1362.8,111.6 1338.7,119.5 1314.6,128.3 1290.6,138.1 1266.5,149.1 1242.4,161.6 1218.3,176.4 1194.2,194.6 1170.1,216.3 1146.0,241.2 1140.0,248.1 1134.9,254.2 1129.7,260.6 1124.6,267.2 1119.4,274.1 1114.3,281.3 1109.1,288.7 1104.0,296.5 1100.0,302.7 1086.6,324.6 1073.2,347.2 1059.8,370.1 1046.3,393.2 1032.9,416.9 1019.5,441.0 1006.1,465.2 992.7,489.3 979.3,513.5 965.9,538.0 952.5,563.4 939.0,589.7 925.6,616.4 912.2,642.2 898.8,665.7" fill="#54baff"/>
<polygon points="898.8,584.1 912.2,561.0 925.6,536.6 939.0,512.1 952.5,488.5 965.9,466.5 979.3,446.1 992.7,426.6 1006.1,407.7 1019.5,389.3 1032.9,371.4 1046.3,354.2 1059.8,337.8 1073.2,322.1 1086.6,306.8 1100.0,292.2 1104.0,288.1 1109.1,282.9 1114.3,277.9 1119.4,273.1 1124.6,268.5 1129.7,264.1 1134.9,259.8 1140.0,255.6 1146.0,251.0 1170.1,233.8 1194.2,218.6 1218.3,205.6 1242.4,194.7 1266.5,185.3 1290.6,176.9 1314.6,169.3 1338.7,162.5 1362.8,156.3 1386.9,150.8 1411.0,145.8 1435.1,141.5 1459.2,137.8 1459.2,88.9 1435.1,93.2 1411.0,98.4 1386.9,104.5 1362.8,111.6 1338.7,119.5 1314.6,128.3 1290.6,138.1 1266.5,149.1 1242.4,161.6 1218.3,176.4 1194.2,194.6 1170.1,216.3 1146.0,241.2 1140.0,248.1 1134.9,254.2 1129.7,260.6 1124.6,267.2 1119.4,274.1 1114.3,281.3 1109.1,288.7 1104.0,296.5 1100.0,302.7 1086.6,324.6 1073.2,347.2 1059.8,370.1 1046.3,393.2 1032.9,416.9 1019.5,441.0 1006.1,465.2 992.7,489.3 979.3,513.5 965.9,538.0 952.5,563.4 939.0,589.7 925.6,616.4 912.2,642.2 898.8,665.7" fill="#56b3ff"/>
<polygon points="898.8,585.7 912.2,562.6 925.6,538.2 939.0,513.6 952.5,490.0 965.9,467.9 979.3,447.4 992.7,427.8 1006.1,408.8 1019.5,390.3 1032.9,372.3 1046.3,355.0 1059.8,338.5 1073.2,322.6 1086.6,307.1 1100.0,292.4 1104.0,288.2 1109.1,283.0 1114.3,278.0 1119.4,273.2 1124.6,268.5 1129.7,264.0 1134.9,259.7 1140.0,255.5 1146.0,250.8 1170.1,233.5 1194.2,218.1 1218.3,205.0 1242.4,194.1 1266.5,184.6 1290.6,176.1 1314.6,168.5 1338.7,161.6 1362.8,155.4 1386.9,149.8 1411.0,144.9 1435.1,140.6 1459.2,136.8 1459.2,88.9 1435.1,93.2 1411.0,98.4 1386.9,104.5 1362.8,111.6 1338.7,119.5 1314.6,128.3 1290.6,138.1 1266.5,149.1 1242.4,161.6 1218.3,176.4 1194.2,194.6 1170.1,216.3 1146.0,241.2 1140.0,248.1 1134.9,254.2 1129.7,260.6 1124.6,267.2 1119.4,274.1 1114.3,281.3 1109.1,288.7 1104.0,296.5 1100.0,302.7 1086.6,324.6 1073.2,347.2 1059.8,370.1 1046.3,393.2 1032.9,416.9 1019.5,441.0 1006.1,465.2 992.7,489.3 979.3,513.5 965.9,538.0 952.5,563.4 939.0,589.7 925.6,616.4 912.2,642.2 898.8,665.7" fill="#57acff"/>
<polygon points="898.8,587.4 912.2,564.2 925.6,539.8 939.0,515.2 952.5,491.5 965.9,469.4 979.3,448.8 992.7,429.1 1006.1,410.0 1019.5,391.4 1032.9,373.2 1046.3,355.8 1059.8,339.1 1073.2,323.1 1086.6,307.5 1100.0,292.6 1104.0,288.4 1109.1,283.1 1114.3,278.1 1119.4,273.2 1124.6,268.5 1129.7,263.9 1134.9,259.5 1140.0,255.3 1146.0,250.6 1170.1,233.1 1194.2,217.7 1218.3,204.5 1242.4,193.4 1266.5,183.9 1290.6,175.4 1314.6,167.7 1338.7,160.8 1362.8,154.5 1386.9,148.9 1411.0,143.9 1435.1,139.6 1459.2,135.8 1459.2,88.9 1435.1,93.2 1411.0,98.4 1386.9,104.5 1362.8,111.6 1338.7,119.5 1314.6,128.3 1290.6,138.1 1266.5,149.1 1242.4,161.6 1218.3,176.4 1194.2,194.6 1170.1,216.3 1146.0,241.2 1140.0,248.1 1134.9,254.2 1129.7,260.6 1124.6,267.2 1119.4,274.1 1114.3,281.3 1109.1,288.7 1104.0,296.5 1100.0,302.7 1086.6,324.6 1073.2,347.2 1059.8,370.1 1046.3,393.2 1032.9,416.9 1019.5,441.0 1006.1,465.2 992.7,489.3 979.3,513.5 965.9,538.0 952.5,563.4 939.0,589.7 925.6,616.4 912.2,642.2 898.8,665.7" fill="#57a4ff"/>
<polygon points="898.8,589.0 912.2,565.8 925.6,541.4 939.0,516.7 952.5,493.0 965.9,470.8 979.3,450.1 992.7,430.3 1006.1,411.1 1019.5,392.4 1032.9,374.1 1046.3,356.5 1059.8,339.8 1073.2,323.6 1086.6,307.9 1100.0,292.8 1104.0,288.6 1109.1,283.3 1114.3,278.1 1119.4,273.2 1124.6,268.4 1129.7,263.9 1134.9,259.4 1140.0,255.2 1146.0,250.4 1170.1,232.8 1194.2,217.2 1218.3,203.9 1242.4,192.7 1266.5,183.1 1290.6,174.6 1314.6,166.9 1338.7,159.9 1362.8,153.6 1386.9,148.0 1411.0,143.0 1435.1,138.6 1459.2,134.9 1459.2,88.9 1435.1,93.2 1411.0,98.4 1386.9,104.5 1362.8,111.6 1338.7,119.5 1314.6,128.3 1290.6,138.1 1266.5,149.1 1242.4,161.6 1218.3,176.4 1194.2,194.6 1170.1,216.3 1146.0,241.2 1140.0,248.1 1134.9,254.2 1129.7,260.6 1124.6,267.2 1119.4,274.1 1114.3,281.3 1109.1,288.7 1104.0,296.5 1100.0,302.7 1086.6,324.6 1073.2,347.2 1059.8,370.1 1046.3,393.2 1032.9,416.9 1019.5,441.0 1006.1,465.2 992.7,489.3 979.3,513.5 965.9,538.0 952.5,563.4 939.0,589.7 925.6,616.4 912.2,642.2 898.8,665.7" fill="#589dff"/>
<polygon points="898.8,590.6 912.2,567.5 925.6,543.0 939.0,518.3 952.5,494.5 965.9,472.2 979.3,451.5 992.7,431.6 1006.1,412.3 1019.5,393.4 1032.9,375.1 1046.3,357.3 1059.8,340.4 1073.2,324.1 1086.6,308.2 1100.0,293.0 1104.0,288.7 1109.1,283.4 1114.3,278.2 1119.4,273.2 1124.6,268.4 1129.7,263.8 1134.9,259.3 1140.0,255.0 1146.0,250.2 1170.1,232.4 1194.2,216.7 1218.3,203.3 1242.4,192.1 1266.5,182.4 1290.6,173.8 1314.6,166.0 1338.7,159.0 1362.8,152.7 1386.9,147.1 1411.0,142.1 1435.1,137.7 1459.2,133.9 1459.2,88.9 1435.1,93.2 1411.0,98.4 1386.9,104.5 1362.8,111.6 1338.7,119.5 1314.6,128.3 1290.6,138.1 1266.5,149.1 1242.4,161.6 1218.3,176.4 1194.2,194.6 1170.1,216.3 1146.0,241.2 1140.0,248.1 1134.9,254.2 1129.7,260.6 1124.6,267.2 1119.4,274.1 1114.3,281.3 1109.1,288.7 1104.0,296.5 1100.0,302.7 1086.6,324.6 1073.2,347.2 1059.8,370.1 1046.3,393.2 1032.9,416.9 1019.5,441.0 1006.1,465.2 992.7,489.3 979.3,513.5 965.9,538.0 952.5,563.4 939.0,589.7 925.6,616.4 912.2,642.2 898.8,665.7" fill="#5796ff"/>
<polygon points="898.8,592.3 912.2,569.1 925.6,544.5 939.0,519.8 952.5,496.0 965.9,473.7 979.3,452.8 992.7,432.8 1006.1,413.4 1019.5,394.5 1032.9,376.0 1046.3,358.1 1059.8,341.1 1073.2,324.6 1086.6,308.6 1100.0,293.2 1104.0,288.9 1109.1,283.5 1114.3,278.3 1119.4,273.2 1124.6,268.4 1129.7,263.7 1134.9,259.2 1140.0,254.9 1146.0,250.0 1170.1,232.1 1194.2,216.2 1218.3,202.7 1242.4,191.4 1266.5,181.7 1290.6,173.0 1314.6,165.2 1338.7,158.2 1362.8,151.8 1386.9,146.1 1411.0,141.1 1435.1,136.7 1459.2,132.9 1459.2,88.9 1435.1,93.2 1411.0,98.4 1386.9,104.5 1362.8,111.6 1338.7,119.5 1314.6,128.3 1290.6,138.1 1266.5,149.1 1242.4,161.6 1218.3,176.4 1194.2,194.6 1170.1,216.3 1146.0,241.2 1140.0,248.1 1134.9,254.2 1129.7,260.6 1124.6,267.2 1119.4,274.1 1114.3,281.3 1109.1,288.7 1104.0,296.5 1100.0,302.7 1086.6,324.6 1073.2,347.2 1059.8,370.1 1046.3,393.2 1032.9,416.9 1019.5,441.0 1006.1,465.2 992.7,489.3 979.3,513.5 965.9,538.0 952.5,563.4 939.0,589.7 925.6,616.4 912.2,642.2 898.8,665.7" fill="#578fff"/>
<polygon points="898.8,593.9 912.2,570.7 925.6,546.1 939.0,521.4 952.5,497.5 965.9,475.1 979.3,454.2 992.7,434.1 1006.1,414.6 1019.5,395.5 1032.9,376.9 1046.3,358.9 1059.8,341.7 1073.2,325.1 1086.6,308.9 1100.0,293.5 1104.0,289.1 1109.1,283.6 1114.3,278.3 1119.4,273.3 1124.6,268.4 1129.7,263.6 1134.9,259.1 1140.0,254.7 1146.0,249.8 1170.1,231.7 1194.2,215.7 1218.3,202.1 1242.4,190.7 1266.5,181.0 1290.6,172.2 1314.6,164.4 1338.7,157.3 1362.8,150.9 1386.9,145.2 1411.0,140.2 1435.1,135.7 1459.2,131.9 1459.2,88.9 1435.1,93.2 1411.0,98.4 1386.9,104.5 1362.8,111.6 1338.7,119.5 1314.6,128.3 1290.6,138.1 1266.5,149.1 1242.4,161.6 1218.3,176.4 1194.2,194.6 1170.1,216.3 1146.0,241.2 1140.0,248.1 1134.9,254.2 1129.7,260.6 1124.6,267.2 1119.4,274.1 1114.3,281.3 1109.1,288.7 1104.0,296.5 1100.0,302.7 1086.6,324.6 1073.2,347.2 1059.8,370.1 1046.3,393.2 1032.9,416.9 1019.5,441.0 1006.1,465.2 992.7,489.3 979.3,513.5 965.9,538.0 952.5,563.4 939.0,589.7 925.6,616.4 912.2,642.2 898.8,665.7" fill="#5687ff"/>
<polygon points="898.8,595.5 912.2,572.3 925.6,547.7 939.0,522.9 952.5,499.0 965.9,476.5 979.3,455.5 992.7,435.3 1006.1,415.7 1019.5,396.6 1032.9,377.8 1046.3,359.7 1059.8,342.4 1073.2,325.6 1086.6,309.3 1100.0,293.7 1104.0,289.2 1109.1,283.7 1114.3,278.4 1119.4,273.3 1124.6,268.3 1129.7,263.6 1134.9,259.0 1140.0,254.6 1146.0,249.6 1170.1,231.4 1194.2,215.3 1218.3,201.5 1242.4,190.1 1266.5,180.2 1290.6,171.5 1314.6,163.6 1338.7,156.5 1362.8,150.0 1386.9,144.3 1411.0,139.2 1435.1,134.8 1459.2,130.9 1459.2,88.9 1435.1,93.2 1411.0,98.4 1386.9,104.5 1362.8,111.6 1338.7,119.5 1314.6,128.3 1290.6,138.1 1266.5,149.1 1242.4,161.6 1218.3,176.4 1194.2,194.6 1170.1,216.3 1146.0,241.2 1140.0,248.1 1134.9,254.2 1129.7,260.6 1124.6,267.2 1119.4,274.1 1114.3,281.3 1109.1,288.7 1104.0,296.5 1100.0,302.7 1086.6,324.6 1073.2,347.2 1059.8,370.1 1046.3,393.2 1032.9,416.9 1019.5,441.0 1006.1,465.2 992.7,489.3 979.3,513.5 965.9,538.0 952.5,563.4 939.0,589.7 925.6,616.4 912.2,642.2 898.8,665.7" fill="#5580ff"/>
<polygon points="898.8,597.2 912.2,574.0 925.6,549.3 939.0,524.5 952.5,500.5 965.9,477.9 979.3,456.9 992.7,436.6 1006.1,416.9 1019.5,397.6 1032.9,378.7 1046.3,360.4 1059.8,343.0 1073.2,326.1 1086.6,309.6 1100.0,293.9 1104.0,289.4 1109.1,283.8 1114.3,278.5 1119.4,273.3 1124.6,268.3 1129.7,263.5 1134.9,258.9 1140.0,254.4 1146.0,249.4 1170.1,231.0 1194.2,214.8 1218.3,201.0 1242.4,189.4 1266.5,179.5 1290.6,170.7 1314.6,162.8 1338.7,155.6 1362.8,149.1 1386.9,143.4 1411.0,138.3 1435.1,133.8 1459.2,130.0 1459.2,88.9 1435.1,93.2 1411.0,98.4 1386.9,104.5 1362.8,111.6 1338.7,119.5 1314.6,128.3 1290.6,138.1 1266.5,149.1 1242.4,161.6 1218.3,176.4 1194.2,194.6 1170.1,216.3 1146.0,241.2 1140.0,248.1 1134.9,254.2 1129.7,260.6 1124.6,267.2 1119.4,274.1 1114.3,281.3 1109.1,288.7 1104.0,296.5 1100.0,302.7 1086.6,324.6 1073.2,347.2 1059.8,370.1 1046.3,393.2 1032.9,416.9 1019.5,441.0 1006.1,465.2 992.7,489.3 979.3,513.5 965.9,538.0 952.5,563.4 939.0,589.7 925.6,616.4 912.2,642.2 898.8,665.7" fill="#5379ff"/>
<polygon points="898.8,598.8 912.2,575.6 925.6,550.9 939.0,526.1 952.5,502.0 965.9,479.4 979.3,458.2 992.7,437.9 1006.1,418.0 1019.5,398.6 1032.9,379.6 1046.3,361.2 1059.8,343.6 1073.2,326.6 1086.6,310.0 1100.0,294.1 1104.0,289.6 1109.1,284.0 1114.3,278.5 1119.4,273.3 1124.6,268.3 1129.7,263.4 1134.9,258.8 1140.0,254.3 1146.0,249.2 1170.1,230.7 1194.2,214.3 1218.3,200.4 1242.4,188.8 1266.5,178.8 1290.6,169.9 1314.6,161.9 1338.7,154.7 1362.8,148.2 1386.9,142.4 1411.0,137.3 1435.1,132.8 1459.2,129.0 1459.2,88.9 1435.1,93.2 1411.0,98.4 1386.9,104.5 1362.8,111.6 1338.7,119.5 1314.6,128.3 1290.6,138.1 1266.5,149.1 1242.4,161.6 1218.3,176.4 1194.2,194.6 1170.1,216.3 1146.0,241.2 1140.0,248.1 1134.9,254.2 1129.7,260.6 1124.6,267.2 1119.4,274.1 1114.3,281.3 1109.1,288.7 1104.0,296.5 1100.0,302.7 1086.6,324.6 1073.2,347.2 1059.8,370.1 1046.3,393.2 1032.9,416.9 1019.5,441.0 1006.1,465.2 992.7,489.3 979.3,513.5 965.9,538.0 952.5,563.4 939.0,589.7 925.6,616.4 912.2,642.2 898.8,665.7" fill="#5171ff"/>
<polygon points="898.8,600.4 912.2,577.2 925.6,552.5 939.0,527.6 952.5,503.5 965.9,480.8 979.3,459.6 992.7,439.1 1006.1,419.2 1019.5,399.7 1032.9,380.5 1046.3,362.0 1059.8,344.3 1073.2,327.1 1086.6,310.4 1100.0,294.3 1104.0,289.7 1109.1,284.1 1114.3,278.6 1119.4,273.3 1124.6,268.3 1129.7,263.4 1134.9,258.7 1140.0,254.1 1146.0,249.0 1170.1,230.3 1194.2,213.8 1218.3,199.8 1242.4,188.1 1266.5,178.1 1290.6,169.1 1314.6,161.1 1338.7,153.9 1362.8,147.3 1386.9,141.5 1411.0,136.4 1435.1,131.9 1459.2,128.0 1459.2,88.9 1435.1,93.2 1411.0,98.4 1386.9,104.5 1362.8,111.6 1338.7,119.5 1314.6,128.3 1290.6,138.1 1266.5,149.1 1242.4,161.6 1218.3,176.4 1194.2,194.6 1170.1,216.3 1146.0,241.2 1140.0,248.1 1134.9,254.2 1129.7,260.6 1124.6,267.2 1119.4,274.1 1114.3,281.3 1109.1,288.7 1104.0,296.5 1100.0,302.7 1086.6,324.6 1073.2,347.2 1059.8,370.1 1046.3,393.2 1032.9,416.9 1019.5,441.0 1006.1,465.2 992.7,489.3 979.3,513.5 965.9,538.0 952.5,563.4 939.0,589.7 925.6,616.4 912.2,642.2 898.8,665.7" fill="#4e6aff"/>
<polygon points="898.8,602.1 912.2,578.8 925.6,554.1 939.0,529.2 952.5,505.0 965.9,482.2 979.3,460.9 992.7,440.4 1006.1,420.3 1019.5,400.7 1032.9,381.4 1046.3,362.8 1059.8,344.9 1073.2,327.6 1086.6,310.7 1100.0,294.5 1104.0,289.9 1109.1,284.2 1114.3,278.7 1119.4,273.3 1124.6,268.2 1129.7,263.3 1134.9,258.5 1140.0,254.0 1146.0,248.8 1170.1,230.0 1194.2,213.3 1218.3,199.2 1242.4,187.4 1266.5,177.3 1290.6,168.4 1314.6,160.3 1338.7,153.0 1362.8,146.4 1386.9,140.6 1411.0,135.4 1435.1,130.9 1459.2,127.0 1459.2,88.9 1435.1,93.2 1411.0,98.4 1386.9,104.5 1362.8,111.6 1338.7,119.5 1314.6,128.3 1290.6,138.1 1266.5,149.1 1242.4,161.6 1218.3,176.4 1194.2,194.6 1170.1,216.3 1146.0,241.2 1140.0,248.1 1134.9,254.2 1129.7,260.6 1124.6,267.2 1119.4,274.1 1114.3,281.3 1109.1,288.7 1104.0,296.5 1100.0,302.7 1086.6,324.6 1073.2,347.2 1059.8,370.1 1046.3,393.2 1032.9,416.9 1019.5,441.0 1006.1,465.2 992.7,489.3 979.3,513.5 965.9,538.0 952.5,563.4 939.0,589.7 925.6,616.4 912.2,642.2 898.8,665.7" fill="#4b62ff"/>
<polygon points="898.8,603.7 912.2,580.5 925.6,555.7 939.0,530.7 952.5,506.5 965.9,483.7 979.3,462.3 992.7,441.6 1006.1,421.5 1019.5,401.7 1032.9,382.3 1046.3,363.6 1059.8,345.6 1073.2,328.1 1086.6,311.1 1100.0,294.7 1104.0,290.1 1109.1,284.3 1114.3,278.7 1119.4,273.4 1124.6,268.2 1129.7,263.2 1134.9,258.4 1140.0,253.8 1146.0,248.6 1170.1,229.6 1194.2,212.9 1218.3,198.6 1242.4,186.8 1266.5,176.6 1290.6,167.6 1314.6,159.5 1338.7,152.2 1362.8,145.6 1386.9,139.7 1411.0,134.5 1435.1,129.9 1459.2,126.1 1459.2,88.9 1435.1,93.2 1411.0,98.4 1386.9,104.5 1362.8,111.6 1338.7,119.5 1314.6,128.3 1290.6,138.1 1266.5,149.1 1242.4,161.6 1218.3,176.4 1194.2,194.6 1170.1,216.3 1146.0,241.2 1140.0,248.1 1134.9,254.2 1129.7,260.6 1124.6,267.2 1119.4,274.1 1114.3,281.3 1109.1,288.7 1104.0,296.5 1100.0,302.7 1086.6,324.6 1073.2,347.2 1059.8,370.1 1046.3,393.2 1032.9,416.9 1019.5,441.0 1006.1,465.2 992.7,489.3 979.3,513.5 965.9,538.0 952.5,563.4 939.0,589.7 925.6,616.4 912.2,642.2 898.8,665.7" fill="#485aff"/>
<polygon points="898.8,605.3 912.2,582.1 925.6,557.3 939.0,532.3 952.5,508.0 965.9,485.1 979.3,463.6 992.7,442.9 1006.1,422.6 1019.5,402.8 1032.9,383.2 1046.3,364.3 1059.8,346.2 1073.2,328.6 1086.6,311.4 1100.0,294.9 1104.0,290.3 1109.1,284.4 1114.3,278.8 1119.4,273.4 1124.6,268.2 1129.7,263.2 1134.9,258.3 1140.0,253.7 1146.0,248.4 1170.1,229.3 1194.2,212.4 1218.3,198.0 1242.4,186.1 1266.5,175.9 1290.6,166.8 1314.6,158.7 1338.7,151.3 1362.8,144.7 1386.9,138.7 1411.0,133.5 1435.1,129.0 1459.2,125.1 1459.2,88.9 1435.1,93.2 1411.0,98.4 1386.9,104.5 1362.8,111.6 1338.7,119.5 1314.6,128.3 1290.6,138.1 1266.5,149.1 1242.4,161.6 1218.3,176.4 1194.2,194.6 1170.1,216.3 1146.0,241.2 1140.0,248.1 1134.9,254.2 1129.7,260.6 1124.6,267.2 1119.4,274.1 1114.3,281.3 1109.1,288.7 1104.0,296.5 1100.0,302.7 1086.6,324.6 1073.2,347.2 1059.8,370.1 1046.3,393.2 1032.9,416.9 1019.5,441.0 1006.1,465.2 992.7,489.3 979.3,513.5 965.9,538.0 952.5,563.4 939.0,589.7 925.6,616.4 912.2,642.2 898.8,665.7" fill="#4452ff"/>
<polygon points="898.8,607.0 912.2,583.7 925.6,558.9 939.0,533.8 952.5,509.5 965.9,486.5 979.3,465.0 992.7,444.1 1006.1,423.8 1019.5,403.8 1032.9,384.1 1046.3,365.1 1059.8,346.9 1073.2,329.1 1086.6,311.8 1100.0,295.1 1104.0,290.4 1109.1,284.5 1114.3,278.9 1119.4,273.4 1124.6,268.1 1129.7,263.1 1134.9,258.2 1140.0,253.5 1146.0,248.2 1170.1,228.9 1194.2,211.9 1218.3,197.4 1242.4,185.5 1266.5,175.2 1290.6,166.0 1314.6,157.8 1338.7,150.4 1362.8,143.8 1386.9,137.8 1411.0,132.6 1435.1,128.0 1459.2,124.1 1459.2,88.9 1435.1,93.2 1411.0,98.4 1386.9,104.5 1362.8,111.6 1338.7,119.5 1314.6,128.3 1290.6,138.1 1266.5,149.1 1242.4,161.6 1218.3,176.4 1194.2,194.6 1170.1,216.3 1146.0,241.2 1140.0,248.1 1134.9,254.2 1129.7,260.6 1124.6,267.2 1119.4,274.1 1114.3,281.3 1109.1,288.7 1104.0,296.5 1100.0,302.7 1086.6,324.6 1073.2,347.2 1059.8,370.1 1046.3,393.2 1032.9,416.9 1019.5,441.0 1006.1,465.2 992.7,489.3 979.3,513.5 965.9,538.0 952.5,563.4 939.0,589.7 925.6,616.4 912.2,642.2 898.8,665.7" fill="#3f4aff"/>
<polygon points="898.8,608.6 912.2,585.3 925.6,560.5 939.0,535.4 952.5,511.0 965.9,487.9 979.3,466.3 992.7,445.4 1006.1,424.9 1019.5,404.8 1032.9,385.1 1046.3,365.9 1059.8,347.5 1073.2,329.6 1086.6,312.1 1100.0,295.3 1104.0,290.6 1109.1,284.7 1114.3,278.9 1119.4,273.4 1124.6,268.1 1129.7,263.0 1134.9,258.1 1140.0,253.4 1146.0,248.0 1170.1,228.6 1194.2,211.4 1218.3,196.9 1242.4,184.8 1266.5,174.4 1290.6,165.3 1314.6,157.0 1338.7,149.6 1362.8,142.9 1386.9,136.9 1411.0,131.6 1435.1,127.0 1459.2,123.1 1459.2,88.9 1435.1,93.2 1411.0,98.4 1386.9,104.5 1362.8,111.6 1338.7,119.5 1314.6,128.3 1290.6,138.1 1266.5,149.1 1242.4,161.6 1218.3,176.4 1194.2,194.6 1170.1,216.3 1146.0,241.2 1140.0,248.1 1134.9,254.2 1129.7,260.6 1124.6,267.2 1119.4,274.1 1114.3,281.3 1109.1,288.7 1104.0,296.5 1100.0,302.7 1086.6,324.6 1073.2,347.2 1059.8,370.1 1046.3,393.2 1032.9,416.9 1019.5,441.0 1006.1,465.2 992.7,489.3 979.3,513.5 965.9,538.0 952.5,563.4 939.0,589.7 925.6,616.4 912.2,642.2 898.8,665.7" fill="#3a41ff"/>
<polygon points="898.8,610.2 912.2,587.0 925.6,562.1 939.0,536.9 952.5,512.5 965.9,489.4 979.3,467.7 992.7,446.6 1006.1,426.1 1019.5,405.9 1032.9,386.0 1046.3,366.7 1059.8,348.2 1073.2,330.1 1086.6,312.5 1100.0,295.6 1104.0,290.8 1109.1,284.8 1114.3,279.0 1119.4,273.4 1124.6,268.1 1129.7,262.9 1134.9,258.0 1140.0,253.2 1146.0,247.8 1170.1,228.2 1194.2,210.9 1218.3,196.3 1242.4,184.1 1266.5,173.7 1290.6,164.5 1314.6,156.2 1338.7,148.7 1362.8,142.0 1386.9,136.0 1411.0,130.7 1435.1,126.1 1459.2,122.1 1459.2,88.9 1435.1,93.2 1411.0,98.4 1386.9,104.5 1362.8,111.6 1338.7,119.5 1314.6,128.3 1290.6,138.1 1266.5,149.1 1242.4,161.6 1218.3,176.4 1194.2,194.6 1170.1,216.3 1146.0,241.2 1140.0,248.1 1134.9,254.2 1129.7,260.6 1124.6,267.2 1119.4,274.1 1114.3,281.3 1109.1,288.7 1104.0,296.5 1100.0,302.7 1086.6,324.6 1073.2,347.2 1059.8,370.1 1046.3,393.2 1032.9,416.9 1019.5,441.0 1006.1,465.2 992.7,489.3 979.3,513.5 965.9,538.0 952.5,563.4 939.0,589.7 925.6,616.4 912.2,642.2 898.8,665.7" fill="#3337ff"/>
<polygon points="898.8,611.8 912.2,588.6 925.6,563.7 939.0,538.5 952.5,514.0 965.9,490.8 979.3,469.0 992.7,447.9 1006.1,427.2 1019.5,406.9 1032.9,386.9 1046.3,367.5 1059.8,348.8 1073.2,330.6 1086.6,312.9 1100.0,295.8 1104.0,290.9 1109.1,284.9 1114.3,279.1 1119.4,273.5 1124.6,268.1 1129.7,262.9 1134.9,257.9 1140.0,253.1 1146.0,247.6 1170.1,227.8 1194.2,210.4 1218.3,195.7 1242.4,183.5 1266.5,173.0 1290.6,163.7 1314.6,155.4 1338.7,147.9 1362.8,141.1 1386.9,135.0 1411.0,129.7 1435.1,125.1 1459.2,121.2 1459.2,88.9 1435.1,93.2 1411.0,98.4 1386.9,104.5 1362.8,111.6 1338.7,119.5 1314.6,128.3 1290.6,138.1 1266.5,149.1 1242.4,161.6 1218.3,176.4 1194.2,194.6 1170.1,216.3 1146.0,241.2 1140.0,248.1 1134.9,254.2 1129.7,260.6 1124.6,267.2 1119.4,274.1 1114.3,281.3 1109.1,288.7 1104.0,296.5 1100.0,302.7 1086.6,324.6 1073.2,347.2 1059.8,370.1 1046.3,393.2 1032.9,416.9 1019.5,441.0 1006.1,465.2 992.7,489.3 979.3,513.5 965.9,538.0 952.5,563.4 939.0,589.7 925.6,616.4 912.2,642.2 898.8,665.7" fill="#2b2dff"/>
<polygon points="898.8,613.5 912.2,590.2 925.6,565.3 939.0,540.0 952.5,515.5 965.9,492.2 979.3,470.4 992.7,449.2 1006.1,428.4 1019.5,407.9 1032.9,387.8 1046.3,368.2 1059.8,349.4 1073.2,331.1 1086.6,313.2 1100.0,296.0 1104.0,291.1 1109.1,285.0 1114.3,279.1 1119.4,273.5 1124.6,268.0 1129.7,262.8 1134.9,257.8 1140.0,252.9 1146.0,247.5 1170.1,227.5 1194.2,210.0 1218.3,195.1 1242.4,182.8 1266.5,172.3 1290.6,162.9 1314.6,154.5 1338.7,147.0 1362.8,140.2 1386.9,134.1 1411.0,128.8 1435.1,124.1 1459.2,120.2 1459.2,88.9 1435.1,93.2 1411.0,98.4 1386.9,104.5 1362.8,111.6 1338.7,119.5 1314.6,128.3 1290.6,138.1 1266.5,149.1 1242.4,161.6 1218.3,176.4 1194.2,194.6 1170.1,216.3 1146.0,241.2 1140.0,248.1 1134.9,254.2 1129.7,260.6 1124.6,267.2 1119.4,274.1 1114.3,281.3 1109.1,288.7 1104.0,296.5 1100.0,302.7 1086.6,324.6 1073.2,347.2 1059.8,370.1 1046.3,393.2 1032.9,416.9 1019.5,441.0 1006.1,465.2 992.7,489.3 979.3,513.5 965.9,538.0 952.5,563.4 939.0,589.7 925.6,616.4 912.2,642.2 898.8,665.7" fill="#2120ff"/>
<polygon points="898.8,615.1 912.2,591.8 925.6,566.9 939.0,541.6 952.5,517.0 965.9,493.7 979.3,471.7 992.7,450.4 1006.1,429.5 1019.5,409.0 1032.9,388.7 1046.3,369.0 1059.8,350.1 1073.2,331.6 1086.6,313.6 1100.0,296.2 1104.0,291.3 1109.1,285.1 1114.3,279.2 1119.4,273.5 1124.6,268.0 1129.7,262.7 1134.9,257.7 1140.0,252.8 1146.0,247.3 1170.1,227.1 1194.2,209.5 1218.3,194.5 1242.4,182.1 1266.5,171.6 1290.6,162.2 1314.6,153.7 1338.7,146.1 1362.8,139.3 1386.9,133.2 1411.0,127.8 1435.1,123.2 1459.2,119.2 1459.2,88.9 1435.1,93.2 1411.0,98.4 1386.9,104.5 1362.8,111.6 1338.7,119.5 1314.6,128.3 1290.6,138.1 1266.5,149.1 1242.4,161.6 1218.3,176.4 1194.2,194.6 1170.1,216.3 1146.0,241.2 1140.0,248.1 1134.9,254.2 1129.7,260.6 1124.6,267.2 1119.4,274.1 1114.3,281.3 1109.1,288.7 1104.0,296.5 1100.0,302.7 1086.6,324.6 1073.2,347.2 1059.8,370.1 1046.3,393.2 1032.9,416.9 1019.5,441.0 1006.1,465.2 992.7,489.3 979.3,513.5 965.9,538.0 952.5,563.4 939.0,589.7 925.6,616.4 912.2,642.2 898.8,665.7" fill="#100fff"/>
<polygon points="898.8,616.7 912.2,593.5 925.6,568.5 939.0,543.1 952.5,518.5 965.9,495.1 979.3,473.1 992.7,451.7 1006.1,430.7 1019.5,410.0 1032.9,389.6 1046.3,369.8 1059.8,350.7 1073.2,332.1 1086.6,313.9 1100.0,296.4 1104.0,291.4 1109.1,285.2 1114.3,279.3 1119.4,273.5 1124.6,268.0 1129.7,262.7 1134.9,257.5 1140.0,252.6 1146.0,247.1 1170.1,226.8 1194.2,209.0 1218.3,193.9 1242.4,181.5 1266.5,170.8 1290.6,161.4 1314.6,152.9 1338.7,145.3 1362.8,138.4 1386.9,132.3 1411.0,126.9 1435.1,122.2 1459.2,118.2 1459.2,88.9 1435.1,93.2 1411.0,98.4 1386.9,104.5 1362.8,111.6 1338.7,119.5 1314.6,128.3 1290.6,138.1 1266.5,149.1 1242.4,161.6 1218.3,176.4 1194.2,194.6 1170.1,216.3 1146.0,241.2 1140.0,248.1 1134.9,254.2 1129.7,260.6 1124.6,267.2 1119.4,274.1 1114.3,281.3 1109.1,288.7 1104.0,296.5 1100.0,302.7 1086.6,324.6 1073.2,347.2 1059.8,370.1 1046.3,393.2 1032.9,416.9 1019.5,441.0 1006.1,465.2 992.7,489.3 979.3,513.5 965.9,538.0 952.5,563.4 939.0,589.7 925.6,616.4 912.2,642.2 898.8,665.7" fill="#1b00ff"/>
<polygon points="898.8,618.4 912.2,595.1 925.6,570.1 939.0,544.7 952.5,519.9 965.9,496.5 979.3,474.4 992.7,452.9 1006.1,431.8 1019.5,411.0 1032.9,390.5 1046.3,370.6 1059.8,351.4 1073.2,332.6 1086.6,314.3 1100.0,296.6 1104.0,291.6 1109.1,285.4 1114.3,279.3 1119.4,273.5 1124.6,268.0 1129.7,262.6 1134.9,257.4 1140.0,252.5 1146.0,246.9 1170.1,226.4 1194.2,208.5 1218.3,193.4 1242.4,180.8 1266.5,170.1 1290.6,160.6 1314.6,152.1 1338.7,144.4 1362.8,137.5 1386.9,131.3 1411.0,125.9 1435.1,121.2 1459.2,117.3 1459.2,88.9 1435.1,93.2 1411.0,98.4 1386.9,104.5 1362.8,111.6 1338.7,119.5 1314.6,128.3 1290.6,138.1 1266.5,149.1 1242.4,161.6 1218.3,176.4 1194.2,194.6 1170.1,216.3 1146.0,241.2 1140.0,248.1 1134.9,254.2 1129.7,260.6 1124.6,267.2 1119.4,274.1 1114.3,281.3 1109.1,288.7 1104.0,296.5 1100.0,302.7 1086.6,324.6 1073.2,347.2 1059.8,370.1 1046.3,393.2 1032.9,416.9 1019.5,441.0 1006.1,465.2 992.7,489.3 979.3,513.5 965.9,538.0 952.5,563.4 939.0,589.7 925.6,616.4 912.2,642.2 898.8,665.7" fill="#3300ff"/>
<polygon points="898.8,620.0 912.2,596.7 925.6,571.7 939.0,546.2 952.5,521.4 965.9,498.0 979.3,475.8 992.7,454.2 1006.1,433.0 1019.5,412.1 1032.9,391.4 1046.3,371.3 1059.8,352.0 1073.2,333.1 1086.6,314.6 1100.0,296.8 1104.0,291.8 1109.1,285.5 1114.3,279.4 1119.4,273.6 1124.6,267.9 1129.7,262.5 1134.9,257.3 1140.0,252.3 1146.0,246.7 1170.1,226.1 1194.2,208.0 1218.3,192.8 1242.4,180.2 1266.5,169.4 1290.6,159.8 1314.6,151.3 1338.7,143.6 1362.8,136.6 1386.9,130.4 1411.0,125.0 1435.1,120.3 1459.2,116.3 1459.2,88.9 1435.1,93.2 1411.0,98.4 1386.9,104.5 1362.8,111.6 1338.7,119.5 1314.6,128.3 1290.6,138.1 1266.5,149.1 1242.4,161.6 1218.3,176.4 1194.2,194.6 1170.1,216.3 1146.0,241.2 1140.0,248.1 1134.9,254.2 1129.7,260.6 1124.6,267.2 1119.4,274.1 1114.3,281.3 1109.1,288.7 1104.0,296.5 1100.0,302.7 1086.6,324.6 1073.2,347.2 1059.8,370.1 1046.3,393.2 1032.9,416.9 1019.5,441.0 1006.1,465.2 992.7,489.3 979.3,513.5 965.9,538.0 952.5,563.4 939.0,589.7 925.6,616.4 912.2,642.2 898.8,665.7" fill="#4300ff"/>
<polygon points="898.8,621.6 912.2,598.3 925.6,573.3 939.0,547.8 952.5,522.9 965.9,499.4 979.3,477.1 992.7,455.4 1006.1,434.1 1019.5,413.1 1032.9,392.3 1046.3,372.1 1059.8,352.7 1073.2,333.7 1086.6,315.0 1100.0,297.0 1104.0,291.9 1109.1,285.6 1114.3,279.5 1119.4,273.6 1124.6,267.9 1129.7,262.5 1134.9,257.2 1140.0,252.1 1146.0,246.5 1170.1,225.7 1194.2,207.6 1218.3,192.2 1242.4,179.5 1266.5,168.7 1290.6,159.0 1314.6,150.4 1338.7,142.7 1362.8,135.7 1386.9,129.5 1411.0,124.0 1435.1,119.3 1459.2,115.3 1459.2,88.9 1435.1,93.2 1411.0,98.4 1386.9,104.5 1362.8,111.6 1338.7,119.5 1314.6,128.3 1290.6,138.1 1266.5,149.1 1242.4,161.6 1218.3,176.4 1194.2,194.6 1170.1,216.3 1146.0,241.2 1140.0,248.1 1134.9,254.2 1129.7,260.6 1124.6,267.2 1119.4,274.1 1114.3,281.3 1109.1,288.7 1104.0,296.5 1100.0,302.7 1086.6,324.6 1073.2,347.2 1059.8,370.1 1046.3,393.2 1032.9,416.9 1019.5,441.0 1006.1,465.2 992.7,489.3 979.3,513.5 965.9,538.0 952.5,563.4 939.0,589.7 925.6,616.4 912.2,642.2 898.8,665.7" fill="#5000ff"/>
<polygon points="898.8,623.3 912.2,600.0 925.6,574.9 939.0,549.3 952.5,524.4 965.9,500.8 979.3,478.5 992.7,456.7 1006.1,435.3 1019.5,414.1 1032.9,393.2 1046.3,372.9 1059.8,353.3 1073.2,334.2 1086.6,315.4 1100.0,297.2 1104.0,292.1 1109.1,285.7 1114.3,279.5 1119.4,273.6 1124.6,267.9 1129.7,262.4 1134.9,257.1 1140.0,252.0 1146.0,246.3 1170.1,225.4 1194.2,207.1 1218.3,191.6 1242.4,178.8 1266.5,167.9 1290.6,158.3 1314.6,149.6 1338.7,141.8 1362.8,134.8 1386.9,128.6 1411.0,123.1 1435.1,118.3 1459.2,114.3 1459.2,88.9 1435.1,93.2 1411.0,98.4 1386.9,104.5 1362.8,111.6 1338.7,119.5 1314.6,128.3 1290.6,138.1 1266.5,149.1 1242.4,161.6 1218.3,176.4 1194.2,194.6 1170.1,216.3 1146.0,241.2 1140.0,248.1 1134.9,254.2 1129.7,260.6 1124.6,267.2 1119.4,274.1 1114.3,281.3 1109.1,288.7 1104.0,296.5 1100.0,302.7 1086.6,324.6 1073.2,347.2 1059.8,370.1 1046.3,393.2 1032.9,416.9 1019.5,441.0 1006.1,465.2 992.7,489.3 979.3,513.5 965.9,538.0 952.5,563.4 939.0,589.7 925.6,616.4 912.2,642.2 898.8,665.7" fill="#5b00ff"/>
<polygon points="898.8,624.9 912.2,601.6 925.6,576.5 939.0,550.9 952.5,525.9 965.9,502.2 979.3,479.8 992.7,457.9 1006.1,436.4 1019.5,415.2 1032.9,394.2 1046.3,373.7 1059.8,354.0 1073.2,334.7 1086.6,315.7 1100.0,297.4 1104.0,292.3 1109.1,285.8 1114.3,279.6 1119.4,273.6 1124.6,267.9 1129.7,262.3 1134.9,257.0 1140.0,251.8 1146.0,246.1 1170.1,225.0 1194.2,206.6 1218.3,191.0 1242.4,178.2 1266.5,167.2 1290.6,157.5 1314.6,148.8 1338.7,141.0 1362.8,133.9 1386.9,127.6 1411.0,122.1 1435.1,117.4 1459.2,113.4 1459.2,88.9 1435.1,93.2 1411.0,98.4 1386.9,104.5 1362.8,111.6 1338.7,119.5 1314.6,128.3 1290.6,138.1 1266.5,149.1 1242.4,161.6 1218.3,176.4 1194.2,194.6 1170.1,216.3 1146.0,241.2 1140.0,248.1 1134.9,254.2 1129.7,260.6 1124.6,267.2 1119.4,274.1 1114.3,281.3 1109.1,288.7 1104.0,296.5 1100.0,302.7 1086.6,324.6 1073.2,347.2 1059.8,370.1 1046.3,393.2 1032.9,416.9 1019.5,441.0 1006.1,465.2 992.7,489.3 979.3,513.5 965.9,538.0 952.5,563.4 939.0,589.7 925.6,616.4 912.2,642.2 898.8,665.7" fill="#6500ff"/>
<polygon points="898.8,626.5 912.2,603.2 925.6,578.1 939.0,552.5 952.5,527.4 965.9,503.7 979.3,481.2 992.7,459.2 1006.1,437.6 1019.5,416.2 1032.9,395.1 1046.3,374.5 1059.8,354.6 1073.2,335.2 1086.6,316.1 1100.0,297.7 1104.0,292.4 1109.1,285.9 1114.3,279.7 1119.4,273.6 1124.6,267.8 1129.7,262.2 1134.9,256.9 1140.0,251.7 1146.0,245.9 1170.1,224.7 1194.2,206.1 1218.3,190.4 1242.4,177.5 1266.5,166.5 1290.6,156.7 1314.6,148.0 1338.7,140.1 1362.8,133.0 1386.9,126.7 1411.0,121.2 1435.1,116.4 1459.2,112.4 1459.2,88.9 1435.1,93.2 1411.0,98.4 1386.9,104.5 1362.8,111.6 1338.7,119.5 1314.6,128.3 1290.6,138.1 1266.5,149.1 1242.4,161.6 1218.3,176.4 1194.2,194.6 1170.1,216.3 1146.0,241.2 1140.0,248.1 1134.9,254.2 1129.7,260.6 1124.6,267.2 1119.4,274.1 1114.3,281.3 1109.1,288.7 1104.0,296.5 1100.0,302.7 1086.6,324.6 1073.2,347.2 1059.8,370.1 1046.3,393.2 1032.9,416.9 1019.5,441.0 1006.1,465.2 992.7,489.3 979.3,513.5 965.9,538.0 952.5,563.4 939.0,589.7 925.6,616.4 912.2,642.2 898.8,665.7" fill="#6e00ff"/>
<polygon points="898.8,628.2 912.2,604.8 925.6,579.7 939.0,554.0 952.5,528.9 965.9,505.1 979.3,482.5 992.7,460.5 1006.1,438.7 1019.5,417.2 1032.9,396.0 1046.3,375.2 1059.8,355.2 1073.2,335.7 1086.6,316.4 1100.0,297.9 1104.0,292.6 1109.1,286.1 1114.3,279.7 1119.4,273.6 1124.6,267.8 1129.7,262.2 1134.9,256.8 1140.0,251.5 1146.0,245.7 1170.1,224.3 1194.2,205.6 1218.3,189.9 1242.4,176.8 1266.5,165.8 1290.6,155.9 1314.6,147.2 1338.7,139.3 1362.8,132.1 1386.9,125.8 1411.0,120.2 1435.1,115.4 1459.2,111.4 1459.2,88.9 1435.1,93.2 1411.0,98.4 1386.9,104.5 1362.8,111.6 1338.7,119.5 1314.6,128.3 1290.6,138.1 1266.5,149.1 1242.4,161.6 1218.3,176.4 1194.2,194.6 1170.1,216.3 1146.0,241.2 1140.0,248.1 1134.9,254.2 1129.7,260.6 1124.6,267.2 1119.4,274.1 1114.3,281.3 1109.1,288.7 1104.0,296.5 1100.0,302.7 1086.6,324.6 1073.2,347.2 1059.8,370.1 1046.3,393.2 1032.9,416.9 1019.5,441.0 1006.1,465.2 992.7,489.3 979.3,513.5 965.9,538.0 952.5,563.4 939.0,589.7 925.6,616.4 912.2,642.2 898.8,665.7" fill="#7600ff"/>
<polygon points="898.8,629.8 912.2,606.5 925.6,581.3 939.0,555.6 952.5,530.4 965.9,506.5 979.3,483.8 992.7,461.7 1006.1,439.9 1019.5,418.3 1032.9,396.9 1046.3,376.0 1059.8,355.9 1073.2,336.2 1086.6,316.8 1100.0,298.1 1104.0,292.8 1109.1,286.2 1114.3,279.8 1119.4,273.7 1124.6,267.8 1129.7,262.1 1134.9,256.6 1140.0,251.4 1146.0,245.5 1170.1,224.0 1194.2,205.2 1218.3,189.3 1242.4,176.2 1266.5,165.0 1290.6,155.2 1314.6,146.3 1338.7,138.4 1362.8,131.2 1386.9,124.9 1411.0,119.3 1435.1,114.5 1459.2,110.4 1459.2,88.9 1435.1,93.2 1411.0,98.4 1386.9,104.5 1362.8,111.6 1338.7,119.5 1314.6,128.3 1290.6,138.1 1266.5,149.1 1242.4,161.6 1218.3,176.4 1194.2,194.6 1170.1,216.3 1146.0,241.2 1140.0,248.1 1134.9,254.2 1129.7,260.6 1124.6,267.2 1119.4,274.1 1114.3,281.3 1109.1,288.7 1104.0,296.5 1100.0,302.7 1086.6,324.6 1073.2,347.2 1059.8,370.1 1046.3,393.2 1032.9,416.9 1019.5,441.0 1006.1,465.2 992.7,489.3 979.3,513.5 965.9,538.0 952.5,563.4 939.0,589.7 925.6,616.4 912.2,642.2 898.8,665.7" fill="#7e00ff"/>
<polygon points="898.8,631.4 912.2,608.1 925.6,582.8 939.0,557.1 952.5,531.9 965.9,508.0 979.3,485.2 992.7,463.0 1006.1,441.0 1019.5,419.3 1032.9,397.8 1046.3,376.8 1059.8,356.5 1073.2,336.7 1086.6,317.1 1100.0,298.3 1104.0,292.9 1109.1,286.3 1114.3,279.9 1119.4,273.7 1124.6,267.7 1129.7,262.0 1134.9,256.5 1140.0,251.2 1146.0,245.3 1170.1,223.6 1194.2,204.7 1218.3,188.7 1242.4,175.5 1266.5,164.3 1290.6,154.4 1314.6,145.5 1338.7,137.5 1362.8,130.3 1386.9,123.9 1411.0,118.3 1435.1,113.5 1459.2,109.4 1459.2,88.9 1435.1,93.2 1411.0,98.4 1386.9,104.5 1362.8,111.6 1338.7,119.5 1314.6,128.3 1290.6,138.1 1266.5,149.1 1242.4,161.6 1218.3,176.4 1194.2,194.6 1170.1,216.3 1146.0,241.2 1140.0,248.1 1134.9,254.2 1129.7,260.6 1124.6,267.2 1119.4,274.1 1114.3,281.3 1109.1,288.7 1104.0,296.5 1100.0,302.7 1086.6,324.6 1073.2,347.2 1059.8,370.1 1046.3,393.2 1032.9,416.9 1019.5,441.0 1006.1,465.2 992.7,489.3 979.3,513.5 965.9,538.0 952.5,563.4 939.0,589.7 925.6,616.4 912.2,642.2 898.8,665.7" fill="#8600ff"/>
<polygon points="898.8,633.1 912.2,609.7 925.6,584.4 939.0,558.7 952.5,533.4 965.9,509.4 979.3,486.5 992.7,464.2 1006.1,442.2 1019.5,420.3 1032.9,398.7 1046.3,377.6 1059.8,357.2 1073.2,337.2 1086.6,317.5 1100.0,298.5 1104.0,293.1 1109.1,286.4 1114.3,279.9 1119.4,273.7 1124.6,267.7 1129.7,262.0 1134.9,256.4 1140.0,251.1 1146.0,245.1 1170.1,223.3 1194.2,204.2 1218.3,188.1 1242.4,174.9 1266.5,163.6 1290.6,153.6 1314.6,144.7 1338.7,136.7 1362.8,129.5 1386.9,123.0 1411.0,117.4 1435.1,112.5 1459.2,108.5 1459.2,88.9 1435.1,93.2 1411.0,98.4 1386.9,104.5 1362.8,111.6 1338.7,119.5 1314.6,128.3 1290.6,138.1 1266.5,149.1 1242.4,161.6 1218.3,176.4 1194.2,194.6 1170.1,216.3 1146.0,241.2 1140.0,248.1 1134.9,254.2 1129.7,260.6 1124.6,267.2 1119.4,274.1 1114.3,281.3 1109.1,288.7 1104.0,296.5 1100.0,302.7 1086.6,324.6 1073.2,347.2 1059.8,370.1 1046.3,393.2 1032.9,416.9 1019.5,441.0 1006.1,465.2 992.7,489.3 979.3,513.5 965.9,538.0 952.5,563.4 939.0,589.7 925.6,616.4 912.2,642.2 898.8,665.7" fill="#8d00ff"/>
<polygon points="898.8,634.7 912.2,611.3 925.6,586.0 939.0,560.2 952.5,534.9 965.9,510.8 979.3,487.9 992.7,465.5 1006.1,443.3 1019.5,421.4 1032.9,399.6 1046.3,378.4 1059.8,357.8 1073.2,337.7 1086.6,317.8 1100.0,298.7 1104.0,293.3 1109.1,286.5 1114.3,280.0 1119.4,273.7 1124.6,267.7 1129.7,261.9 1134.9,256.3 1140.0,250.9 1146.0,244.9 1170.1,222.9 1194.2,203.7 1218.3,187.5 1242.4,174.2 1266.5,162.9 1290.6,152.8 1314.6,143.9 1338.7,135.8 1362.8,128.6 1386.9,122.1 1411.0,116.4 1435.1,111.5 1459.2,107.5 1459.2,88.9 1435.1,93.2 1411.0,98.4 1386.9,104.5 1362.8,111.6 1338.7,119.5 1314.6,128.3 1290.6,138.1 1266.5,149.1 1242.4,161.6 1218.3,176.4 1194.2,194.6 1170.1,216.3 1146.0,241.2 1140.0,248.1 1134.9,254.2 1129.7,260.6 1124.6,267.2 1119.4,274.1 1114.3,281.3 1109.1,288.7 1104.0,296.5 1100.0,302.7 1086.6,324.6 1073.2,347.2 1059.8,370.1 1046.3,393.2 1032.9,416.9 1019.5,441.0 1006.1,465.2 992.7,489.3 979.3,513.5 965.9,538.0 952.5,563.4 939.0,589.7 925.6,616.4 912.2,642.2 898.8,665.7" fill="#9400ff"/>
<polygon points="898.8,636.3 912.2,612.9 925.6,587.6 939.0,561.8 952.5,536.4 965.9,512.2 979.3,489.2 992.7,466.7 1006.1,444.5 1019.5,422.4 1032.9,400.5 1046.3,379.1 1059.8,358.5 1073.2,338.2 1086.6,318.2 1100.0,298.9 1104.0,293.5 1109.1,286.6 1114.3,280.1 1119.4,273.7 1124.6,267.7 1129.7,261.8 1134.9,256.2 1140.0,250.8 1146.0,244.7 1170.1,222.6 1194.2,203.2 1218.3,186.9 1242.4,173.5 1266.5,162.1 1290.6,152.1 1314.6,143.1 1338.7,135.0 1362.8,127.7 1386.9,121.2 1411.0,115.5 1435.1,110.6 1459.2,106.5 1459.2,88.9 1435.1,93.2 1411.0,98.4 1386.9,104.5 1362.8,111.6 1338.7,119.5 1314.6,128.3 1290.6,138.1 1266.5,149.1 1242.4,161.6 1218.3,176.4 1194.2,194.6 1170.1,216.3 1146.0,241.2 1140.0,248.1 1134.9,254.2 1129.7,260.6 1124.6,267.2 1119.4,274.1 1114.3,281.3 1109.1,288.7 1104.0,296.5 1100.0,302.7 1086.6,324.6 1073.2,347.2 1059.8,370.1 1046.3,393.2 1032.9,416.9 1019.5,441.0 1006.1,465.2 992.7,489.3 979.3,513.5 965.9,538.0 952.5,563.4 939.0,589.7 925.6,616.4 912.2,642.2 898.8,665.7" fill="#9b00ff"/>
<polygon points="898.8,638.0 912.2,614.6 925.6,589.2 939.0,563.3 952.5,537.9 965.9,513.7 979.3,490.6 992.7,468.0 1006.1,445.6 1019.5,423.4 1032.9,401.4 1046.3,379.9 1059.8,359.1 1073.2,338.7 1086.6,318.6 1100.0,299.1 1104.0,293.6 1109.1,286.8 1114.3,280.1 1119.4,273.8 1124.6,267.6 1129.7,261.7 1134.9,256.1 1140.0,250.6 1146.0,244.5 1170.1,222.2 1194.2,202.8 1218.3,186.4 1242.4,172.9 1266.5,161.4 1290.6,151.3 1314.6,142.2 1338.7,134.1 1362.8,126.8 1386.9,120.2 1411.0,114.5 1435.1,109.6 1459.2,105.5 1459.2,88.9 1435.1,93.2 1411.0,98.4 1386.9,104.5 1362.8,111.6 1338.7,119.5 1314.6,128.3 1290.6,138.1 1266.5,149.1 1242.4,161.6 1218.3,176.4 1194.2,194.6 1170.1,216.3 1146.0,241.2 1140.0,248.1 1134.9,254.2 1129.7,260.6 1124.6,267.2 1119.4,274.1 1114.3,281.3 1109.1,288.7 1104.0,296.5 1100.0,302.7 1086.6,324.6 1073.2,347.2 1059.8,370.1 1046.3,393.2 1032.9,416.9 1019.5,441.0 1006.1,465.2 992.7,489.3 979.3,513.5 965.9,538.0 952.5,563.4 939.0,589.7 925.6,616.4 912.2,642.2 898.8,665.7" fill="#a100ff"/>
<polygon points="898.8,639.6 912.2,616.2 925.6,590.8 939.0,564.9 952.5,539.4 965.9,515.1 979.3,491.9 992.7,469.2 1006.1,446.8 1019.5,424.5 1032.9,402.3 1046.3,380.7 1059.8,359.8 1073.2,339.2 1086.6,318.9 1100.0,299.3 1104.0,293.8 1109.1,286.9 1114.3,280.2 1119.4,273.8 1124.6,267.6 1129.7,261.7 1134.9,256.0 1140.0,250.5 1146.0,244.3 1170.1,221.9 1194.2,202.3 1218.3,185.8 1242.4,172.2 1266.5,160.7 1290.6,150.5 1314.6,141.4 1338.7,133.2 1362.8,125.9 1386.9,119.3 1411.0,113.6 1435.1,108.6 1459.2,104.6 1459.2,88.9 1435.1,93.2 1411.0,98.4 1386.9,104.5 1362.8,111.6 1338.7,119.5 1314.6,128.3 1290.6,138.1 1266.5,149.1 1242.4,161.6 1218.3,176.4 1194.2,194.6 1170.1,216.3 1146.0,241.2 1140.0,248.1 1134.9,254.2 1129.7,260.6 1124.6,267.2 1119.4,274.1 1114.3,281.3 1109.1,288.7 1104.0,296.5 1100.0,302.7 1086.6,324.6 1073.2,347.2 1059.8,370.1 1046.3,393.2 1032.9,416.9 1019.5,441.0 1006.1,465.2 992.7,489.3 979.3,513.5 965.9,538.0 952.5,563.4 939.0,589.7 925.6,616.4 912.2,642.2 898.8,665.7" fill="#a800ff"/>
<polygon points="898.8,641.2 912.2,617.8 925.6,592.4 939.0,566.4 952.5,540.9 965.9,516.5 979.3,493.3 992.7,470.5 1006.1,447.9 1019.5,425.5 1032.9,403.2 1046.3,381.5 1059.8,360.4 1073.2,339.7 1086.6,319.3 1100.0,299.5 1104.0,294.0 1109.1,287.0 1114.3,280.3 1119.4,273.8 1124.6,267.6 1129.7,261.6 1134.9,255.9 1140.0,250.3 1146.0,244.1 1170.1,221.5 1194.2,201.8 1218.3,185.2 1242.4,171.5 1266.5,160.0 1290.6,149.7 1314.6,140.6 1338.7,132.4 1362.8,125.0 1386.9,118.4 1411.0,112.6 1435.1,107.7 1459.2,103.6 1459.2,88.9 1435.1,93.2 1411.0,98.4 1386.9,104.5 1362.8,111.6 1338.7,119.5 1314.6,128.3 1290.6,138.1 1266.5,149.1 1242.4,161.6 1218.3,176.4 1194.2,194.6 1170.1,216.3 1146.0,241.2 1140.0,248.1 1134.9,254.2 1129.7,260.6 1124.6,267.2 1119.4,274.1 1114.3,281.3 1109.1,288.7 1104.0,296.5 1100.0,302.7 1086.6,324.6 1073.2,347.2 1059.8,370.1 1046.3,393.2 1032.9,416.9 1019.5,441.0 1006.1,465.2 992.7,489.3 979.3,513.5 965.9,538.0 952.5,563.4 939.0,589.7 925.6,616.4 912.2,642.2 898.8,665.7" fill="#ae00ff"/>
<polygon points="898.8,642.9 912.2,619.4 925.6,594.0 939.0,568.0 952.5,542.4 965.9,518.0 979.3,494.6 992.7,471.8 1006.1,449.1 1019.5,426.5 1032.9,404.2 1046.3,382.3 1059.8,361.1 1073.2,340.2 1086.6,319.6 1100.0,299.8 1104.0,294.1 1109.1,287.1 1114.3,280.3 1119.4,273.8 1124.6,267.6 1129.7,261.5 1134.9,255.8 1140.0,250.2 1146.0,243.9 1170.1,221.2 1194.2,201.3 1218.3,184.6 1242.4,170.9 1266.5,159.2 1290.6,149.0 1314.6,139.8 1338.7,131.5 1362.8,124.1 1386.9,117.5 1411.0,111.7 1435.1,106.7 1459.2,102.6 1459.2,88.9 1435.1,93.2 1411.0,98.4 1386.9,104.5 1362.8,111.6 1338.7,119.5 1314.6,128.3 1290.6,138.1 1266.5,149.1 1242.4,161.6 1218.3,176.4 1194.2,194.6 1170.1,216.3 1146.0,241.2 1140.0,248.1 1134.9,254.2 1129.7,260.6 1124.6,267.2 1119.4,274.1 1114.3,281.3 1109.1,288.7 1104.0,296.5 1100.0,302.7 1086.6,324.6 1073.2,347.2 1059.8,370.1 1046.3,393.2 1032.9,416.9 1019.5,441.0 1006.1,465.2 992.7,489.3 979.3,513.5 965.9,538.0 952.5,563.4 939.0,589.7 925.6,616.4 912.2,642.2 898.8,665.7" fill="#b400ff"/>
<polygon points="898.8,644.5 912.2,621.1 925.6,595.6 939.0,569.5 952.5,543.9 965.9,519.4 979.3,496.0 992.7,473.0 1006.1,450.2 1019.5,427.6 1032.9,405.1 1046.3,383.0 1059.8,361.7 1073.2,340.7 1086.6,320.0 1100.0,300.0 1104.0,294.3 1109.1,287.2 1114.3,280.4 1119.4,273.8 1124.6,267.5 1129.7,261.5 1134.9,255.6 1140.0,250.0 1146.0,243.7 1170.1,220.8 1194.2,200.8 1218.3,184.0 1242.4,170.2 1266.5,158.5 1290.6,148.2 1314.6,138.9 1338.7,130.7 1362.8,123.2 1386.9,116.5 1411.0,110.7 1435.1,105.7 1459.2,101.6 1459.2,88.9 1435.1,93.2 1411.0,98.4 1386.9,104.5 1362.8,111.6 1338.7,119.5 1314.6,128.3 1290.6,138.1 1266.5,149.1 1242.4,161.6 1218.3,176.4 1194.2,194.6 1170.1,216.3 1146.0,241.2 1140.0,248.1 1134.9,254.2 1129.7,260.6 1124.6,267.2 1119.4,274.1 1114.3,281.3 1109.1,288.7 1104.0,296.5 1100.0,302.7 1086.6,324.6 1073.2,347.2 1059.8,370.1 1046.3,393.2 1032.9,416.9 1019.5,441.0 1006.1,465.2 992.7,489.3 979.3,513.5 965.9,538.0 952.5,563.4 939.0,589.7 925.6,616.4 912.2,642.2 898.8,665.7" fill="#ba00ff"/>
<polygon points="898.8,646.1 912.2,622.7 925.6,597.2 939.0,571.1 952.5,545.4 965.9,520.8 979.3,497.3 992.7,474.3 1006.1,451.4 1019.5,428.6 1032.9,406.0 1046.3,383.8 1059.8,362.3 1073.2,341.2 1086.6,320.3 1100.0,300.2 1104.0,294.5 1109.1,287.3 1114.3,280.5 1119.4,273.9 1124.6,267.5 1129.7,261.4 1134.9,255.5 1140.0,249.9 1146.0,243.5 1170.1,220.5 1194.2,200.4 1218.3,183.4 1242.4,169.6 1266.5,157.8 1290.6,147.4 1314.6,138.1 1338.7,129.8 1362.8,122.3 1386.9,115.6 1411.0,109.8 1435.1,104.8 1459.2,100.6 1459.2,88.9 1435.1,93.2 1411.0,98.4 1386.9,104.5 1362.8,111.6 1338.7,119.5 1314.6,128.3 1290.6,138.1 1266.5,149.1 1242.4,161.6 1218.3,176.4 1194.2,194.6 1170.1,216.3 1146.0,241.2 1140.0,248.1 1134.9,254.2 1129.7,260.6 1124.6,267.2 1119.4,274.1 1114.3,281.3 1109.1,288.7 1104.0,296.5 1100.0,302.7 1086.6,324.6 1073.2,347.2 1059.8,370.1 1046.3,393.2 1032.9,416.9 1019.5,441.0 1006.1,465.2 992.7,489.3 979.3,513.5 965.9,538.0 952.5,563.4 939.0,589.7 925.6,616.4 912.2,642.2 898.8,665.7" fill="#c000ff"/>
<polygon points="898.8,647.7 912.2,624.3 925.6,598.8 939.0,572.6 952.5,546.9 965.9,522.2 979.3,498.7 992.7,475.5 1006.1,452.5 1019.5,429.6 1032.9,406.9 1046.3,384.6 1059.8,363.0 1073.2,341.7 1086.6,320.7 1100.0,300.4 1104.0,294.6 1109.1,287.5 1114.3,280.5 1119.4,273.9 1124.6,267.5 1129.7,261.3 1134.9,255.4 1140.0,249.7 1146.0,243.4 1170.1,220.1 1194.2,199.9 1218.3,182.9 1242.4,168.9 1266.5,157.1 1290.6,146.6 1314.6,137.3 1338.7,128.9 1362.8,121.4 1386.9,114.7 1411.0,108.8 1435.1,103.8 1459.2,99.7 1459.2,88.9 1435.1,93.2 1411.0,98.4 1386.9,104.5 1362.8,111.6 1338.7,119.5 1314.6,128.3 1290.6,138.1 1266.5,149.1 1242.4,161.6 1218.3,176.4 1194.2,194.6 1170.1,216.3 1146.0,241.2 1140.0,248.1 1134.9,254.2 1129.7,260.6 1124.6,267.2 1119.4,274.1 1114.3,281.3 1109.1,288.7 1104.0,296.5 1100.0,302.7 1086.6,324.6 1073.2,347.2 1059.8,370.1 1046.3,393.2 1032.9,416.9 1019.5,441.0 1006.1,465.2 992.7,489.3 979.3,513.5 965.9,538.0 952.5,563.4 939.0,589.7 925.6,616.4 912.2,642.2 898.8,665.7" fill="#c600ff"/>
<polygon points="898.8,649.4 912.2,625.9 925.6,600.4 939.0,574.2 952.5,548.4 965.9,523.7 979.3,500.0 992.7,476.8 1006.1,453.7 1019.5,430.7 1032.9,407.8 1046.3,385.4 1059.8,363.6 1073.2,342.2 1086.6,321.1 1100.0,300.6 1104.0,294.8 1109.1,287.6 1114.3,280.6 1119.4,273.9 1124.6,267.4 1129.7,261.3 1134.9,255.3 1140.0,249.6 1146.0,243.2 1170.1,219.8 1194.2,199.4 1218.3,182.3 1242.4,168.2 1266.5,156.3 1290.6,145.8 1314.6,136.5 1338.7,128.1 1362.8,120.5 1386.9,113.8 1411.0,107.9 1435.1,102.8 1459.2,98.7 1459.2,88.9 1435.1,93.2 1411.0,98.4 1386.9,104.5 1362.8,111.6 1338.7,119.5 1314.6,128.3 1290.6,138.1 1266.5,149.1 1242.4,161.6 1218.3,176.4 1194.2,194.6 1170.1,216.3 1146.0,241.2 1140.0,248.1 1134.9,254.2 1129.7,260.6 1124.6,267.2 1119.4,274.1 1114.3,281.3 1109.1,288.7 1104.0,296.5 1100.0,302.7 1086.6,324.6 1073.2,347.2 1059.8,370.1 1046.3,393.2 1032.9,416.9 1019.5,441.0 1006.1,465.2 992.7,489.3 979.3,513.5 965.9,538.0 952.5,563.4 939.0,589.7 925.6,616.4 912.2,642.2 898.8,665.7" fill="#cc00ff"/>
<polygon points="898.8,651.0 912.2,627.6 925.6,602.0 939.0,575.7 952.5,549.9 965.9,525.1 979.3,501.4 992.7,478.0 1006.1,454.8 1019.5,431.7 1032.9,408.7 1046.3,386.2 1059.8,364.3 1073.2,342.7 1086.6,321.4 1100.0,300.8 1104.0,295.0 1109.1,287.7 1114.3,280.7 1119.4,273.9 1124.6,267.4 1129.7,261.2 1134.9,255.2 1140.0,249.4 1146.0,243.0 1170.1,219.4 1194.2,198.9 1218.3,181.7 1242.4,167.6 1266.5,155.6 1290.6,145.1 1314.6,135.7 1338.7,127.2 1362.8,119.6 1386.9,112.8 1411.0,106.9 1435.1,101.9 1459.2,97.7 1459.2,88.9 1435.1,93.2 1411.0,98.4 1386.9,104.5 1362.8,111.6 1338.7,119.5 1314.6,128.3 1290.6,138.1 1266.5,149.1 1242.4,161.6 1218.3,176.4 1194.2,194.6 1170.1,216.3 1146.0,241.2 1140.0,248.1 1134.9,254.2 1129.7,260.6 1124.6,267.2 1119.4,274.1 1114.3,281.3 1109.1,288.7 1104.0,296.5 1100.0,302.7 1086.6,324.6 1073.2,347.2 1059.8,370.1 1046.3,393.2 1032.9,416.9 1019.5,441.0 1006.1,465.2 992.7,489.3 979.3,513.5 965.9,538.0 952.5,563.4 939.0,589.7 925.6,616.4 912.2,642.2 898.8,665.7" fill="#d100ff"/>
<polygon points="898.8,652.6 912.2,629.2 925.6,603.6 939.0,577.3 952.5,551.4 965.9,526.5 979.3,502.7 992.7,479.3 1006.1,456.0 1019.5,432.7 1032.9,409.6 1046.3,386.9 1059.8,364.9 1073.2,343.2 1086.6,321.8 1100.0,301.0 1104.0,295.1 1109.1,287.8 1114.3,280.7 1119.4,273.9 1124.6,267.4 1129.7,261.1 1134.9,255.1 1140.0,249.3 1146.0,242.8 1170.1,219.1 1194.2,198.4 1218.3,181.1 1242.4,166.9 1266.5,154.9 1290.6,144.3 1314.6,134.8 1338.7,126.4 1362.8,118.7 1386.9,111.9 1411.0,106.0 1435.1,100.9 1459.2,96.7 1459.2,88.9 1435.1,93.2 1411.0,98.4 1386.9,104.5 1362.8,111.6 1338.7,119.5 1314.6,128.3 1290.6,138.1 1266.5,149.1 1242.4,161.6 1218.3,176.4 1194.2,194.6 1170.1,216.3 1146.0,241.2 1140.0,248.1 1134.9,254.2 1129.7,260.6 1124.6,267.2 1119.4,274.1 1114.3,281.3 1109.1,288.7 1104.0,296.5 1100.0,302.7 1086.6,324.6 1073.2,347.2 1059.8,370.1 1046.3,393.2 1032.9,416.9 1019.5,441.0 1006.1,465.2 992.7,489.3 979.3,513.5 965.9,538.0 952.5,563.4 939.0,589.7 925.6,616.4 912.2,642.2 898.8,665.7" fill="#d700ff"/>
<polygon points="898.8,654.3 912.2,630.8 925.6,605.2 939.0,578.9 952.5,552.9 965.9,528.0 979.3,504.1 992.7,480.5 1006.1,457.1 1019.5,433.8 1032.9,410.5 1046.3,387.7 1059.8,365.6 1073.2,343.7 1086.6,322.1 1100.0,301.2 1104.0,295.3 1109.1,287.9 1114.3,280.8 1119.4,274.0 1124.6,267.4 1129.7,261.0 1134.9,255.0 1140.0,249.1 1146.0,242.6 1170.1,218.7 1194.2,197.9 1218.3,180.5 1242.4,166.2 1266.5,154.2 1290.6,143.5 1314.6,134.0 1338.7,125.5 1362.8,117.8 1386.9,111.0 1411.0,105.0 1435.1,99.9 1459.2,95.8 1459.2,88.9 1435.1,93.2 1411.0,98.4 1386.9,104.5 1362.8,111.6 1338.7,119.5 1314.6,128.3 1290.6,138.1 1266.5,149.1 1242.4,161.6 1218.3,176.4 1194.2,194.6 1170.1,216.3 1146.0,241.2 1140.0,248.1 1134.9,254.2 1129.7,260.6 1124.6,267.2 1119.4,274.1 1114.3,281.3 1109.1,288.7 1104.0,296.5 1100.0,302.7 1086.6,324.6 1073.2,347.2 1059.8,370.1 1046.3,393.2 1032.9,416.9 1019.5,441.0 1006.1,465.2 992.7,489.3 979.3,513.5 965.9,538.0 952.5,563.4 939.0,589.7 925.6,616.4 912.2,642.2 898.8,665.7" fill="#dc00ff"/>
<polygon points="898.8,655.9 912.2,632.4 925.6,606.8 939.0,580.4 952.5,554.4 965.9,529.4 979.3,505.4 992.7,481.8 1006.1,458.3 1019.5,434.8 1032.9,411.4 1046.3,388.5 1059.8,366.2 1073.2,344.2 1086.6,322.5 1100.0,301.4 1104.0,295.5 1109.1,288.0 1114.3,280.9 1119.4,274.0 1124.6,267.3 1129.7,261.0 1134.9,254.9 1140.0,249.0 1146.0,242.4 1170.1,218.4 1194.2,197.5 1218.3,179.9 1242.4,165.6 1266.5,153.4 1290.6,142.7 1314.6,133.2 1338.7,124.6 1362.8,116.9 1386.9,110.1 1411.0,104.1 1435.1,99.0 1459.2,94.8 1459.2,88.9 1435.1,93.2 1411.0,98.4 1386.9,104.5 1362.8,111.6 1338.7,119.5 1314.6,128.3 1290.6,138.1 1266.5,149.1 1242.4,161.6 1218.3,176.4 1194.2,194.6 1170.1,216.3 1146.0,241.2 1140.0,248.1 1134.9,254.2 1129.7,260.6 1124.6,267.2 1119.4,274.1 1114.3,281.3 1109.1,288.7 1104.0,296.5 1100.0,302.7 1086.6,324.6 1073.2,347.2 1059.8,370.1 1046.3,393.2 1032.9,416.9 1019.5,441.0 1006.1,465.2 992.7,489.3 979.3,513.5 965.9,538.0 952.5,563.4 939.0,589.7 925.6,616.4 912.2,642.2 898.8,665.7" fill="#e200ff"/>
<polygon points="898.8,657.5 912.2,634.1 925.6,608.4 939.0,582.0 952.5,555.9 965.9,530.8 979.3,506.8 992.7,483.1 1006.1,459.4 1019.5,435.8 1032.9,412.3 1046.3,389.3 1059.8,366.9 1073.2,344.7 1086.6,322.8 1100.0,301.6 1104.0,295.6 1109.1,288.2 1114.3,280.9 1119.4,274.0 1124.6,267.3 1129.7,260.9 1134.9,254.7 1140.0,248.8 1146.0,242.2 1170.1,218.0 1194.2,197.0 1218.3,179.4 1242.4,164.9 1266.5,152.7 1290.6,142.0 1314.6,132.4 1338.7,123.8 1362.8,116.0 1386.9,109.1 1411.0,103.1 1435.1,98.0 1459.2,93.8 1459.2,88.9 1435.1,93.2 1411.0,98.4 1386.9,104.5 1362.8,111.6 1338.7,119.5 1314.6,128.3 1290.6,138.1 1266.5,149.1 1242.4,161.6 1218.3,176.4 1194.2,194.6 1170.1,216.3 1146.0,241.2 1140.0,248.1 1134.9,254.2 1129.7,260.6 1124.6,267.2 1119.4,274.1 1114.3,281.3 1109.1,288.7 1104.0,296.5 1100.0,302.7 1086.6,324.6 1073.2,347.2 1059.8,370.1 1046.3,393.2 1032.9,416.9 1019.5,441.0 1006.1,465.2 992.7,489.3 979.3,513.5 965.9,538.0 952.5,563.4 939.0,589.7 925.6,616.4 912.2,642.2 898.8,665.7" fill="#e700ff"/>
<polygon points="898.8,659.2 912.2,635.7 925.6,610.0 939.0,583.5 952.5,557.4 965.9,532.3 979.3,508.1 992.7,484.3 1006.1,460.6 1019.5,436.9 1032.9,413.3 1046.3,390.0 1059.8,367.5 1073.2,345.2 1086.6,323.2 1100.0,301.9 1104.0,295.8 1109.1,288.3 1114.3,281.0 1119.4,274.0 1124.6,267.3 1129.7,260.8 1134.9,254.6 1140.0,248.7 1146.0,242.0 1170.1,217.7 1194.2,196.5 1218.3,178.8 1242.4,164.3 1266.5,152.0 1290.6,141.2 1314.6,131.6 1338.7,122.9 1362.8,115.1 1386.9,108.2 1411.0,102.2 1435.1,97.0 1459.2,92.8 1459.2,88.9 1435.1,93.2 1411.0,98.4 1386.9,104.5 1362.8,111.6 1338.7,119.5 1314.6,128.3 1290.6,138.1 1266.5,149.1 1242.4,161.6 1218.3,176.4 1194.2,194.6 1170.1,216.3 1146.0,241.2 1140.0,248.1 1134.9,254.2 1129.7,260.6 1124.6,267.2 1119.4,274.1 1114.3,281.3 1109.1,288.7 1104.0,296.5 1100.0,302.7 1086.6,324.6 1073.2,347.2 1059.8,370.1 1046.3,393.2 1032.9,416.9 1019.5,441.0 1006.1,465.2 992.7,489.3 979.3,513.5 965.9,538.0 952.5,563.4 939.0,589.7 925.6,616.4 912.2,642.2 898.8,665.7" fill="#ed00ff"/>
<polygon points="898.8,660.8 912.2,637.3 925.6,611.6 939.0,585.1 952.5,558.9 965.9,533.7 979.3,509.5 992.7,485.6 1006.1,461.7 1019.5,437.9 1032.9,414.2 1046.3,390.8 1059.8,368.1 1073.2,345.7 1086.6,323.6 1100.0,302.1 1104.0,296.0 1109.1,288.4 1114.3,281.1 1119.4,274.0 1124.6,267.3 1129.7,260.8 1134.9,254.5 1140.0,248.5 1146.0,241.8 1170.1,217.3 1194.2,196.0 1218.3,178.2 1242.4,163.6 1266.5,151.3 1290.6,140.4 1314.6,130.7 1338.7,122.1 1362.8,114.2 1386.9,107.3 1411.0,101.2 1435.1,96.1 1459.2,91.9 1459.2,88.9 1435.1,93.2 1411.0,98.4 1386.9,104.5 1362.8,111.6 1338.7,119.5 1314.6,128.3 1290.6,138.1 1266.5,149.1 1242.4,161.6 1218.3,176.4 1194.2,194.6 1170.1,216.3 1146.0,241.2 1140.0,248.1 1134.9,254.2 1129.7,260.6 1124.6,267.2 1119.4,274.1 1114.3,281.3 1109.1,288.7 1104.0,296.5 1100.0,302.7 1086.6,324.6 1073.2,347.2 1059.8,370.1 1046.3,393.2 1032.9,416.9 1019.5,441.0 1006.1,465.2 992.7,489.3 979.3,513.5 965.9,538.0 952.5,563.4 939.0,589.7 925.6,616.4 912.2,642.2 898.8,665.7" fill="#f200ff"/>
<polygon points="898.8,662.4 912.2,638.9 925.6,613.2 939.0,586.6 952.5,560.4 965.9,535.1 979.3,510.8 992.7,486.8 1006.1,462.9 1019.5,438.9 1032.9,415.1 1046.3,391.6 1059.8,368.8 1073.2,346.2 1086.6,323.9 1100.0,302.3 1104.0,296.1 1109.1,288.5 1114.3,281.1 1119.4,274.0 1124.6,267.2 1129.7,260.7 1134.9,254.4 1140.0,248.4 1146.0,241.6 1170.1,217.0 1194.2,195.5 1218.3,177.6 1242.4,162.9 1266.5,150.5 1290.6,139.6 1314.6,129.9 1338.7,121.2 1362.8,113.4 1386.9,106.4 1411.0,100.3 1435.1,95.1 1459.2,90.9 1459.2,88.9 1435.1,93.2 1411.0,98.4 1386.9,104.5 1362.8,111.6 1338.7,119.5 1314.6,128.3 1290.6,138.1 1266.5,149.1 1242.4,161.6 1218.3,176.4 1194.2,194.6 1170.1,216.3 1146.0,241.2 1140.0,248.1 1134.9,254.2 1129.7,260.6 1124.6,267.2 1119.4,274.1 1114.3,281.3 1109.1,288.7 1104.0,296.5 1100.0,302.7 1086.6,324.6 1073.2,347.2 1059.8,370.1 1046.3,393.2 1032.9,416.9 1019.5,441.0 1006.1,465.2 992.7,489.3 979.3,513.5 965.9,538.0 952.5,563.4 939.0,589.7 925.6,616.4 912.2,642.2 898.8,665.7" fill="#f700ff"/>
<polygon points="898.8,664.1 912.2,640.6 925.6,614.8 939.0,588.2 952.5,561.9 965.9,536.5 979.3,512.2 992.7,488.1 1006.1,464.0 1019.5,440.0 1032.9,416.0 1046.3,392.4 1059.8,369.4 1073.2,346.7 1086.6,324.3 1100.0,302.5 1104.0,296.3 1109.1,288.6 1114.3,281.2 1119.4,274.1 1124.6,267.2 1129.7,260.6 1134.9,254.3 1140.0,248.2 1146.0,241.4 1170.1,216.6 1194.2,195.1 1218.3,177.0 1242.4,162.3 1266.5,149.8 1290.6,138.9 1314.6,129.1 1338.7,120.3 1362.8,112.5 1386.9,105.4 1411.0,99.3 1435.1,94.1 1459.2,89.9 1459.2,88.9 1435.1,93.2 1411.0,98.4 1386.9,104.5 1362.8,111.6 1338.7,119.5 1314.6,128.3 1290.6,138.1 1266.5,149.1 1242.4,161.6 1218.3,176.4 1194.2,194.6 1170.1,216.3 1146.0,241.2 1140.0,248.1 1134.9,254.2 1129.7,260.6 1124.6,267.2 1119.4,274.1 1114.3,281.3 1109.1,288.7 1104.0,296.5 1100.0,302.7 1086.6,324.6 1073.2,347.2 1059.8,370.1 1046.3,393.2 1032.9,416.9 1019.5,441.0 1006.1,465.2 992.7,489.3 979.3,513.5 965.9,538.0 952.5,563.4 939.0,589.7 925.6,616.4 912.2,642.2 898.8,665.7" fill="#fc00ff"/>
<path d="M898.8 665.7 L905.1 655.1 L911.4 643.7 L917.7 631.8 L924.0 619.6 L930.3 607.1 L936.6 594.6 L942.9 582.1 L949.2 569.8 L955.5 557.6 L961.8 545.6 L968.1 533.9 L974.4 522.4 L980.7 511.0 L987.0 499.7 L993.2 488.3 L999.5 477.0 L1005.8 465.6 L1012.1 454.3 L1018.4 443.0 L1024.7 431.6 L1031.0 420.3 L1037.3 409.0 L1043.6 397.9 L1049.9 387.0 L1056.2 376.1 L1062.5 365.4 L1068.8 354.7 L1075.1 344.0 L1081.4 333.3 L1087.7 322.8 L1094.0 312.3 L1100.3 302.2 L1106.6 292.5 L1112.9 283.3 L1119.2 274.4 L1125.5 266.0 L1131.8 258.0 L1138.1 250.3 L1144.4 243.0 L1150.7 236.1 L1157.0 229.4 L1163.3 223.0 L1169.6 216.8 L1175.9 210.8 L1182.1 205.0 L1188.4 199.5 L1194.7 194.1 L1201.0 189.0 L1207.3 184.2 L1213.6 179.6 L1219.9 175.3 L1226.2 171.2 L1232.5 167.3 L1238.8 163.6 L1245.1 160.1 L1251.4 156.7 L1257.7 153.4 L1264.0 150.3 L1270.3 147.2 L1276.6 144.3 L1282.9 141.4 L1289.2 138.7 L1295.5 136.0 L1301.8 133.4 L1308.1 130.8 L1314.4 128.4 L1320.7 126.0 L1327.0 123.7 L1333.3 121.4 L1339.6 119.2 L1345.9 117.1 L1352.2 115.0 L1358.5 112.9 L1364.8 111.0 L1371.0 109.1 L1377.3 107.2 L1383.6 105.4 L1389.9 103.7 L1396.2 102.0 L1402.5 100.4 L1408.8 98.9 L1415.1 97.4 L1421.4 96.0 L1427.7 94.7 L1434.0 93.4 L1440.3 92.2 L1446.6 91.0 L1452.9 89.9 L1459.2 88.9" fill="none" stroke="#000" stroke-width="3.1" stroke-linejoin="round"/>
<path d="M898.8 604.5 L905.1 593.9 L911.4 582.7 L917.7 571.3 L924.0 559.6 L930.3 547.8 L936.6 536.0 L942.9 524.4 L949.2 513.0 L955.5 501.9 L961.8 491.2 L968.1 480.8 L974.4 470.7 L980.7 460.8 L987.0 451.0 L993.2 441.4 L999.5 431.9 L1005.8 422.5 L1012.1 413.1 L1018.4 403.8 L1024.7 394.6 L1031.0 385.5 L1037.3 376.5 L1043.6 367.7 L1049.9 359.1 L1056.2 350.6 L1062.5 342.3 L1068.8 334.0 L1075.1 325.9 L1081.4 317.8 L1087.7 309.8 L1094.0 302.0 L1100.3 294.5 L1106.6 287.2 L1112.9 280.3 L1119.2 273.6 L1125.5 267.3 L1131.8 261.2 L1138.1 255.5 L1144.4 249.9 L1150.7 244.6 L1157.0 239.5 L1163.3 234.6 L1169.6 229.8 L1175.9 225.2 L1182.1 220.7 L1188.4 216.4 L1194.7 212.3 L1201.0 208.3 L1207.3 204.5 L1213.6 200.9 L1219.9 197.4 L1226.2 194.2 L1232.5 191.1 L1238.8 188.1 L1245.1 185.2 L1251.4 182.5 L1257.7 179.8 L1264.0 177.2 L1270.3 174.7 L1276.6 172.3 L1282.9 170.0 L1289.2 167.7 L1295.5 165.5 L1301.8 163.3 L1308.1 161.2 L1314.4 159.1 L1320.7 157.2 L1327.0 155.2 L1333.3 153.3 L1339.6 151.5 L1345.9 149.7 L1352.2 148.0 L1358.5 146.3 L1364.8 144.6 L1371.0 143.0 L1377.3 141.5 L1383.6 140.0 L1389.9 138.5 L1396.2 137.1 L1402.5 135.7 L1408.8 134.4 L1415.1 133.2 L1421.4 131.9 L1427.7 130.8 L1434.0 129.6 L1440.3 128.6 L1446.6 127.5 L1452.9 126.5 L1459.2 125.6" fill="none" stroke="#000" stroke-width="3.1" stroke-linejoin="round"/>
<path d="M898.8 543.3 L905.1 532.7 L911.4 521.8 L917.7 510.7 L924.0 499.6 L930.3 488.5 L936.6 477.5 L942.9 466.7 L949.2 456.3 L955.5 446.3 L961.8 436.8 L968.1 427.7 L974.4 418.9 L980.7 410.5 L987.0 402.4 L993.2 394.5 L999.5 386.8 L1005.8 379.3 L1012.1 371.9 L1018.4 364.7 L1024.7 357.6 L1031.0 350.7 L1037.3 344.0 L1043.6 337.5 L1049.9 331.2 L1056.2 325.1 L1062.5 319.1 L1068.8 313.4 L1075.1 307.8 L1081.4 302.3 L1087.7 296.9 L1094.0 291.7 L1100.3 286.7 L1106.6 281.9 L1112.9 277.3 L1119.2 272.8 L1125.5 268.6 L1131.8 264.5 L1138.1 260.6 L1144.4 256.8 L1150.7 253.2 L1157.0 249.6 L1163.3 246.2 L1169.6 242.9 L1175.9 239.6 L1182.1 236.5 L1188.4 233.4 L1194.7 230.4 L1201.0 227.5 L1207.3 224.7 L1213.6 222.1 L1219.9 219.6 L1226.2 217.1 L1232.5 214.8 L1238.8 212.5 L1245.1 210.3 L1251.4 208.2 L1257.7 206.2 L1264.0 204.2 L1270.3 202.2 L1276.6 200.4 L1282.9 198.5 L1289.2 196.7 L1295.5 194.9 L1301.8 193.2 L1308.1 191.6 L1314.4 189.9 L1320.7 188.3 L1327.0 186.8 L1333.3 185.3 L1339.6 183.8 L1345.9 182.3 L1352.2 180.9 L1358.5 179.6 L1364.8 178.2 L1371.0 177.0 L1377.3 175.7 L1383.6 174.5 L1389.9 173.3 L1396.2 172.2 L1402.5 171.0 L1408.8 170.0 L1415.1 168.9 L1421.4 167.9 L1427.7 166.9 L1434.0 165.9 L1440.3 164.9 L1446.6 164.0 L1452.9 163.1 L1459.2 162.2" fill="none" stroke="#000" stroke-width="3.1" stroke-linejoin="round"/>
<path d="M898.8 482.1 L905.1 471.5 L911.4 460.8 L917.7 450.1 L924.0 439.6 L930.3 429.1 L936.6 418.9 L942.9 409.0 L949.2 399.6 L955.5 390.7 L961.8 382.3 L968.1 374.5 L974.4 367.2 L980.7 360.3 L987.0 353.7 L993.2 347.6 L999.5 341.7 L1005.8 336.1 L1012.1 330.7 L1018.4 325.5 L1024.7 320.6 L1031.0 315.9 L1037.3 311.5 L1043.6 307.3 L1049.9 303.3 L1056.2 299.5 L1062.5 296.0 L1068.8 292.7 L1075.1 289.7 L1081.4 286.8 L1087.7 284.0 L1094.0 281.4 L1100.3 279.0 L1106.6 276.6 L1112.9 274.3 L1119.2 272.1 L1125.5 269.9 L1131.8 267.8 L1138.1 265.7 L1144.4 263.7 L1150.7 261.7 L1157.0 259.8 L1163.3 257.8 L1169.6 255.9 L1175.9 254.0 L1182.1 252.2 L1188.4 250.3 L1194.7 248.5 L1201.0 246.7 L1207.3 245.0 L1213.6 243.3 L1219.9 241.7 L1226.2 240.1 L1232.5 238.5 L1238.8 237.0 L1245.1 235.5 L1251.4 234.0 L1257.7 232.5 L1264.0 231.1 L1270.3 229.7 L1276.6 228.4 L1282.9 227.0 L1289.2 225.7 L1295.5 224.4 L1301.8 223.2 L1308.1 221.9 L1314.4 220.7 L1320.7 219.5 L1327.0 218.3 L1333.3 217.2 L1339.6 216.1 L1345.9 215.0 L1352.2 213.9 L1358.5 212.9 L1364.8 211.9 L1371.0 210.9 L1377.3 209.9 L1383.6 209.0 L1389.9 208.1 L1396.2 207.2 L1402.5 206.3 L1408.8 205.5 L1415.1 204.6 L1421.4 203.8 L1427.7 203.0 L1434.0 202.1 L1440.3 201.3 L1446.6 200.5 L1452.9 199.7 L1459.2 198.9" fill="none" stroke="#000" stroke-width="3.1" stroke-linejoin="round"/>
<path d="M898.8 420.9 L905.1 410.3 L911.4 399.8 L917.7 389.6 L924.0 379.5 L930.3 369.8 L936.6 360.4 L942.9 351.3 L949.2 342.8 L955.5 335.0 L961.8 327.9 L968.1 321.4 L974.4 315.4 L980.7 310.0 L987.0 305.1 L993.2 300.6 L999.5 296.6 L1005.8 292.9 L1012.1 289.5 L1018.4 286.4 L1024.7 283.6 L1031.0 281.1 L1037.3 279.0 L1043.6 277.0 L1049.9 275.4 L1056.2 274.0 L1062.5 272.9 L1068.8 272.1 L1075.1 271.6 L1081.4 271.2 L1087.7 271.1 L1094.0 271.1 L1100.3 271.2 L1106.6 271.3 L1112.9 271.3 L1119.2 271.3 L1125.5 271.2 L1131.8 271.0 L1138.1 270.8 L1144.4 270.6 L1150.7 270.3 L1157.0 269.9 L1163.3 269.5 L1169.6 269.0 L1175.9 268.5 L1182.1 267.9 L1188.4 267.3 L1194.7 266.7 L1201.0 266.0 L1207.3 265.3 L1213.6 264.5 L1219.9 263.8 L1226.2 263.0 L1232.5 262.2 L1238.8 261.4 L1245.1 260.6 L1251.4 259.8 L1257.7 258.9 L1264.0 258.1 L1270.3 257.2 L1276.6 256.4 L1282.9 255.6 L1289.2 254.7 L1295.5 253.9 L1301.8 253.1 L1308.1 252.3 L1314.4 251.5 L1320.7 250.7 L1327.0 249.9 L1333.3 249.1 L1339.6 248.4 L1345.9 247.6 L1352.2 246.9 L1358.5 246.2 L1364.8 245.5 L1371.0 244.8 L1377.3 244.2 L1383.6 243.5 L1389.9 242.9 L1396.2 242.3 L1402.5 241.6 L1408.8 241.0 L1415.1 240.4 L1421.4 239.7 L1427.7 239.1 L1434.0 238.4 L1440.3 237.7 L1446.6 237.0 L1452.9 236.3 L1459.2 235.5" fill="none" stroke="#000" stroke-width="3.1" stroke-linejoin="round"/>
<path d="M898.8 388.0 L905.1 372.9 L911.4 358.7 L917.7 345.2 L924.0 332.5 L930.3 320.6 L936.6 309.3 L942.9 298.7 L949.2 288.8 L955.5 279.5 L961.8 270.8 L968.1 262.7 L974.4 255.2 L980.7 248.2 L987.0 241.8 L993.2 235.8 L999.5 230.3 L1005.8 225.2 L1012.1 220.5 L1018.4 216.3 L1024.7 212.4 L1031.0 208.8 L1037.3 205.6 L1043.6 202.7 L1049.9 200.0 L1056.2 197.6 L1062.5 195.4 L1068.8 193.4 L1075.1 191.6 L1081.4 190.0 L1087.7 188.5 L1094.0 187.0 L1100.3 185.7 L1106.6 184.6 L1112.9 183.5 L1119.2 182.5 L1125.5 181.6 L1131.8 180.8 L1138.1 180.0 L1144.4 179.4 L1150.7 178.7 L1157.0 178.2 L1163.3 177.7 L1169.6 177.2 L1175.9 176.8 L1182.1 176.4 L1188.4 176.1 L1194.7 175.8 L1201.0 175.4 L1207.3 175.1 L1213.6 174.8 L1219.9 174.5 L1226.2 174.2 L1232.5 173.8 L1238.8 173.5 L1245.1 173.1 L1251.4 172.6 L1257.7 172.2 L1264.0 171.7 L1270.3 171.2 L1276.6 170.7 L1282.9 170.2 L1289.2 169.6 L1295.5 169.1 L1301.8 168.5 L1308.1 167.9 L1314.4 167.3 L1320.7 166.8 L1327.0 166.2 L1333.3 165.6 L1339.6 165.0 L1345.9 164.5 L1352.2 163.9 L1358.5 163.4 L1364.8 162.9 L1371.0 162.4 L1377.3 161.9 L1383.6 161.4 L1389.9 161.0 L1396.2 160.6 L1402.5 160.2 L1408.8 159.9 L1415.1 159.6 L1421.4 159.3 L1427.7 159.1 L1434.0 158.9 L1440.3 158.8 L1446.6 158.7 L1452.9 158.6 L1459.2 158.6" fill="none" stroke="#000" stroke-width="2" stroke-dasharray="7 7.2"/>
<path d="M898.8 551.6 L905.1 541.0 L911.4 529.9 L917.7 518.4 L924.0 506.8 L930.3 495.4 L936.6 484.3 L942.9 473.7 L949.2 464.0 L955.5 454.9 L961.8 446.3 L968.1 438.1 L974.4 430.1 L980.7 422.2 L987.0 414.6 L993.2 407.1 L999.5 399.8 L1005.8 392.6 L1012.1 385.6 L1018.4 378.8 L1024.7 372.1 L1031.0 365.6 L1037.3 359.2 L1043.6 353.0 L1049.9 347.0 L1056.2 341.1 L1062.5 335.4 L1068.8 329.8 L1075.1 324.3 L1081.4 319.0 L1087.7 313.9 L1094.0 308.8 L1100.3 304.0 L1106.6 299.2 L1112.9 294.6 L1119.2 290.1 L1125.5 285.8 L1131.8 281.6 L1138.1 277.5 L1144.4 273.5 L1150.7 269.7 L1157.0 265.9 L1163.3 262.3 L1169.6 258.8 L1175.9 255.5 L1182.1 252.2 L1188.4 249.0 L1194.7 246.0 L1201.0 243.0 L1207.3 240.2 L1213.6 237.4 L1219.9 234.7 L1226.2 232.2 L1232.5 229.7 L1238.8 227.3 L1245.1 224.9 L1251.4 222.7 L1257.7 220.5 L1264.0 218.4 L1270.3 216.4 L1276.6 214.4 L1282.9 212.5 L1289.2 210.7 L1295.5 208.9 L1301.8 207.2 L1308.1 205.5 L1314.4 203.9 L1320.7 202.3 L1327.0 200.8 L1333.3 199.3 L1339.6 197.8 L1345.9 196.4 L1352.2 195.0 L1358.5 193.7 L1364.8 192.3 L1371.0 191.0 L1377.3 189.7 L1383.6 188.4 L1389.9 187.2 L1396.2 185.9 L1402.5 184.7 L1408.8 183.4 L1415.1 182.2 L1421.4 181.0 L1427.7 179.7 L1434.0 178.5 L1440.3 177.2 L1446.6 176.0 L1452.9 174.7 L1459.2 173.4" fill="none" stroke="#000" stroke-width="2" stroke-dasharray="7 7.2"/>
<path d="M898.8 750.5 L905.1 737.6 L911.4 724.6 L917.7 711.5 L924.0 698.2 L930.3 685.0 L936.6 671.7 L942.9 658.5 L949.2 645.3 L955.5 632.2 L961.8 619.2 L968.1 606.4 L974.4 593.8 L980.7 581.3 L987.0 569.0 L993.2 556.9 L999.5 544.7 L1005.8 532.0 L1012.1 518.7 L1018.4 504.9 L1024.7 491.0 L1031.0 477.0 L1037.3 463.3 L1043.6 449.6 L1049.9 436.1 L1056.2 422.5 L1062.5 409.0 L1068.8 395.5 L1075.1 382.2 L1081.4 368.9 L1087.7 355.8 L1094.0 342.9 L1100.3 330.3 L1106.6 317.9 L1112.9 305.9 L1119.2 294.4 L1125.5 283.3 L1131.8 272.8 L1138.1 262.8 L1144.4 253.3 L1150.7 244.2 L1157.0 235.6 L1163.3 227.4 L1169.6 219.7 L1175.9 212.3 L1182.1 205.3 L1188.4 198.6 L1194.7 192.3 L1201.0 186.2 L1207.3 180.5 L1213.6 175.0 L1219.9 169.7 L1226.2 164.7 L1232.5 159.9 L1238.8 155.3 L1245.1 150.9 L1251.4 146.6 L1257.7 142.6 L1264.0 138.6 L1270.3 134.8 L1276.6 131.2 L1282.9 127.6 L1289.2 124.2 L1295.5 120.8 L1301.8 117.5 L1308.1 114.3 L1314.4 111.2 L1320.7 108.1 L1327.0 105.2 L1333.3 102.2 L1339.6 99.4 L1345.9 96.6 L1352.2 94.0 L1358.5 91.3 L1364.8 88.8 L1371.0 86.3 L1377.3 83.9 L1383.6 81.5 L1389.9 79.3 L1396.2 77.1 L1402.5 74.9 L1408.8 72.9 L1415.1 70.8 L1421.4 68.9 L1427.7 67.0 L1434.0 65.2 L1440.3 63.5 L1446.6 61.8 L1452.9 60.2 L1459.2 58.6" fill="none" stroke="#000" stroke-width="2" stroke-dasharray="7 7.2"/>
<rect x="895.0" y="44.0" width="569.0" height="722.0" fill="none" stroke="#333333" stroke-width="2"/>
<line x1="899.6" y1="766" x2="899.6" y2="772.5" stroke="#333333" stroke-width="2.2"/>
<text x="0" y="0" font-size="42.5" fill="#4d4d4d" text-anchor="middle" transform="translate(899.60 808.20) scale(1 1.040)">0</text>
<line x1="1069.0" y1="766" x2="1069.0" y2="772.5" stroke="#333333" stroke-width="2.2"/>
<text x="0" y="0" font-size="42.5" fill="#4d4d4d" text-anchor="middle" transform="translate(1069.04 808.20) scale(1 1.040)">20</text>
<line x1="1238.5" y1="766" x2="1238.5" y2="772.5" stroke="#333333" stroke-width="2.2"/>
<text x="0" y="0" font-size="42.5" fill="#4d4d4d" text-anchor="middle" transform="translate(1238.48 808.20) scale(1 1.040)">40</text>
<line x1="1407.9" y1="766" x2="1407.9" y2="772.5" stroke="#333333" stroke-width="2.2"/>
<text x="0" y="0" font-size="42.5" fill="#4d4d4d" text-anchor="middle" transform="translate(1407.92 808.20) scale(1 1.040)">60</text>
<line x1="888.5" y1="703.4" x2="895" y2="703.4" stroke="#333333" stroke-width="2.2"/>
<text x="0" y="0" font-size="42.5" fill="#4d4d4d" text-anchor="end" transform="translate(883.90 718.70) scale(1 1.040)">−1</text>
<line x1="888.5" y1="562.7" x2="895" y2="562.7" stroke="#333333" stroke-width="2.2"/>
<text x="0" y="0" font-size="42.5" fill="#4d4d4d" text-anchor="end" transform="translate(883.90 578.00) scale(1 1.040)">0</text>
<line x1="888.5" y1="422.0" x2="895" y2="422.0" stroke="#333333" stroke-width="2.2"/>
<text x="0" y="0" font-size="42.5" fill="#4d4d4d" text-anchor="end" transform="translate(883.90 437.30) scale(1 1.040)">1</text>
<line x1="888.5" y1="281.3" x2="895" y2="281.3" stroke="#333333" stroke-width="2.2"/>
<text x="0" y="0" font-size="42.5" fill="#4d4d4d" text-anchor="end" transform="translate(883.90 296.60) scale(1 1.040)">2</text>
<line x1="888.5" y1="140.6" x2="895" y2="140.6" stroke="#333333" stroke-width="2.2"/>
<text x="0" y="0" font-size="42.5" fill="#4d4d4d" text-anchor="end" transform="translate(883.90 155.90) scale(1 1.040)">3</text>
<text x="0" y="0" font-size="23" fill="#fff" font-style="italic" transform="translate(496.3 118.6) rotate(-7.0)">Switzerland</text>
<text x="0" y="0" font-size="23" fill="#000" font-style="italic" transform="translate(181.3 483.1) rotate(-50.0)">Poland</text>
<text x="0" y="0" font-size="23" fill="#000" font-style="italic" transform="translate(157.9 709.8) rotate(-45.0)">India</text>
<text x="0" y="0" font-size="22.5" fill="#000" transform="translate(409.6 95.6) rotate(-6.7)"><tspan>μ</tspan><tspan dx="4.5">+</tspan><tspan dx="4.5">​</tspan><tspan>2</tspan><tspan>σ</tspan><tspan font-size="16.4" dy="3.8">1</tspan><tspan dy="-3.8">​</tspan><tspan>ϕ</tspan><tspan font-size="16.4" dy="3.8">1</tspan><tspan dy="-3.8">​</tspan></text>
<text x="0" y="0" font-size="22.5" fill="#000" transform="translate(398.8 195.3) rotate(-10.6)"><tspan>μ</tspan><tspan dx="4.5">+</tspan><tspan dx="4.5">​</tspan><tspan>σ</tspan><tspan font-size="16.4" dy="3.8">1</tspan><tspan dy="-3.8">​</tspan><tspan>ϕ</tspan><tspan font-size="16.4" dy="3.8">1</tspan><tspan dy="-3.8">​</tspan></text>
<text x="0" y="0" font-size="22.5" fill="#000" transform="translate(414.0 250.4) rotate(-10.0)"><tspan>μ</tspan></text>
<text x="0" y="0" font-size="22.5" fill="#000" transform="translate(379.8 364.0) rotate(-30.0)"><tspan>μ</tspan><tspan dx="4.5">−</tspan><tspan dx="4.5">​</tspan><tspan>σ</tspan><tspan font-size="16.4" dy="3.8">1</tspan><tspan dy="-3.8">​</tspan><tspan>ϕ</tspan><tspan font-size="16.4" dy="3.8">1</tspan><tspan dy="-3.8">​</tspan></text>
<text x="0" y="0" font-size="22.5" fill="#000" transform="translate(367.0 469.0) rotate(-34.0)"><tspan>μ</tspan><tspan dx="4.5">−</tspan><tspan dx="4.5">​</tspan><tspan>2</tspan><tspan>σ</tspan><tspan font-size="16.4" dy="3.8">1</tspan><tspan dy="-3.8">​</tspan><tspan>ϕ</tspan><tspan font-size="16.4" dy="3.8">1</tspan><tspan dy="-3.8">​</tspan></text>
<text x="0" y="0" font-size="23" fill="#000" font-style="italic" transform="translate(993.8 219.3) rotate(-29.6)">Slovenia</text>
<text x="0" y="0" font-size="23" fill="#000" font-style="italic" transform="translate(924.9 551.5) rotate(-64.7)">Poland</text>
<text x="0" y="0" font-size="23.5" fill="#000" font-style="italic" transform="translate(926.7 711.8) rotate(0.0)">US</text>
<text x="0" y="0" font-size="22.5" fill="#000" transform="translate(1365.5 106.0) rotate(-17.0)"><tspan>μ</tspan><tspan dx="4.5">+</tspan><tspan dx="4.5">​</tspan><tspan>2</tspan><tspan>σ</tspan><tspan font-size="16.4" dy="3.8">2</tspan><tspan dy="-3.8">​</tspan><tspan>ϕ</tspan><tspan font-size="16.4" dy="3.8">2</tspan><tspan dy="-3.8">​</tspan></text>
<text x="0" y="0" font-size="22.5" fill="#fff" transform="translate(1374.5 137.0) rotate(-14.0)"><tspan>μ</tspan><tspan dx="4.5">+</tspan><tspan dx="4.5">​</tspan><tspan>σ</tspan><tspan font-size="16.4" dy="3.8">2</tspan><tspan dy="-3.8">​</tspan><tspan>ϕ</tspan><tspan font-size="16.4" dy="3.8">2</tspan><tspan dy="-3.8">​</tspan></text>
<text x="0" y="0" font-size="22.5" fill="#000" transform="translate(1299.0 190.5) rotate(-12.0)"><tspan>μ</tspan></text>
<text x="0" y="0" font-size="22.5" fill="#000" transform="translate(1370.2 228.0) rotate(-7.0)"><tspan>μ</tspan><tspan dx="4.5">−</tspan><tspan dx="4.5">​</tspan><tspan>σ</tspan><tspan font-size="16.4" dy="3.8">2</tspan><tspan dy="-3.8">​</tspan><tspan>ϕ</tspan><tspan font-size="16.4" dy="3.8">2</tspan><tspan dy="-3.8">​</tspan></text>
<text x="0" y="0" font-size="22.5" fill="#000" transform="translate(1364.3 263.0) rotate(-4.5)"><tspan>μ</tspan><tspan dx="4.5">−</tspan><tspan dx="4.5">​</tspan><tspan>2</tspan><tspan>σ</tspan><tspan font-size="16.4" dy="3.8">2</tspan><tspan dy="-3.8">​</tspan><tspan>ϕ</tspan><tspan font-size="16.4" dy="3.8">2</tspan><tspan dy="-3.8">​</tspan></text>
<text x="-2.6" y="39.0" font-size="51" font-weight="bold" fill="#000">(a)</text>
<text x="760.3" y="39.0" font-size="51" font-weight="bold" fill="#000">(b)</text>
<text x="0" y="0" font-size="42.4" fill="#000" transform="translate(196.10 853.30) scale(1 1.040)">Days since 20+ cases</text>
<text x="0" y="0" font-size="42.4" fill="#000" transform="translate(972.20 853.30) scale(1 1.040)">Days since 20+ cases</text>
<text x="0" y="0" font-size="42.4" fill="#000" transform="translate(54.70 614.40) rotate(-90.00) scale(1 1.040)">First mode of variation</text>
<text x="0" y="0" font-size="42.4" fill="#000" transform="translate(820.20 645.20) rotate(-90.00) scale(1 1.040)">Second mode of variation</text>
<defs><linearGradient id="cb" x1="0" y1="0" x2="1" y2="0"><stop offset="0.000" stop-color="#ff0000"/><stop offset="0.013" stop-color="#ff3200"/><stop offset="0.025" stop-color="#ff4900"/><stop offset="0.038" stop-color="#ff5c00"/><stop offset="0.050" stop-color="#ff6c00"/><stop offset="0.062" stop-color="#ff7a00"/><stop offset="0.075" stop-color="#ff8800"/><stop offset="0.088" stop-color="#ff9500"/><stop offset="0.100" stop-color="#ffa100"/><stop offset="0.113" stop-color="#ffae00"/><stop offset="0.125" stop-color="#ffba00"/><stop offset="0.138" stop-color="#ffc600"/><stop offset="0.150" stop-color="#ffd100"/><stop offset="0.163" stop-color="#ffdd00"/><stop offset="0.175" stop-color="#ffe800"/><stop offset="0.188" stop-color="#fff400"/><stop offset="0.200" stop-color="#ffff00"/><stop offset="0.213" stop-color="#f6ff00"/><stop offset="0.225" stop-color="#ecff00"/><stop offset="0.238" stop-color="#e2ff00"/><stop offset="0.250" stop-color="#d9ff00"/><stop offset="0.263" stop-color="#ceff00"/><stop offset="0.275" stop-color="#c4ff00"/><stop offset="0.288" stop-color="#b9ff00"/><stop offset="0.300" stop-color="#aeff00"/><stop offset="0.312" stop-color="#a2ff00"/><stop offset="0.325" stop-color="#96ff00"/><stop offset="0.338" stop-color="#88ff00"/><stop offset="0.350" stop-color="#7aff00"/><stop offset="0.363" stop-color="#69ff00"/><stop offset="0.375" stop-color="#56ff00"/><stop offset="0.388" stop-color="#3cff00"/><stop offset="0.400" stop-color="#00ff00"/><stop offset="0.413" stop-color="#1dff2e"/><stop offset="0.425" stop-color="#2bff44"/><stop offset="0.438" stop-color="#33ff55"/><stop offset="0.450" stop-color="#3aff65"/><stop offset="0.463" stop-color="#3fff74"/><stop offset="0.475" stop-color="#42ff81"/><stop offset="0.488" stop-color="#45ff8f"/><stop offset="0.500" stop-color="#46ff9c"/><stop offset="0.513" stop-color="#46ffa8"/><stop offset="0.525" stop-color="#45ffb5"/><stop offset="0.537" stop-color="#42ffc1"/><stop offset="0.550" stop-color="#3effce"/><stop offset="0.562" stop-color="#39ffda"/><stop offset="0.575" stop-color="#30ffe6"/><stop offset="0.588" stop-color="#22fff3"/><stop offset="0.600" stop-color="#00ffff"/><stop offset="0.613" stop-color="#2df1ff"/><stop offset="0.625" stop-color="#3ee4ff"/><stop offset="0.638" stop-color="#48d6ff"/><stop offset="0.650" stop-color="#4fc8ff"/><stop offset="0.663" stop-color="#54bbff"/><stop offset="0.675" stop-color="#57adff"/><stop offset="0.688" stop-color="#58a0ff"/><stop offset="0.700" stop-color="#5792ff"/><stop offset="0.713" stop-color="#5685ff"/><stop offset="0.725" stop-color="#5377ff"/><stop offset="0.738" stop-color="#4e69ff"/><stop offset="0.750" stop-color="#485aff"/><stop offset="0.763" stop-color="#404bff"/><stop offset="0.775" stop-color="#353aff"/><stop offset="0.788" stop-color="#2525ff"/><stop offset="0.800" stop-color="#0000ff"/><stop offset="0.812" stop-color="#3a00ff"/><stop offset="0.825" stop-color="#5300ff"/><stop offset="0.838" stop-color="#6600ff"/><stop offset="0.850" stop-color="#7600ff"/><stop offset="0.863" stop-color="#8500ff"/><stop offset="0.875" stop-color="#9200ff"/><stop offset="0.888" stop-color="#9f00ff"/><stop offset="0.900" stop-color="#ab00ff"/><stop offset="0.913" stop-color="#b600ff"/><stop offset="0.925" stop-color="#c200ff"/><stop offset="0.938" stop-color="#cc00ff"/><stop offset="0.950" stop-color="#d700ff"/><stop offset="0.963" stop-color="#e100ff"/><stop offset="0.975" stop-color="#eb00ff"/><stop offset="0.988" stop-color="#f500ff"/><stop offset="1.000" stop-color="#ff00ff"/></linearGradient></defs>
<rect x="558.8" y="905.9" width="550.7" height="61.8" fill="url(#cb)"/>
<text x="0" y="0" font-size="42.6" fill="#000" transform="translate(317.30 978.50) scale(1 1.040)">FPC scores</text>
<text x="0" y="0" font-size="34" fill="#000" text-anchor="middle" transform="translate(597.70 1013.00) scale(1 1.040)">Negative</text>
<text x="0" y="0" font-size="34" fill="#000" text-anchor="middle" transform="translate(834.00 1013.00) scale(1 1.040)">0</text>
<text x="0" y="0" font-size="34" fill="#000" text-anchor="middle" transform="translate(1072.00 1013.00) scale(1 1.040)">Positive</text>
</svg></body></html>
